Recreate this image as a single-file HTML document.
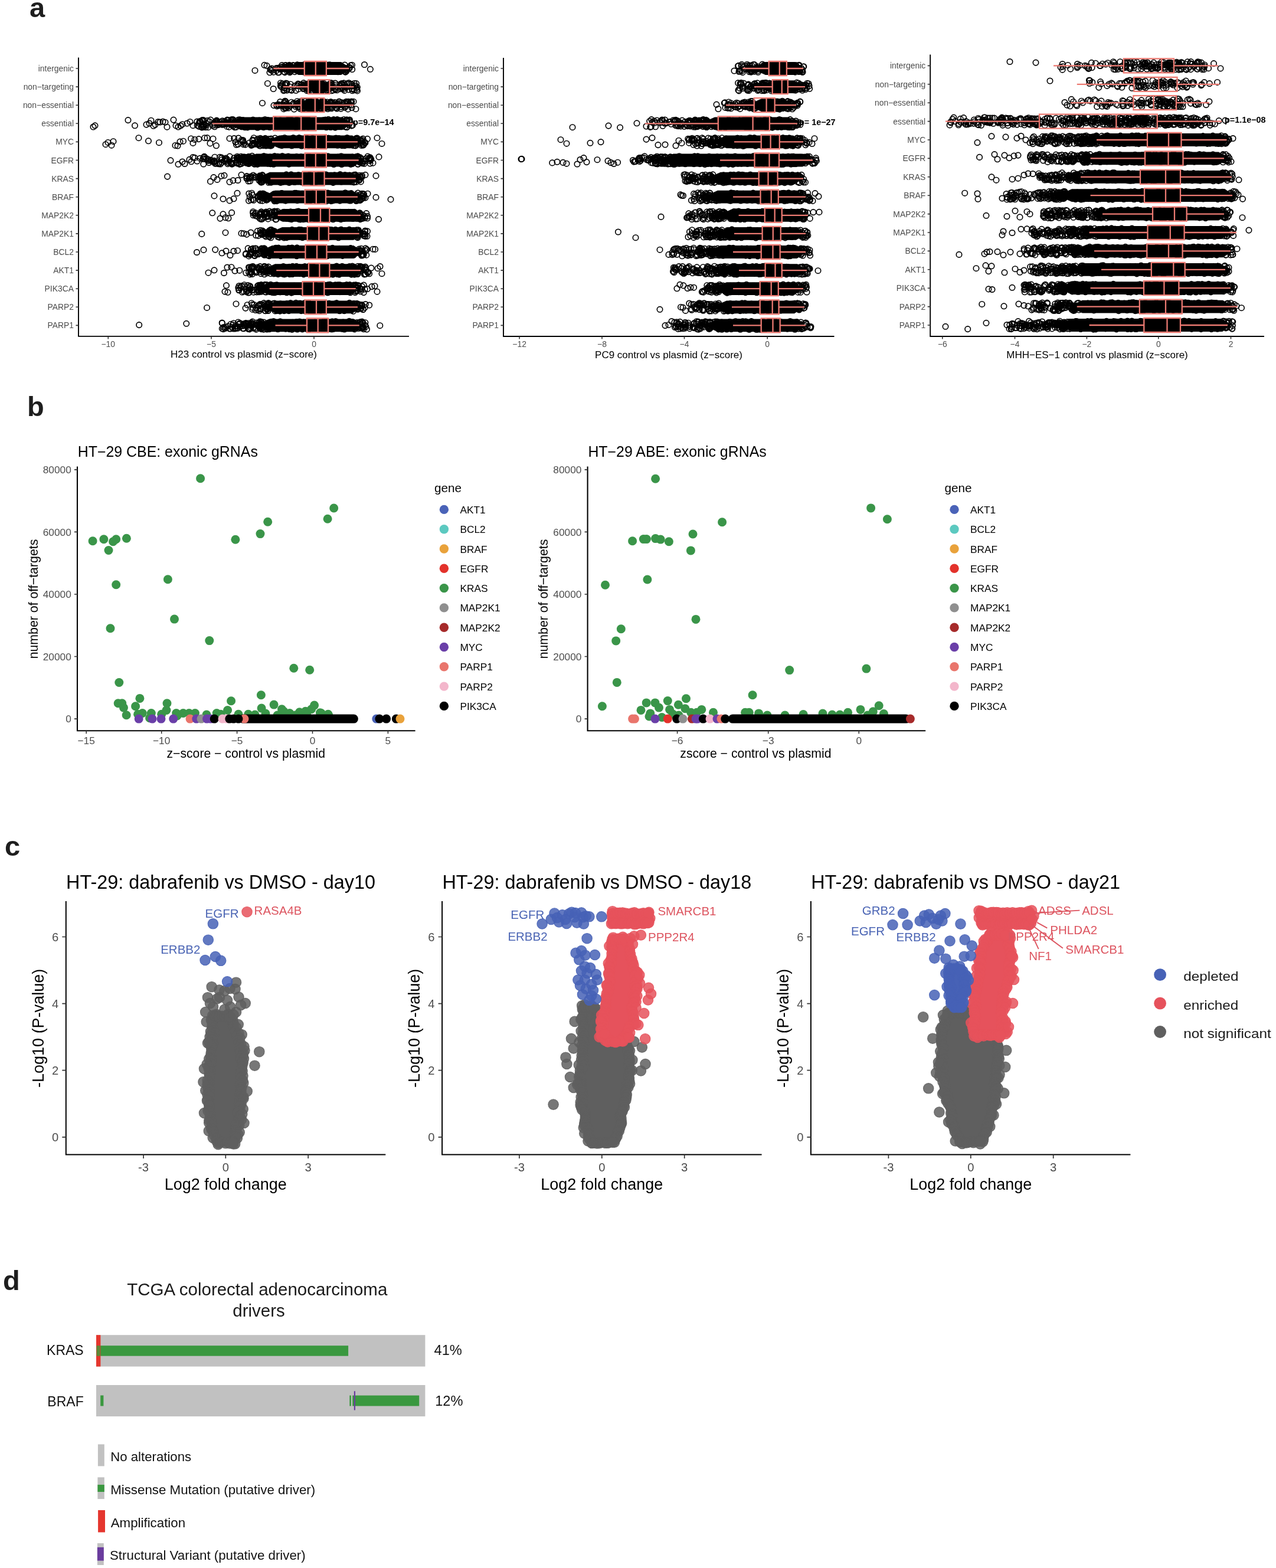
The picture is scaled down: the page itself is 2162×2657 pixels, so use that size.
<!DOCTYPE html>
<html><head><meta charset="utf-8"><title>Figure</title>
<style>
html,body{margin:0;padding:0;background:#fff;}
svg{display:block;font-family:'Liberation Sans', Arial, Helvetica, sans-serif;}
</style></head><body>
<svg width="2162" height="2657" viewBox="0 0 2162 2657" font-family="Liberation Sans, Arial, Helvetica, sans-serif">
<rect width="2162" height="2657" fill="#fff"/>
<text x="598" y="211.9" font-size="14.4" font-weight="bold" fill="#000">p=9.7e−14</text>
<path d="M490 112.2L506 105.1H578L588 111.6V120.4L578 126.9H506L490 119.8ZM524 143.3L532 136.2H548L556 142.7V151.5L548 158H532L524 150.9ZM511 174.4L520.2 167.3H538.8L548 173.8V182.6L538.8 189.1H520.2L511 182ZM392 205.5L408 198.4H580L590 204.9V213.7L580 220.2H408L392 213.1ZM457 236.6L473 229.5H597L607 236V244.8L597 251.3H473L457 244.2ZM418 267.7L434 260.6H599L609 267.1V275.9L599 282.4H434L418 275.3ZM441 298.8L457 291.7H593L603 298.2V307L593 313.5H457L441 306.4ZM450 329.9L466 322.8H596L606 329.3V338.1L596 344.6H466L450 337.5ZM463 361L479 353.9H601L611 360.4V369.2L601 375.7H479L463 368.6ZM462 392.1L478 385H599L609 391.5V400.3L599 406.8H478L462 399.7ZM445 423.2L461 416.1H599L609 422.6V431.4L599 437.9H461L445 430.8ZM450 454.3L466 447.2H602L612 453.7V462.5L602 469H466L450 461.9ZM440 485.4L456 478.3H594L604 484.8V493.6L594 500.1H456L440 493ZM452 516.5L468 509.4H597L607 515.9V524.7L597 531.2H468L452 524.1ZM440 547.6L456 540.5H600L610 547V555.8L600 562.3H456L440 555.2Z" fill="#000"/>
<g fill="none" stroke="#000" stroke-width="1.65"><circle cx="522.4" cy="110.3" r="4.7"/><circle cx="496.5" cy="110.4" r="4.7"/><circle cx="497.5" cy="111.1" r="4.7"/><circle cx="532.8" cy="110.6" r="4.7"/><circle cx="543.8" cy="109.3" r="4.7"/><circle cx="503.6" cy="109.7" r="4.7"/><circle cx="546.8" cy="109.9" r="4.7"/><circle cx="529.3" cy="111.1" r="4.7"/><circle cx="572.7" cy="121.8" r="4.7"/><circle cx="542.8" cy="122.1" r="4.7"/><circle cx="556.1" cy="109.9" r="4.7"/><circle cx="552.1" cy="121" r="4.7"/><circle cx="558.9" cy="109.8" r="4.7"/><circle cx="538.7" cy="122.6" r="4.7"/><circle cx="535.8" cy="121.6" r="4.7"/><circle cx="515.4" cy="109.6" r="4.7"/><circle cx="514.9" cy="122" r="4.7"/><circle cx="574.3" cy="121.5" r="4.7"/><circle cx="584.1" cy="110" r="4.7"/><circle cx="507.5" cy="121.1" r="4.7"/><circle cx="538" cy="109" r="4.7"/><circle cx="499.3" cy="121.6" r="4.7"/><circle cx="524.9" cy="122.1" r="4.7"/><circle cx="534.9" cy="109" r="4.7"/><circle cx="536.6" cy="111.1" r="4.7"/><circle cx="557.9" cy="121.5" r="4.7"/><circle cx="528.3" cy="120.9" r="4.7"/><circle cx="535.4" cy="109.8" r="4.7"/><circle cx="538.4" cy="109.4" r="4.7"/><circle cx="504.2" cy="110.3" r="4.7"/><circle cx="460.5" cy="116" r="4.7"/><circle cx="491.5" cy="114.6" r="4.7"/><circle cx="489.2" cy="111" r="4.7"/><circle cx="484.7" cy="116.7" r="4.7"/><circle cx="472.7" cy="122.7" r="4.7"/><circle cx="473.9" cy="114.4" r="4.7"/><circle cx="490.3" cy="110.2" r="4.7"/><circle cx="491.7" cy="118.2" r="4.7"/><circle cx="493" cy="120.6" r="4.7"/><circle cx="491.2" cy="113" r="4.7"/><circle cx="491.8" cy="116.5" r="4.7"/><circle cx="477.4" cy="113.5" r="4.7"/><circle cx="492.1" cy="121" r="4.7"/><circle cx="458.3" cy="118.1" r="4.7"/><circle cx="470.9" cy="115.4" r="4.7"/><circle cx="463.4" cy="122.2" r="4.7"/><circle cx="474" cy="116.8" r="4.7"/><circle cx="485.8" cy="114.5" r="4.7"/><circle cx="482.8" cy="114.6" r="4.7"/><circle cx="491.1" cy="122.7" r="4.7"/><circle cx="484.3" cy="110.6" r="4.7"/><circle cx="477.8" cy="110.5" r="4.7"/><circle cx="479.3" cy="116.5" r="4.7"/><circle cx="458.4" cy="117.6" r="4.7"/><circle cx="492.7" cy="112" r="4.7"/><circle cx="486.5" cy="117.9" r="4.7"/><circle cx="458" cy="117.4" r="4.7"/><circle cx="483.1" cy="110.7" r="4.7"/><circle cx="482.6" cy="122.6" r="4.7"/><circle cx="482.8" cy="113.4" r="4.7"/><circle cx="491.8" cy="119.4" r="4.7"/><circle cx="470.9" cy="115.7" r="4.7"/><circle cx="473.4" cy="116.2" r="4.7"/><circle cx="490.8" cy="122.2" r="4.7"/><circle cx="486.9" cy="118.6" r="4.7"/><circle cx="460.7" cy="119.6" r="4.7"/><circle cx="488.7" cy="118" r="4.7"/><circle cx="492.5" cy="120.8" r="4.7"/><circle cx="481.4" cy="121.6" r="4.7"/><circle cx="487.1" cy="112.2" r="4.7"/><circle cx="480.4" cy="116" r="4.7"/><circle cx="476.2" cy="117.6" r="4.7"/><circle cx="468.2" cy="119.6" r="4.7"/><circle cx="491" cy="112.4" r="4.7"/><circle cx="485.7" cy="120.2" r="4.7"/><circle cx="490.9" cy="115.9" r="4.7"/><circle cx="471.4" cy="122.8" r="4.7"/><circle cx="468.1" cy="115.6" r="4.7"/><circle cx="585.9" cy="117.5" r="4.7"/><circle cx="587.2" cy="120.3" r="4.7"/><circle cx="592.1" cy="113.9" r="4.7"/><circle cx="596.5" cy="110.2" r="4.7"/><circle cx="585.3" cy="115.6" r="4.7"/><circle cx="587.1" cy="115.8" r="4.7"/><circle cx="596.7" cy="117.5" r="4.7"/><circle cx="585" cy="121.6" r="4.7"/><circle cx="587.2" cy="118" r="4.7"/><circle cx="594" cy="110.8" r="4.7"/><circle cx="587.6" cy="118.9" r="4.7"/><circle cx="585.9" cy="121.4" r="4.7"/><circle cx="588.2" cy="117.9" r="4.7"/><circle cx="585.2" cy="122.2" r="4.7"/><circle cx="592.1" cy="115.5" r="4.7"/><circle cx="432" cy="119.4" r="4.7"/><circle cx="448" cy="110.3" r="4.7"/><circle cx="452" cy="111.3" r="4.7"/><circle cx="457" cy="122.8" r="4.7"/><circle cx="617.5" cy="109.5" r="4.7"/><circle cx="627.4" cy="117.3" r="4.7"/><circle cx="539" cy="140.9" r="4.7"/><circle cx="542.7" cy="153.4" r="4.7"/><circle cx="535.8" cy="142.3" r="4.7"/><circle cx="548.4" cy="141.1" r="4.7"/><circle cx="552.1" cy="154.2" r="4.7"/><circle cx="531.5" cy="142.2" r="4.7"/><circle cx="532" cy="140.5" r="4.7"/><circle cx="535.1" cy="153.8" r="4.7"/><circle cx="527.7" cy="154" r="4.7"/><circle cx="544.5" cy="153.8" r="4.7"/><circle cx="485.8" cy="142" r="4.7"/><circle cx="525.3" cy="147.2" r="4.7"/><circle cx="486.3" cy="150.9" r="4.7"/><circle cx="505.7" cy="150.9" r="4.7"/><circle cx="525.3" cy="142.2" r="4.7"/><circle cx="505.1" cy="141.9" r="4.7"/><circle cx="526.7" cy="149.6" r="4.7"/><circle cx="510.4" cy="146.9" r="4.7"/><circle cx="494" cy="152.4" r="4.7"/><circle cx="526.7" cy="142.8" r="4.7"/><circle cx="526.8" cy="141.5" r="4.7"/><circle cx="514.5" cy="140.6" r="4.7"/><circle cx="484.5" cy="141.1" r="4.7"/><circle cx="520.1" cy="153.6" r="4.7"/><circle cx="505.9" cy="143" r="4.7"/><circle cx="521.8" cy="147.2" r="4.7"/><circle cx="491.6" cy="147.2" r="4.7"/><circle cx="522.8" cy="147.4" r="4.7"/><circle cx="486" cy="153" r="4.7"/><circle cx="482" cy="152.5" r="4.7"/><circle cx="524.1" cy="146.4" r="4.7"/><circle cx="516.2" cy="145.6" r="4.7"/><circle cx="520.5" cy="149.5" r="4.7"/><circle cx="515.7" cy="143.1" r="4.7"/><circle cx="520.9" cy="141.9" r="4.7"/><circle cx="494" cy="153.2" r="4.7"/><circle cx="503.5" cy="145.3" r="4.7"/><circle cx="522.6" cy="142.1" r="4.7"/><circle cx="513.8" cy="150.5" r="4.7"/><circle cx="526.3" cy="152.4" r="4.7"/><circle cx="525" cy="149.4" r="4.7"/><circle cx="523.5" cy="149.9" r="4.7"/><circle cx="475.6" cy="145.8" r="4.7"/><circle cx="516" cy="145.1" r="4.7"/><circle cx="526.3" cy="145.3" r="4.7"/><circle cx="519.6" cy="146.5" r="4.7"/><circle cx="499.4" cy="145.5" r="4.7"/><circle cx="511.1" cy="144.3" r="4.7"/><circle cx="478.6" cy="141.8" r="4.7"/><circle cx="482.4" cy="143.4" r="4.7"/><circle cx="486" cy="141.4" r="4.7"/><circle cx="522" cy="152.7" r="4.7"/><circle cx="524.6" cy="150.6" r="4.7"/><circle cx="490.6" cy="151.9" r="4.7"/><circle cx="501.3" cy="153.3" r="4.7"/><circle cx="516.7" cy="147.6" r="4.7"/><circle cx="511.3" cy="147" r="4.7"/><circle cx="520" cy="144.1" r="4.7"/><circle cx="492.2" cy="142.7" r="4.7"/><circle cx="484.4" cy="143.9" r="4.7"/><circle cx="527" cy="141.4" r="4.7"/><circle cx="522.4" cy="148.6" r="4.7"/><circle cx="523.5" cy="143.8" r="4.7"/><circle cx="525.8" cy="140.4" r="4.7"/><circle cx="475.5" cy="146" r="4.7"/><circle cx="482.6" cy="148.8" r="4.7"/><circle cx="526.8" cy="150" r="4.7"/><circle cx="480.6" cy="153.6" r="4.7"/><circle cx="522.3" cy="142.7" r="4.7"/><circle cx="481.2" cy="148.9" r="4.7"/><circle cx="510.4" cy="143" r="4.7"/><circle cx="514.9" cy="149.5" r="4.7"/><circle cx="522.1" cy="151.3" r="4.7"/><circle cx="475.5" cy="140.7" r="4.7"/><circle cx="527" cy="147.2" r="4.7"/><circle cx="477" cy="147.3" r="4.7"/><circle cx="558.6" cy="146.4" r="4.7"/><circle cx="580.2" cy="149.2" r="4.7"/><circle cx="580" cy="147.7" r="4.7"/><circle cx="596.9" cy="153.6" r="4.7"/><circle cx="561" cy="143.2" r="4.7"/><circle cx="558" cy="142.9" r="4.7"/><circle cx="596.3" cy="150.3" r="4.7"/><circle cx="555.3" cy="153.9" r="4.7"/><circle cx="604.5" cy="151.8" r="4.7"/><circle cx="553.1" cy="148.8" r="4.7"/><circle cx="596.2" cy="146.1" r="4.7"/><circle cx="553.5" cy="149.4" r="4.7"/><circle cx="564.3" cy="147.2" r="4.7"/><circle cx="603.6" cy="148.5" r="4.7"/><circle cx="582.5" cy="140.8" r="4.7"/><circle cx="556.6" cy="143.9" r="4.7"/><circle cx="553" cy="145.2" r="4.7"/><circle cx="561.9" cy="153.8" r="4.7"/><circle cx="561.7" cy="140.7" r="4.7"/><circle cx="596.4" cy="143.2" r="4.7"/><circle cx="556.5" cy="144.8" r="4.7"/><circle cx="554" cy="144" r="4.7"/><circle cx="580" cy="143.6" r="4.7"/><circle cx="588.3" cy="141.5" r="4.7"/><circle cx="591.4" cy="142.2" r="4.7"/><circle cx="575.6" cy="145.6" r="4.7"/><circle cx="560.7" cy="148.9" r="4.7"/><circle cx="554" cy="153.4" r="4.7"/><circle cx="594.1" cy="142.3" r="4.7"/><circle cx="597.2" cy="151" r="4.7"/><circle cx="576.2" cy="150.7" r="4.7"/><circle cx="584.4" cy="147" r="4.7"/><circle cx="560.1" cy="148.7" r="4.7"/><circle cx="555.4" cy="151.6" r="4.7"/><circle cx="584" cy="147.3" r="4.7"/><circle cx="566.7" cy="149.9" r="4.7"/><circle cx="570.8" cy="152.8" r="4.7"/><circle cx="586.7" cy="148" r="4.7"/><circle cx="591" cy="140.4" r="4.7"/><circle cx="582" cy="151.2" r="4.7"/><circle cx="583.7" cy="153.4" r="4.7"/><circle cx="579.1" cy="141.4" r="4.7"/><circle cx="553.3" cy="149" r="4.7"/><circle cx="602.6" cy="145.4" r="4.7"/><circle cx="567.8" cy="140.9" r="4.7"/><circle cx="553.1" cy="147.5" r="4.7"/><circle cx="558.6" cy="143.8" r="4.7"/><circle cx="568.1" cy="141.2" r="4.7"/><circle cx="600.4" cy="152.6" r="4.7"/><circle cx="554.2" cy="147.5" r="4.7"/><circle cx="586.1" cy="146.7" r="4.7"/><circle cx="590.8" cy="151.9" r="4.7"/><circle cx="558.2" cy="150.6" r="4.7"/><circle cx="558.1" cy="149.2" r="4.7"/><circle cx="568.3" cy="151.9" r="4.7"/><circle cx="553.9" cy="152.8" r="4.7"/><circle cx="560.2" cy="140.8" r="4.7"/><circle cx="578.5" cy="142.9" r="4.7"/><circle cx="576.4" cy="144.8" r="4.7"/><circle cx="579.7" cy="149.8" r="4.7"/><circle cx="577.7" cy="142" r="4.7"/><circle cx="569.5" cy="146.9" r="4.7"/><circle cx="603.7" cy="141.6" r="4.7"/><circle cx="557.6" cy="147" r="4.7"/><circle cx="583.6" cy="144.1" r="4.7"/><circle cx="568.6" cy="150.8" r="4.7"/><circle cx="605.4" cy="147.8" r="4.7"/><circle cx="561.2" cy="141.4" r="4.7"/><circle cx="569" cy="144.2" r="4.7"/><circle cx="553.9" cy="147.2" r="4.7"/><circle cx="605.5" cy="153.9" r="4.7"/><circle cx="564.6" cy="152.8" r="4.7"/><circle cx="600.2" cy="141.2" r="4.7"/><circle cx="453.4" cy="141.4" r="4.7"/><circle cx="463.2" cy="150.5" r="4.7"/><circle cx="476.4" cy="143.8" r="4.7"/><circle cx="601" cy="145.2" r="4.7"/><circle cx="532.9" cy="185" r="4.7"/><circle cx="536.2" cy="172.3" r="4.7"/><circle cx="541.9" cy="183.1" r="4.7"/><circle cx="513.1" cy="184.6" r="4.7"/><circle cx="526.4" cy="172.4" r="4.7"/><circle cx="525.4" cy="171.5" r="4.7"/><circle cx="513.1" cy="184.9" r="4.7"/><circle cx="517" cy="171.8" r="4.7"/><circle cx="542.8" cy="183.6" r="4.7"/><circle cx="515.1" cy="185.3" r="4.7"/><circle cx="532.4" cy="185.1" r="4.7"/><circle cx="485" cy="183.1" r="4.7"/><circle cx="509.1" cy="172" r="4.7"/><circle cx="491.2" cy="180.1" r="4.7"/><circle cx="512.4" cy="184.7" r="4.7"/><circle cx="503.2" cy="175.7" r="4.7"/><circle cx="483.8" cy="182.1" r="4.7"/><circle cx="503.6" cy="171.7" r="4.7"/><circle cx="484.6" cy="176.8" r="4.7"/><circle cx="476.2" cy="178.9" r="4.7"/><circle cx="511.3" cy="172.4" r="4.7"/><circle cx="471.6" cy="177" r="4.7"/><circle cx="494" cy="173.2" r="4.7"/><circle cx="476.7" cy="178" r="4.7"/><circle cx="473.3" cy="178.9" r="4.7"/><circle cx="512" cy="177" r="4.7"/><circle cx="509.1" cy="174.8" r="4.7"/><circle cx="486.2" cy="180.3" r="4.7"/><circle cx="504.5" cy="174.6" r="4.7"/><circle cx="501" cy="180.5" r="4.7"/><circle cx="512.9" cy="180.2" r="4.7"/><circle cx="513.5" cy="178.2" r="4.7"/><circle cx="481" cy="178.9" r="4.7"/><circle cx="502.5" cy="175.9" r="4.7"/><circle cx="484.8" cy="177.2" r="4.7"/><circle cx="497.8" cy="174.7" r="4.7"/><circle cx="511.9" cy="179" r="4.7"/><circle cx="507.9" cy="176.4" r="4.7"/><circle cx="481.2" cy="174.1" r="4.7"/><circle cx="514" cy="183.3" r="4.7"/><circle cx="505.5" cy="181.6" r="4.7"/><circle cx="511.1" cy="175" r="4.7"/><circle cx="485.3" cy="178.2" r="4.7"/><circle cx="496.3" cy="176.3" r="4.7"/><circle cx="489.6" cy="178.6" r="4.7"/><circle cx="482.6" cy="183" r="4.7"/><circle cx="513.3" cy="183.7" r="4.7"/><circle cx="505.4" cy="180.2" r="4.7"/><circle cx="503.4" cy="175.6" r="4.7"/><circle cx="480.8" cy="184.7" r="4.7"/><circle cx="512.8" cy="177.2" r="4.7"/><circle cx="484.5" cy="182.4" r="4.7"/><circle cx="468.7" cy="178.1" r="4.7"/><circle cx="513.6" cy="184.1" r="4.7"/><circle cx="472" cy="178.6" r="4.7"/><circle cx="501.8" cy="177.5" r="4.7"/><circle cx="483.1" cy="174.4" r="4.7"/><circle cx="512.4" cy="184.7" r="4.7"/><circle cx="513.1" cy="182.7" r="4.7"/><circle cx="488.7" cy="183" r="4.7"/><circle cx="474.7" cy="172.5" r="4.7"/><circle cx="483.5" cy="171.3" r="4.7"/><circle cx="512.9" cy="179.2" r="4.7"/><circle cx="513.9" cy="181.2" r="4.7"/><circle cx="469.2" cy="179.9" r="4.7"/><circle cx="498.8" cy="177.3" r="4.7"/><circle cx="484.4" cy="172.7" r="4.7"/><circle cx="508.5" cy="184.3" r="4.7"/><circle cx="511.5" cy="174.9" r="4.7"/><circle cx="482.6" cy="171.3" r="4.7"/><circle cx="498.3" cy="185" r="4.7"/><circle cx="509.2" cy="175.7" r="4.7"/><circle cx="589.6" cy="174.6" r="4.7"/><circle cx="566.1" cy="178.8" r="4.7"/><circle cx="545.2" cy="177" r="4.7"/><circle cx="574.6" cy="172.1" r="4.7"/><circle cx="549.3" cy="183.5" r="4.7"/><circle cx="574.4" cy="172.4" r="4.7"/><circle cx="550.5" cy="177.2" r="4.7"/><circle cx="557" cy="178.1" r="4.7"/><circle cx="578" cy="181.2" r="4.7"/><circle cx="556.6" cy="176.8" r="4.7"/><circle cx="545" cy="175.3" r="4.7"/><circle cx="590.1" cy="172.2" r="4.7"/><circle cx="564.2" cy="174.1" r="4.7"/><circle cx="583.5" cy="174" r="4.7"/><circle cx="562.3" cy="175" r="4.7"/><circle cx="593.9" cy="172.8" r="4.7"/><circle cx="572.7" cy="179.7" r="4.7"/><circle cx="594.5" cy="178" r="4.7"/><circle cx="595.8" cy="172.1" r="4.7"/><circle cx="570.7" cy="184" r="4.7"/><circle cx="545.6" cy="171.6" r="4.7"/><circle cx="570.8" cy="177" r="4.7"/><circle cx="579.1" cy="173.8" r="4.7"/><circle cx="561.4" cy="181.1" r="4.7"/><circle cx="554.3" cy="172.9" r="4.7"/><circle cx="546" cy="173.6" r="4.7"/><circle cx="549.2" cy="180.3" r="4.7"/><circle cx="566" cy="177.8" r="4.7"/><circle cx="554.1" cy="181.3" r="4.7"/><circle cx="589.6" cy="184.9" r="4.7"/><circle cx="561" cy="172.8" r="4.7"/><circle cx="546" cy="172.4" r="4.7"/><circle cx="559.7" cy="183.5" r="4.7"/><circle cx="568.4" cy="181.8" r="4.7"/><circle cx="557.6" cy="181.9" r="4.7"/><circle cx="554" cy="182.4" r="4.7"/><circle cx="546.2" cy="181" r="4.7"/><circle cx="549.3" cy="178.8" r="4.7"/><circle cx="561.2" cy="175.8" r="4.7"/><circle cx="581.2" cy="177.8" r="4.7"/><circle cx="573.3" cy="174.7" r="4.7"/><circle cx="572.8" cy="176.9" r="4.7"/><circle cx="557.3" cy="177.7" r="4.7"/><circle cx="586.6" cy="172.2" r="4.7"/><circle cx="549.3" cy="172.2" r="4.7"/><circle cx="571.4" cy="176.3" r="4.7"/><circle cx="555.3" cy="184.5" r="4.7"/><circle cx="545.4" cy="181.6" r="4.7"/><circle cx="577.6" cy="184.1" r="4.7"/><circle cx="553.5" cy="181.3" r="4.7"/><circle cx="570.7" cy="182.4" r="4.7"/><circle cx="599" cy="172.2" r="4.7"/><circle cx="588.5" cy="172.8" r="4.7"/><circle cx="579.5" cy="177.7" r="4.7"/><circle cx="584.4" cy="182.2" r="4.7"/><circle cx="596.1" cy="182.5" r="4.7"/><circle cx="547.3" cy="178.2" r="4.7"/><circle cx="545" cy="184.1" r="4.7"/><circle cx="553.7" cy="180.9" r="4.7"/><circle cx="547.9" cy="174.6" r="4.7"/><circle cx="591.5" cy="177.7" r="4.7"/><circle cx="585" cy="179.5" r="4.7"/><circle cx="565.2" cy="176.7" r="4.7"/><circle cx="548.1" cy="176.9" r="4.7"/><circle cx="574.6" cy="177.9" r="4.7"/><circle cx="567.3" cy="173.5" r="4.7"/><circle cx="560.1" cy="172.8" r="4.7"/><circle cx="545.9" cy="179.9" r="4.7"/><circle cx="549.8" cy="177.1" r="4.7"/><circle cx="602.9" cy="184.7" r="4.7"/><circle cx="548.6" cy="173.1" r="4.7"/><circle cx="562.1" cy="183.6" r="4.7"/><circle cx="550.8" cy="178.7" r="4.7"/><circle cx="584.1" cy="181.8" r="4.7"/><circle cx="584.6" cy="175.4" r="4.7"/><circle cx="552.7" cy="175" r="4.7"/><circle cx="551.6" cy="174.9" r="4.7"/><circle cx="560.8" cy="173.9" r="4.7"/><circle cx="550.8" cy="175.2" r="4.7"/><circle cx="595.5" cy="173.9" r="4.7"/><circle cx="545.7" cy="174.8" r="4.7"/><circle cx="444.5" cy="174.7" r="4.7"/><circle cx="464" cy="178.6" r="4.7"/><circle cx="520" cy="203" r="4.7"/><circle cx="586.2" cy="204.5" r="4.7"/><circle cx="565.3" cy="202.6" r="4.7"/><circle cx="571.4" cy="202.5" r="4.7"/><circle cx="439.2" cy="204.1" r="4.7"/><circle cx="582.8" cy="202.4" r="4.7"/><circle cx="466.2" cy="203.5" r="4.7"/><circle cx="444.4" cy="204.3" r="4.7"/><circle cx="509.7" cy="214.6" r="4.7"/><circle cx="465.5" cy="204.4" r="4.7"/><circle cx="588" cy="203.1" r="4.7"/><circle cx="520.4" cy="202.6" r="4.7"/><circle cx="552.9" cy="215.7" r="4.7"/><circle cx="429.9" cy="214.3" r="4.7"/><circle cx="400.1" cy="215.4" r="4.7"/><circle cx="406.3" cy="202.7" r="4.7"/><circle cx="522.8" cy="203" r="4.7"/><circle cx="411.7" cy="203.6" r="4.7"/><circle cx="446.6" cy="215.6" r="4.7"/><circle cx="475.1" cy="203.8" r="4.7"/><circle cx="503.9" cy="215.1" r="4.7"/><circle cx="397.5" cy="215.6" r="4.7"/><circle cx="469.8" cy="214.6" r="4.7"/><circle cx="395.1" cy="203.5" r="4.7"/><circle cx="553.2" cy="215.4" r="4.7"/><circle cx="464.8" cy="204.2" r="4.7"/><circle cx="404" cy="203" r="4.7"/><circle cx="570.5" cy="203.2" r="4.7"/><circle cx="573.9" cy="204.2" r="4.7"/><circle cx="449" cy="202.4" r="4.7"/><circle cx="415.1" cy="215.8" r="4.7"/><circle cx="547.7" cy="203.8" r="4.7"/><circle cx="556.4" cy="202.3" r="4.7"/><circle cx="487.7" cy="203.1" r="4.7"/><circle cx="517.5" cy="202.4" r="4.7"/><circle cx="514.3" cy="203" r="4.7"/><circle cx="560.2" cy="215.5" r="4.7"/><circle cx="432" cy="214.5" r="4.7"/><circle cx="436.3" cy="216.3" r="4.7"/><circle cx="424.4" cy="214.4" r="4.7"/><circle cx="441.9" cy="204.4" r="4.7"/><circle cx="503.1" cy="203" r="4.7"/><circle cx="456.9" cy="215.5" r="4.7"/><circle cx="500.7" cy="215.6" r="4.7"/><circle cx="453.8" cy="203.5" r="4.7"/><circle cx="521.8" cy="215.3" r="4.7"/><circle cx="428.7" cy="203.1" r="4.7"/><circle cx="489" cy="203.5" r="4.7"/><circle cx="514" cy="216" r="4.7"/><circle cx="551.2" cy="214.3" r="4.7"/><circle cx="418.9" cy="214.9" r="4.7"/><circle cx="549.6" cy="204.4" r="4.7"/><circle cx="419.3" cy="215.9" r="4.7"/><circle cx="493.2" cy="202.8" r="4.7"/><circle cx="567.6" cy="204.4" r="4.7"/><circle cx="406.9" cy="204.1" r="4.7"/><circle cx="584.5" cy="214.8" r="4.7"/><circle cx="551.3" cy="202.9" r="4.7"/><circle cx="533.9" cy="204.3" r="4.7"/><circle cx="462.1" cy="214.5" r="4.7"/><circle cx="567.9" cy="216.2" r="4.7"/><circle cx="380" cy="205.9" r="4.7"/><circle cx="337.4" cy="209" r="4.7"/><circle cx="371.1" cy="210.9" r="4.7"/><circle cx="390.4" cy="207.5" r="4.7"/><circle cx="391.6" cy="208" r="4.7"/><circle cx="367.7" cy="206.2" r="4.7"/><circle cx="386.7" cy="207.6" r="4.7"/><circle cx="354.6" cy="206" r="4.7"/><circle cx="356.7" cy="203.1" r="4.7"/><circle cx="348.3" cy="215.7" r="4.7"/><circle cx="380.2" cy="209.6" r="4.7"/><circle cx="363.6" cy="214.8" r="4.7"/><circle cx="389.9" cy="209.8" r="4.7"/><circle cx="348.5" cy="212.6" r="4.7"/><circle cx="384.7" cy="207.6" r="4.7"/><circle cx="384.8" cy="204.4" r="4.7"/><circle cx="386.6" cy="203.5" r="4.7"/><circle cx="390.6" cy="210.9" r="4.7"/><circle cx="338.1" cy="206.5" r="4.7"/><circle cx="376.3" cy="206.7" r="4.7"/><circle cx="337.2" cy="214.4" r="4.7"/><circle cx="341.2" cy="214.8" r="4.7"/><circle cx="359.8" cy="212.7" r="4.7"/><circle cx="390.9" cy="206.4" r="4.7"/><circle cx="368.6" cy="208.2" r="4.7"/><circle cx="385" cy="203.1" r="4.7"/><circle cx="378.1" cy="210.9" r="4.7"/><circle cx="394.8" cy="203.2" r="4.7"/><circle cx="372.8" cy="206.6" r="4.7"/><circle cx="375.8" cy="209.8" r="4.7"/><circle cx="382.5" cy="206.6" r="4.7"/><circle cx="393.4" cy="207.5" r="4.7"/><circle cx="351.2" cy="204.6" r="4.7"/><circle cx="395" cy="213.5" r="4.7"/><circle cx="362" cy="208.6" r="4.7"/><circle cx="394.6" cy="204.4" r="4.7"/><circle cx="365.5" cy="206.1" r="4.7"/><circle cx="352.8" cy="215.7" r="4.7"/><circle cx="394.7" cy="213.7" r="4.7"/><circle cx="344.9" cy="210.6" r="4.7"/><circle cx="372" cy="210.7" r="4.7"/><circle cx="376.2" cy="209.2" r="4.7"/><circle cx="392.6" cy="202.4" r="4.7"/><circle cx="394.6" cy="202.7" r="4.7"/><circle cx="392" cy="204.6" r="4.7"/><circle cx="342.9" cy="203.8" r="4.7"/><circle cx="369.5" cy="211.5" r="4.7"/><circle cx="391.7" cy="208.1" r="4.7"/><circle cx="376.2" cy="211.3" r="4.7"/><circle cx="366.9" cy="208.1" r="4.7"/><circle cx="369.5" cy="209.4" r="4.7"/><circle cx="394.6" cy="211" r="4.7"/><circle cx="334.2" cy="212.4" r="4.7"/><circle cx="378.7" cy="209.8" r="4.7"/><circle cx="384.5" cy="208.4" r="4.7"/><circle cx="342.9" cy="203.5" r="4.7"/><circle cx="366.2" cy="204.8" r="4.7"/><circle cx="333.9" cy="206" r="4.7"/><circle cx="367.1" cy="204.1" r="4.7"/><circle cx="345" cy="215.2" r="4.7"/><circle cx="339.7" cy="206" r="4.7"/><circle cx="394.7" cy="211.2" r="4.7"/><circle cx="364.3" cy="211.9" r="4.7"/><circle cx="342.4" cy="215.8" r="4.7"/><circle cx="388.1" cy="215.2" r="4.7"/><circle cx="344.7" cy="203.6" r="4.7"/><circle cx="376.9" cy="204.7" r="4.7"/><circle cx="343.6" cy="214" r="4.7"/><circle cx="391.5" cy="204.6" r="4.7"/><circle cx="342.6" cy="205" r="4.7"/><circle cx="383.8" cy="210.7" r="4.7"/><circle cx="384.3" cy="214.2" r="4.7"/><circle cx="341.9" cy="215.9" r="4.7"/><circle cx="349.9" cy="209.8" r="4.7"/><circle cx="379.1" cy="209.7" r="4.7"/><circle cx="395" cy="202.8" r="4.7"/><circle cx="338.3" cy="205.6" r="4.7"/><circle cx="345.7" cy="213.3" r="4.7"/><circle cx="383.6" cy="210.5" r="4.7"/><circle cx="591.4" cy="204.8" r="4.7"/><circle cx="587" cy="203.9" r="4.7"/><circle cx="592.1" cy="204.6" r="4.7"/><circle cx="597.6" cy="212.1" r="4.7"/><circle cx="587" cy="204.3" r="4.7"/><circle cx="592.4" cy="203" r="4.7"/><circle cx="587.1" cy="203" r="4.7"/><circle cx="595.6" cy="212.9" r="4.7"/><circle cx="587.8" cy="215.6" r="4.7"/><circle cx="591" cy="211.6" r="4.7"/><circle cx="596" cy="212.8" r="4.7"/><circle cx="593.4" cy="207.7" r="4.7"/><circle cx="588.2" cy="205.2" r="4.7"/><circle cx="587" cy="215.5" r="4.7"/><circle cx="158" cy="215" r="4.7"/><circle cx="161" cy="212.8" r="4.7"/><circle cx="217" cy="203.6" r="4.7"/><circle cx="228.5" cy="212.8" r="4.7"/><circle cx="248" cy="211.1" r="4.7"/><circle cx="253" cy="209" r="4.7"/><circle cx="256" cy="204.2" r="4.7"/><circle cx="260" cy="213.3" r="4.7"/><circle cx="263" cy="211.3" r="4.7"/><circle cx="268" cy="206.5" r="4.7"/><circle cx="271" cy="207" r="4.7"/><circle cx="276" cy="206" r="4.7"/><circle cx="280" cy="207.2" r="4.7"/><circle cx="283" cy="215.2" r="4.7"/><circle cx="294" cy="203.1" r="4.7"/><circle cx="298" cy="212.9" r="4.7"/><circle cx="302" cy="215" r="4.7"/><circle cx="306" cy="213" r="4.7"/><circle cx="309" cy="210.7" r="4.7"/><circle cx="317" cy="209" r="4.7"/><circle cx="322" cy="206.4" r="4.7"/><circle cx="327" cy="212.7" r="4.7"/><circle cx="574.2" cy="234.6" r="4.7"/><circle cx="571.9" cy="246.3" r="4.7"/><circle cx="466" cy="234" r="4.7"/><circle cx="579.9" cy="245.6" r="4.7"/><circle cx="459.2" cy="234.9" r="4.7"/><circle cx="568.6" cy="235.6" r="4.7"/><circle cx="530.7" cy="246.8" r="4.7"/><circle cx="579.5" cy="246.6" r="4.7"/><circle cx="598.8" cy="246.5" r="4.7"/><circle cx="482.2" cy="233.4" r="4.7"/><circle cx="492.8" cy="235.3" r="4.7"/><circle cx="551.9" cy="234.5" r="4.7"/><circle cx="603.7" cy="234.2" r="4.7"/><circle cx="510.9" cy="247.3" r="4.7"/><circle cx="589.2" cy="234.6" r="4.7"/><circle cx="553.3" cy="245.7" r="4.7"/><circle cx="497.4" cy="234.7" r="4.7"/><circle cx="588.1" cy="233.4" r="4.7"/><circle cx="477.5" cy="234.8" r="4.7"/><circle cx="506.7" cy="233.6" r="4.7"/><circle cx="524.7" cy="245.6" r="4.7"/><circle cx="523.1" cy="246.5" r="4.7"/><circle cx="477.4" cy="246.7" r="4.7"/><circle cx="560.7" cy="235" r="4.7"/><circle cx="569.2" cy="233.9" r="4.7"/><circle cx="601.3" cy="246.6" r="4.7"/><circle cx="509.9" cy="234.8" r="4.7"/><circle cx="486.6" cy="235.2" r="4.7"/><circle cx="555.1" cy="234.7" r="4.7"/><circle cx="602.6" cy="246.9" r="4.7"/><circle cx="522.5" cy="235.3" r="4.7"/><circle cx="592.1" cy="245.7" r="4.7"/><circle cx="515.7" cy="235.6" r="4.7"/><circle cx="583.7" cy="246.8" r="4.7"/><circle cx="532.1" cy="246.3" r="4.7"/><circle cx="479.7" cy="245.2" r="4.7"/><circle cx="494.4" cy="246.8" r="4.7"/><circle cx="544.8" cy="247.1" r="4.7"/><circle cx="556.5" cy="234" r="4.7"/><circle cx="552.7" cy="246.2" r="4.7"/><circle cx="496.9" cy="233.5" r="4.7"/><circle cx="494.4" cy="246.8" r="4.7"/><circle cx="550.9" cy="247.2" r="4.7"/><circle cx="529.5" cy="234.2" r="4.7"/><circle cx="518.8" cy="233.5" r="4.7"/><circle cx="506.9" cy="234.7" r="4.7"/><circle cx="441.2" cy="246.9" r="4.7"/><circle cx="459.8" cy="241" r="4.7"/><circle cx="457.5" cy="244.3" r="4.7"/><circle cx="399.1" cy="240.7" r="4.7"/><circle cx="458.9" cy="241.4" r="4.7"/><circle cx="437.5" cy="243.4" r="4.7"/><circle cx="439.6" cy="242.3" r="4.7"/><circle cx="411.5" cy="240.7" r="4.7"/><circle cx="446.3" cy="246.6" r="4.7"/><circle cx="455.9" cy="242.9" r="4.7"/><circle cx="447.4" cy="244" r="4.7"/><circle cx="458.4" cy="247.1" r="4.7"/><circle cx="449.4" cy="234.3" r="4.7"/><circle cx="453.4" cy="239" r="4.7"/><circle cx="460" cy="239.3" r="4.7"/><circle cx="445.7" cy="243.1" r="4.7"/><circle cx="449.6" cy="237.2" r="4.7"/><circle cx="455.4" cy="243.7" r="4.7"/><circle cx="399.2" cy="240.8" r="4.7"/><circle cx="455.6" cy="244.6" r="4.7"/><circle cx="447.4" cy="236.4" r="4.7"/><circle cx="458.3" cy="244.2" r="4.7"/><circle cx="413.5" cy="242.3" r="4.7"/><circle cx="442.6" cy="241.3" r="4.7"/><circle cx="455.3" cy="246.8" r="4.7"/><circle cx="449.6" cy="242.3" r="4.7"/><circle cx="412.6" cy="244.8" r="4.7"/><circle cx="442.7" cy="237.6" r="4.7"/><circle cx="436.9" cy="235.2" r="4.7"/><circle cx="411" cy="238.4" r="4.7"/><circle cx="409.2" cy="237.2" r="4.7"/><circle cx="448.3" cy="237" r="4.7"/><circle cx="445.4" cy="236.1" r="4.7"/><circle cx="460" cy="243.5" r="4.7"/><circle cx="453.1" cy="236.9" r="4.7"/><circle cx="452.1" cy="240.1" r="4.7"/><circle cx="445.2" cy="242.3" r="4.7"/><circle cx="427.9" cy="238.5" r="4.7"/><circle cx="400.5" cy="245.3" r="4.7"/><circle cx="459.6" cy="244.9" r="4.7"/><circle cx="403.1" cy="244.3" r="4.7"/><circle cx="458" cy="245" r="4.7"/><circle cx="430.1" cy="233.7" r="4.7"/><circle cx="460" cy="246.6" r="4.7"/><circle cx="428.2" cy="237" r="4.7"/><circle cx="458.9" cy="235.5" r="4.7"/><circle cx="455" cy="244.2" r="4.7"/><circle cx="449.9" cy="235.6" r="4.7"/><circle cx="403.3" cy="244.4" r="4.7"/><circle cx="457.3" cy="245.8" r="4.7"/><circle cx="432.2" cy="244.3" r="4.7"/><circle cx="427.1" cy="245.8" r="4.7"/><circle cx="415.7" cy="245.1" r="4.7"/><circle cx="456.3" cy="243.1" r="4.7"/><circle cx="438.3" cy="243.7" r="4.7"/><circle cx="444.6" cy="245.7" r="4.7"/><circle cx="436.4" cy="237.2" r="4.7"/><circle cx="455" cy="235.4" r="4.7"/><circle cx="441" cy="234.3" r="4.7"/><circle cx="442.7" cy="235.5" r="4.7"/><circle cx="441.1" cy="240.4" r="4.7"/><circle cx="437.6" cy="245.4" r="4.7"/><circle cx="460" cy="245.1" r="4.7"/><circle cx="442.7" cy="241.3" r="4.7"/><circle cx="427.3" cy="245.1" r="4.7"/><circle cx="448.4" cy="239.3" r="4.7"/><circle cx="396.7" cy="234.5" r="4.7"/><circle cx="429.8" cy="242.3" r="4.7"/><circle cx="459.9" cy="241.9" r="4.7"/><circle cx="425.8" cy="246.4" r="4.7"/><circle cx="450.7" cy="247" r="4.7"/><circle cx="439.7" cy="240.2" r="4.7"/><circle cx="404" cy="234" r="4.7"/><circle cx="422.5" cy="242.1" r="4.7"/><circle cx="450.3" cy="245.4" r="4.7"/><circle cx="448.9" cy="240" r="4.7"/><circle cx="438.6" cy="244.1" r="4.7"/><circle cx="455.9" cy="239.5" r="4.7"/><circle cx="445.6" cy="241.1" r="4.7"/><circle cx="411.7" cy="237.5" r="4.7"/><circle cx="411.6" cy="239.1" r="4.7"/><circle cx="440.2" cy="237.2" r="4.7"/><circle cx="440" cy="247" r="4.7"/><circle cx="428.3" cy="244.4" r="4.7"/><circle cx="450.7" cy="237.9" r="4.7"/><circle cx="452.3" cy="241.6" r="4.7"/><circle cx="430" cy="244.3" r="4.7"/><circle cx="604.1" cy="243.5" r="4.7"/><circle cx="618" cy="241" r="4.7"/><circle cx="604.1" cy="237.6" r="4.7"/><circle cx="604" cy="236.1" r="4.7"/><circle cx="618.9" cy="241.9" r="4.7"/><circle cx="612.7" cy="244.4" r="4.7"/><circle cx="618.6" cy="241.9" r="4.7"/><circle cx="611.8" cy="242.2" r="4.7"/><circle cx="613.5" cy="241.7" r="4.7"/><circle cx="613.2" cy="236.4" r="4.7"/><circle cx="612.9" cy="239.8" r="4.7"/><circle cx="615" cy="234.9" r="4.7"/><circle cx="605.1" cy="234" r="4.7"/><circle cx="615.3" cy="246.1" r="4.7"/><circle cx="612.7" cy="238.6" r="4.7"/><circle cx="616.4" cy="244.4" r="4.7"/><circle cx="610.8" cy="237.1" r="4.7"/><circle cx="606.5" cy="239.3" r="4.7"/><circle cx="606.7" cy="239.4" r="4.7"/><circle cx="612.4" cy="246.4" r="4.7"/><circle cx="604.2" cy="241.3" r="4.7"/><circle cx="604.1" cy="235.1" r="4.7"/><circle cx="179" cy="244.7" r="4.7"/><circle cx="183" cy="241.4" r="4.7"/><circle cx="189" cy="246.2" r="4.7"/><circle cx="192" cy="239.7" r="4.7"/><circle cx="235" cy="233.7" r="4.7"/><circle cx="251.5" cy="238.8" r="4.7"/><circle cx="269.5" cy="241.7" r="4.7"/><circle cx="297" cy="246.4" r="4.7"/><circle cx="301" cy="247" r="4.7"/><circle cx="305" cy="240.1" r="4.7"/><circle cx="310.5" cy="239.2" r="4.7"/><circle cx="323.7" cy="234.9" r="4.7"/><circle cx="327" cy="242.4" r="4.7"/><circle cx="330" cy="236.4" r="4.7"/><circle cx="336.8" cy="235.6" r="4.7"/><circle cx="346.7" cy="233.7" r="4.7"/><circle cx="351" cy="233.6" r="4.7"/><circle cx="356" cy="242.9" r="4.7"/><circle cx="361" cy="235.2" r="4.7"/><circle cx="366.4" cy="246.8" r="4.7"/><circle cx="389" cy="234.7" r="4.7"/><circle cx="616" cy="245.5" r="4.7"/><circle cx="622.5" cy="235.3" r="4.7"/><circle cx="639" cy="233.7" r="4.7"/><circle cx="647" cy="243.4" r="4.7"/><circle cx="465.3" cy="264.6" r="4.7"/><circle cx="488.4" cy="265" r="4.7"/><circle cx="435.8" cy="277.4" r="4.7"/><circle cx="594.3" cy="278.4" r="4.7"/><circle cx="429.8" cy="266.7" r="4.7"/><circle cx="422.8" cy="265.8" r="4.7"/><circle cx="478.4" cy="264.5" r="4.7"/><circle cx="576.1" cy="266" r="4.7"/><circle cx="597.4" cy="277.4" r="4.7"/><circle cx="451.1" cy="265.9" r="4.7"/><circle cx="540.6" cy="277.4" r="4.7"/><circle cx="565.5" cy="278.5" r="4.7"/><circle cx="566.7" cy="277" r="4.7"/><circle cx="431.3" cy="278.3" r="4.7"/><circle cx="555.7" cy="264.8" r="4.7"/><circle cx="532.4" cy="277.6" r="4.7"/><circle cx="602.6" cy="265.8" r="4.7"/><circle cx="548.1" cy="264.8" r="4.7"/><circle cx="473" cy="266" r="4.7"/><circle cx="470.1" cy="265.4" r="4.7"/><circle cx="572.6" cy="266" r="4.7"/><circle cx="446.3" cy="266.1" r="4.7"/><circle cx="579.2" cy="277.1" r="4.7"/><circle cx="435.9" cy="278.1" r="4.7"/><circle cx="457.5" cy="266" r="4.7"/><circle cx="430.8" cy="277.4" r="4.7"/><circle cx="458.6" cy="277.6" r="4.7"/><circle cx="421.8" cy="277.4" r="4.7"/><circle cx="436.4" cy="278.1" r="4.7"/><circle cx="463.5" cy="278.3" r="4.7"/><circle cx="517.6" cy="277.5" r="4.7"/><circle cx="457.7" cy="266.3" r="4.7"/><circle cx="453.8" cy="277.1" r="4.7"/><circle cx="525.5" cy="278.1" r="4.7"/><circle cx="580.2" cy="266.6" r="4.7"/><circle cx="606.5" cy="278.3" r="4.7"/><circle cx="489.5" cy="278.1" r="4.7"/><circle cx="449.2" cy="265.9" r="4.7"/><circle cx="517.1" cy="266.5" r="4.7"/><circle cx="458.3" cy="277.6" r="4.7"/><circle cx="459.9" cy="277.3" r="4.7"/><circle cx="597" cy="266.1" r="4.7"/><circle cx="427.1" cy="264.4" r="4.7"/><circle cx="490.7" cy="266.6" r="4.7"/><circle cx="524.2" cy="277.4" r="4.7"/><circle cx="578.1" cy="264.7" r="4.7"/><circle cx="539.7" cy="265.1" r="4.7"/><circle cx="436.8" cy="277.6" r="4.7"/><circle cx="539.8" cy="276.7" r="4.7"/><circle cx="578.9" cy="278.5" r="4.7"/><circle cx="605.5" cy="266.3" r="4.7"/><circle cx="596.1" cy="276.4" r="4.7"/><circle cx="523.4" cy="264.8" r="4.7"/><circle cx="428.8" cy="276.4" r="4.7"/><circle cx="447.1" cy="264.5" r="4.7"/><circle cx="546.6" cy="277.7" r="4.7"/><circle cx="502.5" cy="265.6" r="4.7"/><circle cx="489.5" cy="276.6" r="4.7"/><circle cx="510" cy="265.7" r="4.7"/><circle cx="367.2" cy="277.2" r="4.7"/><circle cx="356.7" cy="271.1" r="4.7"/><circle cx="354" cy="275.6" r="4.7"/><circle cx="418.2" cy="276.1" r="4.7"/><circle cx="420.2" cy="273.1" r="4.7"/><circle cx="407.6" cy="274.9" r="4.7"/><circle cx="370.7" cy="277.8" r="4.7"/><circle cx="352.2" cy="269.9" r="4.7"/><circle cx="420.9" cy="265.6" r="4.7"/><circle cx="345.9" cy="269.1" r="4.7"/><circle cx="415.2" cy="266.2" r="4.7"/><circle cx="408.1" cy="269.2" r="4.7"/><circle cx="375.5" cy="267.1" r="4.7"/><circle cx="402.1" cy="276.9" r="4.7"/><circle cx="403.1" cy="266.7" r="4.7"/><circle cx="404.5" cy="268" r="4.7"/><circle cx="420.9" cy="272.5" r="4.7"/><circle cx="412.1" cy="275.7" r="4.7"/><circle cx="414" cy="266.1" r="4.7"/><circle cx="401.8" cy="271.3" r="4.7"/><circle cx="418.3" cy="271.7" r="4.7"/><circle cx="386.5" cy="275.5" r="4.7"/><circle cx="352.3" cy="272.3" r="4.7"/><circle cx="363.9" cy="266.2" r="4.7"/><circle cx="373.4" cy="278" r="4.7"/><circle cx="403.6" cy="268.2" r="4.7"/><circle cx="415" cy="267.9" r="4.7"/><circle cx="406.5" cy="270.3" r="4.7"/><circle cx="418" cy="276.1" r="4.7"/><circle cx="345" cy="266.6" r="4.7"/><circle cx="385.6" cy="270.7" r="4.7"/><circle cx="397.7" cy="271.6" r="4.7"/><circle cx="402.8" cy="275.5" r="4.7"/><circle cx="349.8" cy="268.6" r="4.7"/><circle cx="408.4" cy="265.2" r="4.7"/><circle cx="405.2" cy="268.4" r="4.7"/><circle cx="417.4" cy="276.2" r="4.7"/><circle cx="396.5" cy="267.8" r="4.7"/><circle cx="417.5" cy="272.9" r="4.7"/><circle cx="364.6" cy="276.9" r="4.7"/><circle cx="376.1" cy="275.1" r="4.7"/><circle cx="417.6" cy="266.5" r="4.7"/><circle cx="382.6" cy="273.3" r="4.7"/><circle cx="416.9" cy="268.9" r="4.7"/><circle cx="421" cy="274.2" r="4.7"/><circle cx="396.7" cy="276.2" r="4.7"/><circle cx="353.5" cy="271.8" r="4.7"/><circle cx="409.2" cy="268.5" r="4.7"/><circle cx="385.7" cy="277.6" r="4.7"/><circle cx="420" cy="270.3" r="4.7"/><circle cx="372.5" cy="266.4" r="4.7"/><circle cx="383" cy="268" r="4.7"/><circle cx="392.9" cy="278.2" r="4.7"/><circle cx="420.8" cy="274.3" r="4.7"/><circle cx="391.8" cy="276.4" r="4.7"/><circle cx="408.7" cy="277.5" r="4.7"/><circle cx="346.4" cy="265.6" r="4.7"/><circle cx="408.6" cy="268" r="4.7"/><circle cx="364.5" cy="277.2" r="4.7"/><circle cx="370.6" cy="276.6" r="4.7"/><circle cx="391.7" cy="277" r="4.7"/><circle cx="412.4" cy="266.1" r="4.7"/><circle cx="376.1" cy="270.8" r="4.7"/><circle cx="420.9" cy="275.7" r="4.7"/><circle cx="418.9" cy="268" r="4.7"/><circle cx="420" cy="273.1" r="4.7"/><circle cx="417.8" cy="268.9" r="4.7"/><circle cx="393.6" cy="277.8" r="4.7"/><circle cx="420.9" cy="277.4" r="4.7"/><circle cx="375.2" cy="268.2" r="4.7"/><circle cx="363.6" cy="273.4" r="4.7"/><circle cx="401.2" cy="267.9" r="4.7"/><circle cx="402.7" cy="269.4" r="4.7"/><circle cx="419.9" cy="267.1" r="4.7"/><circle cx="413.4" cy="271" r="4.7"/><circle cx="390.8" cy="275.1" r="4.7"/><circle cx="419.5" cy="266.3" r="4.7"/><circle cx="357.7" cy="272.1" r="4.7"/><circle cx="415.5" cy="267.7" r="4.7"/><circle cx="382.7" cy="271" r="4.7"/><circle cx="406" cy="277.7" r="4.7"/><circle cx="420.9" cy="273.4" r="4.7"/><circle cx="380.1" cy="272.8" r="4.7"/><circle cx="389.2" cy="265.1" r="4.7"/><circle cx="346.1" cy="265.3" r="4.7"/><circle cx="408.2" cy="270.1" r="4.7"/><circle cx="363.5" cy="274.5" r="4.7"/><circle cx="362.9" cy="272.4" r="4.7"/><circle cx="344" cy="269" r="4.7"/><circle cx="405.8" cy="272.3" r="4.7"/><circle cx="410.6" cy="266.6" r="4.7"/><circle cx="381.5" cy="269.5" r="4.7"/><circle cx="359.5" cy="273.8" r="4.7"/><circle cx="421" cy="266.1" r="4.7"/><circle cx="417.1" cy="269.1" r="4.7"/><circle cx="416.6" cy="273.8" r="4.7"/><circle cx="415.6" cy="270.4" r="4.7"/><circle cx="406" cy="278.4" r="4.7"/><circle cx="402" cy="265.2" r="4.7"/><circle cx="344.8" cy="278" r="4.7"/><circle cx="420.8" cy="276.5" r="4.7"/><circle cx="617.2" cy="277.3" r="4.7"/><circle cx="617.3" cy="273.3" r="4.7"/><circle cx="623" cy="265.1" r="4.7"/><circle cx="606.6" cy="266.3" r="4.7"/><circle cx="606" cy="267.9" r="4.7"/><circle cx="606.1" cy="266.2" r="4.7"/><circle cx="610.4" cy="266.9" r="4.7"/><circle cx="606.3" cy="277.8" r="4.7"/><circle cx="627" cy="277" r="4.7"/><circle cx="606.5" cy="272.7" r="4.7"/><circle cx="627.4" cy="270.7" r="4.7"/><circle cx="614.2" cy="276.8" r="4.7"/><circle cx="626.8" cy="272.6" r="4.7"/><circle cx="609" cy="274.8" r="4.7"/><circle cx="620.8" cy="268.6" r="4.7"/><circle cx="612.8" cy="274.2" r="4.7"/><circle cx="608.2" cy="269.9" r="4.7"/><circle cx="615.2" cy="269.7" r="4.7"/><circle cx="626" cy="268.8" r="4.7"/><circle cx="613.4" cy="275.9" r="4.7"/><circle cx="606.1" cy="269.2" r="4.7"/><circle cx="607.7" cy="272.1" r="4.7"/><circle cx="628.8" cy="270.1" r="4.7"/><circle cx="627.2" cy="266.8" r="4.7"/><circle cx="628.2" cy="269.1" r="4.7"/><circle cx="610" cy="268.3" r="4.7"/><circle cx="625.5" cy="267.6" r="4.7"/><circle cx="606.2" cy="264.9" r="4.7"/><circle cx="615.3" cy="273" r="4.7"/><circle cx="610.4" cy="273.7" r="4.7"/><circle cx="614.4" cy="276.1" r="4.7"/><circle cx="610.6" cy="275.1" r="4.7"/><circle cx="289" cy="271.8" r="4.7"/><circle cx="302" cy="278.3" r="4.7"/><circle cx="309" cy="274" r="4.7"/><circle cx="313" cy="277.5" r="4.7"/><circle cx="321" cy="270.4" r="4.7"/><circle cx="324" cy="273.8" r="4.7"/><circle cx="327" cy="266.5" r="4.7"/><circle cx="330" cy="267.4" r="4.7"/><circle cx="334" cy="273" r="4.7"/><circle cx="339" cy="268.4" r="4.7"/><circle cx="632" cy="276.2" r="4.7"/><circle cx="642" cy="265.9" r="4.7"/><circle cx="578.3" cy="308" r="4.7"/><circle cx="542.6" cy="296.9" r="4.7"/><circle cx="459.3" cy="309.2" r="4.7"/><circle cx="535.6" cy="308.3" r="4.7"/><circle cx="599.9" cy="296.8" r="4.7"/><circle cx="566.8" cy="296.9" r="4.7"/><circle cx="514.5" cy="308.1" r="4.7"/><circle cx="498.7" cy="308.3" r="4.7"/><circle cx="530.7" cy="308.9" r="4.7"/><circle cx="444.1" cy="308.3" r="4.7"/><circle cx="490.4" cy="309.2" r="4.7"/><circle cx="511.8" cy="308.7" r="4.7"/><circle cx="456.9" cy="308.1" r="4.7"/><circle cx="576.3" cy="295.6" r="4.7"/><circle cx="475.3" cy="309.4" r="4.7"/><circle cx="594" cy="297.7" r="4.7"/><circle cx="532.3" cy="308.1" r="4.7"/><circle cx="527.8" cy="308.6" r="4.7"/><circle cx="600.7" cy="308.3" r="4.7"/><circle cx="499.5" cy="308.4" r="4.7"/><circle cx="444.6" cy="296.6" r="4.7"/><circle cx="458.6" cy="308.6" r="4.7"/><circle cx="545.5" cy="295.8" r="4.7"/><circle cx="595.4" cy="308.3" r="4.7"/><circle cx="564.2" cy="309" r="4.7"/><circle cx="560.9" cy="297.4" r="4.7"/><circle cx="493.3" cy="295.9" r="4.7"/><circle cx="524" cy="296.3" r="4.7"/><circle cx="489.6" cy="309.3" r="4.7"/><circle cx="599.5" cy="308.9" r="4.7"/><circle cx="525.8" cy="296.6" r="4.7"/><circle cx="472.7" cy="297.7" r="4.7"/><circle cx="532.3" cy="297" r="4.7"/><circle cx="600" cy="296.2" r="4.7"/><circle cx="444.7" cy="297.1" r="4.7"/><circle cx="552.1" cy="295.7" r="4.7"/><circle cx="505.8" cy="296.5" r="4.7"/><circle cx="548.6" cy="297.4" r="4.7"/><circle cx="564.5" cy="309.4" r="4.7"/><circle cx="584.5" cy="296.5" r="4.7"/><circle cx="508" cy="297.5" r="4.7"/><circle cx="524.9" cy="297.7" r="4.7"/><circle cx="455" cy="309.3" r="4.7"/><circle cx="539.9" cy="296.3" r="4.7"/><circle cx="551.2" cy="307.7" r="4.7"/><circle cx="480.6" cy="307.8" r="4.7"/><circle cx="485.1" cy="295.8" r="4.7"/><circle cx="592.7" cy="297" r="4.7"/><circle cx="514.1" cy="307.4" r="4.7"/><circle cx="477.8" cy="308.7" r="4.7"/><circle cx="418" cy="301.8" r="4.7"/><circle cx="432.2" cy="299.1" r="4.7"/><circle cx="443.9" cy="308.5" r="4.7"/><circle cx="422.9" cy="300" r="4.7"/><circle cx="420.9" cy="307" r="4.7"/><circle cx="440.7" cy="304" r="4.7"/><circle cx="418" cy="302.5" r="4.7"/><circle cx="418.5" cy="299.1" r="4.7"/><circle cx="438.9" cy="305.6" r="4.7"/><circle cx="442.1" cy="300" r="4.7"/><circle cx="422" cy="302.4" r="4.7"/><circle cx="425.6" cy="299.1" r="4.7"/><circle cx="442.8" cy="300.6" r="4.7"/><circle cx="442.6" cy="309.1" r="4.7"/><circle cx="441" cy="303.4" r="4.7"/><circle cx="443.4" cy="303.1" r="4.7"/><circle cx="439" cy="301.3" r="4.7"/><circle cx="443.8" cy="297.4" r="4.7"/><circle cx="424.2" cy="300.5" r="4.7"/><circle cx="441.8" cy="298.3" r="4.7"/><circle cx="441.1" cy="299" r="4.7"/><circle cx="443.9" cy="304.9" r="4.7"/><circle cx="440" cy="297.9" r="4.7"/><circle cx="429" cy="297" r="4.7"/><circle cx="441.4" cy="307.2" r="4.7"/><circle cx="443.3" cy="301.8" r="4.7"/><circle cx="423.7" cy="306.8" r="4.7"/><circle cx="443" cy="300.6" r="4.7"/><circle cx="428.4" cy="300.9" r="4.7"/><circle cx="418.1" cy="298.6" r="4.7"/><circle cx="418.4" cy="302.7" r="4.7"/><circle cx="442.1" cy="301.9" r="4.7"/><circle cx="443.3" cy="305.4" r="4.7"/><circle cx="441.5" cy="308.1" r="4.7"/><circle cx="433.2" cy="300.8" r="4.7"/><circle cx="601.8" cy="304.1" r="4.7"/><circle cx="601.4" cy="307.7" r="4.7"/><circle cx="600.6" cy="302.8" r="4.7"/><circle cx="606.4" cy="299.4" r="4.7"/><circle cx="611.2" cy="301" r="4.7"/><circle cx="608.7" cy="303.5" r="4.7"/><circle cx="602.6" cy="301.1" r="4.7"/><circle cx="600.3" cy="298.1" r="4.7"/><circle cx="613.1" cy="300.1" r="4.7"/><circle cx="608.8" cy="297.2" r="4.7"/><circle cx="606.8" cy="300.7" r="4.7"/><circle cx="605.6" cy="299.8" r="4.7"/><circle cx="600.2" cy="300" r="4.7"/><circle cx="601.6" cy="297.4" r="4.7"/><circle cx="610" cy="299.6" r="4.7"/><circle cx="604" cy="308.2" r="4.7"/><circle cx="611.3" cy="307.9" r="4.7"/><circle cx="613.4" cy="297.5" r="4.7"/><circle cx="602.2" cy="296.1" r="4.7"/><circle cx="609.2" cy="304.9" r="4.7"/><circle cx="603.2" cy="301.4" r="4.7"/><circle cx="608.7" cy="305.3" r="4.7"/><circle cx="283.6" cy="299.1" r="4.7"/><circle cx="356.5" cy="307.4" r="4.7"/><circle cx="362" cy="300.6" r="4.7"/><circle cx="368" cy="304.4" r="4.7"/><circle cx="375" cy="298.2" r="4.7"/><circle cx="380" cy="297.3" r="4.7"/><circle cx="389" cy="308.3" r="4.7"/><circle cx="395" cy="305.8" r="4.7"/><circle cx="403" cy="305.5" r="4.7"/><circle cx="409" cy="296.3" r="4.7"/><circle cx="619" cy="296.3" r="4.7"/><circle cx="637" cy="297.9" r="4.7"/><circle cx="482.1" cy="338.9" r="4.7"/><circle cx="564.2" cy="339.9" r="4.7"/><circle cx="595.1" cy="327.6" r="4.7"/><circle cx="560.9" cy="340.6" r="4.7"/><circle cx="553.9" cy="340.7" r="4.7"/><circle cx="469" cy="340.6" r="4.7"/><circle cx="585" cy="326.7" r="4.7"/><circle cx="555.5" cy="327.1" r="4.7"/><circle cx="483.9" cy="340.2" r="4.7"/><circle cx="465.1" cy="340.8" r="4.7"/><circle cx="545.5" cy="328.3" r="4.7"/><circle cx="465.7" cy="339.5" r="4.7"/><circle cx="503.7" cy="339.7" r="4.7"/><circle cx="554.8" cy="327.9" r="4.7"/><circle cx="529.8" cy="327.8" r="4.7"/><circle cx="480.8" cy="338.9" r="4.7"/><circle cx="476.9" cy="327.6" r="4.7"/><circle cx="490" cy="328.5" r="4.7"/><circle cx="504.8" cy="328.4" r="4.7"/><circle cx="499.2" cy="327.3" r="4.7"/><circle cx="525.9" cy="339" r="4.7"/><circle cx="488.7" cy="338.8" r="4.7"/><circle cx="549.4" cy="338.8" r="4.7"/><circle cx="559.6" cy="328.1" r="4.7"/><circle cx="575.9" cy="340.2" r="4.7"/><circle cx="477.7" cy="327.5" r="4.7"/><circle cx="522.1" cy="340.4" r="4.7"/><circle cx="469.4" cy="338.5" r="4.7"/><circle cx="526" cy="328.8" r="4.7"/><circle cx="494.7" cy="328.6" r="4.7"/><circle cx="499" cy="328.5" r="4.7"/><circle cx="519.7" cy="339.2" r="4.7"/><circle cx="536.7" cy="328.9" r="4.7"/><circle cx="602.8" cy="338.7" r="4.7"/><circle cx="561" cy="338.8" r="4.7"/><circle cx="526.3" cy="339.6" r="4.7"/><circle cx="571.1" cy="338.5" r="4.7"/><circle cx="591.8" cy="339.9" r="4.7"/><circle cx="594.2" cy="340" r="4.7"/><circle cx="463.9" cy="328.8" r="4.7"/><circle cx="512.1" cy="328.2" r="4.7"/><circle cx="480.2" cy="328.7" r="4.7"/><circle cx="561.3" cy="340.2" r="4.7"/><circle cx="501.7" cy="327.4" r="4.7"/><circle cx="506.1" cy="328.1" r="4.7"/><circle cx="535.8" cy="340.4" r="4.7"/><circle cx="490.5" cy="328.8" r="4.7"/><circle cx="538.2" cy="340.6" r="4.7"/><circle cx="423.2" cy="333.6" r="4.7"/><circle cx="443.5" cy="329" r="4.7"/><circle cx="449.2" cy="334.8" r="4.7"/><circle cx="452.6" cy="336.3" r="4.7"/><circle cx="451.7" cy="332.9" r="4.7"/><circle cx="421.8" cy="328" r="4.7"/><circle cx="452.9" cy="332.9" r="4.7"/><circle cx="451.3" cy="336.8" r="4.7"/><circle cx="453" cy="338.4" r="4.7"/><circle cx="428.1" cy="337.7" r="4.7"/><circle cx="445.9" cy="330.7" r="4.7"/><circle cx="437.3" cy="333.9" r="4.7"/><circle cx="446" cy="331.5" r="4.7"/><circle cx="445.5" cy="336" r="4.7"/><circle cx="429.6" cy="339.3" r="4.7"/><circle cx="451.7" cy="330.9" r="4.7"/><circle cx="445.4" cy="334.6" r="4.7"/><circle cx="448.1" cy="329.5" r="4.7"/><circle cx="452.6" cy="331.3" r="4.7"/><circle cx="444.8" cy="340.2" r="4.7"/><circle cx="425.2" cy="338.7" r="4.7"/><circle cx="421.5" cy="340.1" r="4.7"/><circle cx="439" cy="338" r="4.7"/><circle cx="452.8" cy="336.1" r="4.7"/><circle cx="439.5" cy="330.9" r="4.7"/><circle cx="441" cy="339.9" r="4.7"/><circle cx="444.2" cy="335.7" r="4.7"/><circle cx="449.2" cy="331.5" r="4.7"/><circle cx="426.5" cy="327.2" r="4.7"/><circle cx="451.4" cy="336.2" r="4.7"/><circle cx="445.2" cy="328" r="4.7"/><circle cx="437.4" cy="331.9" r="4.7"/><circle cx="440.6" cy="332.5" r="4.7"/><circle cx="442.5" cy="334.6" r="4.7"/><circle cx="446.8" cy="328.4" r="4.7"/><circle cx="451.5" cy="339.1" r="4.7"/><circle cx="441.8" cy="328.3" r="4.7"/><circle cx="427.7" cy="330.3" r="4.7"/><circle cx="452.5" cy="334.1" r="4.7"/><circle cx="450.2" cy="333.6" r="4.7"/><circle cx="441.6" cy="329.9" r="4.7"/><circle cx="440.9" cy="328.4" r="4.7"/><circle cx="608.8" cy="334.9" r="4.7"/><circle cx="603.3" cy="332.4" r="4.7"/><circle cx="603.3" cy="332.9" r="4.7"/><circle cx="616.4" cy="334.4" r="4.7"/><circle cx="612.9" cy="337.2" r="4.7"/><circle cx="603.5" cy="340.5" r="4.7"/><circle cx="613.1" cy="328.2" r="4.7"/><circle cx="615.6" cy="332.2" r="4.7"/><circle cx="604" cy="340" r="4.7"/><circle cx="609.8" cy="337.5" r="4.7"/><circle cx="603.7" cy="337.5" r="4.7"/><circle cx="603.2" cy="330.1" r="4.7"/><circle cx="606.5" cy="327" r="4.7"/><circle cx="610.4" cy="329.7" r="4.7"/><circle cx="605.5" cy="336.6" r="4.7"/><circle cx="607.3" cy="339.1" r="4.7"/><circle cx="610.9" cy="338.8" r="4.7"/><circle cx="609.8" cy="339.5" r="4.7"/><circle cx="616.6" cy="329.1" r="4.7"/><circle cx="613.6" cy="331.5" r="4.7"/><circle cx="614" cy="336.2" r="4.7"/><circle cx="615.5" cy="328.5" r="4.7"/><circle cx="363" cy="331.9" r="4.7"/><circle cx="378" cy="337" r="4.7"/><circle cx="389" cy="339.9" r="4.7"/><circle cx="396" cy="336.8" r="4.7"/><circle cx="402" cy="327.4" r="4.7"/><circle cx="619" cy="335.1" r="4.7"/><circle cx="623" cy="328.2" r="4.7"/><circle cx="637" cy="334.4" r="4.7"/><circle cx="662" cy="337.9" r="4.7"/><circle cx="481.3" cy="359.4" r="4.7"/><circle cx="492.8" cy="369.6" r="4.7"/><circle cx="607.4" cy="369.9" r="4.7"/><circle cx="468" cy="359.8" r="4.7"/><circle cx="502.2" cy="358.7" r="4.7"/><circle cx="506.8" cy="371.5" r="4.7"/><circle cx="549.7" cy="370.8" r="4.7"/><circle cx="564.3" cy="371.8" r="4.7"/><circle cx="467" cy="371.9" r="4.7"/><circle cx="535.2" cy="371.6" r="4.7"/><circle cx="580.3" cy="359.8" r="4.7"/><circle cx="554.3" cy="371.5" r="4.7"/><circle cx="604.3" cy="370.5" r="4.7"/><circle cx="590.7" cy="359.2" r="4.7"/><circle cx="541.1" cy="371.7" r="4.7"/><circle cx="549.8" cy="359.5" r="4.7"/><circle cx="583" cy="370.4" r="4.7"/><circle cx="532.5" cy="370.3" r="4.7"/><circle cx="513.3" cy="370.4" r="4.7"/><circle cx="468" cy="371.6" r="4.7"/><circle cx="552.6" cy="358.3" r="4.7"/><circle cx="485.7" cy="370.2" r="4.7"/><circle cx="537" cy="370.4" r="4.7"/><circle cx="547.6" cy="357.7" r="4.7"/><circle cx="469.9" cy="358" r="4.7"/><circle cx="576.5" cy="359.2" r="4.7"/><circle cx="505.5" cy="358" r="4.7"/><circle cx="600.2" cy="359.3" r="4.7"/><circle cx="574.9" cy="370.8" r="4.7"/><circle cx="556.5" cy="371.6" r="4.7"/><circle cx="568.1" cy="369.7" r="4.7"/><circle cx="513.6" cy="371.6" r="4.7"/><circle cx="577.7" cy="371.7" r="4.7"/><circle cx="581.5" cy="369.9" r="4.7"/><circle cx="494.6" cy="370.5" r="4.7"/><circle cx="522" cy="371.7" r="4.7"/><circle cx="549.5" cy="359.3" r="4.7"/><circle cx="509.4" cy="369.8" r="4.7"/><circle cx="492.4" cy="358.7" r="4.7"/><circle cx="508.8" cy="371.9" r="4.7"/><circle cx="516.4" cy="371.3" r="4.7"/><circle cx="597.8" cy="370.3" r="4.7"/><circle cx="490.2" cy="370.9" r="4.7"/><circle cx="574.2" cy="370.1" r="4.7"/><circle cx="467.9" cy="359.1" r="4.7"/><circle cx="493.9" cy="371.6" r="4.7"/><circle cx="448.6" cy="360.6" r="4.7"/><circle cx="444.2" cy="371.2" r="4.7"/><circle cx="450.8" cy="359" r="4.7"/><circle cx="440" cy="370" r="4.7"/><circle cx="460.5" cy="359.8" r="4.7"/><circle cx="464.1" cy="365.3" r="4.7"/><circle cx="436.1" cy="366.7" r="4.7"/><circle cx="433.1" cy="360.8" r="4.7"/><circle cx="460.9" cy="368.2" r="4.7"/><circle cx="448.6" cy="363.5" r="4.7"/><circle cx="447.1" cy="362.6" r="4.7"/><circle cx="465.8" cy="363.6" r="4.7"/><circle cx="465.9" cy="366.5" r="4.7"/><circle cx="460.7" cy="364.7" r="4.7"/><circle cx="450.9" cy="361.4" r="4.7"/><circle cx="456.5" cy="358.1" r="4.7"/><circle cx="433" cy="365.7" r="4.7"/><circle cx="428.8" cy="358.7" r="4.7"/><circle cx="450.2" cy="367.9" r="4.7"/><circle cx="460.9" cy="359.2" r="4.7"/><circle cx="464.7" cy="359.9" r="4.7"/><circle cx="442.4" cy="359.1" r="4.7"/><circle cx="439.8" cy="363.7" r="4.7"/><circle cx="453.5" cy="366" r="4.7"/><circle cx="452.8" cy="367" r="4.7"/><circle cx="450.8" cy="362.5" r="4.7"/><circle cx="443.8" cy="361.5" r="4.7"/><circle cx="445.4" cy="368.4" r="4.7"/><circle cx="441.9" cy="362.2" r="4.7"/><circle cx="442.1" cy="371.4" r="4.7"/><circle cx="456.9" cy="361.7" r="4.7"/><circle cx="454.2" cy="370.9" r="4.7"/><circle cx="465" cy="358" r="4.7"/><circle cx="456" cy="366.9" r="4.7"/><circle cx="442" cy="362.9" r="4.7"/><circle cx="428.7" cy="361" r="4.7"/><circle cx="443" cy="359.1" r="4.7"/><circle cx="465.9" cy="359.8" r="4.7"/><circle cx="465.8" cy="364.8" r="4.7"/><circle cx="452.8" cy="360.4" r="4.7"/><circle cx="432" cy="362.9" r="4.7"/><circle cx="464.8" cy="360.3" r="4.7"/><circle cx="444" cy="370.6" r="4.7"/><circle cx="464.6" cy="358.3" r="4.7"/><circle cx="441.8" cy="361.2" r="4.7"/><circle cx="429.2" cy="364.8" r="4.7"/><circle cx="449.2" cy="362.7" r="4.7"/><circle cx="440.5" cy="364.2" r="4.7"/><circle cx="610.6" cy="370.4" r="4.7"/><circle cx="608.5" cy="368" r="4.7"/><circle cx="608.2" cy="366.8" r="4.7"/><circle cx="611.7" cy="369.8" r="4.7"/><circle cx="608.2" cy="365.7" r="4.7"/><circle cx="611.8" cy="370.6" r="4.7"/><circle cx="622.6" cy="366.6" r="4.7"/><circle cx="609.5" cy="361.4" r="4.7"/><circle cx="609.9" cy="363.9" r="4.7"/><circle cx="609.5" cy="360.7" r="4.7"/><circle cx="618.3" cy="366.8" r="4.7"/><circle cx="610.3" cy="371.6" r="4.7"/><circle cx="609.4" cy="365.8" r="4.7"/><circle cx="608.8" cy="369.8" r="4.7"/><circle cx="620.8" cy="361.6" r="4.7"/><circle cx="618.1" cy="369.3" r="4.7"/><circle cx="610.1" cy="362.5" r="4.7"/><circle cx="613" cy="370.2" r="4.7"/><circle cx="608.9" cy="367.3" r="4.7"/><circle cx="615" cy="364.2" r="4.7"/><circle cx="614.7" cy="370.1" r="4.7"/><circle cx="359.8" cy="360.8" r="4.7"/><circle cx="373" cy="370.1" r="4.7"/><circle cx="378" cy="362.9" r="4.7"/><circle cx="382" cy="368.7" r="4.7"/><circle cx="387" cy="369.8" r="4.7"/><circle cx="392.6" cy="360.4" r="4.7"/><circle cx="622.5" cy="369.8" r="4.7"/><circle cx="641.5" cy="371.6" r="4.7"/><circle cx="506.6" cy="389.2" r="4.7"/><circle cx="485.7" cy="390.8" r="4.7"/><circle cx="507.3" cy="400.9" r="4.7"/><circle cx="488.1" cy="400.9" r="4.7"/><circle cx="512.6" cy="402.7" r="4.7"/><circle cx="604.1" cy="389.8" r="4.7"/><circle cx="492.8" cy="391" r="4.7"/><circle cx="536.2" cy="389.8" r="4.7"/><circle cx="563.9" cy="391" r="4.7"/><circle cx="591.8" cy="389.1" r="4.7"/><circle cx="481.2" cy="402.9" r="4.7"/><circle cx="539.1" cy="390.7" r="4.7"/><circle cx="562" cy="389.6" r="4.7"/><circle cx="542" cy="389.9" r="4.7"/><circle cx="584.1" cy="390.3" r="4.7"/><circle cx="494.8" cy="389.4" r="4.7"/><circle cx="503" cy="391.1" r="4.7"/><circle cx="502.5" cy="390.6" r="4.7"/><circle cx="470.8" cy="401.3" r="4.7"/><circle cx="510.6" cy="389.6" r="4.7"/><circle cx="541.8" cy="402.3" r="4.7"/><circle cx="604.5" cy="401.6" r="4.7"/><circle cx="509.5" cy="401.6" r="4.7"/><circle cx="485.6" cy="402.7" r="4.7"/><circle cx="578.9" cy="390.6" r="4.7"/><circle cx="535.7" cy="402.3" r="4.7"/><circle cx="568.4" cy="389.2" r="4.7"/><circle cx="558.9" cy="389.2" r="4.7"/><circle cx="576.1" cy="390.2" r="4.7"/><circle cx="543.9" cy="402" r="4.7"/><circle cx="509.1" cy="390" r="4.7"/><circle cx="556.6" cy="401.9" r="4.7"/><circle cx="548.7" cy="401.2" r="4.7"/><circle cx="554" cy="401.5" r="4.7"/><circle cx="473.2" cy="402.1" r="4.7"/><circle cx="560.8" cy="400.9" r="4.7"/><circle cx="578" cy="389" r="4.7"/><circle cx="573.5" cy="402.8" r="4.7"/><circle cx="531.7" cy="401.9" r="4.7"/><circle cx="532.2" cy="388.8" r="4.7"/><circle cx="473.4" cy="401.9" r="4.7"/><circle cx="539.4" cy="401.2" r="4.7"/><circle cx="488.6" cy="401.1" r="4.7"/><circle cx="599.5" cy="390.4" r="4.7"/><circle cx="515.7" cy="401" r="4.7"/><circle cx="463.9" cy="392.5" r="4.7"/><circle cx="464.5" cy="393.9" r="4.7"/><circle cx="442.8" cy="396.2" r="4.7"/><circle cx="457.1" cy="390.2" r="4.7"/><circle cx="458.8" cy="402.8" r="4.7"/><circle cx="447.9" cy="395.2" r="4.7"/><circle cx="456.2" cy="400" r="4.7"/><circle cx="444.9" cy="391.1" r="4.7"/><circle cx="448.5" cy="394.1" r="4.7"/><circle cx="454.8" cy="392.3" r="4.7"/><circle cx="459.5" cy="393.7" r="4.7"/><circle cx="459.2" cy="389.2" r="4.7"/><circle cx="463.2" cy="396.9" r="4.7"/><circle cx="464.8" cy="391.5" r="4.7"/><circle cx="446.8" cy="392.8" r="4.7"/><circle cx="460.7" cy="392.3" r="4.7"/><circle cx="441.2" cy="390.3" r="4.7"/><circle cx="450.4" cy="400.9" r="4.7"/><circle cx="463.2" cy="394.8" r="4.7"/><circle cx="443.3" cy="397.5" r="4.7"/><circle cx="459.4" cy="389.6" r="4.7"/><circle cx="457.4" cy="394.1" r="4.7"/><circle cx="447.1" cy="393.1" r="4.7"/><circle cx="458.4" cy="397.9" r="4.7"/><circle cx="442.4" cy="393.9" r="4.7"/><circle cx="459.1" cy="397" r="4.7"/><circle cx="436.3" cy="391.6" r="4.7"/><circle cx="433.7" cy="398.8" r="4.7"/><circle cx="459.4" cy="398.2" r="4.7"/><circle cx="460.5" cy="390" r="4.7"/><circle cx="445.1" cy="394.2" r="4.7"/><circle cx="454.6" cy="395.9" r="4.7"/><circle cx="437.6" cy="399.4" r="4.7"/><circle cx="465" cy="397.2" r="4.7"/><circle cx="456.8" cy="395.4" r="4.7"/><circle cx="440.9" cy="394.7" r="4.7"/><circle cx="456.4" cy="401.3" r="4.7"/><circle cx="457.5" cy="395.8" r="4.7"/><circle cx="455.1" cy="400.4" r="4.7"/><circle cx="448.9" cy="399.2" r="4.7"/><circle cx="458.6" cy="389.6" r="4.7"/><circle cx="448.5" cy="396.6" r="4.7"/><circle cx="616.5" cy="399.6" r="4.7"/><circle cx="606.5" cy="392" r="4.7"/><circle cx="606.3" cy="400.3" r="4.7"/><circle cx="606.4" cy="390.2" r="4.7"/><circle cx="616.2" cy="396.8" r="4.7"/><circle cx="606.2" cy="398.4" r="4.7"/><circle cx="615.3" cy="395.7" r="4.7"/><circle cx="606.2" cy="398.5" r="4.7"/><circle cx="610" cy="397.1" r="4.7"/><circle cx="622" cy="400.3" r="4.7"/><circle cx="618.8" cy="391" r="4.7"/><circle cx="608.8" cy="396.2" r="4.7"/><circle cx="606" cy="402.6" r="4.7"/><circle cx="608" cy="392.6" r="4.7"/><circle cx="608.5" cy="392.5" r="4.7"/><circle cx="618.5" cy="396.7" r="4.7"/><circle cx="611.5" cy="394.8" r="4.7"/><circle cx="606.1" cy="393.2" r="4.7"/><circle cx="618.7" cy="400.1" r="4.7"/><circle cx="618.5" cy="392.5" r="4.7"/><circle cx="607.2" cy="389.7" r="4.7"/><circle cx="341.8" cy="396.4" r="4.7"/><circle cx="382" cy="394.2" r="4.7"/><circle cx="409" cy="395.4" r="4.7"/><circle cx="413" cy="395.7" r="4.7"/><circle cx="418" cy="397.1" r="4.7"/><circle cx="425" cy="394" r="4.7"/><circle cx="619" cy="400.1" r="4.7"/><circle cx="622.5" cy="391.8" r="4.7"/><circle cx="594.1" cy="420.5" r="4.7"/><circle cx="448.4" cy="421.3" r="4.7"/><circle cx="537.4" cy="431.9" r="4.7"/><circle cx="482.2" cy="432.5" r="4.7"/><circle cx="560.7" cy="432.7" r="4.7"/><circle cx="563.4" cy="420.2" r="4.7"/><circle cx="456.2" cy="433.8" r="4.7"/><circle cx="466.9" cy="420.2" r="4.7"/><circle cx="458.5" cy="432.2" r="4.7"/><circle cx="594.6" cy="421.1" r="4.7"/><circle cx="554.8" cy="433.6" r="4.7"/><circle cx="532.5" cy="421.9" r="4.7"/><circle cx="593.9" cy="421" r="4.7"/><circle cx="521.5" cy="420.4" r="4.7"/><circle cx="599.1" cy="432.3" r="4.7"/><circle cx="580.4" cy="433.4" r="4.7"/><circle cx="471.8" cy="420.1" r="4.7"/><circle cx="468.3" cy="420.3" r="4.7"/><circle cx="494" cy="420.2" r="4.7"/><circle cx="574.6" cy="421.5" r="4.7"/><circle cx="488.3" cy="421.9" r="4.7"/><circle cx="574.9" cy="421.3" r="4.7"/><circle cx="452.3" cy="432.2" r="4.7"/><circle cx="493.6" cy="421.7" r="4.7"/><circle cx="470.8" cy="421.2" r="4.7"/><circle cx="555.6" cy="422.1" r="4.7"/><circle cx="503.3" cy="419.9" r="4.7"/><circle cx="597.3" cy="421.5" r="4.7"/><circle cx="502.7" cy="433.8" r="4.7"/><circle cx="593.1" cy="421.1" r="4.7"/><circle cx="585.2" cy="421.7" r="4.7"/><circle cx="522.3" cy="420.9" r="4.7"/><circle cx="495" cy="420" r="4.7"/><circle cx="502.1" cy="420.7" r="4.7"/><circle cx="455" cy="432.6" r="4.7"/><circle cx="524" cy="433.5" r="4.7"/><circle cx="475.6" cy="433.7" r="4.7"/><circle cx="562.8" cy="432" r="4.7"/><circle cx="535.3" cy="420.8" r="4.7"/><circle cx="520.8" cy="422.1" r="4.7"/><circle cx="539.7" cy="433.3" r="4.7"/><circle cx="468.1" cy="432" r="4.7"/><circle cx="563.4" cy="421.4" r="4.7"/><circle cx="553" cy="421.4" r="4.7"/><circle cx="581.8" cy="432.5" r="4.7"/><circle cx="488.8" cy="420.2" r="4.7"/><circle cx="465.7" cy="432.4" r="4.7"/><circle cx="533.6" cy="432.9" r="4.7"/><circle cx="473.2" cy="421" r="4.7"/><circle cx="505.7" cy="421.5" r="4.7"/><circle cx="535.8" cy="420.1" r="4.7"/><circle cx="427.7" cy="427.5" r="4.7"/><circle cx="445.2" cy="421.4" r="4.7"/><circle cx="447.4" cy="420.8" r="4.7"/><circle cx="424.4" cy="429.8" r="4.7"/><circle cx="445.8" cy="430.4" r="4.7"/><circle cx="447.6" cy="422.5" r="4.7"/><circle cx="421.6" cy="433.9" r="4.7"/><circle cx="440.3" cy="428.7" r="4.7"/><circle cx="447.3" cy="428" r="4.7"/><circle cx="447.2" cy="429.3" r="4.7"/><circle cx="445.7" cy="423.5" r="4.7"/><circle cx="425.2" cy="427.2" r="4.7"/><circle cx="422.9" cy="431.4" r="4.7"/><circle cx="447.7" cy="424.8" r="4.7"/><circle cx="447.4" cy="423.1" r="4.7"/><circle cx="425.4" cy="422.5" r="4.7"/><circle cx="443.8" cy="421.3" r="4.7"/><circle cx="426.1" cy="428.3" r="4.7"/><circle cx="446.3" cy="424.5" r="4.7"/><circle cx="416.3" cy="431" r="4.7"/><circle cx="447.9" cy="431" r="4.7"/><circle cx="446.8" cy="427.2" r="4.7"/><circle cx="446.6" cy="431.1" r="4.7"/><circle cx="425.5" cy="422.9" r="4.7"/><circle cx="416.7" cy="429.6" r="4.7"/><circle cx="428.6" cy="421" r="4.7"/><circle cx="448" cy="432.3" r="4.7"/><circle cx="447.9" cy="427.4" r="4.7"/><circle cx="443.1" cy="421.1" r="4.7"/><circle cx="433.5" cy="421" r="4.7"/><circle cx="420.2" cy="420.8" r="4.7"/><circle cx="442.1" cy="425.8" r="4.7"/><circle cx="431.4" cy="433.5" r="4.7"/><circle cx="434.4" cy="431.2" r="4.7"/><circle cx="437.9" cy="430.8" r="4.7"/><circle cx="437.8" cy="423.7" r="4.7"/><circle cx="429.4" cy="424.3" r="4.7"/><circle cx="447.8" cy="426.5" r="4.7"/><circle cx="424.5" cy="429.5" r="4.7"/><circle cx="446.6" cy="425.4" r="4.7"/><circle cx="431.9" cy="433" r="4.7"/><circle cx="437.2" cy="430.4" r="4.7"/><circle cx="433.9" cy="429.1" r="4.7"/><circle cx="432.2" cy="421" r="4.7"/><circle cx="424.8" cy="431.2" r="4.7"/><circle cx="616.1" cy="431.8" r="4.7"/><circle cx="607.6" cy="428.2" r="4.7"/><circle cx="612.4" cy="432.2" r="4.7"/><circle cx="612.6" cy="433" r="4.7"/><circle cx="619.3" cy="420.8" r="4.7"/><circle cx="614.3" cy="425.5" r="4.7"/><circle cx="613.6" cy="430.8" r="4.7"/><circle cx="608.9" cy="425.3" r="4.7"/><circle cx="620.7" cy="423.3" r="4.7"/><circle cx="614.5" cy="431" r="4.7"/><circle cx="614.3" cy="432.6" r="4.7"/><circle cx="610.1" cy="424.3" r="4.7"/><circle cx="608.3" cy="428.4" r="4.7"/><circle cx="620.8" cy="432.2" r="4.7"/><circle cx="610.9" cy="425.8" r="4.7"/><circle cx="608.3" cy="422.1" r="4.7"/><circle cx="612.1" cy="421.2" r="4.7"/><circle cx="609.6" cy="426.5" r="4.7"/><circle cx="606.1" cy="424.7" r="4.7"/><circle cx="621.8" cy="422.7" r="4.7"/><circle cx="619.3" cy="425.7" r="4.7"/><circle cx="333.5" cy="427.5" r="4.7"/><circle cx="345" cy="423.4" r="4.7"/><circle cx="364.7" cy="423.1" r="4.7"/><circle cx="376" cy="428.8" r="4.7"/><circle cx="383" cy="425.3" r="4.7"/><circle cx="390" cy="432.5" r="4.7"/><circle cx="396" cy="425.5" r="4.7"/><circle cx="402.5" cy="424.7" r="4.7"/><circle cx="632" cy="422.2" r="4.7"/><circle cx="635.6" cy="422.4" r="4.7"/><circle cx="507.5" cy="463.6" r="4.7"/><circle cx="502.3" cy="451.3" r="4.7"/><circle cx="605" cy="464.1" r="4.7"/><circle cx="452.1" cy="453.1" r="4.7"/><circle cx="490.8" cy="464.6" r="4.7"/><circle cx="558.8" cy="463.2" r="4.7"/><circle cx="571" cy="464.4" r="4.7"/><circle cx="464" cy="463.9" r="4.7"/><circle cx="603.3" cy="463.6" r="4.7"/><circle cx="564.1" cy="465.1" r="4.7"/><circle cx="579.8" cy="451.2" r="4.7"/><circle cx="530.7" cy="464.5" r="4.7"/><circle cx="454.8" cy="452" r="4.7"/><circle cx="522.7" cy="451.6" r="4.7"/><circle cx="570.5" cy="451.1" r="4.7"/><circle cx="528.2" cy="451.1" r="4.7"/><circle cx="592.8" cy="452.9" r="4.7"/><circle cx="597" cy="451" r="4.7"/><circle cx="479.4" cy="464.3" r="4.7"/><circle cx="490.2" cy="452.3" r="4.7"/><circle cx="606.5" cy="451.4" r="4.7"/><circle cx="558.9" cy="464" r="4.7"/><circle cx="606" cy="464.5" r="4.7"/><circle cx="495.8" cy="451.4" r="4.7"/><circle cx="530.3" cy="451.5" r="4.7"/><circle cx="506.9" cy="452.8" r="4.7"/><circle cx="579.6" cy="452.9" r="4.7"/><circle cx="568.7" cy="451.7" r="4.7"/><circle cx="595.4" cy="465.1" r="4.7"/><circle cx="574.8" cy="465.1" r="4.7"/><circle cx="481.6" cy="464.9" r="4.7"/><circle cx="527" cy="465" r="4.7"/><circle cx="515.7" cy="463.7" r="4.7"/><circle cx="502.5" cy="463.5" r="4.7"/><circle cx="484.2" cy="464.1" r="4.7"/><circle cx="516.5" cy="451.5" r="4.7"/><circle cx="501.7" cy="452.7" r="4.7"/><circle cx="536.6" cy="464.6" r="4.7"/><circle cx="495.5" cy="464.5" r="4.7"/><circle cx="514.5" cy="464.9" r="4.7"/><circle cx="471.1" cy="464.7" r="4.7"/><circle cx="458.5" cy="463.7" r="4.7"/><circle cx="600.5" cy="465.2" r="4.7"/><circle cx="592" cy="451.6" r="4.7"/><circle cx="559.1" cy="464.8" r="4.7"/><circle cx="564.5" cy="463.3" r="4.7"/><circle cx="479.9" cy="451.5" r="4.7"/><circle cx="514.3" cy="463.8" r="4.7"/><circle cx="531" cy="463.7" r="4.7"/><circle cx="481.3" cy="452.1" r="4.7"/><circle cx="441.2" cy="460.4" r="4.7"/><circle cx="421.5" cy="453" r="4.7"/><circle cx="447.6" cy="452.1" r="4.7"/><circle cx="445.3" cy="458.1" r="4.7"/><circle cx="424.5" cy="460.4" r="4.7"/><circle cx="438.8" cy="456.8" r="4.7"/><circle cx="439" cy="455" r="4.7"/><circle cx="424.9" cy="462.1" r="4.7"/><circle cx="425.3" cy="453.3" r="4.7"/><circle cx="434.4" cy="461.6" r="4.7"/><circle cx="442.1" cy="463.6" r="4.7"/><circle cx="421.6" cy="461.5" r="4.7"/><circle cx="426.4" cy="460.2" r="4.7"/><circle cx="422.9" cy="453" r="4.7"/><circle cx="432.8" cy="460.9" r="4.7"/><circle cx="437.3" cy="455" r="4.7"/><circle cx="452.7" cy="459.5" r="4.7"/><circle cx="426.2" cy="455" r="4.7"/><circle cx="450.6" cy="454.3" r="4.7"/><circle cx="452.5" cy="460.5" r="4.7"/><circle cx="416.7" cy="462.3" r="4.7"/><circle cx="447" cy="460.9" r="4.7"/><circle cx="452.7" cy="462.8" r="4.7"/><circle cx="448" cy="451.2" r="4.7"/><circle cx="436.5" cy="453.1" r="4.7"/><circle cx="449.3" cy="452" r="4.7"/><circle cx="444.1" cy="458.9" r="4.7"/><circle cx="427.1" cy="451.7" r="4.7"/><circle cx="426" cy="452.7" r="4.7"/><circle cx="450.4" cy="459.9" r="4.7"/><circle cx="447.5" cy="455.8" r="4.7"/><circle cx="439.3" cy="454.2" r="4.7"/><circle cx="427.9" cy="454.1" r="4.7"/><circle cx="425.3" cy="462.4" r="4.7"/><circle cx="440.6" cy="451.6" r="4.7"/><circle cx="428.8" cy="451.6" r="4.7"/><circle cx="441.9" cy="457" r="4.7"/><circle cx="452.7" cy="459.9" r="4.7"/><circle cx="431.7" cy="459.3" r="4.7"/><circle cx="445.7" cy="458.3" r="4.7"/><circle cx="438.4" cy="454.3" r="4.7"/><circle cx="423.6" cy="464.9" r="4.7"/><circle cx="427.3" cy="464.5" r="4.7"/><circle cx="447.9" cy="464.8" r="4.7"/><circle cx="452.7" cy="457.8" r="4.7"/><circle cx="452" cy="457.5" r="4.7"/><circle cx="433.9" cy="461" r="4.7"/><circle cx="443.8" cy="455.9" r="4.7"/><circle cx="610.2" cy="456.8" r="4.7"/><circle cx="611.3" cy="453.9" r="4.7"/><circle cx="619.4" cy="458.3" r="4.7"/><circle cx="613.5" cy="453.9" r="4.7"/><circle cx="618.7" cy="453.9" r="4.7"/><circle cx="611" cy="458.9" r="4.7"/><circle cx="618.6" cy="464.6" r="4.7"/><circle cx="619.7" cy="464.3" r="4.7"/><circle cx="623.9" cy="461.2" r="4.7"/><circle cx="619" cy="452.1" r="4.7"/><circle cx="610.4" cy="451.4" r="4.7"/><circle cx="622.4" cy="461.2" r="4.7"/><circle cx="617.1" cy="454.8" r="4.7"/><circle cx="612.2" cy="453.5" r="4.7"/><circle cx="617.2" cy="464.9" r="4.7"/><circle cx="611.6" cy="451.8" r="4.7"/><circle cx="610" cy="456.1" r="4.7"/><circle cx="623.3" cy="462.3" r="4.7"/><circle cx="613.8" cy="452.6" r="4.7"/><circle cx="609.5" cy="453.3" r="4.7"/><circle cx="620.4" cy="457.7" r="4.7"/><circle cx="625.7" cy="463.8" r="4.7"/><circle cx="353" cy="462.2" r="4.7"/><circle cx="363" cy="457.8" r="4.7"/><circle cx="379.5" cy="462.5" r="4.7"/><circle cx="385" cy="453" r="4.7"/><circle cx="392" cy="452.7" r="4.7"/><circle cx="398" cy="459" r="4.7"/><circle cx="405.8" cy="458.2" r="4.7"/><circle cx="629" cy="454.1" r="4.7"/><circle cx="640" cy="454.7" r="4.7"/><circle cx="644" cy="451.5" r="4.7"/><circle cx="647" cy="463.7" r="4.7"/><circle cx="555.6" cy="495.8" r="4.7"/><circle cx="558.1" cy="482.5" r="4.7"/><circle cx="576.6" cy="484.1" r="4.7"/><circle cx="459.8" cy="494.1" r="4.7"/><circle cx="572.1" cy="483.3" r="4.7"/><circle cx="448.9" cy="482.4" r="4.7"/><circle cx="496.2" cy="495.1" r="4.7"/><circle cx="544.3" cy="484.4" r="4.7"/><circle cx="474.7" cy="494.9" r="4.7"/><circle cx="458.6" cy="482.2" r="4.7"/><circle cx="512.4" cy="495.8" r="4.7"/><circle cx="533.2" cy="482.4" r="4.7"/><circle cx="469" cy="482.8" r="4.7"/><circle cx="517.1" cy="495.4" r="4.7"/><circle cx="460.9" cy="495.4" r="4.7"/><circle cx="452" cy="482.6" r="4.7"/><circle cx="584.3" cy="483.5" r="4.7"/><circle cx="568.1" cy="482.9" r="4.7"/><circle cx="560.7" cy="483.8" r="4.7"/><circle cx="587.3" cy="482.6" r="4.7"/><circle cx="448.1" cy="483.5" r="4.7"/><circle cx="592.6" cy="482.6" r="4.7"/><circle cx="449.1" cy="494.6" r="4.7"/><circle cx="466.5" cy="483.3" r="4.7"/><circle cx="595" cy="484" r="4.7"/><circle cx="571.1" cy="483" r="4.7"/><circle cx="493.7" cy="496.1" r="4.7"/><circle cx="442.4" cy="483.1" r="4.7"/><circle cx="573.4" cy="482.8" r="4.7"/><circle cx="547.8" cy="495.1" r="4.7"/><circle cx="549.3" cy="484.3" r="4.7"/><circle cx="574.7" cy="494.5" r="4.7"/><circle cx="555.3" cy="482.9" r="4.7"/><circle cx="599.3" cy="483.1" r="4.7"/><circle cx="498.4" cy="484.2" r="4.7"/><circle cx="480.2" cy="484.2" r="4.7"/><circle cx="485.8" cy="495.8" r="4.7"/><circle cx="465.7" cy="495.8" r="4.7"/><circle cx="443.1" cy="484.3" r="4.7"/><circle cx="551.3" cy="483.2" r="4.7"/><circle cx="514.9" cy="496.1" r="4.7"/><circle cx="533.9" cy="482.3" r="4.7"/><circle cx="559.2" cy="482.3" r="4.7"/><circle cx="576" cy="482.9" r="4.7"/><circle cx="463.6" cy="495.8" r="4.7"/><circle cx="450.8" cy="495" r="4.7"/><circle cx="555" cy="495.8" r="4.7"/><circle cx="577.4" cy="483.7" r="4.7"/><circle cx="457.2" cy="494.4" r="4.7"/><circle cx="593.5" cy="495.8" r="4.7"/><circle cx="575.9" cy="494.6" r="4.7"/><circle cx="439.7" cy="488" r="4.7"/><circle cx="443" cy="485.5" r="4.7"/><circle cx="410.4" cy="495" r="4.7"/><circle cx="437.5" cy="492.9" r="4.7"/><circle cx="417.4" cy="494.6" r="4.7"/><circle cx="416.2" cy="489.6" r="4.7"/><circle cx="442.3" cy="493.7" r="4.7"/><circle cx="438" cy="491" r="4.7"/><circle cx="436.3" cy="489.7" r="4.7"/><circle cx="405" cy="484.5" r="4.7"/><circle cx="430" cy="491.3" r="4.7"/><circle cx="429.7" cy="495.2" r="4.7"/><circle cx="435" cy="494.9" r="4.7"/><circle cx="422.2" cy="495.7" r="4.7"/><circle cx="442.5" cy="485.2" r="4.7"/><circle cx="438.7" cy="494.8" r="4.7"/><circle cx="443" cy="485.9" r="4.7"/><circle cx="420.8" cy="496" r="4.7"/><circle cx="441.2" cy="488.3" r="4.7"/><circle cx="422.4" cy="491.8" r="4.7"/><circle cx="419.1" cy="492.7" r="4.7"/><circle cx="439.7" cy="485.8" r="4.7"/><circle cx="442.9" cy="491.8" r="4.7"/><circle cx="440.6" cy="485.9" r="4.7"/><circle cx="405.1" cy="491.2" r="4.7"/><circle cx="427.3" cy="491.4" r="4.7"/><circle cx="427" cy="491.9" r="4.7"/><circle cx="438.3" cy="483.2" r="4.7"/><circle cx="442.7" cy="482.5" r="4.7"/><circle cx="436.5" cy="484.3" r="4.7"/><circle cx="442.2" cy="489.1" r="4.7"/><circle cx="404.7" cy="491.8" r="4.7"/><circle cx="439.1" cy="492.9" r="4.7"/><circle cx="441.2" cy="483.7" r="4.7"/><circle cx="438.3" cy="487.9" r="4.7"/><circle cx="422.3" cy="488.4" r="4.7"/><circle cx="420.1" cy="483.6" r="4.7"/><circle cx="407.3" cy="487" r="4.7"/><circle cx="413.9" cy="482.7" r="4.7"/><circle cx="414.1" cy="485.4" r="4.7"/><circle cx="412.5" cy="493.4" r="4.7"/><circle cx="423.3" cy="486.1" r="4.7"/><circle cx="443" cy="484.9" r="4.7"/><circle cx="409.2" cy="484.5" r="4.7"/><circle cx="423.9" cy="490.4" r="4.7"/><circle cx="423.8" cy="484.8" r="4.7"/><circle cx="441.8" cy="483.6" r="4.7"/><circle cx="403.8" cy="487.6" r="4.7"/><circle cx="424.2" cy="490.2" r="4.7"/><circle cx="440.3" cy="483.2" r="4.7"/><circle cx="443" cy="494.1" r="4.7"/><circle cx="601.7" cy="495.6" r="4.7"/><circle cx="604.8" cy="492.3" r="4.7"/><circle cx="601.8" cy="493.2" r="4.7"/><circle cx="603.1" cy="487.4" r="4.7"/><circle cx="607.7" cy="483.8" r="4.7"/><circle cx="603" cy="493.3" r="4.7"/><circle cx="603.6" cy="487.6" r="4.7"/><circle cx="613.4" cy="485.4" r="4.7"/><circle cx="602.4" cy="485.3" r="4.7"/><circle cx="605.1" cy="487.3" r="4.7"/><circle cx="610.3" cy="488.8" r="4.7"/><circle cx="616.2" cy="483" r="4.7"/><circle cx="610.9" cy="493.8" r="4.7"/><circle cx="602.9" cy="482.7" r="4.7"/><circle cx="606.1" cy="483.9" r="4.7"/><circle cx="606.5" cy="492.1" r="4.7"/><circle cx="601.4" cy="483.9" r="4.7"/><circle cx="606.9" cy="484.7" r="4.7"/><circle cx="602.8" cy="488.4" r="4.7"/><circle cx="601.6" cy="483.2" r="4.7"/><circle cx="604.7" cy="488.8" r="4.7"/><circle cx="618.1" cy="490" r="4.7"/><circle cx="601.3" cy="485.4" r="4.7"/><circle cx="612.8" cy="490.1" r="4.7"/><circle cx="616.2" cy="495.6" r="4.7"/><circle cx="381" cy="494.1" r="4.7"/><circle cx="383.5" cy="483.8" r="4.7"/><circle cx="386" cy="495.3" r="4.7"/><circle cx="622.5" cy="489.5" r="4.7"/><circle cx="630" cy="485.6" r="4.7"/><circle cx="635" cy="484.7" r="4.7"/><circle cx="639" cy="494.2" r="4.7"/><circle cx="486.1" cy="514.4" r="4.7"/><circle cx="524.7" cy="526.9" r="4.7"/><circle cx="473.9" cy="526.6" r="4.7"/><circle cx="468.8" cy="526.6" r="4.7"/><circle cx="508.5" cy="513.9" r="4.7"/><circle cx="525.7" cy="525.5" r="4.7"/><circle cx="455.6" cy="514" r="4.7"/><circle cx="557.7" cy="514.3" r="4.7"/><circle cx="489.3" cy="526.6" r="4.7"/><circle cx="475" cy="525.4" r="4.7"/><circle cx="575.3" cy="526.8" r="4.7"/><circle cx="583.5" cy="526.6" r="4.7"/><circle cx="552.3" cy="515.5" r="4.7"/><circle cx="523.2" cy="514.5" r="4.7"/><circle cx="582.4" cy="526.1" r="4.7"/><circle cx="475.2" cy="514.8" r="4.7"/><circle cx="501.4" cy="513.3" r="4.7"/><circle cx="514.7" cy="515.5" r="4.7"/><circle cx="597.2" cy="515.3" r="4.7"/><circle cx="510.4" cy="526.6" r="4.7"/><circle cx="486.1" cy="515.1" r="4.7"/><circle cx="525" cy="527.4" r="4.7"/><circle cx="522.9" cy="513.3" r="4.7"/><circle cx="568.1" cy="514.6" r="4.7"/><circle cx="505.8" cy="514.2" r="4.7"/><circle cx="570.3" cy="513.6" r="4.7"/><circle cx="454" cy="526.5" r="4.7"/><circle cx="525.7" cy="525.4" r="4.7"/><circle cx="490.3" cy="514.9" r="4.7"/><circle cx="516.8" cy="513.2" r="4.7"/><circle cx="474.4" cy="527.1" r="4.7"/><circle cx="462.6" cy="514.5" r="4.7"/><circle cx="466.1" cy="526.9" r="4.7"/><circle cx="492.2" cy="513.5" r="4.7"/><circle cx="598.5" cy="527.3" r="4.7"/><circle cx="561.5" cy="515.4" r="4.7"/><circle cx="592.1" cy="513.3" r="4.7"/><circle cx="590.5" cy="514.8" r="4.7"/><circle cx="600" cy="514.5" r="4.7"/><circle cx="533.9" cy="527" r="4.7"/><circle cx="552.7" cy="514.5" r="4.7"/><circle cx="529.4" cy="527.2" r="4.7"/><circle cx="599.3" cy="514.5" r="4.7"/><circle cx="543.4" cy="526.4" r="4.7"/><circle cx="481.4" cy="526.6" r="4.7"/><circle cx="516.2" cy="526.7" r="4.7"/><circle cx="465.1" cy="514.1" r="4.7"/><circle cx="525.2" cy="526.9" r="4.7"/><circle cx="455" cy="520" r="4.7"/><circle cx="440.3" cy="523.2" r="4.7"/><circle cx="441.5" cy="515.9" r="4.7"/><circle cx="427.7" cy="524.2" r="4.7"/><circle cx="452.9" cy="519.3" r="4.7"/><circle cx="427.7" cy="516.3" r="4.7"/><circle cx="449.1" cy="526.7" r="4.7"/><circle cx="430.6" cy="516.6" r="4.7"/><circle cx="438" cy="518.4" r="4.7"/><circle cx="440.9" cy="524" r="4.7"/><circle cx="454.3" cy="516.5" r="4.7"/><circle cx="453.1" cy="517.1" r="4.7"/><circle cx="454.9" cy="515.3" r="4.7"/><circle cx="449.2" cy="519.2" r="4.7"/><circle cx="454.7" cy="521.4" r="4.7"/><circle cx="428.5" cy="521.4" r="4.7"/><circle cx="450.4" cy="523.1" r="4.7"/><circle cx="448.3" cy="515.8" r="4.7"/><circle cx="447.1" cy="513.6" r="4.7"/><circle cx="440.4" cy="515.6" r="4.7"/><circle cx="450.1" cy="526.7" r="4.7"/><circle cx="436.7" cy="524.9" r="4.7"/><circle cx="441.7" cy="522.2" r="4.7"/><circle cx="439.3" cy="526.7" r="4.7"/><circle cx="453.4" cy="524" r="4.7"/><circle cx="451.6" cy="516.9" r="4.7"/><circle cx="434.3" cy="521.7" r="4.7"/><circle cx="433" cy="525.5" r="4.7"/><circle cx="443.6" cy="516.1" r="4.7"/><circle cx="455" cy="520.8" r="4.7"/><circle cx="438.4" cy="517.2" r="4.7"/><circle cx="454.8" cy="513.5" r="4.7"/><circle cx="453.7" cy="523" r="4.7"/><circle cx="455" cy="516.6" r="4.7"/><circle cx="452.3" cy="523.2" r="4.7"/><circle cx="426.2" cy="513.7" r="4.7"/><circle cx="454.4" cy="526.3" r="4.7"/><circle cx="619.2" cy="515.5" r="4.7"/><circle cx="606.8" cy="520.6" r="4.7"/><circle cx="606.6" cy="519.2" r="4.7"/><circle cx="608.9" cy="517" r="4.7"/><circle cx="604.2" cy="514.6" r="4.7"/><circle cx="604.9" cy="514.7" r="4.7"/><circle cx="611.5" cy="523" r="4.7"/><circle cx="605.9" cy="524.3" r="4.7"/><circle cx="613.6" cy="518.1" r="4.7"/><circle cx="609.1" cy="516" r="4.7"/><circle cx="618.2" cy="521.1" r="4.7"/><circle cx="604.1" cy="515.5" r="4.7"/><circle cx="612.9" cy="518.7" r="4.7"/><circle cx="613.4" cy="516.6" r="4.7"/><circle cx="615.1" cy="524.5" r="4.7"/><circle cx="604.4" cy="521.5" r="4.7"/><circle cx="605.1" cy="523.2" r="4.7"/><circle cx="615.3" cy="524.3" r="4.7"/><circle cx="605.5" cy="514.7" r="4.7"/><circle cx="612.3" cy="521.2" r="4.7"/><circle cx="604.7" cy="516.1" r="4.7"/><circle cx="350.6" cy="521.4" r="4.7"/><circle cx="400" cy="514.9" r="4.7"/><circle cx="416" cy="522.1" r="4.7"/><circle cx="419" cy="516.7" r="4.7"/><circle cx="625.7" cy="517" r="4.7"/><circle cx="512.3" cy="557.9" r="4.7"/><circle cx="447.1" cy="546.1" r="4.7"/><circle cx="490.3" cy="557.6" r="4.7"/><circle cx="591.7" cy="544.3" r="4.7"/><circle cx="607.2" cy="556.5" r="4.7"/><circle cx="452.3" cy="558" r="4.7"/><circle cx="579.3" cy="557.1" r="4.7"/><circle cx="528.8" cy="556.3" r="4.7"/><circle cx="543.1" cy="545.9" r="4.7"/><circle cx="496" cy="546.3" r="4.7"/><circle cx="596.7" cy="545.5" r="4.7"/><circle cx="474.8" cy="544.8" r="4.7"/><circle cx="561.2" cy="557.8" r="4.7"/><circle cx="521.1" cy="558" r="4.7"/><circle cx="459.6" cy="545.2" r="4.7"/><circle cx="514.6" cy="546" r="4.7"/><circle cx="553" cy="545.6" r="4.7"/><circle cx="583.5" cy="558" r="4.7"/><circle cx="503.7" cy="558" r="4.7"/><circle cx="562.3" cy="557.6" r="4.7"/><circle cx="459.4" cy="556.4" r="4.7"/><circle cx="595.1" cy="546.5" r="4.7"/><circle cx="604.9" cy="546.5" r="4.7"/><circle cx="555.6" cy="545.9" r="4.7"/><circle cx="453.4" cy="557.2" r="4.7"/><circle cx="456.2" cy="557.8" r="4.7"/><circle cx="560.8" cy="546.5" r="4.7"/><circle cx="593" cy="545.4" r="4.7"/><circle cx="558.2" cy="556.6" r="4.7"/><circle cx="530.3" cy="556.6" r="4.7"/><circle cx="470.8" cy="557.8" r="4.7"/><circle cx="502.2" cy="545.5" r="4.7"/><circle cx="533.6" cy="546" r="4.7"/><circle cx="564.9" cy="557.3" r="4.7"/><circle cx="600.8" cy="557.9" r="4.7"/><circle cx="507.3" cy="544.9" r="4.7"/><circle cx="463.5" cy="544.5" r="4.7"/><circle cx="523.5" cy="558" r="4.7"/><circle cx="446.6" cy="558.1" r="4.7"/><circle cx="557.4" cy="556.9" r="4.7"/><circle cx="563.1" cy="557.8" r="4.7"/><circle cx="551.5" cy="544.7" r="4.7"/><circle cx="585.3" cy="556.2" r="4.7"/><circle cx="568.7" cy="544.5" r="4.7"/><circle cx="600" cy="556.7" r="4.7"/><circle cx="494.8" cy="558.4" r="4.7"/><circle cx="492.1" cy="557.1" r="4.7"/><circle cx="489.1" cy="546.6" r="4.7"/><circle cx="554.2" cy="544.7" r="4.7"/><circle cx="548.9" cy="544.3" r="4.7"/><circle cx="562.9" cy="544.7" r="4.7"/><circle cx="484" cy="557.1" r="4.7"/><circle cx="581.4" cy="546" r="4.7"/><circle cx="406.5" cy="553.8" r="4.7"/><circle cx="442.6" cy="556.9" r="4.7"/><circle cx="440.2" cy="548.9" r="4.7"/><circle cx="400.7" cy="556.3" r="4.7"/><circle cx="381.4" cy="556.5" r="4.7"/><circle cx="420.7" cy="557.1" r="4.7"/><circle cx="398.8" cy="556.1" r="4.7"/><circle cx="378.5" cy="557.6" r="4.7"/><circle cx="425.8" cy="550.9" r="4.7"/><circle cx="403.2" cy="556.1" r="4.7"/><circle cx="405" cy="549.5" r="4.7"/><circle cx="442.5" cy="546.1" r="4.7"/><circle cx="389" cy="557" r="4.7"/><circle cx="442.9" cy="549.6" r="4.7"/><circle cx="415.1" cy="551.4" r="4.7"/><circle cx="442.7" cy="556.4" r="4.7"/><circle cx="413" cy="548.8" r="4.7"/><circle cx="425.3" cy="549.7" r="4.7"/><circle cx="413.1" cy="556.7" r="4.7"/><circle cx="418.1" cy="548.9" r="4.7"/><circle cx="433.1" cy="556.1" r="4.7"/><circle cx="404.1" cy="549.4" r="4.7"/><circle cx="386" cy="552.8" r="4.7"/><circle cx="376.3" cy="556.9" r="4.7"/><circle cx="442.5" cy="550.7" r="4.7"/><circle cx="443" cy="557.7" r="4.7"/><circle cx="438.4" cy="547.4" r="4.7"/><circle cx="420.7" cy="557.3" r="4.7"/><circle cx="411.4" cy="556.4" r="4.7"/><circle cx="411.7" cy="552.3" r="4.7"/><circle cx="426.3" cy="552.4" r="4.7"/><circle cx="442.9" cy="546.3" r="4.7"/><circle cx="376.2" cy="547" r="4.7"/><circle cx="435.7" cy="551.6" r="4.7"/><circle cx="403.6" cy="545.9" r="4.7"/><circle cx="398.8" cy="552.8" r="4.7"/><circle cx="442.6" cy="549.6" r="4.7"/><circle cx="382.8" cy="554.7" r="4.7"/><circle cx="440.6" cy="553.3" r="4.7"/><circle cx="442.3" cy="550.3" r="4.7"/><circle cx="434" cy="558.2" r="4.7"/><circle cx="422.7" cy="557.9" r="4.7"/><circle cx="424.4" cy="554.9" r="4.7"/><circle cx="443" cy="556.5" r="4.7"/><circle cx="415.9" cy="549.7" r="4.7"/><circle cx="394.9" cy="556.9" r="4.7"/><circle cx="440.4" cy="544.7" r="4.7"/><circle cx="412.2" cy="556.6" r="4.7"/><circle cx="441.7" cy="552.4" r="4.7"/><circle cx="442.7" cy="545.3" r="4.7"/><circle cx="423.4" cy="556.9" r="4.7"/><circle cx="392.9" cy="554.4" r="4.7"/><circle cx="406.6" cy="547.5" r="4.7"/><circle cx="426.3" cy="546.6" r="4.7"/><circle cx="438.8" cy="546.6" r="4.7"/><circle cx="427.8" cy="544.9" r="4.7"/><circle cx="441.1" cy="554" r="4.7"/><circle cx="416" cy="547.7" r="4.7"/><circle cx="438.7" cy="553.2" r="4.7"/><circle cx="442.6" cy="555.2" r="4.7"/><circle cx="397.9" cy="557" r="4.7"/><circle cx="440.4" cy="555.3" r="4.7"/><circle cx="421" cy="547.7" r="4.7"/><circle cx="395.9" cy="547.7" r="4.7"/><circle cx="440.1" cy="556.5" r="4.7"/><circle cx="378.9" cy="554.5" r="4.7"/><circle cx="441.7" cy="550.9" r="4.7"/><circle cx="416.8" cy="547.5" r="4.7"/><circle cx="394.5" cy="550.4" r="4.7"/><circle cx="423" cy="551.2" r="4.7"/><circle cx="443" cy="556.5" r="4.7"/><circle cx="391" cy="556.9" r="4.7"/><circle cx="419.5" cy="550.2" r="4.7"/><circle cx="434.4" cy="546.9" r="4.7"/><circle cx="438.7" cy="552" r="4.7"/><circle cx="429.6" cy="554.5" r="4.7"/><circle cx="376.4" cy="547.6" r="4.7"/><circle cx="390.9" cy="549.4" r="4.7"/><circle cx="428" cy="548.8" r="4.7"/><circle cx="413.4" cy="550.6" r="4.7"/><circle cx="441" cy="552.6" r="4.7"/><circle cx="441.4" cy="548.6" r="4.7"/><circle cx="429.1" cy="556.1" r="4.7"/><circle cx="401.3" cy="552.7" r="4.7"/><circle cx="425.6" cy="548.3" r="4.7"/><circle cx="422.5" cy="551" r="4.7"/><circle cx="612.8" cy="551.4" r="4.7"/><circle cx="608.7" cy="549.4" r="4.7"/><circle cx="610.7" cy="545.5" r="4.7"/><circle cx="607.4" cy="554.6" r="4.7"/><circle cx="610" cy="554.2" r="4.7"/><circle cx="619.9" cy="553.4" r="4.7"/><circle cx="612" cy="556" r="4.7"/><circle cx="613.5" cy="545.1" r="4.7"/><circle cx="618.5" cy="551.1" r="4.7"/><circle cx="612.8" cy="554.3" r="4.7"/><circle cx="616.1" cy="557.6" r="4.7"/><circle cx="614.9" cy="546.7" r="4.7"/><circle cx="615.6" cy="554.8" r="4.7"/><circle cx="607" cy="554" r="4.7"/><circle cx="615" cy="553.9" r="4.7"/><circle cx="610.9" cy="549" r="4.7"/><circle cx="613.9" cy="547.5" r="4.7"/><circle cx="618.9" cy="546.7" r="4.7"/><circle cx="613.6" cy="553.5" r="4.7"/><circle cx="609.3" cy="546.4" r="4.7"/><circle cx="621.5" cy="558" r="4.7"/><circle cx="614.8" cy="555.6" r="4.7"/><circle cx="235.7" cy="550.6" r="4.7"/><circle cx="315.8" cy="548.3" r="4.7"/><circle cx="643.8" cy="551.7" r="4.7"/></g>
<path d="M463.2 116H515.8M552.9 116H591.3M515.8 104H552.9V128H515.8ZM534.8 104V128M479.6 147.1H522.3M558.4 147.1H599.5M522.3 135.1H558.4V159.1H522.3ZM541.4 135.1V159.1M461.6 178.2H510.2M549.3 178.2H599.5M510.2 166.2H549.3V190.2H510.2ZM533.8 166.2V190.2M359.8 209.3H463.2M535.5 209.3H597.8M463.2 197.3H535.5V221.3H463.2ZM510.2 197.3V221.3M461 240.4H515.8M552.9 240.4H606M515.8 228.4H552.9V252.4H515.8ZM536 228.4V252.4M461.6 271.5H516.7M552.9 271.5H607.7M516.7 259.5H552.9V283.5H516.7ZM534.8 259.5V283.5M458.3 302.6H512.5M549.6 302.6H602.8M512.5 290.6H549.6V314.6H512.5ZM532 290.6V314.6M461.6 333.7H516.7M552 333.7H606M516.7 321.7H552V345.7H516.7ZM535.8 321.7V345.7M470.8 364.8H523M558.4 364.8H611M523 352.8H558.4V376.8H523ZM543 352.8V376.8M466.5 395.9H520.7M556.8 395.9H608.7M520.7 383.9H556.8V407.9H520.7ZM540.4 383.9V407.9M464 427H517.4M553.5 427H607.7M517.4 415H553.5V439H517.4ZM537 415V439M468.2 458.1H523M558.4 458.1H611M523 446.1H558.4V470.1H523ZM541.4 446.1V470.1M456.7 489.2H512.5M549.3 489.2H602.8M512.5 477.2H549.3V501.2H512.5ZM531 477.2V501.2M461.6 520.3H516.7M552.9 520.3H606M516.7 508.3H552.9V532.3H516.7ZM536 508.3V532.3M466.5 551.4H520M556 551.4H608.7M520 539.4H556V563.4H520ZM538.7 539.4V563.4" fill="none" stroke="#EC7A72" stroke-width="2.3"/>
<path d="M133 97.5V569.9H693" fill="none" stroke="#000" stroke-width="1.9"/>
<path d="M128.5 116H133M128.5 147.1H133M128.5 178.2H133M128.5 209.3H133M128.5 240.4H133M128.5 271.5H133M128.5 302.6H133M128.5 333.7H133M128.5 364.8H133M128.5 395.9H133M128.5 427H133M128.5 458.1H133M128.5 489.2H133M128.5 520.3H133M128.5 551.4H133M183.3 569.9V574.4M358 569.9V574.4M532 569.9V574.4" stroke="#333" stroke-width="1.6"/>
<text x="125" y="121" font-size="13.9" text-anchor="end" fill="#4D4D4D">intergenic</text>
<text x="125" y="152.1" font-size="13.9" text-anchor="end" fill="#4D4D4D">non−targeting</text>
<text x="125" y="183.2" font-size="13.9" text-anchor="end" fill="#4D4D4D">non−essential</text>
<text x="125" y="214.3" font-size="13.9" text-anchor="end" fill="#4D4D4D">essential</text>
<text x="125" y="245.4" font-size="13.9" text-anchor="end" fill="#4D4D4D">MYC</text>
<text x="125" y="276.5" font-size="13.9" text-anchor="end" fill="#4D4D4D">EGFR</text>
<text x="125" y="307.6" font-size="13.9" text-anchor="end" fill="#4D4D4D">KRAS</text>
<text x="125" y="338.7" font-size="13.9" text-anchor="end" fill="#4D4D4D">BRAF</text>
<text x="125" y="369.8" font-size="13.9" text-anchor="end" fill="#4D4D4D">MAP2K2</text>
<text x="125" y="400.9" font-size="13.9" text-anchor="end" fill="#4D4D4D">MAP2K1</text>
<text x="125" y="432" font-size="13.9" text-anchor="end" fill="#4D4D4D">BCL2</text>
<text x="125" y="463.1" font-size="13.9" text-anchor="end" fill="#4D4D4D">AKT1</text>
<text x="125" y="494.2" font-size="13.9" text-anchor="end" fill="#4D4D4D">PIK3CA</text>
<text x="125" y="525.3" font-size="13.9" text-anchor="end" fill="#4D4D4D">PARP2</text>
<text x="125" y="556.4" font-size="13.9" text-anchor="end" fill="#4D4D4D">PARP1</text>
<text x="183.3" y="587.8" font-size="13.9" text-anchor="middle" fill="#4D4D4D">−10</text>
<text x="358" y="587.8" font-size="13.9" text-anchor="middle" fill="#4D4D4D">−5</text>
<text x="532" y="587.8" font-size="13.9" text-anchor="middle" fill="#4D4D4D">0</text>
<text x="413" y="606.4" font-size="17" text-anchor="middle" fill="#000">H23 control vs plasmid (z−score)</text>
<text x="1354" y="211.9" font-size="14.4" font-weight="bold" fill="#000">p= 1e−27</text>
<path d="M1281 112.2L1297 105.1H1347L1357 111.6V120.4L1347 126.9H1297L1281 119.8ZM1292 143.3L1308 136.2H1346L1356 142.7V151.5L1346 158H1308L1292 150.9ZM1274 174.4L1290 167.3H1328L1338 173.8V182.6L1328 189.1H1290L1274 182ZM1195 205.5L1211 198.4H1335L1345 204.9V213.7L1335 220.2H1211L1195 213.1ZM1215 236.6L1231 229.5H1344L1354 236V244.8L1344 251.3H1231L1215 244.2ZM1125 267.7L1141 260.6H1360L1370 267.1V275.9L1360 282.4H1141L1125 275.3ZM1205 298.8L1221 291.7H1344L1354 298.2V307L1344 313.5H1221L1205 306.4ZM1200 329.9L1216 322.8H1350L1360 329.3V338.1L1350 344.6H1216L1200 337.5ZM1225 361L1241 353.9H1352L1362 360.4V369.2L1352 375.7H1241L1225 368.6ZM1220 392.1L1236 385H1349L1359 391.5V400.3L1349 406.8H1236L1220 399.7ZM1205 423.2L1221 416.1H1350L1360 422.6V431.4L1350 437.9H1221L1205 430.8ZM1225 454.3L1241 447.2H1351L1361 453.7V462.5L1351 469H1241L1225 461.9ZM1215 485.4L1231 478.3H1345L1355 484.8V493.6L1345 500.1H1231L1215 493ZM1215 516.5L1231 509.4H1346L1356 515.9V524.7L1346 531.2H1231L1215 524.1ZM1200 547.6L1216 540.5H1350L1360 547V555.8L1350 562.3H1216L1200 555.2Z" fill="#000"/>
<g fill="none" stroke="#000" stroke-width="1.65"><circle cx="1284.4" cy="122.3" r="4.7"/><circle cx="1317.3" cy="121.4" r="4.7"/><circle cx="1326.9" cy="120.8" r="4.7"/><circle cx="1340.6" cy="110.4" r="4.7"/><circle cx="1348.7" cy="110.6" r="4.7"/><circle cx="1306.9" cy="121.2" r="4.7"/><circle cx="1332.7" cy="111" r="4.7"/><circle cx="1298.1" cy="110.9" r="4.7"/><circle cx="1299.4" cy="110.2" r="4.7"/><circle cx="1291.8" cy="109" r="4.7"/><circle cx="1322.7" cy="109.4" r="4.7"/><circle cx="1293.7" cy="111.1" r="4.7"/><circle cx="1318.8" cy="121.8" r="4.7"/><circle cx="1328.3" cy="109.8" r="4.7"/><circle cx="1353.3" cy="111" r="4.7"/><circle cx="1294.6" cy="111.1" r="4.7"/><circle cx="1334" cy="110.9" r="4.7"/><circle cx="1294.7" cy="110.7" r="4.7"/><circle cx="1308.8" cy="110.4" r="4.7"/><circle cx="1353.5" cy="121.5" r="4.7"/><circle cx="1312.4" cy="121.3" r="4.7"/><circle cx="1353.2" cy="110.8" r="4.7"/><circle cx="1347.3" cy="122.2" r="4.7"/><circle cx="1268.1" cy="115.2" r="4.7"/><circle cx="1269.5" cy="121.6" r="4.7"/><circle cx="1262.1" cy="116.7" r="4.7"/><circle cx="1256.7" cy="109.3" r="4.7"/><circle cx="1276.3" cy="109.4" r="4.7"/><circle cx="1269.1" cy="118.2" r="4.7"/><circle cx="1273.8" cy="111.1" r="4.7"/><circle cx="1283.9" cy="120" r="4.7"/><circle cx="1273.6" cy="116" r="4.7"/><circle cx="1266.6" cy="111.3" r="4.7"/><circle cx="1268.5" cy="116" r="4.7"/><circle cx="1254.6" cy="118.8" r="4.7"/><circle cx="1253.7" cy="120.8" r="4.7"/><circle cx="1278.5" cy="118.8" r="4.7"/><circle cx="1282.3" cy="114.4" r="4.7"/><circle cx="1267.8" cy="113.7" r="4.7"/><circle cx="1274.9" cy="117.1" r="4.7"/><circle cx="1251.3" cy="111.3" r="4.7"/><circle cx="1256.2" cy="111.7" r="4.7"/><circle cx="1250.4" cy="112" r="4.7"/><circle cx="1267.7" cy="117.6" r="4.7"/><circle cx="1284" cy="117.1" r="4.7"/><circle cx="1279.5" cy="118" r="4.7"/><circle cx="1272" cy="120.2" r="4.7"/><circle cx="1279.2" cy="117" r="4.7"/><circle cx="1272.6" cy="122.2" r="4.7"/><circle cx="1258.2" cy="122.7" r="4.7"/><circle cx="1274.5" cy="120.5" r="4.7"/><circle cx="1283.9" cy="115" r="4.7"/><circle cx="1283.6" cy="114.8" r="4.7"/><circle cx="1280.2" cy="116.1" r="4.7"/><circle cx="1265.9" cy="109.2" r="4.7"/><circle cx="1270.9" cy="110.9" r="4.7"/><circle cx="1278.1" cy="121.2" r="4.7"/><circle cx="1270.2" cy="115.1" r="4.7"/><circle cx="1256.8" cy="120.3" r="4.7"/><circle cx="1283.6" cy="115.3" r="4.7"/><circle cx="1278.4" cy="109.6" r="4.7"/><circle cx="1259.5" cy="113.2" r="4.7"/><circle cx="1283.8" cy="112.7" r="4.7"/><circle cx="1262.2" cy="111.9" r="4.7"/><circle cx="1274" cy="116" r="4.7"/><circle cx="1273.3" cy="119.7" r="4.7"/><circle cx="1359.6" cy="118" r="4.7"/><circle cx="1355.3" cy="118" r="4.7"/><circle cx="1355.6" cy="118.5" r="4.7"/><circle cx="1359.6" cy="122.3" r="4.7"/><circle cx="1354.1" cy="120.6" r="4.7"/><circle cx="1361.2" cy="113.2" r="4.7"/><circle cx="1358.4" cy="121" r="4.7"/><circle cx="1360.1" cy="122" r="4.7"/><circle cx="1355.9" cy="120.8" r="4.7"/><circle cx="1361.8" cy="112.7" r="4.7"/><circle cx="1357.4" cy="115.2" r="4.7"/><circle cx="1354" cy="110.2" r="4.7"/><circle cx="1244" cy="120" r="4.7"/><circle cx="1252" cy="121.3" r="4.7"/><circle cx="1306.9" cy="153.9" r="4.7"/><circle cx="1298.8" cy="152.7" r="4.7"/><circle cx="1350" cy="140.1" r="4.7"/><circle cx="1332.7" cy="140.8" r="4.7"/><circle cx="1344.3" cy="152.7" r="4.7"/><circle cx="1303.8" cy="141.2" r="4.7"/><circle cx="1341.2" cy="152.5" r="4.7"/><circle cx="1297.7" cy="140.2" r="4.7"/><circle cx="1330.8" cy="140.8" r="4.7"/><circle cx="1326" cy="152.4" r="4.7"/><circle cx="1319" cy="153.8" r="4.7"/><circle cx="1334.9" cy="152.4" r="4.7"/><circle cx="1321.8" cy="140.2" r="4.7"/><circle cx="1303.6" cy="141" r="4.7"/><circle cx="1318.3" cy="140.2" r="4.7"/><circle cx="1347.9" cy="153" r="4.7"/><circle cx="1310.1" cy="152.1" r="4.7"/><circle cx="1323.8" cy="152.3" r="4.7"/><circle cx="1347.2" cy="152.8" r="4.7"/><circle cx="1300.7" cy="141.2" r="4.7"/><circle cx="1290.4" cy="144.8" r="4.7"/><circle cx="1278.2" cy="142.7" r="4.7"/><circle cx="1266.9" cy="144.6" r="4.7"/><circle cx="1284" cy="153.4" r="4.7"/><circle cx="1284.1" cy="145.3" r="4.7"/><circle cx="1266.4" cy="153.1" r="4.7"/><circle cx="1271.6" cy="146.8" r="4.7"/><circle cx="1255.5" cy="142.9" r="4.7"/><circle cx="1253.3" cy="149.4" r="4.7"/><circle cx="1293" cy="142.8" r="4.7"/><circle cx="1292.7" cy="144.2" r="4.7"/><circle cx="1270.7" cy="150" r="4.7"/><circle cx="1277.8" cy="146" r="4.7"/><circle cx="1292.3" cy="141.2" r="4.7"/><circle cx="1281.4" cy="149.3" r="4.7"/><circle cx="1268" cy="143.5" r="4.7"/><circle cx="1294.1" cy="144.2" r="4.7"/><circle cx="1294.3" cy="142.9" r="4.7"/><circle cx="1278.1" cy="149.4" r="4.7"/><circle cx="1290.8" cy="153.7" r="4.7"/><circle cx="1294.4" cy="144.1" r="4.7"/><circle cx="1258.1" cy="149.8" r="4.7"/><circle cx="1281.4" cy="145" r="4.7"/><circle cx="1270.7" cy="147.6" r="4.7"/><circle cx="1292.9" cy="148.1" r="4.7"/><circle cx="1251" cy="152.7" r="4.7"/><circle cx="1292" cy="143.1" r="4.7"/><circle cx="1294" cy="148.3" r="4.7"/><circle cx="1268.8" cy="153.4" r="4.7"/><circle cx="1272.8" cy="145.5" r="4.7"/><circle cx="1250.6" cy="140.6" r="4.7"/><circle cx="1277.2" cy="149.8" r="4.7"/><circle cx="1285.4" cy="151.6" r="4.7"/><circle cx="1258.3" cy="147.3" r="4.7"/><circle cx="1285.2" cy="152.2" r="4.7"/><circle cx="1295" cy="140.6" r="4.7"/><circle cx="1294.8" cy="146.1" r="4.7"/><circle cx="1280.6" cy="145.5" r="4.7"/><circle cx="1287.4" cy="145.2" r="4.7"/><circle cx="1293.8" cy="152.9" r="4.7"/><circle cx="1287.5" cy="147.7" r="4.7"/><circle cx="1293.3" cy="142.3" r="4.7"/><circle cx="1294.1" cy="151.2" r="4.7"/><circle cx="1293.9" cy="144.5" r="4.7"/><circle cx="1278.8" cy="141.5" r="4.7"/><circle cx="1282.2" cy="146.6" r="4.7"/><circle cx="1268.2" cy="150.2" r="4.7"/><circle cx="1291.7" cy="142.1" r="4.7"/><circle cx="1255.8" cy="140.3" r="4.7"/><circle cx="1258.1" cy="145.1" r="4.7"/><circle cx="1266.7" cy="151.7" r="4.7"/><circle cx="1277.6" cy="146.1" r="4.7"/><circle cx="1283.2" cy="140.8" r="4.7"/><circle cx="1252" cy="153.9" r="4.7"/><circle cx="1294.8" cy="153.8" r="4.7"/><circle cx="1291.6" cy="140.7" r="4.7"/><circle cx="1255.9" cy="142.9" r="4.7"/><circle cx="1355.2" cy="150.9" r="4.7"/><circle cx="1365.1" cy="144.9" r="4.7"/><circle cx="1353.3" cy="150.6" r="4.7"/><circle cx="1353.3" cy="150.9" r="4.7"/><circle cx="1358.2" cy="149.7" r="4.7"/><circle cx="1354.1" cy="146.2" r="4.7"/><circle cx="1370" cy="141.7" r="4.7"/><circle cx="1359.5" cy="153" r="4.7"/><circle cx="1361.1" cy="147.1" r="4.7"/><circle cx="1371.7" cy="150.3" r="4.7"/><circle cx="1364.8" cy="151.5" r="4.7"/><circle cx="1366" cy="144.1" r="4.7"/><circle cx="1353.1" cy="140.9" r="4.7"/><circle cx="1359.7" cy="150.5" r="4.7"/><circle cx="1354.3" cy="145.8" r="4.7"/><circle cx="1354.8" cy="143.1" r="4.7"/><circle cx="1355.2" cy="146.5" r="4.7"/><circle cx="1354.9" cy="146.6" r="4.7"/><circle cx="1363.8" cy="149.3" r="4.7"/><circle cx="1353.5" cy="145.8" r="4.7"/><circle cx="1360" cy="144.2" r="4.7"/><circle cx="1356.8" cy="143.6" r="4.7"/><circle cx="1362.8" cy="144.8" r="4.7"/><circle cx="1353.1" cy="145.9" r="4.7"/><circle cx="1367.5" cy="141.2" r="4.7"/><circle cx="1254" cy="141.4" r="4.7"/><circle cx="1260" cy="141" r="4.7"/><circle cx="1268" cy="142.8" r="4.7"/><circle cx="1276" cy="143.8" r="4.7"/><circle cx="1367" cy="148.9" r="4.7"/><circle cx="1371" cy="145.5" r="4.7"/><circle cx="1316.8" cy="183.4" r="4.7"/><circle cx="1316.2" cy="184.3" r="4.7"/><circle cx="1302.9" cy="171.3" r="4.7"/><circle cx="1324.9" cy="183.3" r="4.7"/><circle cx="1280" cy="183.3" r="4.7"/><circle cx="1317.1" cy="172.1" r="4.7"/><circle cx="1334.6" cy="171.6" r="4.7"/><circle cx="1323.4" cy="173.1" r="4.7"/><circle cx="1295.3" cy="172.9" r="4.7"/><circle cx="1332.9" cy="183.8" r="4.7"/><circle cx="1317.7" cy="183.9" r="4.7"/><circle cx="1325.6" cy="171.2" r="4.7"/><circle cx="1302.3" cy="173.1" r="4.7"/><circle cx="1308.6" cy="185" r="4.7"/><circle cx="1314.2" cy="171.9" r="4.7"/><circle cx="1291.6" cy="173.1" r="4.7"/><circle cx="1298.8" cy="173.4" r="4.7"/><circle cx="1278.5" cy="183.2" r="4.7"/><circle cx="1294.4" cy="184.9" r="4.7"/><circle cx="1320.9" cy="185.2" r="4.7"/><circle cx="1253.9" cy="184.4" r="4.7"/><circle cx="1258.7" cy="174" r="4.7"/><circle cx="1261.4" cy="178" r="4.7"/><circle cx="1269.8" cy="176.5" r="4.7"/><circle cx="1261.8" cy="179.4" r="4.7"/><circle cx="1273.6" cy="175.1" r="4.7"/><circle cx="1262.2" cy="178.3" r="4.7"/><circle cx="1266.4" cy="180.5" r="4.7"/><circle cx="1274.5" cy="178.6" r="4.7"/><circle cx="1272" cy="181.9" r="4.7"/><circle cx="1249.9" cy="182.1" r="4.7"/><circle cx="1261.4" cy="174.7" r="4.7"/><circle cx="1232.6" cy="178.3" r="4.7"/><circle cx="1268.3" cy="175.3" r="4.7"/><circle cx="1267.1" cy="181.1" r="4.7"/><circle cx="1241.4" cy="178" r="4.7"/><circle cx="1248" cy="174.2" r="4.7"/><circle cx="1264.8" cy="176.2" r="4.7"/><circle cx="1270.9" cy="176.3" r="4.7"/><circle cx="1246.3" cy="181.4" r="4.7"/><circle cx="1274" cy="174.5" r="4.7"/><circle cx="1244.1" cy="180.3" r="4.7"/><circle cx="1251.8" cy="180.1" r="4.7"/><circle cx="1250.6" cy="175.1" r="4.7"/><circle cx="1276.7" cy="176.3" r="4.7"/><circle cx="1276.9" cy="184.6" r="4.7"/><circle cx="1261" cy="180.5" r="4.7"/><circle cx="1229" cy="182.4" r="4.7"/><circle cx="1273.4" cy="175.9" r="4.7"/><circle cx="1276.1" cy="182.3" r="4.7"/><circle cx="1247.5" cy="178" r="4.7"/><circle cx="1268.5" cy="175" r="4.7"/><circle cx="1263" cy="181.1" r="4.7"/><circle cx="1235.2" cy="183" r="4.7"/><circle cx="1237.5" cy="177.4" r="4.7"/><circle cx="1266.2" cy="175.6" r="4.7"/><circle cx="1228.3" cy="173.8" r="4.7"/><circle cx="1275.2" cy="175.2" r="4.7"/><circle cx="1232.9" cy="183.1" r="4.7"/><circle cx="1270" cy="183.1" r="4.7"/><circle cx="1235.6" cy="177.2" r="4.7"/><circle cx="1274.4" cy="182" r="4.7"/><circle cx="1268.3" cy="172.9" r="4.7"/><circle cx="1234.6" cy="177.4" r="4.7"/><circle cx="1267.3" cy="179.5" r="4.7"/><circle cx="1272.6" cy="171.6" r="4.7"/><circle cx="1267.6" cy="176.5" r="4.7"/><circle cx="1277" cy="176.4" r="4.7"/><circle cx="1245.8" cy="175.9" r="4.7"/><circle cx="1251.6" cy="179.9" r="4.7"/><circle cx="1274.5" cy="171.6" r="4.7"/><circle cx="1251.9" cy="179.7" r="4.7"/><circle cx="1271.4" cy="174.1" r="4.7"/><circle cx="1238.5" cy="183.8" r="4.7"/><circle cx="1273.3" cy="179.4" r="4.7"/><circle cx="1258.2" cy="175.7" r="4.7"/><circle cx="1276.9" cy="175.8" r="4.7"/><circle cx="1253.9" cy="179.6" r="4.7"/><circle cx="1261.8" cy="173" r="4.7"/><circle cx="1273.9" cy="175.6" r="4.7"/><circle cx="1266.5" cy="176.3" r="4.7"/><circle cx="1234.6" cy="172.9" r="4.7"/><circle cx="1227.2" cy="174.6" r="4.7"/><circle cx="1238.4" cy="174.7" r="4.7"/><circle cx="1257.4" cy="176.5" r="4.7"/><circle cx="1335.1" cy="182.3" r="4.7"/><circle cx="1350" cy="175" r="4.7"/><circle cx="1349" cy="177.9" r="4.7"/><circle cx="1355.6" cy="172.1" r="4.7"/><circle cx="1339.5" cy="174.4" r="4.7"/><circle cx="1344.9" cy="182" r="4.7"/><circle cx="1351" cy="178.9" r="4.7"/><circle cx="1339.6" cy="182.3" r="4.7"/><circle cx="1335.6" cy="174.9" r="4.7"/><circle cx="1348.3" cy="177.4" r="4.7"/><circle cx="1355.8" cy="172.6" r="4.7"/><circle cx="1341.1" cy="174.2" r="4.7"/><circle cx="1335" cy="172.6" r="4.7"/><circle cx="1335.5" cy="176.4" r="4.7"/><circle cx="1340.5" cy="178.3" r="4.7"/><circle cx="1337.9" cy="181" r="4.7"/><circle cx="1342.3" cy="184.8" r="4.7"/><circle cx="1336.2" cy="178.3" r="4.7"/><circle cx="1341.8" cy="176.4" r="4.7"/><circle cx="1351.5" cy="174.2" r="4.7"/><circle cx="1352" cy="176.2" r="4.7"/><circle cx="1338.7" cy="179.8" r="4.7"/><circle cx="1343.4" cy="175.2" r="4.7"/><circle cx="1335.4" cy="184.5" r="4.7"/><circle cx="1339.3" cy="172.9" r="4.7"/><circle cx="1345.7" cy="178.6" r="4.7"/><circle cx="1338.5" cy="175.8" r="4.7"/><circle cx="1351" cy="176" r="4.7"/><circle cx="1214" cy="177.1" r="4.7"/><circle cx="1217" cy="184.5" r="4.7"/><circle cx="1351" cy="176.3" r="4.7"/><circle cx="1255.7" cy="202.2" r="4.7"/><circle cx="1225.9" cy="214.9" r="4.7"/><circle cx="1234.7" cy="202.7" r="4.7"/><circle cx="1263.8" cy="216" r="4.7"/><circle cx="1205.5" cy="214.6" r="4.7"/><circle cx="1337.2" cy="215.7" r="4.7"/><circle cx="1269.6" cy="215.9" r="4.7"/><circle cx="1276.1" cy="203" r="4.7"/><circle cx="1298.3" cy="216" r="4.7"/><circle cx="1270.3" cy="203" r="4.7"/><circle cx="1324" cy="215.4" r="4.7"/><circle cx="1216.6" cy="215.8" r="4.7"/><circle cx="1213.2" cy="214.8" r="4.7"/><circle cx="1296.1" cy="203" r="4.7"/><circle cx="1305.5" cy="215.4" r="4.7"/><circle cx="1307" cy="215.2" r="4.7"/><circle cx="1277.3" cy="202.6" r="4.7"/><circle cx="1292.3" cy="204.3" r="4.7"/><circle cx="1288.2" cy="203.9" r="4.7"/><circle cx="1320.5" cy="202.4" r="4.7"/><circle cx="1335.6" cy="204.5" r="4.7"/><circle cx="1327" cy="214.3" r="4.7"/><circle cx="1317.6" cy="215.3" r="4.7"/><circle cx="1322.9" cy="203.8" r="4.7"/><circle cx="1289.6" cy="204.2" r="4.7"/><circle cx="1251.4" cy="204.4" r="4.7"/><circle cx="1302.1" cy="204.1" r="4.7"/><circle cx="1239.7" cy="214.8" r="4.7"/><circle cx="1304.2" cy="202.5" r="4.7"/><circle cx="1341.5" cy="215.5" r="4.7"/><circle cx="1338.7" cy="202.6" r="4.7"/><circle cx="1303.9" cy="203.8" r="4.7"/><circle cx="1335.5" cy="215.5" r="4.7"/><circle cx="1322.8" cy="203.6" r="4.7"/><circle cx="1276.2" cy="215.9" r="4.7"/><circle cx="1263.6" cy="202.3" r="4.7"/><circle cx="1229.2" cy="215.8" r="4.7"/><circle cx="1318.4" cy="204.2" r="4.7"/><circle cx="1241.6" cy="204" r="4.7"/><circle cx="1228.7" cy="215.2" r="4.7"/><circle cx="1247.8" cy="214.2" r="4.7"/><circle cx="1307" cy="215" r="4.7"/><circle cx="1220.4" cy="215.8" r="4.7"/><circle cx="1293.1" cy="214.5" r="4.7"/><circle cx="1308.6" cy="216.2" r="4.7"/><circle cx="1265.9" cy="202.7" r="4.7"/><circle cx="1192.7" cy="212.4" r="4.7"/><circle cx="1182.9" cy="213.6" r="4.7"/><circle cx="1196.6" cy="206.2" r="4.7"/><circle cx="1154.7" cy="209.1" r="4.7"/><circle cx="1181.1" cy="210.4" r="4.7"/><circle cx="1191.7" cy="208.4" r="4.7"/><circle cx="1198" cy="213.4" r="4.7"/><circle cx="1189.7" cy="213.9" r="4.7"/><circle cx="1164.4" cy="210.7" r="4.7"/><circle cx="1155.8" cy="204.1" r="4.7"/><circle cx="1135.7" cy="206.4" r="4.7"/><circle cx="1122.9" cy="213.3" r="4.7"/><circle cx="1149.3" cy="213.6" r="4.7"/><circle cx="1175.9" cy="211.7" r="4.7"/><circle cx="1108.2" cy="205" r="4.7"/><circle cx="1196.4" cy="208.1" r="4.7"/><circle cx="1168.9" cy="204.5" r="4.7"/><circle cx="1191.5" cy="214.4" r="4.7"/><circle cx="1180.2" cy="204.5" r="4.7"/><circle cx="1193.4" cy="210.4" r="4.7"/><circle cx="1193.1" cy="209" r="4.7"/><circle cx="1165.9" cy="208.5" r="4.7"/><circle cx="1169.5" cy="213.9" r="4.7"/><circle cx="1197.9" cy="215.2" r="4.7"/><circle cx="1192.6" cy="202.9" r="4.7"/><circle cx="1137.1" cy="210.3" r="4.7"/><circle cx="1165.9" cy="205.4" r="4.7"/><circle cx="1135.2" cy="206.6" r="4.7"/><circle cx="1142.8" cy="205.6" r="4.7"/><circle cx="1162.1" cy="211.3" r="4.7"/><circle cx="1181.5" cy="209" r="4.7"/><circle cx="1197.3" cy="211.3" r="4.7"/><circle cx="1147.6" cy="204.5" r="4.7"/><circle cx="1164.5" cy="212.5" r="4.7"/><circle cx="1196.4" cy="214" r="4.7"/><circle cx="1121.7" cy="203.1" r="4.7"/><circle cx="1190" cy="203.6" r="4.7"/><circle cx="1189.8" cy="203.6" r="4.7"/><circle cx="1170.9" cy="205.9" r="4.7"/><circle cx="1186.8" cy="208.8" r="4.7"/><circle cx="1181.5" cy="213.3" r="4.7"/><circle cx="1143.4" cy="204" r="4.7"/><circle cx="1191.4" cy="202.5" r="4.7"/><circle cx="1184.7" cy="203.9" r="4.7"/><circle cx="1146.8" cy="213.2" r="4.7"/><circle cx="1100.7" cy="205.3" r="4.7"/><circle cx="1197.7" cy="212.8" r="4.7"/><circle cx="1178.2" cy="215.2" r="4.7"/><circle cx="1179.8" cy="206.7" r="4.7"/><circle cx="1197.1" cy="215.5" r="4.7"/><circle cx="1168.6" cy="208.5" r="4.7"/><circle cx="1175.9" cy="213" r="4.7"/><circle cx="1127.8" cy="209" r="4.7"/><circle cx="1193.6" cy="208" r="4.7"/><circle cx="1118.3" cy="208" r="4.7"/><circle cx="1151.5" cy="210.1" r="4.7"/><circle cx="1173.7" cy="210.3" r="4.7"/><circle cx="1190.2" cy="210.1" r="4.7"/><circle cx="1122.6" cy="203.5" r="4.7"/><circle cx="1181.7" cy="214.6" r="4.7"/><circle cx="1103.8" cy="202.6" r="4.7"/><circle cx="1155.7" cy="211.1" r="4.7"/><circle cx="1125.9" cy="208.9" r="4.7"/><circle cx="1195.5" cy="206.5" r="4.7"/><circle cx="1144.7" cy="212.5" r="4.7"/><circle cx="1192.4" cy="211.3" r="4.7"/><circle cx="1152" cy="211.5" r="4.7"/><circle cx="1197.9" cy="208.5" r="4.7"/><circle cx="1185" cy="210.6" r="4.7"/><circle cx="1184.2" cy="204.2" r="4.7"/><circle cx="1150.3" cy="206.4" r="4.7"/><circle cx="1133.8" cy="206.6" r="4.7"/><circle cx="1165" cy="213.6" r="4.7"/><circle cx="1196" cy="212.5" r="4.7"/><circle cx="1197.2" cy="215.3" r="4.7"/><circle cx="1197.9" cy="212.4" r="4.7"/><circle cx="1181.7" cy="204.9" r="4.7"/><circle cx="1179.6" cy="209.3" r="4.7"/><circle cx="1177.9" cy="204.1" r="4.7"/><circle cx="1167.5" cy="206.5" r="4.7"/><circle cx="1105.7" cy="207.7" r="4.7"/><circle cx="1176.1" cy="205.5" r="4.7"/><circle cx="1105.4" cy="206.8" r="4.7"/><circle cx="1153.3" cy="213.9" r="4.7"/><circle cx="1179.7" cy="212.8" r="4.7"/><circle cx="1188.2" cy="203.9" r="4.7"/><circle cx="1197.7" cy="208.6" r="4.7"/><circle cx="1121.1" cy="205.2" r="4.7"/><circle cx="1175.6" cy="212.9" r="4.7"/><circle cx="1188.3" cy="204.5" r="4.7"/><circle cx="1167.9" cy="208.3" r="4.7"/><circle cx="1110.6" cy="214.8" r="4.7"/><circle cx="1190.6" cy="210.1" r="4.7"/><circle cx="1177.8" cy="202.9" r="4.7"/><circle cx="1175.2" cy="215" r="4.7"/><circle cx="1186.6" cy="210.5" r="4.7"/><circle cx="1145" cy="203.3" r="4.7"/><circle cx="1113" cy="203.9" r="4.7"/><circle cx="1186.7" cy="212.3" r="4.7"/><circle cx="1197.9" cy="207.6" r="4.7"/><circle cx="1195.6" cy="208.9" r="4.7"/><circle cx="1197.9" cy="204.5" r="4.7"/><circle cx="1191.4" cy="203.5" r="4.7"/><circle cx="1196.7" cy="205.1" r="4.7"/><circle cx="1168" cy="204.3" r="4.7"/><circle cx="1129.3" cy="208.2" r="4.7"/><circle cx="1189.8" cy="205.7" r="4.7"/><circle cx="1126.5" cy="203" r="4.7"/><circle cx="1140.7" cy="203.7" r="4.7"/><circle cx="1109.6" cy="208" r="4.7"/><circle cx="1159.2" cy="214.3" r="4.7"/><circle cx="1196.4" cy="203.3" r="4.7"/><circle cx="1147.3" cy="210.5" r="4.7"/><circle cx="1143.6" cy="206.2" r="4.7"/><circle cx="1170.2" cy="205" r="4.7"/><circle cx="1175.9" cy="206.3" r="4.7"/><circle cx="1160.6" cy="206.5" r="4.7"/><circle cx="1188.4" cy="211.3" r="4.7"/><circle cx="1196.8" cy="213.5" r="4.7"/><circle cx="1170.3" cy="205.6" r="4.7"/><circle cx="1196" cy="209.4" r="4.7"/><circle cx="1169.5" cy="212.3" r="4.7"/><circle cx="1181.3" cy="208.1" r="4.7"/><circle cx="1118.1" cy="206.2" r="4.7"/><circle cx="1103.3" cy="214.7" r="4.7"/><circle cx="1101.7" cy="215.4" r="4.7"/><circle cx="1343.6" cy="213.6" r="4.7"/><circle cx="1348.4" cy="205.2" r="4.7"/><circle cx="1355.9" cy="211.3" r="4.7"/><circle cx="1352" cy="210.1" r="4.7"/><circle cx="1342.2" cy="214.3" r="4.7"/><circle cx="1342.9" cy="206" r="4.7"/><circle cx="1348.5" cy="205.1" r="4.7"/><circle cx="1346.1" cy="212.2" r="4.7"/><circle cx="1342.3" cy="211.5" r="4.7"/><circle cx="1342.4" cy="209" r="4.7"/><circle cx="1349" cy="211.9" r="4.7"/><circle cx="1342.1" cy="205" r="4.7"/><circle cx="1355.1" cy="207.8" r="4.7"/><circle cx="1345.6" cy="207.6" r="4.7"/><circle cx="1349.8" cy="212.6" r="4.7"/><circle cx="1349" cy="208" r="4.7"/><circle cx="1347.7" cy="209.5" r="4.7"/><circle cx="1343" cy="215.5" r="4.7"/><circle cx="970" cy="215.7" r="4.7"/><circle cx="1031" cy="213.1" r="4.7"/><circle cx="1050.6" cy="216.1" r="4.7"/><circle cx="1079" cy="208.8" r="4.7"/><circle cx="1095" cy="214" r="4.7"/><circle cx="1249.5" cy="234" r="4.7"/><circle cx="1343.7" cy="247.2" r="4.7"/><circle cx="1253.1" cy="246.3" r="4.7"/><circle cx="1259.2" cy="247.5" r="4.7"/><circle cx="1337.2" cy="233.7" r="4.7"/><circle cx="1307.4" cy="235.4" r="4.7"/><circle cx="1337.4" cy="234.5" r="4.7"/><circle cx="1333.8" cy="235.3" r="4.7"/><circle cx="1291.4" cy="247.4" r="4.7"/><circle cx="1256" cy="235" r="4.7"/><circle cx="1270.3" cy="233.4" r="4.7"/><circle cx="1246.7" cy="245.2" r="4.7"/><circle cx="1333.3" cy="247" r="4.7"/><circle cx="1229.7" cy="234.7" r="4.7"/><circle cx="1249.5" cy="234.5" r="4.7"/><circle cx="1273.6" cy="235" r="4.7"/><circle cx="1255.7" cy="234.7" r="4.7"/><circle cx="1350.6" cy="233.8" r="4.7"/><circle cx="1296.8" cy="246.5" r="4.7"/><circle cx="1326.7" cy="233.5" r="4.7"/><circle cx="1279.5" cy="246.1" r="4.7"/><circle cx="1242.8" cy="246.6" r="4.7"/><circle cx="1341.5" cy="246.5" r="4.7"/><circle cx="1261" cy="246.4" r="4.7"/><circle cx="1222.1" cy="246.8" r="4.7"/><circle cx="1342.7" cy="246.7" r="4.7"/><circle cx="1343.5" cy="246.2" r="4.7"/><circle cx="1280.1" cy="247.3" r="4.7"/><circle cx="1310" cy="233.7" r="4.7"/><circle cx="1250.5" cy="235.1" r="4.7"/><circle cx="1245.2" cy="245.6" r="4.7"/><circle cx="1262" cy="246.3" r="4.7"/><circle cx="1223.3" cy="233.7" r="4.7"/><circle cx="1224.8" cy="245.4" r="4.7"/><circle cx="1278.1" cy="233.6" r="4.7"/><circle cx="1317.3" cy="234.6" r="4.7"/><circle cx="1331.7" cy="234.3" r="4.7"/><circle cx="1249.1" cy="246.6" r="4.7"/><circle cx="1273.1" cy="234.1" r="4.7"/><circle cx="1285.2" cy="245.3" r="4.7"/><circle cx="1323.4" cy="245.7" r="4.7"/><circle cx="1262.3" cy="235.5" r="4.7"/><circle cx="1330.7" cy="247.2" r="4.7"/><circle cx="1202.9" cy="240.3" r="4.7"/><circle cx="1208.7" cy="234.9" r="4.7"/><circle cx="1208.5" cy="237.9" r="4.7"/><circle cx="1167.5" cy="242.2" r="4.7"/><circle cx="1207.1" cy="246.7" r="4.7"/><circle cx="1202.4" cy="240.8" r="4.7"/><circle cx="1217.1" cy="234.9" r="4.7"/><circle cx="1192.3" cy="240.4" r="4.7"/><circle cx="1206" cy="240.5" r="4.7"/><circle cx="1217.9" cy="243.6" r="4.7"/><circle cx="1204" cy="244.1" r="4.7"/><circle cx="1177.5" cy="237.7" r="4.7"/><circle cx="1195.9" cy="239.3" r="4.7"/><circle cx="1196.5" cy="242.7" r="4.7"/><circle cx="1218" cy="240" r="4.7"/><circle cx="1173.1" cy="238.3" r="4.7"/><circle cx="1204.1" cy="234.9" r="4.7"/><circle cx="1194.4" cy="241.8" r="4.7"/><circle cx="1217.7" cy="237.7" r="4.7"/><circle cx="1214" cy="244.9" r="4.7"/><circle cx="1207.5" cy="245.7" r="4.7"/><circle cx="1181.6" cy="242.6" r="4.7"/><circle cx="1206" cy="245.7" r="4.7"/><circle cx="1194" cy="241.5" r="4.7"/><circle cx="1216.3" cy="243.6" r="4.7"/><circle cx="1211.6" cy="246" r="4.7"/><circle cx="1217.8" cy="237.5" r="4.7"/><circle cx="1191.8" cy="235.5" r="4.7"/><circle cx="1188.6" cy="243.2" r="4.7"/><circle cx="1184.3" cy="236.9" r="4.7"/><circle cx="1172" cy="235.8" r="4.7"/><circle cx="1213.1" cy="243.6" r="4.7"/><circle cx="1178.4" cy="243.8" r="4.7"/><circle cx="1188" cy="247" r="4.7"/><circle cx="1184" cy="242" r="4.7"/><circle cx="1216.4" cy="244.6" r="4.7"/><circle cx="1179.9" cy="234.9" r="4.7"/><circle cx="1205.6" cy="245.7" r="4.7"/><circle cx="1168.1" cy="235.6" r="4.7"/><circle cx="1205.1" cy="245.2" r="4.7"/><circle cx="1167.2" cy="237.5" r="4.7"/><circle cx="1208.9" cy="240.8" r="4.7"/><circle cx="1181.8" cy="234.2" r="4.7"/><circle cx="1216.8" cy="245.1" r="4.7"/><circle cx="1218" cy="245" r="4.7"/><circle cx="1190.7" cy="243.8" r="4.7"/><circle cx="1210.7" cy="234.5" r="4.7"/><circle cx="1208.5" cy="246.3" r="4.7"/><circle cx="1199.9" cy="234.1" r="4.7"/><circle cx="1174.9" cy="245.3" r="4.7"/><circle cx="1204.6" cy="243.9" r="4.7"/><circle cx="1203.1" cy="245.1" r="4.7"/><circle cx="1216.8" cy="245.7" r="4.7"/><circle cx="1216.1" cy="237.7" r="4.7"/><circle cx="1172.7" cy="234.2" r="4.7"/><circle cx="1171.8" cy="237.1" r="4.7"/><circle cx="1173.1" cy="236" r="4.7"/><circle cx="1205.7" cy="240.7" r="4.7"/><circle cx="1181" cy="247" r="4.7"/><circle cx="1165.7" cy="235.3" r="4.7"/><circle cx="1215.4" cy="243.2" r="4.7"/><circle cx="1207.9" cy="235.5" r="4.7"/><circle cx="1191" cy="239.7" r="4.7"/><circle cx="1181" cy="241.8" r="4.7"/><circle cx="1215.4" cy="242" r="4.7"/><circle cx="1208.8" cy="235.6" r="4.7"/><circle cx="1189.7" cy="233.8" r="4.7"/><circle cx="1175.3" cy="236.3" r="4.7"/><circle cx="1211.5" cy="233.6" r="4.7"/><circle cx="1354" cy="243.7" r="4.7"/><circle cx="1366.8" cy="242.9" r="4.7"/><circle cx="1363.8" cy="241" r="4.7"/><circle cx="1355.9" cy="234.8" r="4.7"/><circle cx="1355.2" cy="236" r="4.7"/><circle cx="1352.5" cy="246.4" r="4.7"/><circle cx="1351" cy="246" r="4.7"/><circle cx="1355.2" cy="235.2" r="4.7"/><circle cx="1356.1" cy="234.2" r="4.7"/><circle cx="1367.4" cy="242.1" r="4.7"/><circle cx="1351.6" cy="239" r="4.7"/><circle cx="1352.4" cy="241.6" r="4.7"/><circle cx="1355.8" cy="238.3" r="4.7"/><circle cx="1356.1" cy="238.5" r="4.7"/><circle cx="1364.9" cy="245.6" r="4.7"/><circle cx="1351.2" cy="239.3" r="4.7"/><circle cx="1353.5" cy="235.1" r="4.7"/><circle cx="1355.8" cy="239.6" r="4.7"/><circle cx="1352.2" cy="245.6" r="4.7"/><circle cx="1363.5" cy="237.7" r="4.7"/><circle cx="1359.4" cy="234.7" r="4.7"/><circle cx="1351.6" cy="234.4" r="4.7"/><circle cx="1355.9" cy="239.4" r="4.7"/><circle cx="1356.8" cy="239" r="4.7"/><circle cx="950" cy="236.7" r="4.7"/><circle cx="960" cy="243.2" r="4.7"/><circle cx="1000" cy="242.3" r="4.7"/><circle cx="1018" cy="240.6" r="4.7"/><circle cx="1095" cy="236.1" r="4.7"/><circle cx="1105" cy="233.6" r="4.7"/><circle cx="1115" cy="245.6" r="4.7"/><circle cx="1127" cy="245" r="4.7"/><circle cx="1145" cy="246.8" r="4.7"/><circle cx="1150" cy="238.2" r="4.7"/><circle cx="1155" cy="242.4" r="4.7"/><circle cx="1371" cy="241.2" r="4.7"/><circle cx="1376" cy="243.5" r="4.7"/><circle cx="1380" cy="234.7" r="4.7"/><circle cx="1221.6" cy="266" r="4.7"/><circle cx="1251.1" cy="277" r="4.7"/><circle cx="1327.1" cy="278.4" r="4.7"/><circle cx="1345.3" cy="277.7" r="4.7"/><circle cx="1276.7" cy="264.6" r="4.7"/><circle cx="1281.3" cy="265.7" r="4.7"/><circle cx="1365.8" cy="266.1" r="4.7"/><circle cx="1256.2" cy="277.2" r="4.7"/><circle cx="1326.7" cy="265.7" r="4.7"/><circle cx="1131.9" cy="278" r="4.7"/><circle cx="1295.2" cy="266.5" r="4.7"/><circle cx="1362.7" cy="266" r="4.7"/><circle cx="1175.9" cy="277.6" r="4.7"/><circle cx="1341.6" cy="277.8" r="4.7"/><circle cx="1215.1" cy="266.2" r="4.7"/><circle cx="1201.4" cy="265.4" r="4.7"/><circle cx="1234.8" cy="277.8" r="4.7"/><circle cx="1264.5" cy="266.1" r="4.7"/><circle cx="1278.1" cy="277.1" r="4.7"/><circle cx="1219.9" cy="278" r="4.7"/><circle cx="1136" cy="277.6" r="4.7"/><circle cx="1176.9" cy="264.8" r="4.7"/><circle cx="1140.6" cy="278.1" r="4.7"/><circle cx="1341.3" cy="265.6" r="4.7"/><circle cx="1199" cy="277.5" r="4.7"/><circle cx="1137.3" cy="266.3" r="4.7"/><circle cx="1176.9" cy="265.8" r="4.7"/><circle cx="1348.5" cy="277.1" r="4.7"/><circle cx="1161.1" cy="277.8" r="4.7"/><circle cx="1181.1" cy="266.5" r="4.7"/><circle cx="1205.3" cy="277.7" r="4.7"/><circle cx="1194.3" cy="278.6" r="4.7"/><circle cx="1191.3" cy="276.7" r="4.7"/><circle cx="1323.6" cy="278.5" r="4.7"/><circle cx="1344.1" cy="265.3" r="4.7"/><circle cx="1284.6" cy="278.1" r="4.7"/><circle cx="1142.7" cy="278.5" r="4.7"/><circle cx="1289" cy="265.2" r="4.7"/><circle cx="1151.1" cy="277.2" r="4.7"/><circle cx="1276.3" cy="276.3" r="4.7"/><circle cx="1234.2" cy="278.1" r="4.7"/><circle cx="1300.2" cy="277.4" r="4.7"/><circle cx="1265" cy="266" r="4.7"/><circle cx="1301.3" cy="277.6" r="4.7"/><circle cx="1242.1" cy="278.2" r="4.7"/><circle cx="1364.5" cy="276.5" r="4.7"/><circle cx="1335.6" cy="265.3" r="4.7"/><circle cx="1293.9" cy="277.4" r="4.7"/><circle cx="1231.9" cy="265.6" r="4.7"/><circle cx="1135.8" cy="265.9" r="4.7"/><circle cx="1314.4" cy="277" r="4.7"/><circle cx="1292.9" cy="265.2" r="4.7"/><circle cx="1233.8" cy="266" r="4.7"/><circle cx="1245.5" cy="265" r="4.7"/><circle cx="1174.7" cy="277.2" r="4.7"/><circle cx="1132.4" cy="277.1" r="4.7"/><circle cx="1302.8" cy="266.3" r="4.7"/><circle cx="1303.3" cy="265.8" r="4.7"/><circle cx="1268.9" cy="266" r="4.7"/><circle cx="1310.2" cy="276.9" r="4.7"/><circle cx="1340.1" cy="278.1" r="4.7"/><circle cx="1290.6" cy="276.9" r="4.7"/><circle cx="1355.8" cy="266.2" r="4.7"/><circle cx="1182.3" cy="264.9" r="4.7"/><circle cx="1190.4" cy="276.4" r="4.7"/><circle cx="1328.4" cy="276.9" r="4.7"/><circle cx="1250.6" cy="276.6" r="4.7"/><circle cx="1215" cy="277.1" r="4.7"/><circle cx="1249.5" cy="276.9" r="4.7"/><circle cx="1266.4" cy="277.4" r="4.7"/><circle cx="1215.2" cy="265.9" r="4.7"/><circle cx="1348.2" cy="277.6" r="4.7"/><circle cx="1241.6" cy="278.4" r="4.7"/><circle cx="1185.9" cy="277.7" r="4.7"/><circle cx="1150.8" cy="264.7" r="4.7"/><circle cx="1135.1" cy="266.4" r="4.7"/><circle cx="1099.5" cy="271.4" r="4.7"/><circle cx="1084.5" cy="269.8" r="4.7"/><circle cx="1127.7" cy="273.8" r="4.7"/><circle cx="1123.9" cy="271.7" r="4.7"/><circle cx="1113" cy="265.2" r="4.7"/><circle cx="1119.7" cy="265.8" r="4.7"/><circle cx="1119.4" cy="271.3" r="4.7"/><circle cx="1110.8" cy="276.9" r="4.7"/><circle cx="1075.7" cy="273.3" r="4.7"/><circle cx="1110.6" cy="266.7" r="4.7"/><circle cx="1118.2" cy="268.8" r="4.7"/><circle cx="1106.4" cy="269.2" r="4.7"/><circle cx="1127.4" cy="271.2" r="4.7"/><circle cx="1091.1" cy="267.5" r="4.7"/><circle cx="1092.1" cy="264.9" r="4.7"/><circle cx="1112.1" cy="271.3" r="4.7"/><circle cx="1124.9" cy="271.5" r="4.7"/><circle cx="1073.9" cy="274.1" r="4.7"/><circle cx="1113.9" cy="277.9" r="4.7"/><circle cx="1124.1" cy="275.2" r="4.7"/><circle cx="1120" cy="266.7" r="4.7"/><circle cx="1125.1" cy="272.3" r="4.7"/><circle cx="1102.3" cy="269.6" r="4.7"/><circle cx="1127.4" cy="266" r="4.7"/><circle cx="1109.1" cy="268.7" r="4.7"/><circle cx="1103.5" cy="275.7" r="4.7"/><circle cx="1113.8" cy="268.3" r="4.7"/><circle cx="1119.7" cy="275.8" r="4.7"/><circle cx="1087.2" cy="267.2" r="4.7"/><circle cx="1125.5" cy="267.4" r="4.7"/><circle cx="1119.6" cy="272.6" r="4.7"/><circle cx="1125.2" cy="274.6" r="4.7"/><circle cx="1127.6" cy="273.8" r="4.7"/><circle cx="1109.9" cy="276.3" r="4.7"/><circle cx="1127.8" cy="266.3" r="4.7"/><circle cx="1110" cy="271.3" r="4.7"/><circle cx="1076.9" cy="273.7" r="4.7"/><circle cx="1123.2" cy="277.2" r="4.7"/><circle cx="1116.5" cy="272.4" r="4.7"/><circle cx="1109.9" cy="268.3" r="4.7"/><circle cx="1113.8" cy="267.5" r="4.7"/><circle cx="1084.3" cy="268" r="4.7"/><circle cx="1127.9" cy="273.4" r="4.7"/><circle cx="1099.9" cy="268.3" r="4.7"/><circle cx="1112.4" cy="269.6" r="4.7"/><circle cx="1081" cy="270.6" r="4.7"/><circle cx="1098.2" cy="271.6" r="4.7"/><circle cx="1072.4" cy="271.5" r="4.7"/><circle cx="1106.3" cy="276.3" r="4.7"/><circle cx="1083.4" cy="270.2" r="4.7"/><circle cx="1126.4" cy="275.2" r="4.7"/><circle cx="1125.5" cy="275.3" r="4.7"/><circle cx="1116.8" cy="276.7" r="4.7"/><circle cx="1111.4" cy="277.4" r="4.7"/><circle cx="1122.3" cy="265.8" r="4.7"/><circle cx="1126.8" cy="277.4" r="4.7"/><circle cx="1118.8" cy="266" r="4.7"/><circle cx="1085.4" cy="272" r="4.7"/><circle cx="1125.3" cy="271.7" r="4.7"/><circle cx="1126.4" cy="265.9" r="4.7"/><circle cx="1123.9" cy="267.8" r="4.7"/><circle cx="1127.8" cy="267.1" r="4.7"/><circle cx="1127.2" cy="271.2" r="4.7"/><circle cx="1083.7" cy="273.7" r="4.7"/><circle cx="1083.1" cy="267.5" r="4.7"/><circle cx="1116.7" cy="275" r="4.7"/><circle cx="1103" cy="266.6" r="4.7"/><circle cx="1099.4" cy="271" r="4.7"/><circle cx="1113.3" cy="265.2" r="4.7"/><circle cx="1108.2" cy="267.5" r="4.7"/><circle cx="1120.1" cy="277.1" r="4.7"/><circle cx="1095.5" cy="270.7" r="4.7"/><circle cx="1126.8" cy="274.9" r="4.7"/><circle cx="1370.1" cy="271.8" r="4.7"/><circle cx="1383.4" cy="272.6" r="4.7"/><circle cx="1367.8" cy="274" r="4.7"/><circle cx="1367.1" cy="268.3" r="4.7"/><circle cx="1367" cy="272.6" r="4.7"/><circle cx="1371.5" cy="265.3" r="4.7"/><circle cx="1370" cy="273.3" r="4.7"/><circle cx="1367.2" cy="267.9" r="4.7"/><circle cx="1373.3" cy="271.7" r="4.7"/><circle cx="1367.8" cy="268.2" r="4.7"/><circle cx="1369.6" cy="273" r="4.7"/><circle cx="1371.8" cy="269.1" r="4.7"/><circle cx="1367.6" cy="271.4" r="4.7"/><circle cx="1368.1" cy="266.3" r="4.7"/><circle cx="1367.1" cy="272.4" r="4.7"/><circle cx="1367.9" cy="265.3" r="4.7"/><circle cx="1377.4" cy="276.6" r="4.7"/><circle cx="1376.6" cy="277.2" r="4.7"/><circle cx="1382.4" cy="267.8" r="4.7"/><circle cx="1376.5" cy="270.8" r="4.7"/><circle cx="1380.2" cy="276.7" r="4.7"/><circle cx="1382.3" cy="270.7" r="4.7"/><circle cx="1367.6" cy="267.2" r="4.7"/><circle cx="1379.8" cy="275.5" r="4.7"/><circle cx="883" cy="269.6" r="4.7"/><circle cx="884" cy="269.4" r="4.7"/><circle cx="935.7" cy="275.9" r="4.7"/><circle cx="944" cy="274.3" r="4.7"/><circle cx="954" cy="275.4" r="4.7"/><circle cx="960" cy="277.2" r="4.7"/><circle cx="978" cy="278" r="4.7"/><circle cx="983" cy="270.5" r="4.7"/><circle cx="989" cy="267.6" r="4.7"/><circle cx="994" cy="274.6" r="4.7"/><circle cx="1012" cy="270.7" r="4.7"/><circle cx="1030" cy="272.6" r="4.7"/><circle cx="1035" cy="275.5" r="4.7"/><circle cx="1040" cy="277.5" r="4.7"/><circle cx="1046.6" cy="275.2" r="4.7"/><circle cx="1225.9" cy="296.8" r="4.7"/><circle cx="1243.2" cy="296.4" r="4.7"/><circle cx="1270.7" cy="296.5" r="4.7"/><circle cx="1254.1" cy="308.8" r="4.7"/><circle cx="1329.5" cy="309.6" r="4.7"/><circle cx="1312.4" cy="297" r="4.7"/><circle cx="1294.9" cy="297.2" r="4.7"/><circle cx="1342.7" cy="296.3" r="4.7"/><circle cx="1256.7" cy="296.8" r="4.7"/><circle cx="1253.7" cy="297.4" r="4.7"/><circle cx="1251.4" cy="295.7" r="4.7"/><circle cx="1281.7" cy="309.5" r="4.7"/><circle cx="1306.2" cy="309.2" r="4.7"/><circle cx="1229.6" cy="309" r="4.7"/><circle cx="1237.8" cy="296.4" r="4.7"/><circle cx="1271.4" cy="296.1" r="4.7"/><circle cx="1232.1" cy="308.3" r="4.7"/><circle cx="1275.9" cy="307.8" r="4.7"/><circle cx="1259.9" cy="296.8" r="4.7"/><circle cx="1340.6" cy="307.8" r="4.7"/><circle cx="1339.9" cy="309" r="4.7"/><circle cx="1262.3" cy="309.3" r="4.7"/><circle cx="1225.6" cy="309.7" r="4.7"/><circle cx="1325.7" cy="297.5" r="4.7"/><circle cx="1300.4" cy="307.4" r="4.7"/><circle cx="1310.1" cy="307.8" r="4.7"/><circle cx="1346.5" cy="297.3" r="4.7"/><circle cx="1326.3" cy="308.2" r="4.7"/><circle cx="1243" cy="309.3" r="4.7"/><circle cx="1321.2" cy="296.2" r="4.7"/><circle cx="1335.3" cy="296.5" r="4.7"/><circle cx="1210.3" cy="309.4" r="4.7"/><circle cx="1218.3" cy="307.8" r="4.7"/><circle cx="1277.9" cy="308.4" r="4.7"/><circle cx="1330" cy="308" r="4.7"/><circle cx="1329.9" cy="296.9" r="4.7"/><circle cx="1320.1" cy="309" r="4.7"/><circle cx="1315.2" cy="308" r="4.7"/><circle cx="1246.5" cy="297.3" r="4.7"/><circle cx="1319.9" cy="296.4" r="4.7"/><circle cx="1257.7" cy="296.3" r="4.7"/><circle cx="1256.3" cy="308" r="4.7"/><circle cx="1230.9" cy="307.8" r="4.7"/><circle cx="1333.8" cy="296.5" r="4.7"/><circle cx="1211.4" cy="308.6" r="4.7"/><circle cx="1276.1" cy="309.5" r="4.7"/><circle cx="1195.1" cy="296.3" r="4.7"/><circle cx="1171.8" cy="296" r="4.7"/><circle cx="1201.6" cy="297.7" r="4.7"/><circle cx="1187.7" cy="306.5" r="4.7"/><circle cx="1206.7" cy="299.8" r="4.7"/><circle cx="1170.2" cy="305.2" r="4.7"/><circle cx="1207.1" cy="305.2" r="4.7"/><circle cx="1174.7" cy="301.3" r="4.7"/><circle cx="1206.2" cy="304.8" r="4.7"/><circle cx="1201.5" cy="297.5" r="4.7"/><circle cx="1206" cy="301.3" r="4.7"/><circle cx="1206.8" cy="301" r="4.7"/><circle cx="1190.7" cy="303.3" r="4.7"/><circle cx="1198.1" cy="306.7" r="4.7"/><circle cx="1207.4" cy="300.3" r="4.7"/><circle cx="1163.4" cy="307.6" r="4.7"/><circle cx="1164.5" cy="306.3" r="4.7"/><circle cx="1191.6" cy="306.6" r="4.7"/><circle cx="1189.5" cy="297.3" r="4.7"/><circle cx="1203.7" cy="297" r="4.7"/><circle cx="1168.3" cy="300.1" r="4.7"/><circle cx="1198" cy="303.1" r="4.7"/><circle cx="1207.2" cy="305.4" r="4.7"/><circle cx="1174.5" cy="306.7" r="4.7"/><circle cx="1167.8" cy="300.1" r="4.7"/><circle cx="1206.4" cy="306.2" r="4.7"/><circle cx="1181.9" cy="300.8" r="4.7"/><circle cx="1200.6" cy="297.8" r="4.7"/><circle cx="1171.7" cy="302.1" r="4.7"/><circle cx="1173.3" cy="300.4" r="4.7"/><circle cx="1201.5" cy="302.8" r="4.7"/><circle cx="1178.2" cy="307.9" r="4.7"/><circle cx="1200.2" cy="305.3" r="4.7"/><circle cx="1198.1" cy="307.6" r="4.7"/><circle cx="1177.2" cy="303.4" r="4.7"/><circle cx="1199.9" cy="299.5" r="4.7"/><circle cx="1167.5" cy="306.8" r="4.7"/><circle cx="1202" cy="296.9" r="4.7"/><circle cx="1205.3" cy="309" r="4.7"/><circle cx="1207.9" cy="306.9" r="4.7"/><circle cx="1192" cy="303.3" r="4.7"/><circle cx="1191.4" cy="301.4" r="4.7"/><circle cx="1190.4" cy="296.9" r="4.7"/><circle cx="1164.6" cy="297.1" r="4.7"/><circle cx="1206.6" cy="305" r="4.7"/><circle cx="1185.3" cy="306.8" r="4.7"/><circle cx="1181.9" cy="308.5" r="4.7"/><circle cx="1207.8" cy="295.8" r="4.7"/><circle cx="1204.2" cy="306.4" r="4.7"/><circle cx="1206.3" cy="303" r="4.7"/><circle cx="1176.4" cy="297.9" r="4.7"/><circle cx="1192" cy="308.1" r="4.7"/><circle cx="1178.1" cy="301.2" r="4.7"/><circle cx="1194.6" cy="299.5" r="4.7"/><circle cx="1161" cy="306.5" r="4.7"/><circle cx="1182.7" cy="299.9" r="4.7"/><circle cx="1179.2" cy="302.4" r="4.7"/><circle cx="1174.3" cy="300.7" r="4.7"/><circle cx="1167.8" cy="305.1" r="4.7"/><circle cx="1196" cy="303.5" r="4.7"/><circle cx="1173.8" cy="303" r="4.7"/><circle cx="1161.1" cy="295.8" r="4.7"/><circle cx="1166.5" cy="305.6" r="4.7"/><circle cx="1194" cy="307.4" r="4.7"/><circle cx="1351.7" cy="300.4" r="4.7"/><circle cx="1359.2" cy="307.1" r="4.7"/><circle cx="1353.9" cy="309.4" r="4.7"/><circle cx="1358" cy="296.3" r="4.7"/><circle cx="1351.5" cy="296.8" r="4.7"/><circle cx="1356.7" cy="300.1" r="4.7"/><circle cx="1352.6" cy="301.9" r="4.7"/><circle cx="1351.2" cy="308.2" r="4.7"/><circle cx="1361.6" cy="303.4" r="4.7"/><circle cx="1354.8" cy="300" r="4.7"/><circle cx="1357.2" cy="300.5" r="4.7"/><circle cx="1364.5" cy="308.9" r="4.7"/><circle cx="1359.4" cy="307.1" r="4.7"/><circle cx="1351.2" cy="297.4" r="4.7"/><circle cx="1353.6" cy="297.4" r="4.7"/><circle cx="1354.5" cy="309.3" r="4.7"/><circle cx="1361.5" cy="308.9" r="4.7"/><circle cx="1352.3" cy="298.8" r="4.7"/><circle cx="1159" cy="296" r="4.7"/><circle cx="1160" cy="299.5" r="4.7"/><circle cx="1210.8" cy="339.2" r="4.7"/><circle cx="1307.1" cy="339.9" r="4.7"/><circle cx="1248.8" cy="327.8" r="4.7"/><circle cx="1274.4" cy="339.4" r="4.7"/><circle cx="1217.2" cy="338.9" r="4.7"/><circle cx="1336.2" cy="326.9" r="4.7"/><circle cx="1329.3" cy="340.5" r="4.7"/><circle cx="1238" cy="340.2" r="4.7"/><circle cx="1355.6" cy="328.1" r="4.7"/><circle cx="1292.8" cy="339.4" r="4.7"/><circle cx="1319.2" cy="339.3" r="4.7"/><circle cx="1313.9" cy="338.8" r="4.7"/><circle cx="1325.4" cy="327.5" r="4.7"/><circle cx="1330.8" cy="327.8" r="4.7"/><circle cx="1355.4" cy="340.8" r="4.7"/><circle cx="1348.1" cy="328.9" r="4.7"/><circle cx="1235.6" cy="339.7" r="4.7"/><circle cx="1351.3" cy="339.7" r="4.7"/><circle cx="1213.7" cy="340.1" r="4.7"/><circle cx="1302" cy="327.6" r="4.7"/><circle cx="1347.7" cy="340.5" r="4.7"/><circle cx="1242.1" cy="328.1" r="4.7"/><circle cx="1205.8" cy="339.1" r="4.7"/><circle cx="1259.3" cy="328.4" r="4.7"/><circle cx="1312.5" cy="338.7" r="4.7"/><circle cx="1345.5" cy="327.7" r="4.7"/><circle cx="1241.7" cy="328.6" r="4.7"/><circle cx="1214.2" cy="339.5" r="4.7"/><circle cx="1238.8" cy="326.8" r="4.7"/><circle cx="1285.1" cy="340.7" r="4.7"/><circle cx="1255.1" cy="340" r="4.7"/><circle cx="1333.5" cy="339.9" r="4.7"/><circle cx="1291.5" cy="328.7" r="4.7"/><circle cx="1354.8" cy="328.6" r="4.7"/><circle cx="1345.8" cy="339.3" r="4.7"/><circle cx="1265.7" cy="339.5" r="4.7"/><circle cx="1202.5" cy="327" r="4.7"/><circle cx="1287" cy="328.3" r="4.7"/><circle cx="1328" cy="327.3" r="4.7"/><circle cx="1355.6" cy="327.5" r="4.7"/><circle cx="1258.9" cy="328.8" r="4.7"/><circle cx="1243.1" cy="327.5" r="4.7"/><circle cx="1355" cy="326.8" r="4.7"/><circle cx="1301.8" cy="328.7" r="4.7"/><circle cx="1236.8" cy="339.8" r="4.7"/><circle cx="1219.6" cy="339.2" r="4.7"/><circle cx="1276.1" cy="327.1" r="4.7"/><circle cx="1275.5" cy="328.2" r="4.7"/><circle cx="1326.2" cy="327.7" r="4.7"/><circle cx="1308" cy="327.9" r="4.7"/><circle cx="1175.6" cy="328.3" r="4.7"/><circle cx="1184.1" cy="336" r="4.7"/><circle cx="1197.6" cy="328.6" r="4.7"/><circle cx="1189.8" cy="337.3" r="4.7"/><circle cx="1194.7" cy="333.3" r="4.7"/><circle cx="1186.8" cy="335.2" r="4.7"/><circle cx="1196.2" cy="329.4" r="4.7"/><circle cx="1195" cy="334.4" r="4.7"/><circle cx="1176.7" cy="340.5" r="4.7"/><circle cx="1191.8" cy="331.3" r="4.7"/><circle cx="1200.9" cy="335.5" r="4.7"/><circle cx="1184.5" cy="330.2" r="4.7"/><circle cx="1186.6" cy="340.6" r="4.7"/><circle cx="1197.1" cy="339.8" r="4.7"/><circle cx="1195.8" cy="335.8" r="4.7"/><circle cx="1178.3" cy="329.6" r="4.7"/><circle cx="1198.3" cy="340.4" r="4.7"/><circle cx="1202.8" cy="331" r="4.7"/><circle cx="1194.6" cy="337.1" r="4.7"/><circle cx="1189" cy="339.6" r="4.7"/><circle cx="1187.5" cy="326.8" r="4.7"/><circle cx="1202.7" cy="327.3" r="4.7"/><circle cx="1195.9" cy="327.2" r="4.7"/><circle cx="1192.9" cy="335.5" r="4.7"/><circle cx="1201.2" cy="338.6" r="4.7"/><circle cx="1196.5" cy="340" r="4.7"/><circle cx="1198" cy="335.4" r="4.7"/><circle cx="1192.4" cy="330.4" r="4.7"/><circle cx="1182.5" cy="326.9" r="4.7"/><circle cx="1200.4" cy="331.2" r="4.7"/><circle cx="1177.5" cy="333.7" r="4.7"/><circle cx="1202.9" cy="330.9" r="4.7"/><circle cx="1189.9" cy="338" r="4.7"/><circle cx="1202.4" cy="337.6" r="4.7"/><circle cx="1197.1" cy="334" r="4.7"/><circle cx="1196.3" cy="332.8" r="4.7"/><circle cx="1171.5" cy="339.5" r="4.7"/><circle cx="1175.6" cy="337" r="4.7"/><circle cx="1186.2" cy="328.8" r="4.7"/><circle cx="1202.9" cy="338.3" r="4.7"/><circle cx="1365.5" cy="335.5" r="4.7"/><circle cx="1359.5" cy="330.5" r="4.7"/><circle cx="1371" cy="334.1" r="4.7"/><circle cx="1357" cy="331.5" r="4.7"/><circle cx="1360" cy="327.7" r="4.7"/><circle cx="1372.4" cy="339.3" r="4.7"/><circle cx="1368.5" cy="326.9" r="4.7"/><circle cx="1361" cy="328.3" r="4.7"/><circle cx="1366.6" cy="338" r="4.7"/><circle cx="1368" cy="337.7" r="4.7"/><circle cx="1357.5" cy="327" r="4.7"/><circle cx="1357.4" cy="338.4" r="4.7"/><circle cx="1368.9" cy="333.9" r="4.7"/><circle cx="1358.6" cy="338.6" r="4.7"/><circle cx="1357.5" cy="331.3" r="4.7"/><circle cx="1357" cy="340.4" r="4.7"/><circle cx="1360.9" cy="337.4" r="4.7"/><circle cx="1368.2" cy="334.8" r="4.7"/><circle cx="1372.7" cy="337.5" r="4.7"/><circle cx="1371.2" cy="340.1" r="4.7"/><circle cx="1357.3" cy="337.2" r="4.7"/><circle cx="1153" cy="329.9" r="4.7"/><circle cx="1155" cy="331.3" r="4.7"/><circle cx="1157.5" cy="331.5" r="4.7"/><circle cx="1377" cy="340.4" r="4.7"/><circle cx="1381" cy="327.6" r="4.7"/><circle cx="1387" cy="332.8" r="4.7"/><circle cx="1244" cy="370.1" r="4.7"/><circle cx="1267.4" cy="358.2" r="4.7"/><circle cx="1271.8" cy="370.1" r="4.7"/><circle cx="1286.9" cy="359.3" r="4.7"/><circle cx="1339.8" cy="370.9" r="4.7"/><circle cx="1281.3" cy="369.8" r="4.7"/><circle cx="1239.9" cy="370.8" r="4.7"/><circle cx="1291.7" cy="358.3" r="4.7"/><circle cx="1308.9" cy="359.9" r="4.7"/><circle cx="1243.6" cy="358.6" r="4.7"/><circle cx="1283" cy="359.4" r="4.7"/><circle cx="1246.8" cy="371.1" r="4.7"/><circle cx="1351" cy="359" r="4.7"/><circle cx="1355" cy="369.7" r="4.7"/><circle cx="1267.2" cy="358.9" r="4.7"/><circle cx="1348" cy="371.1" r="4.7"/><circle cx="1324.6" cy="359.8" r="4.7"/><circle cx="1359" cy="358.1" r="4.7"/><circle cx="1248.4" cy="360" r="4.7"/><circle cx="1261.4" cy="371.5" r="4.7"/><circle cx="1291.3" cy="371.2" r="4.7"/><circle cx="1340.9" cy="359" r="4.7"/><circle cx="1274.9" cy="369.9" r="4.7"/><circle cx="1294.2" cy="371.3" r="4.7"/><circle cx="1292.6" cy="358.5" r="4.7"/><circle cx="1237.7" cy="370.7" r="4.7"/><circle cx="1254.3" cy="371.7" r="4.7"/><circle cx="1243.3" cy="370.9" r="4.7"/><circle cx="1242.6" cy="370" r="4.7"/><circle cx="1299" cy="358.6" r="4.7"/><circle cx="1309.5" cy="370.8" r="4.7"/><circle cx="1314.5" cy="358.1" r="4.7"/><circle cx="1342" cy="369.8" r="4.7"/><circle cx="1329.3" cy="359" r="4.7"/><circle cx="1242.4" cy="370.2" r="4.7"/><circle cx="1253.2" cy="370.9" r="4.7"/><circle cx="1316.6" cy="359.4" r="4.7"/><circle cx="1281.7" cy="371.4" r="4.7"/><circle cx="1251.5" cy="358" r="4.7"/><circle cx="1247" cy="358.8" r="4.7"/><circle cx="1340.5" cy="358.9" r="4.7"/><circle cx="1353.7" cy="359.4" r="4.7"/><circle cx="1226" cy="359" r="4.7"/><circle cx="1218.2" cy="370.1" r="4.7"/><circle cx="1197.8" cy="359.1" r="4.7"/><circle cx="1223.8" cy="366.1" r="4.7"/><circle cx="1207.4" cy="358.3" r="4.7"/><circle cx="1227.1" cy="365.7" r="4.7"/><circle cx="1202.2" cy="359" r="4.7"/><circle cx="1187.4" cy="361.2" r="4.7"/><circle cx="1203.1" cy="365.2" r="4.7"/><circle cx="1218.7" cy="371" r="4.7"/><circle cx="1215.8" cy="363.7" r="4.7"/><circle cx="1206.7" cy="369.5" r="4.7"/><circle cx="1164.9" cy="368.5" r="4.7"/><circle cx="1206.8" cy="367.8" r="4.7"/><circle cx="1199.3" cy="371.1" r="4.7"/><circle cx="1166.9" cy="368.4" r="4.7"/><circle cx="1223.9" cy="365.7" r="4.7"/><circle cx="1213.3" cy="361.1" r="4.7"/><circle cx="1186.6" cy="361" r="4.7"/><circle cx="1193.2" cy="364.7" r="4.7"/><circle cx="1214.1" cy="367.7" r="4.7"/><circle cx="1191.9" cy="371.6" r="4.7"/><circle cx="1163.6" cy="368.9" r="4.7"/><circle cx="1222.1" cy="367.1" r="4.7"/><circle cx="1209.8" cy="370.9" r="4.7"/><circle cx="1212.9" cy="362.8" r="4.7"/><circle cx="1227.9" cy="364.4" r="4.7"/><circle cx="1207.3" cy="362.2" r="4.7"/><circle cx="1226.9" cy="364.6" r="4.7"/><circle cx="1227.5" cy="360.3" r="4.7"/><circle cx="1213" cy="362.7" r="4.7"/><circle cx="1209.5" cy="365.2" r="4.7"/><circle cx="1216.2" cy="359.7" r="4.7"/><circle cx="1228" cy="365.6" r="4.7"/><circle cx="1166.9" cy="361.8" r="4.7"/><circle cx="1218.2" cy="362.3" r="4.7"/><circle cx="1190.3" cy="364.7" r="4.7"/><circle cx="1185.2" cy="358" r="4.7"/><circle cx="1226.3" cy="360.7" r="4.7"/><circle cx="1217.3" cy="363.4" r="4.7"/><circle cx="1216.4" cy="371.2" r="4.7"/><circle cx="1213.3" cy="365.8" r="4.7"/><circle cx="1167.7" cy="366.8" r="4.7"/><circle cx="1202.7" cy="369.3" r="4.7"/><circle cx="1219" cy="358.4" r="4.7"/><circle cx="1168.3" cy="365.3" r="4.7"/><circle cx="1203.6" cy="358.8" r="4.7"/><circle cx="1190" cy="363.1" r="4.7"/><circle cx="1198.9" cy="361.8" r="4.7"/><circle cx="1172.7" cy="363" r="4.7"/><circle cx="1221.7" cy="370.2" r="4.7"/><circle cx="1223.7" cy="361.6" r="4.7"/><circle cx="1210.3" cy="371.4" r="4.7"/><circle cx="1226.7" cy="360.8" r="4.7"/><circle cx="1185.2" cy="358.9" r="4.7"/><circle cx="1214.8" cy="368.7" r="4.7"/><circle cx="1192.9" cy="368.8" r="4.7"/><circle cx="1226.6" cy="370.2" r="4.7"/><circle cx="1217.9" cy="369.1" r="4.7"/><circle cx="1211.3" cy="370.2" r="4.7"/><circle cx="1210.9" cy="361.5" r="4.7"/><circle cx="1225.9" cy="364.8" r="4.7"/><circle cx="1227.7" cy="360.2" r="4.7"/><circle cx="1177.3" cy="365.8" r="4.7"/><circle cx="1178.5" cy="360" r="4.7"/><circle cx="1210.8" cy="364.4" r="4.7"/><circle cx="1226.8" cy="361.5" r="4.7"/><circle cx="1172.3" cy="367.9" r="4.7"/><circle cx="1208.9" cy="366.3" r="4.7"/><circle cx="1178.7" cy="371.1" r="4.7"/><circle cx="1202.7" cy="358.6" r="4.7"/><circle cx="1177.6" cy="360.2" r="4.7"/><circle cx="1223.1" cy="359.8" r="4.7"/><circle cx="1208.7" cy="365.9" r="4.7"/><circle cx="1212" cy="364.4" r="4.7"/><circle cx="1226.1" cy="367.8" r="4.7"/><circle cx="1206.9" cy="362.2" r="4.7"/><circle cx="1181.5" cy="370.9" r="4.7"/><circle cx="1172.2" cy="371.5" r="4.7"/><circle cx="1227.5" cy="363.3" r="4.7"/><circle cx="1212.7" cy="361.4" r="4.7"/><circle cx="1190.1" cy="370.4" r="4.7"/><circle cx="1359.6" cy="364.9" r="4.7"/><circle cx="1372.3" cy="370.2" r="4.7"/><circle cx="1362.9" cy="359.3" r="4.7"/><circle cx="1363" cy="365" r="4.7"/><circle cx="1368.5" cy="360.5" r="4.7"/><circle cx="1360.8" cy="371.5" r="4.7"/><circle cx="1359" cy="366.3" r="4.7"/><circle cx="1359.3" cy="368.3" r="4.7"/><circle cx="1362.5" cy="370.7" r="4.7"/><circle cx="1360.3" cy="370" r="4.7"/><circle cx="1360.3" cy="358.6" r="4.7"/><circle cx="1359.3" cy="359" r="4.7"/><circle cx="1362.1" cy="371.3" r="4.7"/><circle cx="1361.7" cy="367.8" r="4.7"/><circle cx="1359.1" cy="365" r="4.7"/><circle cx="1364.2" cy="359.3" r="4.7"/><circle cx="1364.9" cy="364.1" r="4.7"/><circle cx="1361.3" cy="369.4" r="4.7"/><circle cx="1120" cy="367.4" r="4.7"/><circle cx="1378" cy="359.6" r="4.7"/><circle cx="1388" cy="359.4" r="4.7"/><circle cx="1229.1" cy="402.1" r="4.7"/><circle cx="1297.1" cy="388.9" r="4.7"/><circle cx="1338.7" cy="389.7" r="4.7"/><circle cx="1330.4" cy="402.9" r="4.7"/><circle cx="1254.9" cy="401" r="4.7"/><circle cx="1251.1" cy="391.1" r="4.7"/><circle cx="1240.1" cy="388.9" r="4.7"/><circle cx="1232.4" cy="390.5" r="4.7"/><circle cx="1257.7" cy="390.9" r="4.7"/><circle cx="1267.4" cy="389.8" r="4.7"/><circle cx="1304.1" cy="390.7" r="4.7"/><circle cx="1248.4" cy="402.5" r="4.7"/><circle cx="1291.8" cy="390.9" r="4.7"/><circle cx="1246.1" cy="390.9" r="4.7"/><circle cx="1236.4" cy="402.4" r="4.7"/><circle cx="1273.1" cy="401.5" r="4.7"/><circle cx="1352.1" cy="390.9" r="4.7"/><circle cx="1282.9" cy="390.3" r="4.7"/><circle cx="1280.7" cy="403" r="4.7"/><circle cx="1308.2" cy="391" r="4.7"/><circle cx="1335.5" cy="400.7" r="4.7"/><circle cx="1242.3" cy="401.4" r="4.7"/><circle cx="1302.9" cy="402.8" r="4.7"/><circle cx="1234.5" cy="390.5" r="4.7"/><circle cx="1290.9" cy="390.2" r="4.7"/><circle cx="1331.8" cy="390.3" r="4.7"/><circle cx="1256.2" cy="402.8" r="4.7"/><circle cx="1348.7" cy="390.4" r="4.7"/><circle cx="1301.2" cy="391" r="4.7"/><circle cx="1341.3" cy="401.5" r="4.7"/><circle cx="1281.6" cy="401.1" r="4.7"/><circle cx="1271.3" cy="389.5" r="4.7"/><circle cx="1301" cy="390.8" r="4.7"/><circle cx="1291.7" cy="390.4" r="4.7"/><circle cx="1309.3" cy="402.8" r="4.7"/><circle cx="1296.8" cy="401.8" r="4.7"/><circle cx="1291.9" cy="400.8" r="4.7"/><circle cx="1229.2" cy="401.6" r="4.7"/><circle cx="1265.4" cy="390.9" r="4.7"/><circle cx="1224.6" cy="401.5" r="4.7"/><circle cx="1255.7" cy="390.9" r="4.7"/><circle cx="1226.1" cy="402.1" r="4.7"/><circle cx="1310.1" cy="391" r="4.7"/><circle cx="1209.3" cy="400.5" r="4.7"/><circle cx="1200" cy="389.6" r="4.7"/><circle cx="1221.7" cy="401.5" r="4.7"/><circle cx="1203.8" cy="391.3" r="4.7"/><circle cx="1192.3" cy="401.8" r="4.7"/><circle cx="1178.8" cy="397.9" r="4.7"/><circle cx="1184" cy="390.2" r="4.7"/><circle cx="1208.6" cy="400.2" r="4.7"/><circle cx="1214.7" cy="391" r="4.7"/><circle cx="1178.7" cy="398.7" r="4.7"/><circle cx="1223" cy="389.9" r="4.7"/><circle cx="1203" cy="402.2" r="4.7"/><circle cx="1198.9" cy="401.1" r="4.7"/><circle cx="1222" cy="396.9" r="4.7"/><circle cx="1220.3" cy="393.6" r="4.7"/><circle cx="1221.1" cy="395.4" r="4.7"/><circle cx="1222.8" cy="398.1" r="4.7"/><circle cx="1196.8" cy="401.5" r="4.7"/><circle cx="1187.3" cy="390" r="4.7"/><circle cx="1178.4" cy="396.5" r="4.7"/><circle cx="1172" cy="395.8" r="4.7"/><circle cx="1222.4" cy="398.7" r="4.7"/><circle cx="1220.6" cy="402.6" r="4.7"/><circle cx="1204.1" cy="401.5" r="4.7"/><circle cx="1207" cy="393.5" r="4.7"/><circle cx="1195.7" cy="398.8" r="4.7"/><circle cx="1208.8" cy="392.8" r="4.7"/><circle cx="1210.9" cy="398.9" r="4.7"/><circle cx="1219" cy="391.2" r="4.7"/><circle cx="1207.5" cy="398.1" r="4.7"/><circle cx="1222.6" cy="392.7" r="4.7"/><circle cx="1168.5" cy="392.7" r="4.7"/><circle cx="1187" cy="393.2" r="4.7"/><circle cx="1222.3" cy="395.7" r="4.7"/><circle cx="1178.4" cy="399.7" r="4.7"/><circle cx="1222.8" cy="398.7" r="4.7"/><circle cx="1198.7" cy="395.7" r="4.7"/><circle cx="1195.5" cy="396.2" r="4.7"/><circle cx="1220.3" cy="398.6" r="4.7"/><circle cx="1221.6" cy="393.3" r="4.7"/><circle cx="1180" cy="396.8" r="4.7"/><circle cx="1205.8" cy="398.8" r="4.7"/><circle cx="1207" cy="394.3" r="4.7"/><circle cx="1203.3" cy="389.3" r="4.7"/><circle cx="1214.3" cy="389.5" r="4.7"/><circle cx="1166" cy="401.5" r="4.7"/><circle cx="1196.3" cy="391.2" r="4.7"/><circle cx="1179.7" cy="392.9" r="4.7"/><circle cx="1184.2" cy="398" r="4.7"/><circle cx="1199.8" cy="399.2" r="4.7"/><circle cx="1217.7" cy="400.5" r="4.7"/><circle cx="1203.9" cy="399.4" r="4.7"/><circle cx="1181.1" cy="392.5" r="4.7"/><circle cx="1211.4" cy="394" r="4.7"/><circle cx="1222.4" cy="401.1" r="4.7"/><circle cx="1193.9" cy="395.8" r="4.7"/><circle cx="1203.7" cy="401.1" r="4.7"/><circle cx="1222.5" cy="393.9" r="4.7"/><circle cx="1193.8" cy="396.4" r="4.7"/><circle cx="1206.7" cy="392.6" r="4.7"/><circle cx="1219.1" cy="398.2" r="4.7"/><circle cx="1214.7" cy="401.9" r="4.7"/><circle cx="1175.3" cy="402.4" r="4.7"/><circle cx="1217.3" cy="396.1" r="4.7"/><circle cx="1222" cy="394" r="4.7"/><circle cx="1222.5" cy="395.9" r="4.7"/><circle cx="1170" cy="399.5" r="4.7"/><circle cx="1213.7" cy="392.8" r="4.7"/><circle cx="1172.5" cy="389.7" r="4.7"/><circle cx="1180.6" cy="400.8" r="4.7"/><circle cx="1222.5" cy="402.1" r="4.7"/><circle cx="1196.8" cy="394.4" r="4.7"/><circle cx="1210.7" cy="397.4" r="4.7"/><circle cx="1361" cy="401" r="4.7"/><circle cx="1367.7" cy="393.5" r="4.7"/><circle cx="1356" cy="399.7" r="4.7"/><circle cx="1363" cy="398" r="4.7"/><circle cx="1356.2" cy="390" r="4.7"/><circle cx="1367.8" cy="394" r="4.7"/><circle cx="1360.2" cy="402.4" r="4.7"/><circle cx="1357" cy="397.8" r="4.7"/><circle cx="1356.2" cy="396.7" r="4.7"/><circle cx="1364.6" cy="391.2" r="4.7"/><circle cx="1365" cy="402.4" r="4.7"/><circle cx="1366.3" cy="399.9" r="4.7"/><circle cx="1368.8" cy="398.9" r="4.7"/><circle cx="1361.3" cy="400.4" r="4.7"/><circle cx="1365.9" cy="397.7" r="4.7"/><circle cx="1363.4" cy="391.5" r="4.7"/><circle cx="1358.5" cy="393.5" r="4.7"/><circle cx="1367" cy="399.8" r="4.7"/><circle cx="1047.4" cy="393" r="4.7"/><circle cx="1077" cy="402.7" r="4.7"/><circle cx="1215.9" cy="421.1" r="4.7"/><circle cx="1317" cy="421.4" r="4.7"/><circle cx="1265.6" cy="421" r="4.7"/><circle cx="1302.2" cy="433.1" r="4.7"/><circle cx="1330.7" cy="433.3" r="4.7"/><circle cx="1311.3" cy="421.7" r="4.7"/><circle cx="1287" cy="420.4" r="4.7"/><circle cx="1272.2" cy="421.3" r="4.7"/><circle cx="1343.8" cy="420" r="4.7"/><circle cx="1290" cy="433" r="4.7"/><circle cx="1223.4" cy="432.8" r="4.7"/><circle cx="1270.2" cy="433.6" r="4.7"/><circle cx="1335.9" cy="420" r="4.7"/><circle cx="1235.7" cy="420.4" r="4.7"/><circle cx="1346.4" cy="420.5" r="4.7"/><circle cx="1213" cy="432.2" r="4.7"/><circle cx="1348.7" cy="432.3" r="4.7"/><circle cx="1288" cy="421.6" r="4.7"/><circle cx="1308.1" cy="433.3" r="4.7"/><circle cx="1256.9" cy="421.1" r="4.7"/><circle cx="1291.1" cy="432.8" r="4.7"/><circle cx="1251.7" cy="432.1" r="4.7"/><circle cx="1234.8" cy="420.2" r="4.7"/><circle cx="1320.8" cy="420.1" r="4.7"/><circle cx="1242.3" cy="420.3" r="4.7"/><circle cx="1276.9" cy="432" r="4.7"/><circle cx="1218.1" cy="432.8" r="4.7"/><circle cx="1298.8" cy="433.5" r="4.7"/><circle cx="1335.2" cy="434" r="4.7"/><circle cx="1263.4" cy="422" r="4.7"/><circle cx="1323.9" cy="432.5" r="4.7"/><circle cx="1356.9" cy="431.8" r="4.7"/><circle cx="1337.3" cy="420.6" r="4.7"/><circle cx="1283.9" cy="434" r="4.7"/><circle cx="1339" cy="420.3" r="4.7"/><circle cx="1210.7" cy="421.8" r="4.7"/><circle cx="1263.6" cy="433.2" r="4.7"/><circle cx="1300.6" cy="432.1" r="4.7"/><circle cx="1294.7" cy="432.4" r="4.7"/><circle cx="1225.4" cy="433.1" r="4.7"/><circle cx="1339.3" cy="433.7" r="4.7"/><circle cx="1305.4" cy="420.3" r="4.7"/><circle cx="1238.6" cy="420.9" r="4.7"/><circle cx="1256.2" cy="421.8" r="4.7"/><circle cx="1348" cy="421.3" r="4.7"/><circle cx="1284.4" cy="420.4" r="4.7"/><circle cx="1242.1" cy="422.1" r="4.7"/><circle cx="1219.4" cy="432.6" r="4.7"/><circle cx="1187.2" cy="424.5" r="4.7"/><circle cx="1141.4" cy="429.8" r="4.7"/><circle cx="1207.8" cy="429.7" r="4.7"/><circle cx="1184.4" cy="425.4" r="4.7"/><circle cx="1170.8" cy="432.2" r="4.7"/><circle cx="1207.7" cy="433.1" r="4.7"/><circle cx="1164.6" cy="429.2" r="4.7"/><circle cx="1165.7" cy="432.9" r="4.7"/><circle cx="1207.6" cy="429.3" r="4.7"/><circle cx="1185.2" cy="422" r="4.7"/><circle cx="1155.8" cy="433.8" r="4.7"/><circle cx="1187.8" cy="425.5" r="4.7"/><circle cx="1158.3" cy="423.2" r="4.7"/><circle cx="1143.1" cy="421.7" r="4.7"/><circle cx="1183.7" cy="426.1" r="4.7"/><circle cx="1205" cy="425.8" r="4.7"/><circle cx="1162.9" cy="432.1" r="4.7"/><circle cx="1141.2" cy="423.1" r="4.7"/><circle cx="1145.5" cy="421.2" r="4.7"/><circle cx="1206.4" cy="431" r="4.7"/><circle cx="1181.6" cy="426.5" r="4.7"/><circle cx="1207.8" cy="426.4" r="4.7"/><circle cx="1195.3" cy="426.7" r="4.7"/><circle cx="1207.2" cy="426" r="4.7"/><circle cx="1182.5" cy="426.6" r="4.7"/><circle cx="1207.8" cy="425.2" r="4.7"/><circle cx="1188.2" cy="428.2" r="4.7"/><circle cx="1184.1" cy="423.4" r="4.7"/><circle cx="1188.6" cy="421" r="4.7"/><circle cx="1206.5" cy="422.1" r="4.7"/><circle cx="1185.9" cy="420.3" r="4.7"/><circle cx="1189.2" cy="428.7" r="4.7"/><circle cx="1181.8" cy="433" r="4.7"/><circle cx="1200.5" cy="426.1" r="4.7"/><circle cx="1157.7" cy="428.7" r="4.7"/><circle cx="1203.6" cy="433.6" r="4.7"/><circle cx="1202.7" cy="428.5" r="4.7"/><circle cx="1186" cy="421.9" r="4.7"/><circle cx="1207.8" cy="428.2" r="4.7"/><circle cx="1207.1" cy="425.3" r="4.7"/><circle cx="1165.7" cy="432.9" r="4.7"/><circle cx="1162.9" cy="420.5" r="4.7"/><circle cx="1197" cy="430.2" r="4.7"/><circle cx="1206.7" cy="425.9" r="4.7"/><circle cx="1204.6" cy="422.6" r="4.7"/><circle cx="1170.6" cy="430.9" r="4.7"/><circle cx="1192.1" cy="428.8" r="4.7"/><circle cx="1207" cy="426.8" r="4.7"/><circle cx="1196.3" cy="428.5" r="4.7"/><circle cx="1186.2" cy="430.5" r="4.7"/><circle cx="1172.3" cy="428.4" r="4.7"/><circle cx="1196.9" cy="426.5" r="4.7"/><circle cx="1204.1" cy="422.1" r="4.7"/><circle cx="1190.3" cy="423" r="4.7"/><circle cx="1179.6" cy="433.6" r="4.7"/><circle cx="1202.6" cy="425.8" r="4.7"/><circle cx="1158.8" cy="427" r="4.7"/><circle cx="1208" cy="425.6" r="4.7"/><circle cx="1153.5" cy="426.1" r="4.7"/><circle cx="1190.2" cy="431.9" r="4.7"/><circle cx="1167" cy="430.7" r="4.7"/><circle cx="1203.7" cy="424.9" r="4.7"/><circle cx="1163.2" cy="424.1" r="4.7"/><circle cx="1205.3" cy="432.9" r="4.7"/><circle cx="1207.1" cy="425" r="4.7"/><circle cx="1147.9" cy="421.3" r="4.7"/><circle cx="1205.9" cy="429.3" r="4.7"/><circle cx="1148.9" cy="424.6" r="4.7"/><circle cx="1175" cy="422.7" r="4.7"/><circle cx="1139.2" cy="427.8" r="4.7"/><circle cx="1158.1" cy="421.6" r="4.7"/><circle cx="1175.3" cy="420.2" r="4.7"/><circle cx="1180.6" cy="431.2" r="4.7"/><circle cx="1191.9" cy="427.7" r="4.7"/><circle cx="1151.9" cy="422.6" r="4.7"/><circle cx="1164.1" cy="427.4" r="4.7"/><circle cx="1194" cy="421.3" r="4.7"/><circle cx="1167.5" cy="422.2" r="4.7"/><circle cx="1186" cy="420.6" r="4.7"/><circle cx="1141.6" cy="430.6" r="4.7"/><circle cx="1187.4" cy="432.5" r="4.7"/><circle cx="1207.9" cy="427.4" r="4.7"/><circle cx="1207.4" cy="431.2" r="4.7"/><circle cx="1201.7" cy="421.1" r="4.7"/><circle cx="1170.9" cy="422.2" r="4.7"/><circle cx="1189.8" cy="431.1" r="4.7"/><circle cx="1208" cy="430.2" r="4.7"/><circle cx="1169.6" cy="428.9" r="4.7"/><circle cx="1370.8" cy="427.8" r="4.7"/><circle cx="1368.3" cy="421.9" r="4.7"/><circle cx="1357.2" cy="429.7" r="4.7"/><circle cx="1357.2" cy="422.8" r="4.7"/><circle cx="1358.9" cy="429.7" r="4.7"/><circle cx="1358.3" cy="424.4" r="4.7"/><circle cx="1362.4" cy="421.9" r="4.7"/><circle cx="1361.4" cy="421.6" r="4.7"/><circle cx="1367.8" cy="427.2" r="4.7"/><circle cx="1357.2" cy="426.9" r="4.7"/><circle cx="1357.2" cy="423.3" r="4.7"/><circle cx="1365.4" cy="422.3" r="4.7"/><circle cx="1358.4" cy="421.8" r="4.7"/><circle cx="1366.5" cy="424.7" r="4.7"/><circle cx="1357" cy="421" r="4.7"/><circle cx="1360.2" cy="433" r="4.7"/><circle cx="1360.1" cy="425.1" r="4.7"/><circle cx="1359.2" cy="425" r="4.7"/><circle cx="1372.6" cy="432.8" r="4.7"/><circle cx="1371.5" cy="428.3" r="4.7"/><circle cx="1371.9" cy="423.7" r="4.7"/><circle cx="1118" cy="423.2" r="4.7"/><circle cx="1133" cy="431.4" r="4.7"/><circle cx="1139" cy="431.6" r="4.7"/><circle cx="1143" cy="422.2" r="4.7"/><circle cx="1147" cy="431.3" r="4.7"/><circle cx="1262.2" cy="452.5" r="4.7"/><circle cx="1290" cy="464.2" r="4.7"/><circle cx="1329.1" cy="452.7" r="4.7"/><circle cx="1304.8" cy="464" r="4.7"/><circle cx="1248.3" cy="465" r="4.7"/><circle cx="1275" cy="451.6" r="4.7"/><circle cx="1262.5" cy="451.1" r="4.7"/><circle cx="1323.4" cy="451.7" r="4.7"/><circle cx="1353.8" cy="464.4" r="4.7"/><circle cx="1265.2" cy="463.1" r="4.7"/><circle cx="1335.1" cy="452.6" r="4.7"/><circle cx="1320.9" cy="464.9" r="4.7"/><circle cx="1236.3" cy="463.5" r="4.7"/><circle cx="1332.8" cy="452.2" r="4.7"/><circle cx="1346.1" cy="464.2" r="4.7"/><circle cx="1324" cy="464.3" r="4.7"/><circle cx="1295.4" cy="451.1" r="4.7"/><circle cx="1292.4" cy="451.4" r="4.7"/><circle cx="1319.1" cy="452.1" r="4.7"/><circle cx="1302.7" cy="451.2" r="4.7"/><circle cx="1266.1" cy="463.4" r="4.7"/><circle cx="1288.7" cy="452.6" r="4.7"/><circle cx="1287" cy="453.2" r="4.7"/><circle cx="1332.4" cy="464.9" r="4.7"/><circle cx="1260.9" cy="463.8" r="4.7"/><circle cx="1286.4" cy="464.5" r="4.7"/><circle cx="1241.6" cy="451.6" r="4.7"/><circle cx="1281.6" cy="451.4" r="4.7"/><circle cx="1260" cy="451.6" r="4.7"/><circle cx="1320.9" cy="451.6" r="4.7"/><circle cx="1232.5" cy="452" r="4.7"/><circle cx="1318.2" cy="463.4" r="4.7"/><circle cx="1341.1" cy="464.2" r="4.7"/><circle cx="1244.8" cy="451.2" r="4.7"/><circle cx="1237.6" cy="453" r="4.7"/><circle cx="1315.1" cy="464.9" r="4.7"/><circle cx="1244" cy="464.6" r="4.7"/><circle cx="1303" cy="451.9" r="4.7"/><circle cx="1278.1" cy="463.6" r="4.7"/><circle cx="1358.9" cy="464.9" r="4.7"/><circle cx="1355.3" cy="452.9" r="4.7"/><circle cx="1357.7" cy="452.6" r="4.7"/><circle cx="1213.2" cy="461.2" r="4.7"/><circle cx="1214.1" cy="461.8" r="4.7"/><circle cx="1226.4" cy="463.3" r="4.7"/><circle cx="1195.4" cy="464.4" r="4.7"/><circle cx="1216.2" cy="453" r="4.7"/><circle cx="1166.9" cy="460.6" r="4.7"/><circle cx="1207.3" cy="455.1" r="4.7"/><circle cx="1154.5" cy="460" r="4.7"/><circle cx="1198.7" cy="451.6" r="4.7"/><circle cx="1221.1" cy="460.9" r="4.7"/><circle cx="1227.9" cy="462.9" r="4.7"/><circle cx="1199.1" cy="455.6" r="4.7"/><circle cx="1218.5" cy="458.1" r="4.7"/><circle cx="1162.4" cy="454.2" r="4.7"/><circle cx="1141" cy="459.5" r="4.7"/><circle cx="1162.9" cy="459" r="4.7"/><circle cx="1173.4" cy="462.6" r="4.7"/><circle cx="1201.6" cy="463.9" r="4.7"/><circle cx="1225.5" cy="460.8" r="4.7"/><circle cx="1158.5" cy="463.5" r="4.7"/><circle cx="1193" cy="459.4" r="4.7"/><circle cx="1203.1" cy="454.5" r="4.7"/><circle cx="1191.3" cy="452.7" r="4.7"/><circle cx="1210.8" cy="457.7" r="4.7"/><circle cx="1226" cy="456.2" r="4.7"/><circle cx="1225.8" cy="462.4" r="4.7"/><circle cx="1180.8" cy="459.3" r="4.7"/><circle cx="1209" cy="462.2" r="4.7"/><circle cx="1174.9" cy="455.3" r="4.7"/><circle cx="1203.8" cy="456.7" r="4.7"/><circle cx="1144.5" cy="456.5" r="4.7"/><circle cx="1140.5" cy="460.2" r="4.7"/><circle cx="1166" cy="453.6" r="4.7"/><circle cx="1215.5" cy="459.8" r="4.7"/><circle cx="1143.2" cy="454.1" r="4.7"/><circle cx="1192.9" cy="461.4" r="4.7"/><circle cx="1197.5" cy="454.9" r="4.7"/><circle cx="1222.3" cy="462.3" r="4.7"/><circle cx="1206.2" cy="456.6" r="4.7"/><circle cx="1185.4" cy="462.5" r="4.7"/><circle cx="1225.1" cy="458.5" r="4.7"/><circle cx="1180.7" cy="461" r="4.7"/><circle cx="1227.4" cy="463.7" r="4.7"/><circle cx="1145.8" cy="457.5" r="4.7"/><circle cx="1228" cy="451.3" r="4.7"/><circle cx="1227.7" cy="457.1" r="4.7"/><circle cx="1175.7" cy="456.9" r="4.7"/><circle cx="1218.6" cy="454.2" r="4.7"/><circle cx="1145.3" cy="457.6" r="4.7"/><circle cx="1220.9" cy="455.5" r="4.7"/><circle cx="1199.1" cy="458.1" r="4.7"/><circle cx="1216.8" cy="461.8" r="4.7"/><circle cx="1218.3" cy="462.7" r="4.7"/><circle cx="1200.3" cy="452.7" r="4.7"/><circle cx="1161.8" cy="460.8" r="4.7"/><circle cx="1204.8" cy="459.5" r="4.7"/><circle cx="1207.8" cy="456.2" r="4.7"/><circle cx="1173.6" cy="456.9" r="4.7"/><circle cx="1211.6" cy="458.1" r="4.7"/><circle cx="1213.8" cy="463.6" r="4.7"/><circle cx="1225.4" cy="452" r="4.7"/><circle cx="1216.8" cy="463.8" r="4.7"/><circle cx="1185.3" cy="458" r="4.7"/><circle cx="1179.6" cy="460.3" r="4.7"/><circle cx="1221.9" cy="455.6" r="4.7"/><circle cx="1228" cy="455" r="4.7"/><circle cx="1164.1" cy="454.1" r="4.7"/><circle cx="1179.2" cy="461.6" r="4.7"/><circle cx="1154.4" cy="454.6" r="4.7"/><circle cx="1210.5" cy="451.2" r="4.7"/><circle cx="1156.3" cy="451.5" r="4.7"/><circle cx="1221.7" cy="452.3" r="4.7"/><circle cx="1159.3" cy="459.9" r="4.7"/><circle cx="1176.7" cy="459.7" r="4.7"/><circle cx="1187.6" cy="461.8" r="4.7"/><circle cx="1221.8" cy="462.1" r="4.7"/><circle cx="1141.3" cy="453.4" r="4.7"/><circle cx="1220.7" cy="452.2" r="4.7"/><circle cx="1161.7" cy="461.2" r="4.7"/><circle cx="1222.5" cy="463" r="4.7"/><circle cx="1227.8" cy="464.9" r="4.7"/><circle cx="1226.9" cy="453.3" r="4.7"/><circle cx="1227.3" cy="460.4" r="4.7"/><circle cx="1226.9" cy="459.8" r="4.7"/><circle cx="1217.7" cy="462.9" r="4.7"/><circle cx="1228" cy="455.2" r="4.7"/><circle cx="1156" cy="461.5" r="4.7"/><circle cx="1227.8" cy="458.8" r="4.7"/><circle cx="1225.9" cy="461.4" r="4.7"/><circle cx="1143.7" cy="456.4" r="4.7"/><circle cx="1182.5" cy="462.3" r="4.7"/><circle cx="1180.8" cy="452.8" r="4.7"/><circle cx="1225.9" cy="461.9" r="4.7"/><circle cx="1193.4" cy="461.3" r="4.7"/><circle cx="1224.8" cy="458.6" r="4.7"/><circle cx="1150.3" cy="451.5" r="4.7"/><circle cx="1220.5" cy="457.7" r="4.7"/><circle cx="1213.7" cy="457.5" r="4.7"/><circle cx="1224.6" cy="462.2" r="4.7"/><circle cx="1196.1" cy="463.3" r="4.7"/><circle cx="1225.8" cy="457" r="4.7"/><circle cx="1142.1" cy="461.5" r="4.7"/><circle cx="1206.2" cy="464.9" r="4.7"/><circle cx="1144.7" cy="453.8" r="4.7"/><circle cx="1202.8" cy="454.1" r="4.7"/><circle cx="1167.5" cy="451.6" r="4.7"/><circle cx="1160.4" cy="462.2" r="4.7"/><circle cx="1222.4" cy="460.6" r="4.7"/><circle cx="1222" cy="458.3" r="4.7"/><circle cx="1226.9" cy="454.2" r="4.7"/><circle cx="1226.6" cy="463.6" r="4.7"/><circle cx="1206.6" cy="463.9" r="4.7"/><circle cx="1180.6" cy="458.1" r="4.7"/><circle cx="1226.8" cy="462.8" r="4.7"/><circle cx="1358.1" cy="453.7" r="4.7"/><circle cx="1368.7" cy="455.4" r="4.7"/><circle cx="1358.6" cy="458.8" r="4.7"/><circle cx="1363.9" cy="459.4" r="4.7"/><circle cx="1368" cy="453.2" r="4.7"/><circle cx="1363.7" cy="453" r="4.7"/><circle cx="1370.5" cy="454.9" r="4.7"/><circle cx="1367.4" cy="461.8" r="4.7"/><circle cx="1364.2" cy="464.1" r="4.7"/><circle cx="1372" cy="455.4" r="4.7"/><circle cx="1361.2" cy="464.5" r="4.7"/><circle cx="1360" cy="452" r="4.7"/><circle cx="1371.1" cy="455.6" r="4.7"/><circle cx="1369.9" cy="455.1" r="4.7"/><circle cx="1366.3" cy="452.3" r="4.7"/><circle cx="1368.1" cy="463.6" r="4.7"/><circle cx="1364" cy="463.7" r="4.7"/><circle cx="1364.8" cy="461.6" r="4.7"/><circle cx="1386" cy="458.7" r="4.7"/><circle cx="1288.7" cy="484" r="4.7"/><circle cx="1335.8" cy="482.8" r="4.7"/><circle cx="1344.4" cy="482.2" r="4.7"/><circle cx="1275.1" cy="484.2" r="4.7"/><circle cx="1225.3" cy="484.1" r="4.7"/><circle cx="1327" cy="482.1" r="4.7"/><circle cx="1295.1" cy="495.2" r="4.7"/><circle cx="1221.1" cy="484" r="4.7"/><circle cx="1243.3" cy="484.2" r="4.7"/><circle cx="1282.1" cy="495.8" r="4.7"/><circle cx="1325" cy="484.2" r="4.7"/><circle cx="1297.2" cy="482.6" r="4.7"/><circle cx="1232.2" cy="496.1" r="4.7"/><circle cx="1251.3" cy="483" r="4.7"/><circle cx="1251.9" cy="494.7" r="4.7"/><circle cx="1292.1" cy="483.1" r="4.7"/><circle cx="1229.3" cy="494.3" r="4.7"/><circle cx="1231.4" cy="495.9" r="4.7"/><circle cx="1317.2" cy="494.1" r="4.7"/><circle cx="1316.4" cy="483" r="4.7"/><circle cx="1219.2" cy="482.2" r="4.7"/><circle cx="1259.1" cy="484.4" r="4.7"/><circle cx="1336.2" cy="484.2" r="4.7"/><circle cx="1264.7" cy="482.2" r="4.7"/><circle cx="1277.9" cy="484.3" r="4.7"/><circle cx="1323.2" cy="495.8" r="4.7"/><circle cx="1237.3" cy="484.4" r="4.7"/><circle cx="1270.9" cy="494.4" r="4.7"/><circle cx="1294.2" cy="483.8" r="4.7"/><circle cx="1328.5" cy="496.2" r="4.7"/><circle cx="1346.1" cy="483.9" r="4.7"/><circle cx="1294.5" cy="482.3" r="4.7"/><circle cx="1282" cy="495.3" r="4.7"/><circle cx="1339.1" cy="495.1" r="4.7"/><circle cx="1217.7" cy="494.5" r="4.7"/><circle cx="1333.4" cy="495.5" r="4.7"/><circle cx="1263.1" cy="495.7" r="4.7"/><circle cx="1237.1" cy="495" r="4.7"/><circle cx="1288.9" cy="483.2" r="4.7"/><circle cx="1293.6" cy="482.2" r="4.7"/><circle cx="1323.4" cy="495.8" r="4.7"/><circle cx="1342.4" cy="495.6" r="4.7"/><circle cx="1291.6" cy="483" r="4.7"/><circle cx="1203.6" cy="483.6" r="4.7"/><circle cx="1191.8" cy="495.1" r="4.7"/><circle cx="1201.6" cy="494.1" r="4.7"/><circle cx="1213.2" cy="493.6" r="4.7"/><circle cx="1215.4" cy="490.5" r="4.7"/><circle cx="1215.8" cy="486.8" r="4.7"/><circle cx="1198.2" cy="489.8" r="4.7"/><circle cx="1197.9" cy="483.7" r="4.7"/><circle cx="1199.7" cy="486.9" r="4.7"/><circle cx="1202.3" cy="487.9" r="4.7"/><circle cx="1209.7" cy="485" r="4.7"/><circle cx="1194.2" cy="491.8" r="4.7"/><circle cx="1216.6" cy="485.5" r="4.7"/><circle cx="1214.1" cy="487.3" r="4.7"/><circle cx="1189.3" cy="494.6" r="4.7"/><circle cx="1211.7" cy="493.6" r="4.7"/><circle cx="1203" cy="483.9" r="4.7"/><circle cx="1204.7" cy="490.6" r="4.7"/><circle cx="1200.2" cy="490" r="4.7"/><circle cx="1217.7" cy="491.9" r="4.7"/><circle cx="1213.3" cy="490.7" r="4.7"/><circle cx="1205.5" cy="495.2" r="4.7"/><circle cx="1211.3" cy="486.1" r="4.7"/><circle cx="1213.1" cy="484.7" r="4.7"/><circle cx="1198.3" cy="493.1" r="4.7"/><circle cx="1214.2" cy="490.6" r="4.7"/><circle cx="1213.9" cy="495.9" r="4.7"/><circle cx="1217.6" cy="491.7" r="4.7"/><circle cx="1214" cy="485" r="4.7"/><circle cx="1207" cy="492.9" r="4.7"/><circle cx="1215.6" cy="493.4" r="4.7"/><circle cx="1199.7" cy="488.1" r="4.7"/><circle cx="1216.6" cy="488.4" r="4.7"/><circle cx="1211.7" cy="494" r="4.7"/><circle cx="1206.6" cy="483.6" r="4.7"/><circle cx="1217.2" cy="492.3" r="4.7"/><circle cx="1190.4" cy="493.5" r="4.7"/><circle cx="1218" cy="484.4" r="4.7"/><circle cx="1356.2" cy="491.9" r="4.7"/><circle cx="1366.5" cy="486.5" r="4.7"/><circle cx="1356.4" cy="495.3" r="4.7"/><circle cx="1363.6" cy="485" r="4.7"/><circle cx="1352.1" cy="495.2" r="4.7"/><circle cx="1365.7" cy="482.4" r="4.7"/><circle cx="1364.3" cy="483.8" r="4.7"/><circle cx="1358.9" cy="484.7" r="4.7"/><circle cx="1352" cy="483.1" r="4.7"/><circle cx="1353.7" cy="485" r="4.7"/><circle cx="1365.5" cy="489.1" r="4.7"/><circle cx="1367" cy="495" r="4.7"/><circle cx="1354.7" cy="486.1" r="4.7"/><circle cx="1354.7" cy="489.7" r="4.7"/><circle cx="1360.6" cy="483.1" r="4.7"/><circle cx="1360.6" cy="489.4" r="4.7"/><circle cx="1353.5" cy="483.1" r="4.7"/><circle cx="1354.9" cy="484.4" r="4.7"/><circle cx="1358" cy="486.3" r="4.7"/><circle cx="1147" cy="488.8" r="4.7"/><circle cx="1152" cy="482.4" r="4.7"/><circle cx="1158" cy="483.9" r="4.7"/><circle cx="1165" cy="488.5" r="4.7"/><circle cx="1170" cy="487" r="4.7"/><circle cx="1175.6" cy="487.2" r="4.7"/><circle cx="1309.2" cy="525.7" r="4.7"/><circle cx="1314.3" cy="514.7" r="4.7"/><circle cx="1323.7" cy="525.8" r="4.7"/><circle cx="1314.5" cy="515" r="4.7"/><circle cx="1240.8" cy="526.9" r="4.7"/><circle cx="1262.2" cy="513.8" r="4.7"/><circle cx="1261" cy="514.4" r="4.7"/><circle cx="1234.8" cy="526.6" r="4.7"/><circle cx="1307" cy="514.3" r="4.7"/><circle cx="1257.3" cy="513.8" r="4.7"/><circle cx="1293.5" cy="514.6" r="4.7"/><circle cx="1334.5" cy="515.2" r="4.7"/><circle cx="1346.4" cy="514.2" r="4.7"/><circle cx="1288.7" cy="513.3" r="4.7"/><circle cx="1282" cy="525.2" r="4.7"/><circle cx="1348.9" cy="514.6" r="4.7"/><circle cx="1292.9" cy="526.3" r="4.7"/><circle cx="1332.2" cy="513.9" r="4.7"/><circle cx="1342.4" cy="515.1" r="4.7"/><circle cx="1233.2" cy="527.2" r="4.7"/><circle cx="1325.4" cy="525.2" r="4.7"/><circle cx="1247.4" cy="514.8" r="4.7"/><circle cx="1316.7" cy="513.8" r="4.7"/><circle cx="1263.9" cy="526" r="4.7"/><circle cx="1310.4" cy="514.7" r="4.7"/><circle cx="1289.1" cy="526" r="4.7"/><circle cx="1322.6" cy="526" r="4.7"/><circle cx="1301.5" cy="525.5" r="4.7"/><circle cx="1351.1" cy="513.8" r="4.7"/><circle cx="1273.5" cy="514.9" r="4.7"/><circle cx="1304.2" cy="514.8" r="4.7"/><circle cx="1245.1" cy="525.8" r="4.7"/><circle cx="1226.5" cy="527.3" r="4.7"/><circle cx="1237.3" cy="514.4" r="4.7"/><circle cx="1254.1" cy="526.7" r="4.7"/><circle cx="1287.9" cy="526.5" r="4.7"/><circle cx="1228.5" cy="526.3" r="4.7"/><circle cx="1259.5" cy="525.9" r="4.7"/><circle cx="1333.5" cy="514.4" r="4.7"/><circle cx="1301.1" cy="527" r="4.7"/><circle cx="1278.1" cy="526.8" r="4.7"/><circle cx="1353" cy="515" r="4.7"/><circle cx="1311.8" cy="525.2" r="4.7"/><circle cx="1254.1" cy="526.2" r="4.7"/><circle cx="1217.6" cy="514" r="4.7"/><circle cx="1198.5" cy="515.6" r="4.7"/><circle cx="1208.5" cy="518.4" r="4.7"/><circle cx="1209.2" cy="520.3" r="4.7"/><circle cx="1181.2" cy="521.5" r="4.7"/><circle cx="1202" cy="527.1" r="4.7"/><circle cx="1193" cy="513.7" r="4.7"/><circle cx="1206.7" cy="520.1" r="4.7"/><circle cx="1216.5" cy="516.6" r="4.7"/><circle cx="1205.4" cy="523.2" r="4.7"/><circle cx="1192.7" cy="514.4" r="4.7"/><circle cx="1191.5" cy="526.3" r="4.7"/><circle cx="1205" cy="515.5" r="4.7"/><circle cx="1218" cy="517.3" r="4.7"/><circle cx="1174.9" cy="515.5" r="4.7"/><circle cx="1167.8" cy="514" r="4.7"/><circle cx="1179.3" cy="523.6" r="4.7"/><circle cx="1212.4" cy="514.9" r="4.7"/><circle cx="1212.2" cy="526.9" r="4.7"/><circle cx="1211.6" cy="517.4" r="4.7"/><circle cx="1217.3" cy="523.1" r="4.7"/><circle cx="1212.4" cy="521.5" r="4.7"/><circle cx="1214.6" cy="524.6" r="4.7"/><circle cx="1208.6" cy="524.3" r="4.7"/><circle cx="1215.2" cy="523.3" r="4.7"/><circle cx="1198.4" cy="519.9" r="4.7"/><circle cx="1183.7" cy="515.5" r="4.7"/><circle cx="1181.2" cy="516.4" r="4.7"/><circle cx="1217.3" cy="517" r="4.7"/><circle cx="1190.1" cy="525" r="4.7"/><circle cx="1210" cy="518.6" r="4.7"/><circle cx="1182" cy="515.4" r="4.7"/><circle cx="1170.8" cy="523.5" r="4.7"/><circle cx="1171.3" cy="515.9" r="4.7"/><circle cx="1210.7" cy="517.7" r="4.7"/><circle cx="1186" cy="515.5" r="4.7"/><circle cx="1217.9" cy="519.7" r="4.7"/><circle cx="1212.6" cy="523.1" r="4.7"/><circle cx="1185" cy="513.5" r="4.7"/><circle cx="1184.7" cy="518.1" r="4.7"/><circle cx="1184.1" cy="515.5" r="4.7"/><circle cx="1199.8" cy="522.9" r="4.7"/><circle cx="1187.6" cy="515.6" r="4.7"/><circle cx="1207.2" cy="517.7" r="4.7"/><circle cx="1199.7" cy="522.8" r="4.7"/><circle cx="1176.8" cy="520" r="4.7"/><circle cx="1198.8" cy="516.3" r="4.7"/><circle cx="1192.8" cy="524.8" r="4.7"/><circle cx="1218" cy="523" r="4.7"/><circle cx="1188.4" cy="514.9" r="4.7"/><circle cx="1172" cy="525.3" r="4.7"/><circle cx="1176.9" cy="521.3" r="4.7"/><circle cx="1187.6" cy="517.3" r="4.7"/><circle cx="1202.6" cy="526.2" r="4.7"/><circle cx="1184.7" cy="516.4" r="4.7"/><circle cx="1209.9" cy="519" r="4.7"/><circle cx="1217.8" cy="519.6" r="4.7"/><circle cx="1196.8" cy="516.1" r="4.7"/><circle cx="1201.1" cy="515.6" r="4.7"/><circle cx="1179.2" cy="521.8" r="4.7"/><circle cx="1205.4" cy="526.9" r="4.7"/><circle cx="1185.2" cy="524.5" r="4.7"/><circle cx="1207" cy="520.1" r="4.7"/><circle cx="1214.2" cy="523.3" r="4.7"/><circle cx="1363.4" cy="516.7" r="4.7"/><circle cx="1353.1" cy="521.9" r="4.7"/><circle cx="1361.5" cy="522.4" r="4.7"/><circle cx="1355.2" cy="521.7" r="4.7"/><circle cx="1354" cy="525" r="4.7"/><circle cx="1362.9" cy="521.5" r="4.7"/><circle cx="1361.1" cy="514.8" r="4.7"/><circle cx="1354.2" cy="517.7" r="4.7"/><circle cx="1353" cy="514.4" r="4.7"/><circle cx="1354.2" cy="524" r="4.7"/><circle cx="1359.8" cy="520.1" r="4.7"/><circle cx="1355.9" cy="519.6" r="4.7"/><circle cx="1364.8" cy="516.8" r="4.7"/><circle cx="1362.2" cy="517.4" r="4.7"/><circle cx="1364.4" cy="515.5" r="4.7"/><circle cx="1354" cy="522.6" r="4.7"/><circle cx="1353.9" cy="514.5" r="4.7"/><circle cx="1118" cy="524.3" r="4.7"/><circle cx="1153.5" cy="520.4" r="4.7"/><circle cx="1157" cy="521.1" r="4.7"/><circle cx="1161.5" cy="526.4" r="4.7"/><circle cx="1223" cy="558.3" r="4.7"/><circle cx="1324.9" cy="556.5" r="4.7"/><circle cx="1284.7" cy="557.9" r="4.7"/><circle cx="1304.4" cy="544.9" r="4.7"/><circle cx="1311.8" cy="556.6" r="4.7"/><circle cx="1286.5" cy="557.9" r="4.7"/><circle cx="1295.9" cy="558.4" r="4.7"/><circle cx="1231.7" cy="556.7" r="4.7"/><circle cx="1293.4" cy="545.3" r="4.7"/><circle cx="1292.5" cy="556.2" r="4.7"/><circle cx="1353.1" cy="557" r="4.7"/><circle cx="1239" cy="557.6" r="4.7"/><circle cx="1203.5" cy="545.7" r="4.7"/><circle cx="1291.5" cy="545.5" r="4.7"/><circle cx="1235.4" cy="546" r="4.7"/><circle cx="1207.8" cy="545.9" r="4.7"/><circle cx="1251.5" cy="545.6" r="4.7"/><circle cx="1211.9" cy="545.1" r="4.7"/><circle cx="1257.2" cy="545.9" r="4.7"/><circle cx="1268.2" cy="557.9" r="4.7"/><circle cx="1222.9" cy="545.9" r="4.7"/><circle cx="1254.3" cy="558.3" r="4.7"/><circle cx="1309.7" cy="545.7" r="4.7"/><circle cx="1313.2" cy="544.6" r="4.7"/><circle cx="1338.9" cy="544.5" r="4.7"/><circle cx="1319.5" cy="557.5" r="4.7"/><circle cx="1281.7" cy="558.5" r="4.7"/><circle cx="1346.9" cy="558.3" r="4.7"/><circle cx="1289.9" cy="557" r="4.7"/><circle cx="1269.6" cy="558.3" r="4.7"/><circle cx="1214.9" cy="545.1" r="4.7"/><circle cx="1236.4" cy="545.3" r="4.7"/><circle cx="1322.6" cy="545.2" r="4.7"/><circle cx="1302.3" cy="545.1" r="4.7"/><circle cx="1307.7" cy="545.5" r="4.7"/><circle cx="1289.4" cy="558.4" r="4.7"/><circle cx="1334" cy="557.1" r="4.7"/><circle cx="1273.3" cy="544.9" r="4.7"/><circle cx="1299.5" cy="556.4" r="4.7"/><circle cx="1263.5" cy="544.8" r="4.7"/><circle cx="1310.5" cy="557.5" r="4.7"/><circle cx="1231.4" cy="558" r="4.7"/><circle cx="1314.5" cy="557.3" r="4.7"/><circle cx="1246.3" cy="544.4" r="4.7"/><circle cx="1350.2" cy="545.5" r="4.7"/><circle cx="1258.4" cy="544.4" r="4.7"/><circle cx="1339" cy="546.3" r="4.7"/><circle cx="1217.5" cy="557.9" r="4.7"/><circle cx="1273.2" cy="544.6" r="4.7"/><circle cx="1252.1" cy="545.6" r="4.7"/><circle cx="1161.2" cy="554.2" r="4.7"/><circle cx="1161.2" cy="548" r="4.7"/><circle cx="1185.5" cy="552" r="4.7"/><circle cx="1180.2" cy="544.7" r="4.7"/><circle cx="1161.7" cy="550.7" r="4.7"/><circle cx="1200.8" cy="556.3" r="4.7"/><circle cx="1182.1" cy="554.7" r="4.7"/><circle cx="1168.1" cy="553.1" r="4.7"/><circle cx="1152" cy="545.3" r="4.7"/><circle cx="1194.7" cy="546.8" r="4.7"/><circle cx="1176.4" cy="547.5" r="4.7"/><circle cx="1202.9" cy="546.4" r="4.7"/><circle cx="1200.4" cy="552" r="4.7"/><circle cx="1188.4" cy="550.9" r="4.7"/><circle cx="1203" cy="551.8" r="4.7"/><circle cx="1197.9" cy="545.8" r="4.7"/><circle cx="1202.7" cy="546.6" r="4.7"/><circle cx="1191.4" cy="546.8" r="4.7"/><circle cx="1188" cy="546.8" r="4.7"/><circle cx="1168.5" cy="556.6" r="4.7"/><circle cx="1195.1" cy="545.5" r="4.7"/><circle cx="1146.7" cy="545.7" r="4.7"/><circle cx="1175.4" cy="554.9" r="4.7"/><circle cx="1186.8" cy="556.8" r="4.7"/><circle cx="1201.1" cy="554.4" r="4.7"/><circle cx="1152.7" cy="556.9" r="4.7"/><circle cx="1158.3" cy="550.5" r="4.7"/><circle cx="1185" cy="556.2" r="4.7"/><circle cx="1192.5" cy="548" r="4.7"/><circle cx="1202.9" cy="547.3" r="4.7"/><circle cx="1201.2" cy="557.3" r="4.7"/><circle cx="1195.8" cy="549.4" r="4.7"/><circle cx="1145.7" cy="554" r="4.7"/><circle cx="1189.6" cy="546" r="4.7"/><circle cx="1193.2" cy="548.5" r="4.7"/><circle cx="1148.4" cy="550.3" r="4.7"/><circle cx="1145.9" cy="548.2" r="4.7"/><circle cx="1202.8" cy="556.9" r="4.7"/><circle cx="1202.4" cy="555.4" r="4.7"/><circle cx="1179.4" cy="548.4" r="4.7"/><circle cx="1159.7" cy="550.4" r="4.7"/><circle cx="1144.8" cy="552.2" r="4.7"/><circle cx="1148.9" cy="557.3" r="4.7"/><circle cx="1192.7" cy="554" r="4.7"/><circle cx="1169.1" cy="553.5" r="4.7"/><circle cx="1202.9" cy="554" r="4.7"/><circle cx="1166.2" cy="547.2" r="4.7"/><circle cx="1202.1" cy="545.4" r="4.7"/><circle cx="1182.9" cy="546" r="4.7"/><circle cx="1158.4" cy="550.2" r="4.7"/><circle cx="1143.5" cy="554.6" r="4.7"/><circle cx="1190" cy="547" r="4.7"/><circle cx="1190.1" cy="552.9" r="4.7"/><circle cx="1157.1" cy="556.8" r="4.7"/><circle cx="1195.1" cy="544.8" r="4.7"/><circle cx="1174.2" cy="554" r="4.7"/><circle cx="1175.6" cy="555.6" r="4.7"/><circle cx="1161.7" cy="553.1" r="4.7"/><circle cx="1160.9" cy="546.2" r="4.7"/><circle cx="1148.7" cy="553.7" r="4.7"/><circle cx="1202.1" cy="546.8" r="4.7"/><circle cx="1176" cy="548.7" r="4.7"/><circle cx="1149.6" cy="548.3" r="4.7"/><circle cx="1186.6" cy="551.4" r="4.7"/><circle cx="1149.3" cy="548.7" r="4.7"/><circle cx="1154.1" cy="554.5" r="4.7"/><circle cx="1181.2" cy="557.6" r="4.7"/><circle cx="1155" cy="554.8" r="4.7"/><circle cx="1182.8" cy="545.1" r="4.7"/><circle cx="1199" cy="553.5" r="4.7"/><circle cx="1201.7" cy="553.4" r="4.7"/><circle cx="1194.1" cy="549.8" r="4.7"/><circle cx="1160.8" cy="556.1" r="4.7"/><circle cx="1167.5" cy="550.7" r="4.7"/><circle cx="1183.5" cy="558.1" r="4.7"/><circle cx="1150.8" cy="552.9" r="4.7"/><circle cx="1202.4" cy="556.9" r="4.7"/><circle cx="1357.1" cy="546.1" r="4.7"/><circle cx="1365.7" cy="547.2" r="4.7"/><circle cx="1367.8" cy="554" r="4.7"/><circle cx="1358" cy="557" r="4.7"/><circle cx="1374" cy="553.6" r="4.7"/><circle cx="1373.5" cy="555.6" r="4.7"/><circle cx="1362.1" cy="555.9" r="4.7"/><circle cx="1372.4" cy="554.1" r="4.7"/><circle cx="1357.3" cy="549.6" r="4.7"/><circle cx="1366.7" cy="549.5" r="4.7"/><circle cx="1358" cy="550.8" r="4.7"/><circle cx="1357.7" cy="551" r="4.7"/><circle cx="1357.4" cy="554.5" r="4.7"/><circle cx="1358.4" cy="557.4" r="4.7"/><circle cx="1357.5" cy="553.2" r="4.7"/><circle cx="1365.4" cy="547.2" r="4.7"/><circle cx="1365.1" cy="552.1" r="4.7"/><circle cx="1364.8" cy="547.1" r="4.7"/><circle cx="1362.2" cy="556" r="4.7"/><circle cx="1364.9" cy="547.9" r="4.7"/><circle cx="1359.9" cy="556.6" r="4.7"/><circle cx="1357.2" cy="551.1" r="4.7"/><circle cx="1127" cy="551.6" r="4.7"/><circle cx="1133" cy="550.4" r="4.7"/><circle cx="1138" cy="544.5" r="4.7"/><circle cx="1143" cy="546" r="4.7"/></g>
<path d="M1258.3 116H1302.7M1332.9 116H1361M1302.7 104H1332.9V128H1302.7ZM1320.8 104V128M1278 147.1H1308.7M1334.9 147.1H1364M1308.7 135.1H1334.9V159.1H1308.7ZM1324.8 135.1V159.1M1230 178.2H1277.7M1312.7 178.2H1349M1277.7 166.2H1312.7V190.2H1277.7ZM1298.6 166.2V190.2M1093 209.3H1216.8M1303.9 209.3H1351M1216.8 197.3H1303.9V221.3H1216.8ZM1275.6 197.3V221.3M1244 240.4H1289.7M1320.8 240.4H1361M1289.7 228.4H1320.8V252.4H1289.7ZM1305.6 228.4V252.4M1220 271.5H1278.5M1320 271.5H1377M1278.5 259.5H1320V283.5H1278.5ZM1303.5 259.5V283.5M1238 302.6H1285.7M1317.6 302.6H1361M1285.7 290.6H1317.6V314.6H1285.7ZM1301.5 290.6V314.6M1242 333.7H1288.5M1318.8 333.7H1365M1288.5 321.7H1318.8V345.7H1288.5ZM1306.7 321.7V345.7M1251.6 364.8H1295.8M1324.8 364.8H1369M1295.8 352.8H1324.8V376.8H1295.8ZM1312.7 352.8V376.8M1244 395.9H1291.6M1322.8 395.9H1365M1291.6 383.9H1322.8V407.9H1291.6ZM1309.8 383.9V407.9M1242 427H1289.7M1321.7 427H1365M1289.7 415H1321.7V439H1289.7ZM1309.5 415V439M1252 458.1H1296.6M1324.8 458.1H1367M1296.6 446.1H1324.8V470.1H1296.6ZM1313.5 446.1V470.1M1242 489.2H1287.7M1318.8 489.2H1361M1287.7 477.2H1318.8V501.2H1287.7ZM1306.7 477.2V501.2M1240 520.3H1287.7M1319.6 520.3H1363M1287.7 508.3H1319.6V532.3H1287.7ZM1308.7 508.3V532.3M1242 551.4H1289.7M1321.7 551.4H1365M1289.7 539.4H1321.7V563.4H1289.7ZM1309.5 539.4V563.4" fill="none" stroke="#EC7A72" stroke-width="2.3"/>
<path d="M853 98V570H1413.5" fill="none" stroke="#000" stroke-width="1.9"/>
<path d="M848.5 116H853M848.5 147.1H853M848.5 178.2H853M848.5 209.3H853M848.5 240.4H853M848.5 271.5H853M848.5 302.6H853M848.5 333.7H853M848.5 364.8H853M848.5 395.9H853M848.5 427H853M848.5 458.1H853M848.5 489.2H853M848.5 520.3H853M848.5 551.4H853M880.1 570V574.5M1020 570V574.5M1159.5 570V574.5M1300.2 570V574.5" stroke="#333" stroke-width="1.6"/>
<text x="845" y="121" font-size="13.9" text-anchor="end" fill="#4D4D4D">intergenic</text>
<text x="845" y="152.1" font-size="13.9" text-anchor="end" fill="#4D4D4D">non−targeting</text>
<text x="845" y="183.2" font-size="13.9" text-anchor="end" fill="#4D4D4D">non−essential</text>
<text x="845" y="214.3" font-size="13.9" text-anchor="end" fill="#4D4D4D">essential</text>
<text x="845" y="245.4" font-size="13.9" text-anchor="end" fill="#4D4D4D">MYC</text>
<text x="845" y="276.5" font-size="13.9" text-anchor="end" fill="#4D4D4D">EGFR</text>
<text x="845" y="307.6" font-size="13.9" text-anchor="end" fill="#4D4D4D">KRAS</text>
<text x="845" y="338.7" font-size="13.9" text-anchor="end" fill="#4D4D4D">BRAF</text>
<text x="845" y="369.8" font-size="13.9" text-anchor="end" fill="#4D4D4D">MAP2K2</text>
<text x="845" y="400.9" font-size="13.9" text-anchor="end" fill="#4D4D4D">MAP2K1</text>
<text x="845" y="432" font-size="13.9" text-anchor="end" fill="#4D4D4D">BCL2</text>
<text x="845" y="463.1" font-size="13.9" text-anchor="end" fill="#4D4D4D">AKT1</text>
<text x="845" y="494.2" font-size="13.9" text-anchor="end" fill="#4D4D4D">PIK3CA</text>
<text x="845" y="525.3" font-size="13.9" text-anchor="end" fill="#4D4D4D">PARP2</text>
<text x="845" y="556.4" font-size="13.9" text-anchor="end" fill="#4D4D4D">PARP1</text>
<text x="880.1" y="587.9" font-size="13.9" text-anchor="middle" fill="#4D4D4D">−12</text>
<text x="1020" y="587.9" font-size="13.9" text-anchor="middle" fill="#4D4D4D">−8</text>
<text x="1159.5" y="587.9" font-size="13.9" text-anchor="middle" fill="#4D4D4D">−4</text>
<text x="1300.2" y="587.9" font-size="13.9" text-anchor="middle" fill="#4D4D4D">0</text>
<text x="1133" y="606.5" font-size="17" text-anchor="middle" fill="#000">PC9 control vs plasmid (z−score)</text>
<text x="2075" y="208.2" font-size="14.4" font-weight="bold" fill="#000">p=1.1e−08</text>
<path d="M1855 233.2L1871 226.1H2068L2078 232.6V241.4L2068 247.9H1871L1855 240.8ZM1840 264.6L1856 257.5H2065L2075 264V272.8L2065 279.3H1856L1840 272.2ZM1830 296L1846 288.9H2070L2080 295.4V304.2L2070 310.7H1846L1830 303.6ZM1800 327.4L1816 320.3H2075L2085 326.8V335.6L2075 342.1H1816L1800 335ZM1865 358.8L1881 351.7H2065L2075 358.2V367L2065 373.5H1881L1865 366.4ZM1845 390.2L1861 383.1H2070L2080 389.6V398.4L2070 404.9H1861L1845 397.8ZM1825 421.6L1841 414.5H2072L2082 421V429.8L2072 436.3H1841L1825 429.2ZM1820 453L1836 445.9H2067L2077 452.4V461.2L2067 467.7H1836L1820 460.6ZM1800 484.4L1816 477.3H2072L2082 483.8V492.6L2072 499.1H1816L1800 492ZM1818 515.8L1834 508.7H2072L2082 515.2V524L2072 530.5H1834L1818 523.4ZM1800 547.2L1816 540.1H2070L2080 546.6V555.4L2070 561.9H1816L1800 554.8Z" fill="#000"/>
<g fill="none" stroke="#000" stroke-width="1.65"><circle cx="2019.9" cy="108.5" r="4.7"/><circle cx="1911" cy="105.6" r="4.7"/><circle cx="2016.2" cy="107.2" r="4.7"/><circle cx="1873.6" cy="108.9" r="4.7"/><circle cx="1797.1" cy="113.8" r="4.7"/><circle cx="1800.1" cy="118.2" r="4.7"/><circle cx="1951.3" cy="109.1" r="4.7"/><circle cx="2003.3" cy="107" r="4.7"/><circle cx="1913.7" cy="116.1" r="4.7"/><circle cx="1984.3" cy="106.6" r="4.7"/><circle cx="1998.3" cy="112.3" r="4.7"/><circle cx="1993.1" cy="107.9" r="4.7"/><circle cx="1977.4" cy="108.2" r="4.7"/><circle cx="2037" cy="117.7" r="4.7"/><circle cx="1888.4" cy="112.6" r="4.7"/><circle cx="2009.6" cy="116.9" r="4.7"/><circle cx="1825.5" cy="108.5" r="4.7"/><circle cx="1958" cy="115.5" r="4.7"/><circle cx="1937.3" cy="105.7" r="4.7"/><circle cx="1877" cy="106.7" r="4.7"/><circle cx="2022.1" cy="112.7" r="4.7"/><circle cx="1997.8" cy="109" r="4.7"/><circle cx="1972" cy="110.1" r="4.7"/><circle cx="1891.5" cy="114.4" r="4.7"/><circle cx="2029.5" cy="104.8" r="4.7"/><circle cx="2047.6" cy="115.7" r="4.7"/><circle cx="1897.9" cy="104.7" r="4.7"/><circle cx="1800.2" cy="108.5" r="4.7"/><circle cx="1864.5" cy="111.5" r="4.7"/><circle cx="1993.6" cy="105.3" r="4.7"/><circle cx="1941.1" cy="107" r="4.7"/><circle cx="2029.1" cy="117" r="4.7"/><circle cx="1937.1" cy="113.1" r="4.7"/><circle cx="2031.5" cy="105.3" r="4.7"/><circle cx="1952.1" cy="109.9" r="4.7"/><circle cx="1977.9" cy="110.9" r="4.7"/><circle cx="2004.7" cy="113.3" r="4.7"/><circle cx="1868" cy="108.2" r="4.7"/><circle cx="1986.9" cy="117.1" r="4.7"/><circle cx="1900.5" cy="115.7" r="4.7"/><circle cx="1921.4" cy="104.9" r="4.7"/><circle cx="2010.1" cy="118.1" r="4.7"/><circle cx="1933.9" cy="116.5" r="4.7"/><circle cx="1914.9" cy="106.9" r="4.7"/><circle cx="1971.1" cy="105.6" r="4.7"/><circle cx="2056.5" cy="107.6" r="4.7"/><circle cx="1863.5" cy="111.3" r="4.7"/><circle cx="2037" cy="112.4" r="4.7"/><circle cx="1959.2" cy="109.4" r="4.7"/><circle cx="2001.7" cy="105.5" r="4.7"/><circle cx="1906.2" cy="113.3" r="4.7"/><circle cx="1976.3" cy="110.3" r="4.7"/><circle cx="2023.8" cy="111.8" r="4.7"/><circle cx="1894.1" cy="117.3" r="4.7"/><circle cx="1978.3" cy="109.1" r="4.7"/><circle cx="1915.2" cy="116.5" r="4.7"/><circle cx="1943.1" cy="112.1" r="4.7"/><circle cx="2015" cy="113" r="4.7"/><circle cx="1963.6" cy="108.7" r="4.7"/><circle cx="1997.9" cy="108.9" r="4.7"/><circle cx="1974.4" cy="114.1" r="4.7"/><circle cx="1906.3" cy="105.1" r="4.7"/><circle cx="1950.9" cy="115.6" r="4.7"/><circle cx="2035.4" cy="106.1" r="4.7"/><circle cx="1915.7" cy="104.9" r="4.7"/><circle cx="1813.8" cy="116.9" r="4.7"/><circle cx="1917" cy="107.6" r="4.7"/><circle cx="1965.2" cy="118.1" r="4.7"/><circle cx="1844.5" cy="115.6" r="4.7"/><circle cx="2012.1" cy="104.8" r="4.7"/><circle cx="1948.7" cy="113.2" r="4.7"/><circle cx="1953.5" cy="115.9" r="4.7"/><circle cx="1933.9" cy="111.3" r="4.7"/><circle cx="1916.5" cy="113.8" r="4.7"/><circle cx="2017.8" cy="104.6" r="4.7"/><circle cx="1975.6" cy="109.1" r="4.7"/><circle cx="1993.7" cy="107" r="4.7"/><circle cx="1986" cy="114.2" r="4.7"/><circle cx="1979.8" cy="117.6" r="4.7"/><circle cx="1907.3" cy="114.4" r="4.7"/><circle cx="1825.5" cy="112.6" r="4.7"/><circle cx="1990.7" cy="106.4" r="4.7"/><circle cx="2013.3" cy="115.9" r="4.7"/><circle cx="1926.6" cy="105.3" r="4.7"/><circle cx="1981.3" cy="113.2" r="4.7"/><circle cx="1927.8" cy="117.2" r="4.7"/><circle cx="1890" cy="117.6" r="4.7"/><circle cx="1997.4" cy="118.1" r="4.7"/><circle cx="1906.8" cy="111.3" r="4.7"/><circle cx="1921.7" cy="115.3" r="4.7"/><circle cx="1844.2" cy="116" r="4.7"/><circle cx="1916" cy="115.9" r="4.7"/><circle cx="1829.4" cy="110.6" r="4.7"/><circle cx="1991.5" cy="117.8" r="4.7"/><circle cx="1994.6" cy="107.1" r="4.7"/><circle cx="1965.2" cy="110.5" r="4.7"/><circle cx="1901.7" cy="116.6" r="4.7"/><circle cx="1935.6" cy="109.1" r="4.7"/><circle cx="1960.5" cy="116" r="4.7"/><circle cx="1940.3" cy="112.4" r="4.7"/><circle cx="1979.5" cy="106.5" r="4.7"/><circle cx="1886.4" cy="104.7" r="4.7"/><circle cx="1999.6" cy="111.1" r="4.7"/><circle cx="1981.5" cy="106.2" r="4.7"/><circle cx="1985.1" cy="116.5" r="4.7"/><circle cx="2024.7" cy="109.2" r="4.7"/><circle cx="1922.8" cy="110.3" r="4.7"/><circle cx="1943.5" cy="105.9" r="4.7"/><circle cx="2001.3" cy="116.1" r="4.7"/><circle cx="1931.1" cy="108.7" r="4.7"/><circle cx="1939.7" cy="107" r="4.7"/><circle cx="1962" cy="115" r="4.7"/><circle cx="1987.9" cy="112.6" r="4.7"/><circle cx="1965.6" cy="113.7" r="4.7"/><circle cx="1971.6" cy="114.6" r="4.7"/><circle cx="1956.5" cy="114.1" r="4.7"/><circle cx="1997.1" cy="107.5" r="4.7"/><circle cx="1838.3" cy="111.3" r="4.7"/><circle cx="1825.3" cy="114.6" r="4.7"/><circle cx="1844.4" cy="116.4" r="4.7"/><circle cx="1887.3" cy="117.4" r="4.7"/><circle cx="1849.4" cy="106.3" r="4.7"/><circle cx="1966.5" cy="109.6" r="4.7"/><circle cx="1983.7" cy="112.9" r="4.7"/><circle cx="1901.4" cy="115.2" r="4.7"/><circle cx="1997.4" cy="110.8" r="4.7"/><circle cx="1842.2" cy="114.1" r="4.7"/><circle cx="1887.7" cy="106.7" r="4.7"/><circle cx="1997.7" cy="106.6" r="4.7"/><circle cx="2028.6" cy="107.7" r="4.7"/><circle cx="2002" cy="117.3" r="4.7"/><circle cx="1981" cy="110.3" r="4.7"/><circle cx="1906.9" cy="108.1" r="4.7"/><circle cx="2028" cy="116.9" r="4.7"/><circle cx="2017.6" cy="107.9" r="4.7"/><circle cx="1938.5" cy="108.1" r="4.7"/><circle cx="1961.6" cy="115.3" r="4.7"/><circle cx="2028.4" cy="106.3" r="4.7"/><circle cx="1944.2" cy="105.9" r="4.7"/><circle cx="1982.9" cy="108.2" r="4.7"/><circle cx="2040.8" cy="112.6" r="4.7"/><circle cx="1946.9" cy="112.8" r="4.7"/><circle cx="1936.2" cy="106.1" r="4.7"/><circle cx="1900.6" cy="112" r="4.7"/><circle cx="1950.5" cy="116.7" r="4.7"/><circle cx="1954.7" cy="106.1" r="4.7"/><circle cx="1950" cy="112.1" r="4.7"/><circle cx="1906.2" cy="111.1" r="4.7"/><circle cx="1984" cy="116.8" r="4.7"/><circle cx="1888.8" cy="110.4" r="4.7"/><circle cx="1850.1" cy="114.5" r="4.7"/><circle cx="1942.9" cy="111.7" r="4.7"/><circle cx="2000.5" cy="117.7" r="4.7"/><circle cx="1800.8" cy="112.7" r="4.7"/><circle cx="1973.7" cy="117.2" r="4.7"/><circle cx="1841.2" cy="111.9" r="4.7"/><circle cx="1883.1" cy="110" r="4.7"/><circle cx="2031.2" cy="114.1" r="4.7"/><circle cx="1943.3" cy="117.1" r="4.7"/><circle cx="1856.3" cy="107.2" r="4.7"/><circle cx="1980.5" cy="109.5" r="4.7"/><circle cx="1967.9" cy="105.1" r="4.7"/><circle cx="1809.4" cy="110.4" r="4.7"/><circle cx="2017.4" cy="117.7" r="4.7"/><circle cx="2039.9" cy="117.7" r="4.7"/><circle cx="2037.1" cy="115.1" r="4.7"/><circle cx="2041" cy="109.9" r="4.7"/><circle cx="2000" cy="117.2" r="4.7"/><circle cx="1905.9" cy="106.8" r="4.7"/><circle cx="2009" cy="108.7" r="4.7"/><circle cx="1711" cy="104.5" r="4.7"/><circle cx="1755" cy="106.1" r="4.7"/><circle cx="2068" cy="115.9" r="4.7"/><circle cx="1931.1" cy="148.4" r="4.7"/><circle cx="2022.5" cy="139.8" r="4.7"/><circle cx="1850.8" cy="139.5" r="4.7"/><circle cx="1900.8" cy="148" r="4.7"/><circle cx="1913.8" cy="136" r="4.7"/><circle cx="1957.9" cy="143.6" r="4.7"/><circle cx="1974.1" cy="138.9" r="4.7"/><circle cx="1956" cy="146.8" r="4.7"/><circle cx="1865.5" cy="142.1" r="4.7"/><circle cx="1906" cy="141.3" r="4.7"/><circle cx="2036.3" cy="143.1" r="4.7"/><circle cx="1969.5" cy="140.4" r="4.7"/><circle cx="1971.4" cy="149.3" r="4.7"/><circle cx="1961.2" cy="144.9" r="4.7"/><circle cx="2001" cy="145.2" r="4.7"/><circle cx="1909.8" cy="137.3" r="4.7"/><circle cx="1958.4" cy="139.8" r="4.7"/><circle cx="1896.7" cy="141.6" r="4.7"/><circle cx="1957.3" cy="143.5" r="4.7"/><circle cx="2021.2" cy="143" r="4.7"/><circle cx="1909.6" cy="138.8" r="4.7"/><circle cx="1846.5" cy="136.5" r="4.7"/><circle cx="1925.2" cy="137.5" r="4.7"/><circle cx="2007.2" cy="144.5" r="4.7"/><circle cx="1928.7" cy="145.3" r="4.7"/><circle cx="1914.3" cy="136.4" r="4.7"/><circle cx="2062.6" cy="139.4" r="4.7"/><circle cx="2049.3" cy="141.6" r="4.7"/><circle cx="1929.3" cy="146.7" r="4.7"/><circle cx="1845.4" cy="136" r="4.7"/><circle cx="2040.5" cy="139.6" r="4.7"/><circle cx="1921.3" cy="136.7" r="4.7"/><circle cx="2022.1" cy="139.9" r="4.7"/><circle cx="1924.6" cy="146.1" r="4.7"/><circle cx="1988.5" cy="140.6" r="4.7"/><circle cx="1975.9" cy="148.7" r="4.7"/><circle cx="1952.5" cy="145.1" r="4.7"/><circle cx="1941.3" cy="145.1" r="4.7"/><circle cx="1969.5" cy="140.1" r="4.7"/><circle cx="2021.3" cy="140.1" r="4.7"/><circle cx="1927.8" cy="139.4" r="4.7"/><circle cx="1940.8" cy="137.3" r="4.7"/><circle cx="1983.8" cy="138.6" r="4.7"/><circle cx="1885" cy="142.4" r="4.7"/><circle cx="1987.7" cy="144" r="4.7"/><circle cx="1970.8" cy="136.6" r="4.7"/><circle cx="1995.2" cy="139.5" r="4.7"/><circle cx="2009.3" cy="137.1" r="4.7"/><circle cx="2010.8" cy="148.1" r="4.7"/><circle cx="1918.9" cy="138.7" r="4.7"/><circle cx="1845.9" cy="141.3" r="4.7"/><circle cx="1941" cy="148.6" r="4.7"/><circle cx="1953" cy="136.3" r="4.7"/><circle cx="1962.7" cy="145.8" r="4.7"/><circle cx="1985.3" cy="140.2" r="4.7"/><circle cx="1965.2" cy="138.9" r="4.7"/><circle cx="1985.8" cy="142.4" r="4.7"/><circle cx="2035.3" cy="144.6" r="4.7"/><circle cx="1917.3" cy="140.3" r="4.7"/><circle cx="1984.2" cy="141.8" r="4.7"/><circle cx="1893.4" cy="145.4" r="4.7"/><circle cx="1864.5" cy="138.6" r="4.7"/><circle cx="1946.4" cy="145.4" r="4.7"/><circle cx="1931.4" cy="137.7" r="4.7"/><circle cx="1883.3" cy="140.8" r="4.7"/><circle cx="1983.9" cy="139.2" r="4.7"/><circle cx="1967" cy="139.3" r="4.7"/><circle cx="2003.7" cy="142.1" r="4.7"/><circle cx="1962.6" cy="140.7" r="4.7"/><circle cx="2011.2" cy="146.5" r="4.7"/><circle cx="1934" cy="146.1" r="4.7"/><circle cx="1906.6" cy="139.7" r="4.7"/><circle cx="2020.1" cy="140" r="4.7"/><circle cx="2003.6" cy="147" r="4.7"/><circle cx="1970.7" cy="144.4" r="4.7"/><circle cx="1936.8" cy="143.7" r="4.7"/><circle cx="1893.8" cy="146.9" r="4.7"/><circle cx="1990.4" cy="141.4" r="4.7"/><circle cx="1995" cy="148.9" r="4.7"/><circle cx="2005.2" cy="139.7" r="4.7"/><circle cx="1928.1" cy="136.6" r="4.7"/><circle cx="2007.9" cy="144.1" r="4.7"/><circle cx="1965.9" cy="143" r="4.7"/><circle cx="1975.5" cy="144.9" r="4.7"/><circle cx="1861.8" cy="148.1" r="4.7"/><circle cx="1936.7" cy="138.9" r="4.7"/><circle cx="1938.4" cy="147" r="4.7"/><circle cx="1968.9" cy="141.2" r="4.7"/><circle cx="1875.9" cy="145.4" r="4.7"/><circle cx="1900.2" cy="141.2" r="4.7"/><circle cx="1917.9" cy="149.3" r="4.7"/><circle cx="1998.8" cy="141.4" r="4.7"/><circle cx="1879.3" cy="142.4" r="4.7"/><circle cx="1979.3" cy="142.5" r="4.7"/><circle cx="2013.7" cy="141.2" r="4.7"/><circle cx="1779" cy="137" r="4.7"/><circle cx="2004" cy="180.8" r="4.7"/><circle cx="2029.6" cy="174.7" r="4.7"/><circle cx="1972.1" cy="172.4" r="4.7"/><circle cx="1983.8" cy="173.3" r="4.7"/><circle cx="1945.9" cy="173.8" r="4.7"/><circle cx="1882.1" cy="174.5" r="4.7"/><circle cx="1979.1" cy="174.2" r="4.7"/><circle cx="1971.4" cy="180.8" r="4.7"/><circle cx="1862.9" cy="175.1" r="4.7"/><circle cx="1977.5" cy="172.8" r="4.7"/><circle cx="1893.6" cy="178.2" r="4.7"/><circle cx="2017.5" cy="175.1" r="4.7"/><circle cx="1921.4" cy="177.4" r="4.7"/><circle cx="1874.3" cy="178.5" r="4.7"/><circle cx="1824.8" cy="179.3" r="4.7"/><circle cx="1934.7" cy="180.7" r="4.7"/><circle cx="1998.7" cy="177" r="4.7"/><circle cx="1903.7" cy="171.6" r="4.7"/><circle cx="1866" cy="171.1" r="4.7"/><circle cx="1902.2" cy="178.5" r="4.7"/><circle cx="1973.4" cy="180.5" r="4.7"/><circle cx="1964.8" cy="172.5" r="4.7"/><circle cx="1978.1" cy="180.4" r="4.7"/><circle cx="2000.2" cy="180.8" r="4.7"/><circle cx="1917" cy="176.1" r="4.7"/><circle cx="1999.4" cy="170.7" r="4.7"/><circle cx="1995.5" cy="167.6" r="4.7"/><circle cx="1877.7" cy="173.5" r="4.7"/><circle cx="1818.6" cy="172.4" r="4.7"/><circle cx="1962.9" cy="167.9" r="4.7"/><circle cx="2015.1" cy="168.1" r="4.7"/><circle cx="1832.4" cy="171.2" r="4.7"/><circle cx="1949.8" cy="171.2" r="4.7"/><circle cx="1934.6" cy="175.3" r="4.7"/><circle cx="1997.5" cy="180.7" r="4.7"/><circle cx="1920.4" cy="172.1" r="4.7"/><circle cx="2043.6" cy="177.6" r="4.7"/><circle cx="1930.1" cy="173.5" r="4.7"/><circle cx="1813.1" cy="179.8" r="4.7"/><circle cx="1971.4" cy="180.1" r="4.7"/><circle cx="1915.2" cy="175.6" r="4.7"/><circle cx="1990.4" cy="177.4" r="4.7"/><circle cx="1973.9" cy="172.9" r="4.7"/><circle cx="1933.2" cy="177.9" r="4.7"/><circle cx="1875.6" cy="180.4" r="4.7"/><circle cx="1959.6" cy="175.7" r="4.7"/><circle cx="1946.3" cy="168.2" r="4.7"/><circle cx="1902.1" cy="175.5" r="4.7"/><circle cx="1867.5" cy="180" r="4.7"/><circle cx="1983.6" cy="172.5" r="4.7"/><circle cx="1986.7" cy="177.3" r="4.7"/><circle cx="2017.1" cy="169.5" r="4.7"/><circle cx="1950" cy="176.8" r="4.7"/><circle cx="1910.7" cy="179" r="4.7"/><circle cx="1982.8" cy="173.2" r="4.7"/><circle cx="1974.5" cy="170.9" r="4.7"/><circle cx="1834.6" cy="174" r="4.7"/><circle cx="1844.9" cy="169.2" r="4.7"/><circle cx="1934" cy="169.8" r="4.7"/><circle cx="1928.2" cy="175" r="4.7"/><circle cx="2027.2" cy="177.5" r="4.7"/><circle cx="1954.7" cy="171.9" r="4.7"/><circle cx="1872.9" cy="179" r="4.7"/><circle cx="1966.3" cy="167.5" r="4.7"/><circle cx="1993.8" cy="170.6" r="4.7"/><circle cx="1903.9" cy="178.9" r="4.7"/><circle cx="1972.4" cy="173.1" r="4.7"/><circle cx="2048.9" cy="172" r="4.7"/><circle cx="1847.5" cy="171.1" r="4.7"/><circle cx="1959.3" cy="179.3" r="4.7"/><circle cx="1914.4" cy="168.7" r="4.7"/><circle cx="1936.9" cy="174.2" r="4.7"/><circle cx="1932.3" cy="174.2" r="4.7"/><circle cx="2012.1" cy="169.1" r="4.7"/><circle cx="1962.3" cy="169.3" r="4.7"/><circle cx="1854.3" cy="169" r="4.7"/><circle cx="2025" cy="176.6" r="4.7"/><circle cx="2003.9" cy="175.3" r="4.7"/><circle cx="1975.2" cy="177" r="4.7"/><circle cx="1967.9" cy="171.8" r="4.7"/><circle cx="1959.4" cy="176.1" r="4.7"/><circle cx="1987.8" cy="169.3" r="4.7"/><circle cx="1950.1" cy="178" r="4.7"/><circle cx="1890.9" cy="176.4" r="4.7"/><circle cx="1877.6" cy="176.3" r="4.7"/><circle cx="1962.8" cy="168.1" r="4.7"/><circle cx="1965.9" cy="177.6" r="4.7"/><circle cx="1963" cy="167.6" r="4.7"/><circle cx="1982.6" cy="172.6" r="4.7"/><circle cx="1843.1" cy="170.2" r="4.7"/><circle cx="1989.4" cy="179.6" r="4.7"/><circle cx="1910" cy="173" r="4.7"/><circle cx="1902.1" cy="170.4" r="4.7"/><circle cx="1984.8" cy="174.4" r="4.7"/><circle cx="1982.5" cy="180.7" r="4.7"/><circle cx="1991.7" cy="179" r="4.7"/><circle cx="1880.1" cy="175.3" r="4.7"/><circle cx="2031" cy="176.5" r="4.7"/><circle cx="1978.2" cy="176" r="4.7"/><circle cx="1943.5" cy="174.5" r="4.7"/><circle cx="1858.7" cy="180.7" r="4.7"/><circle cx="1962.8" cy="177.6" r="4.7"/><circle cx="1902.6" cy="179.6" r="4.7"/><circle cx="1970" cy="168.3" r="4.7"/><circle cx="1966.5" cy="170.6" r="4.7"/><circle cx="1823.5" cy="177.6" r="4.7"/><circle cx="1987.2" cy="175.6" r="4.7"/><circle cx="1856.6" cy="170.8" r="4.7"/><circle cx="1997.5" cy="167.7" r="4.7"/><circle cx="1993.8" cy="180.5" r="4.7"/><circle cx="1964.5" cy="180.8" r="4.7"/><circle cx="1978.2" cy="179.6" r="4.7"/><circle cx="1954.1" cy="167.7" r="4.7"/><circle cx="1815.3" cy="168.3" r="4.7"/><circle cx="1950.7" cy="178.1" r="4.7"/><circle cx="1804" cy="173.5" r="4.7"/><circle cx="1808" cy="178.1" r="4.7"/><circle cx="1973.6" cy="211.6" r="4.7"/><circle cx="1940.4" cy="200.6" r="4.7"/><circle cx="1683" cy="209.3" r="4.7"/><circle cx="1917.4" cy="209.8" r="4.7"/><circle cx="1883.2" cy="209.7" r="4.7"/><circle cx="1922.1" cy="207.9" r="4.7"/><circle cx="1789.3" cy="200.2" r="4.7"/><circle cx="1907.3" cy="208.1" r="4.7"/><circle cx="2005.8" cy="209.4" r="4.7"/><circle cx="1994.2" cy="206" r="4.7"/><circle cx="1677.6" cy="199.9" r="4.7"/><circle cx="1989.6" cy="211" r="4.7"/><circle cx="1992.3" cy="206.8" r="4.7"/><circle cx="1694.4" cy="201.7" r="4.7"/><circle cx="1697.6" cy="199.1" r="4.7"/><circle cx="1979.8" cy="210.6" r="4.7"/><circle cx="1636.4" cy="210.5" r="4.7"/><circle cx="1777.3" cy="208.4" r="4.7"/><circle cx="1850.4" cy="200.8" r="4.7"/><circle cx="2025.8" cy="201.8" r="4.7"/><circle cx="1847.6" cy="205.5" r="4.7"/><circle cx="1836.9" cy="200.3" r="4.7"/><circle cx="1981.4" cy="203.5" r="4.7"/><circle cx="1828.4" cy="210.3" r="4.7"/><circle cx="1892" cy="205.8" r="4.7"/><circle cx="2018.9" cy="200.5" r="4.7"/><circle cx="1684.5" cy="200" r="4.7"/><circle cx="1975.4" cy="205.9" r="4.7"/><circle cx="1798.8" cy="208.9" r="4.7"/><circle cx="1827.2" cy="210.1" r="4.7"/><circle cx="1800.9" cy="205.3" r="4.7"/><circle cx="1745.2" cy="209.4" r="4.7"/><circle cx="1743.7" cy="209.5" r="4.7"/><circle cx="1964.6" cy="207.1" r="4.7"/><circle cx="1991.9" cy="206.9" r="4.7"/><circle cx="1897.4" cy="199.5" r="4.7"/><circle cx="1998" cy="202.2" r="4.7"/><circle cx="1928.1" cy="211.5" r="4.7"/><circle cx="1729.1" cy="200.4" r="4.7"/><circle cx="1756.4" cy="212" r="4.7"/><circle cx="1871" cy="199.5" r="4.7"/><circle cx="2028.8" cy="209.3" r="4.7"/><circle cx="1697.8" cy="200.6" r="4.7"/><circle cx="1852.4" cy="206.6" r="4.7"/><circle cx="1936.6" cy="200.5" r="4.7"/><circle cx="1843.2" cy="204.9" r="4.7"/><circle cx="1774.4" cy="200.4" r="4.7"/><circle cx="1942.3" cy="208.2" r="4.7"/><circle cx="1900.9" cy="201.4" r="4.7"/><circle cx="1816.4" cy="203.9" r="4.7"/><circle cx="1978.3" cy="207" r="4.7"/><circle cx="1729.2" cy="202.9" r="4.7"/><circle cx="1786.7" cy="211" r="4.7"/><circle cx="1899.9" cy="205.9" r="4.7"/><circle cx="1934.5" cy="208.9" r="4.7"/><circle cx="1805.8" cy="211.8" r="4.7"/><circle cx="1696.8" cy="201.1" r="4.7"/><circle cx="1743.6" cy="204" r="4.7"/><circle cx="1817.4" cy="203.4" r="4.7"/><circle cx="1839.8" cy="205.3" r="4.7"/><circle cx="1833.1" cy="199.5" r="4.7"/><circle cx="1757.2" cy="209.2" r="4.7"/><circle cx="1854.3" cy="200.5" r="4.7"/><circle cx="1861.2" cy="208.5" r="4.7"/><circle cx="2024.2" cy="210.2" r="4.7"/><circle cx="1752.4" cy="203.4" r="4.7"/><circle cx="1979.9" cy="199.7" r="4.7"/><circle cx="1823.9" cy="198.9" r="4.7"/><circle cx="1812.9" cy="200.6" r="4.7"/><circle cx="2024.1" cy="212.2" r="4.7"/><circle cx="1925.6" cy="199.4" r="4.7"/><circle cx="1911.9" cy="201" r="4.7"/><circle cx="1852" cy="201.2" r="4.7"/><circle cx="1935" cy="201.5" r="4.7"/><circle cx="1713.4" cy="201.6" r="4.7"/><circle cx="1714.2" cy="204.5" r="4.7"/><circle cx="1681.2" cy="199.9" r="4.7"/><circle cx="1745.3" cy="204.6" r="4.7"/><circle cx="1752.2" cy="200.9" r="4.7"/><circle cx="1669" cy="203.3" r="4.7"/><circle cx="1926.4" cy="208.9" r="4.7"/><circle cx="1967.1" cy="201.6" r="4.7"/><circle cx="1774.1" cy="199.9" r="4.7"/><circle cx="1997.2" cy="201.8" r="4.7"/><circle cx="2017" cy="207" r="4.7"/><circle cx="1932.9" cy="199.4" r="4.7"/><circle cx="2050.2" cy="212.1" r="4.7"/><circle cx="1730.1" cy="202.5" r="4.7"/><circle cx="1987.5" cy="211.1" r="4.7"/><circle cx="1771.6" cy="205.8" r="4.7"/><circle cx="2010.1" cy="205.7" r="4.7"/><circle cx="1973.5" cy="204.8" r="4.7"/><circle cx="1924.6" cy="204.8" r="4.7"/><circle cx="1934.4" cy="200.2" r="4.7"/><circle cx="1964.8" cy="199.8" r="4.7"/><circle cx="1876" cy="204.6" r="4.7"/><circle cx="1728.7" cy="201.9" r="4.7"/><circle cx="1982.4" cy="208.5" r="4.7"/><circle cx="1859" cy="202.6" r="4.7"/><circle cx="1915.8" cy="211.4" r="4.7"/><circle cx="1674" cy="200.1" r="4.7"/><circle cx="1938.1" cy="206.9" r="4.7"/><circle cx="1669.2" cy="206.6" r="4.7"/><circle cx="1836.8" cy="202.5" r="4.7"/><circle cx="1883.5" cy="202.8" r="4.7"/><circle cx="1958.4" cy="207.7" r="4.7"/><circle cx="1624.5" cy="209.5" r="4.7"/><circle cx="1906.9" cy="202.7" r="4.7"/><circle cx="1921.3" cy="205.2" r="4.7"/><circle cx="2049.7" cy="208" r="4.7"/><circle cx="1700" cy="203.4" r="4.7"/><circle cx="2044.6" cy="203" r="4.7"/><circle cx="1956.5" cy="210.1" r="4.7"/><circle cx="1632.7" cy="199.6" r="4.7"/><circle cx="1758.7" cy="210.6" r="4.7"/><circle cx="1830.3" cy="203.4" r="4.7"/><circle cx="2038" cy="204.8" r="4.7"/><circle cx="1992.3" cy="199.6" r="4.7"/><circle cx="1698.3" cy="208.9" r="4.7"/><circle cx="1973.4" cy="199.8" r="4.7"/><circle cx="1634.3" cy="207.8" r="4.7"/><circle cx="1672.2" cy="205.4" r="4.7"/><circle cx="1914.9" cy="201.5" r="4.7"/><circle cx="1763" cy="207.7" r="4.7"/><circle cx="2000.3" cy="201.4" r="4.7"/><circle cx="1836.4" cy="205.7" r="4.7"/><circle cx="2065.3" cy="204.6" r="4.7"/><circle cx="1696.6" cy="206.8" r="4.7"/><circle cx="1757.9" cy="211.3" r="4.7"/><circle cx="1657.4" cy="200.4" r="4.7"/><circle cx="1771.4" cy="207.8" r="4.7"/><circle cx="1872.7" cy="204" r="4.7"/><circle cx="1726" cy="202.2" r="4.7"/><circle cx="1940.3" cy="208.2" r="4.7"/><circle cx="1808.4" cy="201.3" r="4.7"/><circle cx="1877" cy="206.1" r="4.7"/><circle cx="1832.5" cy="204.5" r="4.7"/><circle cx="2019" cy="205" r="4.7"/><circle cx="1817.3" cy="200.8" r="4.7"/><circle cx="1835.9" cy="202.9" r="4.7"/><circle cx="1764.7" cy="207" r="4.7"/><circle cx="1934.2" cy="205.6" r="4.7"/><circle cx="1900.2" cy="208.2" r="4.7"/><circle cx="1994" cy="201.8" r="4.7"/><circle cx="1982.7" cy="205.4" r="4.7"/><circle cx="2035.1" cy="211.2" r="4.7"/><circle cx="1975" cy="205.5" r="4.7"/><circle cx="1609.1" cy="211.9" r="4.7"/><circle cx="1932.9" cy="206.8" r="4.7"/><circle cx="1611.1" cy="207.9" r="4.7"/><circle cx="1905" cy="210.8" r="4.7"/><circle cx="2022.6" cy="211" r="4.7"/><circle cx="1913.2" cy="212" r="4.7"/><circle cx="1905.5" cy="205" r="4.7"/><circle cx="1856.2" cy="211.6" r="4.7"/><circle cx="1870.6" cy="202.3" r="4.7"/><circle cx="1618.2" cy="205.5" r="4.7"/><circle cx="1668.4" cy="205.9" r="4.7"/><circle cx="1923.6" cy="201.6" r="4.7"/><circle cx="1714.4" cy="209" r="4.7"/><circle cx="1698.9" cy="212.1" r="4.7"/><circle cx="2030" cy="202.6" r="4.7"/><circle cx="1817.3" cy="209.6" r="4.7"/><circle cx="2040.2" cy="207.9" r="4.7"/><circle cx="1974.4" cy="208.9" r="4.7"/><circle cx="1739.2" cy="205.8" r="4.7"/><circle cx="2001.2" cy="202.4" r="4.7"/><circle cx="1811.5" cy="201.3" r="4.7"/><circle cx="1692.8" cy="206" r="4.7"/><circle cx="1764" cy="205.8" r="4.7"/><circle cx="1763" cy="205.2" r="4.7"/><circle cx="1890.3" cy="208.8" r="4.7"/><circle cx="1897.7" cy="199.4" r="4.7"/><circle cx="1862.7" cy="203.5" r="4.7"/><circle cx="1937.9" cy="206" r="4.7"/><circle cx="1826.3" cy="209.1" r="4.7"/><circle cx="1820.5" cy="208.4" r="4.7"/><circle cx="1798" cy="200.3" r="4.7"/><circle cx="1885.4" cy="209.3" r="4.7"/><circle cx="1673.4" cy="207.5" r="4.7"/><circle cx="1960.6" cy="207.7" r="4.7"/><circle cx="1965.2" cy="206.2" r="4.7"/><circle cx="2018.5" cy="208.2" r="4.7"/><circle cx="1747.3" cy="206.4" r="4.7"/><circle cx="1758" cy="206.7" r="4.7"/><circle cx="1891" cy="203" r="4.7"/><circle cx="1849" cy="208" r="4.7"/><circle cx="1919.8" cy="210.2" r="4.7"/><circle cx="1615.9" cy="199.1" r="4.7"/><circle cx="1973.2" cy="211" r="4.7"/><circle cx="1960.8" cy="202.6" r="4.7"/><circle cx="1676.5" cy="206.2" r="4.7"/><circle cx="1847.6" cy="206" r="4.7"/><circle cx="1915.1" cy="205.9" r="4.7"/><circle cx="1926" cy="200.6" r="4.7"/><circle cx="1784.2" cy="211.4" r="4.7"/><circle cx="1901.5" cy="200.5" r="4.7"/><circle cx="1817.1" cy="198.9" r="4.7"/><circle cx="1704.3" cy="200" r="4.7"/><circle cx="1990.7" cy="210.4" r="4.7"/><circle cx="1713.3" cy="206" r="4.7"/><circle cx="1706.7" cy="208.7" r="4.7"/><circle cx="1908.3" cy="205.2" r="4.7"/><circle cx="1876.1" cy="211.4" r="4.7"/><circle cx="1825.6" cy="199.1" r="4.7"/><circle cx="1656.3" cy="210.9" r="4.7"/><circle cx="2030.4" cy="206.8" r="4.7"/><circle cx="1829.6" cy="202.8" r="4.7"/><circle cx="1852.1" cy="206.6" r="4.7"/><circle cx="1888.1" cy="206.5" r="4.7"/><circle cx="1890.6" cy="209" r="4.7"/><circle cx="1945.4" cy="207" r="4.7"/><circle cx="1781.8" cy="207.7" r="4.7"/><circle cx="1810.7" cy="203.9" r="4.7"/><circle cx="2012.9" cy="207.7" r="4.7"/><circle cx="1912.4" cy="198.8" r="4.7"/><circle cx="1909.8" cy="203.5" r="4.7"/><circle cx="1973.8" cy="210.9" r="4.7"/><circle cx="1831.1" cy="208.3" r="4.7"/><circle cx="1658.4" cy="206.9" r="4.7"/><circle cx="1707.9" cy="212.5" r="4.7"/><circle cx="1849.6" cy="203.7" r="4.7"/><circle cx="1707.5" cy="200.6" r="4.7"/><circle cx="1770.3" cy="212.2" r="4.7"/><circle cx="2018.5" cy="210.7" r="4.7"/><circle cx="1808.1" cy="198.8" r="4.7"/><circle cx="1871.6" cy="210.9" r="4.7"/><circle cx="1936.2" cy="206.6" r="4.7"/><circle cx="1770.6" cy="201.9" r="4.7"/><circle cx="1650.3" cy="203.1" r="4.7"/><circle cx="1987.1" cy="205.6" r="4.7"/><circle cx="1839.6" cy="208.3" r="4.7"/><circle cx="1748.1" cy="200.8" r="4.7"/><circle cx="1697.6" cy="203" r="4.7"/><circle cx="1636.6" cy="210.7" r="4.7"/><circle cx="1755.1" cy="201.2" r="4.7"/><circle cx="1950" cy="204.2" r="4.7"/><circle cx="1935.1" cy="201.5" r="4.7"/><circle cx="1749.4" cy="202.2" r="4.7"/><circle cx="1973.4" cy="204" r="4.7"/><circle cx="1945.8" cy="212" r="4.7"/><circle cx="1889.8" cy="201.4" r="4.7"/><circle cx="2058.4" cy="210" r="4.7"/><circle cx="1695.6" cy="206.9" r="4.7"/><circle cx="1997.1" cy="200.7" r="4.7"/><circle cx="1679.2" cy="206.1" r="4.7"/><circle cx="1858.3" cy="204.8" r="4.7"/><circle cx="1946.4" cy="202.9" r="4.7"/><circle cx="1636.8" cy="205.6" r="4.7"/><circle cx="1959.9" cy="211.3" r="4.7"/><circle cx="1966.5" cy="199.5" r="4.7"/><circle cx="1827.7" cy="210.7" r="4.7"/><circle cx="1964.2" cy="205.9" r="4.7"/><circle cx="1975.2" cy="212.3" r="4.7"/><circle cx="1859.5" cy="200.5" r="4.7"/><circle cx="1860.6" cy="203.3" r="4.7"/><circle cx="1657.9" cy="211.7" r="4.7"/><circle cx="1898.8" cy="205.1" r="4.7"/><circle cx="1800" cy="204.2" r="4.7"/><circle cx="1925.4" cy="203.9" r="4.7"/><circle cx="1935" cy="210.8" r="4.7"/><circle cx="1803.3" cy="205.1" r="4.7"/><circle cx="2040.9" cy="208.3" r="4.7"/><circle cx="1824.4" cy="210.4" r="4.7"/><circle cx="1739.4" cy="201" r="4.7"/><circle cx="1999.9" cy="211.4" r="4.7"/><circle cx="2035" cy="212.4" r="4.7"/><circle cx="1939.2" cy="201.7" r="4.7"/><circle cx="2013.2" cy="212.4" r="4.7"/><circle cx="1939.9" cy="210.2" r="4.7"/><circle cx="1936.5" cy="199.7" r="4.7"/><circle cx="1649.5" cy="209.2" r="4.7"/><circle cx="1961.2" cy="203.8" r="4.7"/><circle cx="2041" cy="201.8" r="4.7"/><circle cx="1808.4" cy="208.9" r="4.7"/><circle cx="1992.6" cy="203.2" r="4.7"/><circle cx="1873.5" cy="206.3" r="4.7"/><circle cx="1850.5" cy="210.4" r="4.7"/><circle cx="1982.2" cy="200" r="4.7"/><circle cx="1979.9" cy="211.6" r="4.7"/><circle cx="1801.5" cy="205.2" r="4.7"/><circle cx="1743.1" cy="209.5" r="4.7"/><circle cx="1879.6" cy="205.7" r="4.7"/><circle cx="2007.8" cy="210.4" r="4.7"/><circle cx="1908.7" cy="207.2" r="4.7"/><circle cx="1756" cy="207.6" r="4.7"/><circle cx="1897.8" cy="208.5" r="4.7"/><circle cx="1637.1" cy="210.9" r="4.7"/><circle cx="1868.2" cy="206.1" r="4.7"/><circle cx="1806" cy="206.1" r="4.7"/><circle cx="1985.1" cy="205.2" r="4.7"/><circle cx="2009.8" cy="199.4" r="4.7"/><circle cx="1918.6" cy="204.2" r="4.7"/><circle cx="1779.1" cy="200.6" r="4.7"/><circle cx="1906.4" cy="204.6" r="4.7"/><circle cx="1953.2" cy="200.9" r="4.7"/><circle cx="1913.8" cy="209" r="4.7"/><circle cx="1874.8" cy="200.4" r="4.7"/><circle cx="1894.9" cy="211.8" r="4.7"/><circle cx="1984.2" cy="206.8" r="4.7"/><circle cx="1716.9" cy="210.6" r="4.7"/><circle cx="1859" cy="200.2" r="4.7"/><circle cx="1969.5" cy="200.9" r="4.7"/><circle cx="1976.4" cy="210.7" r="4.7"/><circle cx="1946.9" cy="209.3" r="4.7"/><circle cx="1936.8" cy="211.7" r="4.7"/><circle cx="1868.8" cy="210.5" r="4.7"/><circle cx="1846.9" cy="205.6" r="4.7"/><circle cx="1938.6" cy="200.9" r="4.7"/><circle cx="1896.1" cy="207.1" r="4.7"/><circle cx="1718.1" cy="207.8" r="4.7"/><circle cx="1654.4" cy="208.1" r="4.7"/><circle cx="2054.3" cy="209" r="4.7"/><circle cx="1668.8" cy="198.9" r="4.7"/><circle cx="2026.6" cy="200.8" r="4.7"/><circle cx="1752.8" cy="210" r="4.7"/><circle cx="1662.5" cy="212.3" r="4.7"/><circle cx="1859" cy="207.9" r="4.7"/><circle cx="1921.9" cy="204" r="4.7"/><circle cx="1985.8" cy="206.2" r="4.7"/><circle cx="1966.7" cy="204" r="4.7"/><circle cx="1880.9" cy="199.6" r="4.7"/><circle cx="1667.6" cy="198.9" r="4.7"/><circle cx="2028.3" cy="206.5" r="4.7"/><circle cx="1878.7" cy="208" r="4.7"/><circle cx="1979.6" cy="201.9" r="4.7"/><circle cx="2018.4" cy="202.4" r="4.7"/><circle cx="1941.5" cy="200.2" r="4.7"/><circle cx="1872.7" cy="206.3" r="4.7"/><circle cx="1689.9" cy="206.8" r="4.7"/><circle cx="2030" cy="209" r="4.7"/><circle cx="1627.2" cy="201.3" r="4.7"/><circle cx="1781.8" cy="211.6" r="4.7"/><circle cx="1742.6" cy="199.7" r="4.7"/><circle cx="1890.9" cy="204.6" r="4.7"/><circle cx="1992.9" cy="200.6" r="4.7"/><circle cx="1629.1" cy="207.4" r="4.7"/><circle cx="1921.4" cy="207.7" r="4.7"/><circle cx="2000.1" cy="207.9" r="4.7"/><circle cx="1741.8" cy="209.8" r="4.7"/><circle cx="2018.3" cy="205.1" r="4.7"/><circle cx="1745.2" cy="211.4" r="4.7"/><circle cx="1977.5" cy="208.8" r="4.7"/><circle cx="1993.2" cy="200.2" r="4.7"/><circle cx="1905.5" cy="205.3" r="4.7"/><circle cx="1691.3" cy="208.1" r="4.7"/><circle cx="1913.2" cy="199.2" r="4.7"/><circle cx="1677.5" cy="208.3" r="4.7"/><circle cx="1892.4" cy="212.4" r="4.7"/><circle cx="1994.1" cy="206.4" r="4.7"/><circle cx="1885.6" cy="206.9" r="4.7"/><circle cx="1781.2" cy="207.9" r="4.7"/><circle cx="1989.1" cy="198.7" r="4.7"/><circle cx="1999.7" cy="211.1" r="4.7"/><circle cx="1932" cy="207.2" r="4.7"/><circle cx="1742.6" cy="205.4" r="4.7"/><circle cx="1694.6" cy="203.6" r="4.7"/><circle cx="1812.8" cy="209.8" r="4.7"/><circle cx="1998.8" cy="201.4" r="4.7"/><circle cx="1915.9" cy="211.1" r="4.7"/><circle cx="1943.6" cy="199.6" r="4.7"/><circle cx="1624.1" cy="211.8" r="4.7"/><circle cx="2022.7" cy="199.4" r="4.7"/><circle cx="1899.1" cy="211" r="4.7"/><circle cx="1965.6" cy="210.2" r="4.7"/><circle cx="1969.6" cy="208.5" r="4.7"/><circle cx="1875.9" cy="198.8" r="4.7"/><circle cx="1707.2" cy="208.4" r="4.7"/><circle cx="1956.8" cy="200.7" r="4.7"/><circle cx="1954.8" cy="208.3" r="4.7"/><circle cx="1758.4" cy="201" r="4.7"/><circle cx="1736.1" cy="208.2" r="4.7"/><circle cx="1914" cy="207.8" r="4.7"/><circle cx="1920.8" cy="201.4" r="4.7"/><circle cx="1907.8" cy="199.4" r="4.7"/><circle cx="1787" cy="209.1" r="4.7"/><circle cx="1947.3" cy="206.9" r="4.7"/><circle cx="1705.4" cy="201.9" r="4.7"/><circle cx="1676.7" cy="205.6" r="4.7"/><circle cx="1981.8" cy="199.2" r="4.7"/><circle cx="1960.8" cy="202.4" r="4.7"/><circle cx="1665" cy="202.9" r="4.7"/><circle cx="1997.6" cy="199.5" r="4.7"/><circle cx="1711.9" cy="200.3" r="4.7"/><circle cx="2002.4" cy="205.7" r="4.7"/><circle cx="2000.2" cy="208.7" r="4.7"/><circle cx="1856.1" cy="211" r="4.7"/><circle cx="1974.2" cy="212" r="4.7"/><circle cx="1872.1" cy="201.6" r="4.7"/><circle cx="1935.8" cy="199.2" r="4.7"/><circle cx="1870.9" cy="203.5" r="4.7"/><circle cx="2008.2" cy="200.3" r="4.7"/><circle cx="1929.1" cy="206.5" r="4.7"/><circle cx="1906.1" cy="202.9" r="4.7"/><circle cx="1841.2" cy="208.2" r="4.7"/><circle cx="1627.5" cy="206.8" r="4.7"/><circle cx="1980.8" cy="203.9" r="4.7"/><circle cx="2008.8" cy="204.5" r="4.7"/><circle cx="1887" cy="211.8" r="4.7"/><circle cx="1921.9" cy="202.8" r="4.7"/><circle cx="1729.8" cy="209.9" r="4.7"/><circle cx="1880.9" cy="211.2" r="4.7"/><circle cx="1907.6" cy="203.5" r="4.7"/><circle cx="1917.3" cy="205.9" r="4.7"/><circle cx="1676.1" cy="207.6" r="4.7"/><circle cx="1991.1" cy="203.6" r="4.7"/><circle cx="1843.6" cy="198.8" r="4.7"/><circle cx="1640" cy="210.7" r="4.7"/><circle cx="1691.8" cy="206.4" r="4.7"/><circle cx="1928.3" cy="203" r="4.7"/><circle cx="1761.7" cy="209.7" r="4.7"/><circle cx="1778.5" cy="201.6" r="4.7"/><circle cx="1832.9" cy="203.2" r="4.7"/><circle cx="1651.2" cy="206" r="4.7"/><circle cx="1755.5" cy="210.7" r="4.7"/><circle cx="1739.1" cy="202.8" r="4.7"/><circle cx="1723.3" cy="211.1" r="4.7"/><circle cx="1899.1" cy="201.6" r="4.7"/><circle cx="1969.7" cy="202" r="4.7"/><circle cx="2000.2" cy="205.3" r="4.7"/><circle cx="1614" cy="202" r="4.7"/><circle cx="1977.4" cy="206.7" r="4.7"/><circle cx="1973.7" cy="205.5" r="4.7"/><circle cx="1935.1" cy="206.7" r="4.7"/><circle cx="1741.9" cy="201.8" r="4.7"/><circle cx="1610.6" cy="206.7" r="4.7"/><circle cx="2024.7" cy="209.8" r="4.7"/><circle cx="1896.4" cy="209.7" r="4.7"/><circle cx="1937.3" cy="203.4" r="4.7"/><circle cx="1974.2" cy="212" r="4.7"/><circle cx="1928.4" cy="200.8" r="4.7"/><circle cx="1658.2" cy="202.5" r="4.7"/><circle cx="2045.1" cy="199.9" r="4.7"/><circle cx="2003.4" cy="211.4" r="4.7"/><circle cx="1936.8" cy="203.7" r="4.7"/><circle cx="2021.3" cy="212.5" r="4.7"/><circle cx="1945.8" cy="207.4" r="4.7"/><circle cx="1960.8" cy="205.3" r="4.7"/><circle cx="1643.7" cy="209.7" r="4.7"/><circle cx="1735.6" cy="207.9" r="4.7"/><circle cx="1722.3" cy="205.1" r="4.7"/><circle cx="1928.2" cy="204.8" r="4.7"/><circle cx="1882.7" cy="202.8" r="4.7"/><circle cx="1883.3" cy="212.1" r="4.7"/><circle cx="1974.6" cy="203.8" r="4.7"/><circle cx="1937.9" cy="206.5" r="4.7"/><circle cx="1715.6" cy="206.9" r="4.7"/><circle cx="1964.2" cy="204.7" r="4.7"/><circle cx="1855.2" cy="201.5" r="4.7"/><circle cx="1887.7" cy="200.8" r="4.7"/><circle cx="2022" cy="206.6" r="4.7"/><circle cx="1794.4" cy="202.2" r="4.7"/><circle cx="1906.4" cy="211.9" r="4.7"/><circle cx="1735.6" cy="211.8" r="4.7"/><circle cx="1667.3" cy="205.2" r="4.7"/><circle cx="1748.6" cy="206.7" r="4.7"/><circle cx="2001.1" cy="199.5" r="4.7"/><circle cx="1718.8" cy="203.5" r="4.7"/><circle cx="1938.6" cy="200.7" r="4.7"/><circle cx="1971" cy="208.3" r="4.7"/><circle cx="1996.7" cy="208.7" r="4.7"/><circle cx="1905" cy="203.6" r="4.7"/><circle cx="1921.8" cy="205" r="4.7"/><circle cx="1641.8" cy="207.9" r="4.7"/><circle cx="1801.5" cy="211.8" r="4.7"/><circle cx="1831.4" cy="212.4" r="4.7"/><circle cx="1957" cy="202.8" r="4.7"/><circle cx="2042.7" cy="200.8" r="4.7"/><circle cx="1641" cy="208.4" r="4.7"/><circle cx="1822.1" cy="206.4" r="4.7"/><circle cx="2076" cy="204.1" r="4.7"/><circle cx="2069.9" cy="243.7" r="4.7"/><circle cx="1940.8" cy="230.3" r="4.7"/><circle cx="2069.2" cy="229.9" r="4.7"/><circle cx="1894.9" cy="242.9" r="4.7"/><circle cx="1978.8" cy="230.8" r="4.7"/><circle cx="1914.1" cy="242.8" r="4.7"/><circle cx="2026.9" cy="243" r="4.7"/><circle cx="1986" cy="231.7" r="4.7"/><circle cx="1866.9" cy="230.6" r="4.7"/><circle cx="2021.2" cy="232.1" r="4.7"/><circle cx="1928.8" cy="230" r="4.7"/><circle cx="1978.8" cy="231.4" r="4.7"/><circle cx="1951.8" cy="231.3" r="4.7"/><circle cx="1872.8" cy="230.9" r="4.7"/><circle cx="1924.7" cy="243.2" r="4.7"/><circle cx="1908.7" cy="242.7" r="4.7"/><circle cx="1861.3" cy="242.4" r="4.7"/><circle cx="1976.1" cy="242.6" r="4.7"/><circle cx="2017.6" cy="242.4" r="4.7"/><circle cx="2064.7" cy="243.5" r="4.7"/><circle cx="1942.7" cy="242.7" r="4.7"/><circle cx="2017.6" cy="242" r="4.7"/><circle cx="2066.9" cy="232.1" r="4.7"/><circle cx="1857.8" cy="230.8" r="4.7"/><circle cx="1919.7" cy="242" r="4.7"/><circle cx="2062.1" cy="231.8" r="4.7"/><circle cx="1976.3" cy="241.9" r="4.7"/><circle cx="2050" cy="243.2" r="4.7"/><circle cx="1903.2" cy="243.3" r="4.7"/><circle cx="1945.9" cy="242.3" r="4.7"/><circle cx="1925.1" cy="229.9" r="4.7"/><circle cx="1950.2" cy="242.2" r="4.7"/><circle cx="1871.5" cy="242.8" r="4.7"/><circle cx="1882.5" cy="242.4" r="4.7"/><circle cx="1876.6" cy="230" r="4.7"/><circle cx="1960.3" cy="243.3" r="4.7"/><circle cx="1923.3" cy="231.1" r="4.7"/><circle cx="2038.3" cy="230.5" r="4.7"/><circle cx="1987.3" cy="230.8" r="4.7"/><circle cx="1972.5" cy="242.6" r="4.7"/><circle cx="1867.6" cy="241.8" r="4.7"/><circle cx="1958.2" cy="242.7" r="4.7"/><circle cx="2070" cy="242.2" r="4.7"/><circle cx="1940.9" cy="232.2" r="4.7"/><circle cx="1874.5" cy="241.9" r="4.7"/><circle cx="1905.7" cy="243.5" r="4.7"/><circle cx="1891.3" cy="231.9" r="4.7"/><circle cx="1937.5" cy="231.9" r="4.7"/><circle cx="2060.2" cy="243.1" r="4.7"/><circle cx="2010.6" cy="231.4" r="4.7"/><circle cx="1980.2" cy="243.5" r="4.7"/><circle cx="1925" cy="232.2" r="4.7"/><circle cx="1969.3" cy="231.9" r="4.7"/><circle cx="1918.1" cy="230" r="4.7"/><circle cx="1926.8" cy="242.4" r="4.7"/><circle cx="2055" cy="230.1" r="4.7"/><circle cx="1993" cy="242.7" r="4.7"/><circle cx="2045.7" cy="243.4" r="4.7"/><circle cx="1898.4" cy="230.1" r="4.7"/><circle cx="1888.5" cy="231.7" r="4.7"/><circle cx="1896.4" cy="243.7" r="4.7"/><circle cx="1946.9" cy="231.3" r="4.7"/><circle cx="1982.3" cy="231.8" r="4.7"/><circle cx="1929.4" cy="243.6" r="4.7"/><circle cx="1887.5" cy="243.4" r="4.7"/><circle cx="1875.8" cy="230" r="4.7"/><circle cx="1973.9" cy="243.4" r="4.7"/><circle cx="1999.9" cy="230.7" r="4.7"/><circle cx="2075.4" cy="232" r="4.7"/><circle cx="1836.3" cy="232.1" r="4.7"/><circle cx="1811.3" cy="237.1" r="4.7"/><circle cx="1856.4" cy="231.2" r="4.7"/><circle cx="1829.5" cy="238.7" r="4.7"/><circle cx="1835.7" cy="236.6" r="4.7"/><circle cx="1808.2" cy="239.7" r="4.7"/><circle cx="1797.3" cy="235.8" r="4.7"/><circle cx="1853.3" cy="242.1" r="4.7"/><circle cx="1857.6" cy="232.9" r="4.7"/><circle cx="1852.3" cy="238.3" r="4.7"/><circle cx="1810" cy="231.5" r="4.7"/><circle cx="1823.8" cy="238" r="4.7"/><circle cx="1800.6" cy="231.1" r="4.7"/><circle cx="1794.3" cy="233.8" r="4.7"/><circle cx="1837.7" cy="231.8" r="4.7"/><circle cx="1775.1" cy="238.6" r="4.7"/><circle cx="1780.2" cy="237.2" r="4.7"/><circle cx="1855.9" cy="235.6" r="4.7"/><circle cx="1856.8" cy="231.5" r="4.7"/><circle cx="1781.3" cy="230.1" r="4.7"/><circle cx="1837.3" cy="230.7" r="4.7"/><circle cx="1788.3" cy="243.8" r="4.7"/><circle cx="1857.8" cy="235.1" r="4.7"/><circle cx="1749.9" cy="233.6" r="4.7"/><circle cx="1844.3" cy="243.7" r="4.7"/><circle cx="1760.5" cy="235.4" r="4.7"/><circle cx="1803" cy="241.1" r="4.7"/><circle cx="1840.5" cy="230.1" r="4.7"/><circle cx="1838.8" cy="239.7" r="4.7"/><circle cx="1752.1" cy="236.2" r="4.7"/><circle cx="1835.2" cy="235.4" r="4.7"/><circle cx="1812" cy="230.4" r="4.7"/><circle cx="1762.1" cy="243.3" r="4.7"/><circle cx="1857.8" cy="230.2" r="4.7"/><circle cx="1844" cy="232.1" r="4.7"/><circle cx="1787.5" cy="242.1" r="4.7"/><circle cx="1820" cy="243.1" r="4.7"/><circle cx="1850.1" cy="232.8" r="4.7"/><circle cx="1837.9" cy="236.3" r="4.7"/><circle cx="1851.9" cy="242.8" r="4.7"/><circle cx="1790.5" cy="234.1" r="4.7"/><circle cx="1850.2" cy="234" r="4.7"/><circle cx="1836.7" cy="239.1" r="4.7"/><circle cx="1786.4" cy="243.2" r="4.7"/><circle cx="1856.8" cy="232.8" r="4.7"/><circle cx="1838.2" cy="243.2" r="4.7"/><circle cx="1830.4" cy="240" r="4.7"/><circle cx="1777.3" cy="236.5" r="4.7"/><circle cx="1838.5" cy="240.8" r="4.7"/><circle cx="1807.4" cy="243.8" r="4.7"/><circle cx="1847.2" cy="243.3" r="4.7"/><circle cx="1827.1" cy="242.1" r="4.7"/><circle cx="1807.2" cy="237.9" r="4.7"/><circle cx="1772.7" cy="231.2" r="4.7"/><circle cx="1846.5" cy="236.8" r="4.7"/><circle cx="1779" cy="232.7" r="4.7"/><circle cx="1785.8" cy="231.3" r="4.7"/><circle cx="1840.9" cy="236.5" r="4.7"/><circle cx="1796.2" cy="237.3" r="4.7"/><circle cx="1773.8" cy="239.7" r="4.7"/><circle cx="1837.8" cy="237.3" r="4.7"/><circle cx="1837.3" cy="242.1" r="4.7"/><circle cx="1844.8" cy="232.6" r="4.7"/><circle cx="1849" cy="233.6" r="4.7"/><circle cx="1780.7" cy="239.6" r="4.7"/><circle cx="1849" cy="235.9" r="4.7"/><circle cx="1765.5" cy="243.4" r="4.7"/><circle cx="1850.4" cy="243.1" r="4.7"/><circle cx="1857.3" cy="243.9" r="4.7"/><circle cx="1843.4" cy="243.3" r="4.7"/><circle cx="1857.8" cy="239.6" r="4.7"/><circle cx="1759.9" cy="241.4" r="4.7"/><circle cx="1816.6" cy="232.2" r="4.7"/><circle cx="1849.5" cy="243.1" r="4.7"/><circle cx="1770.7" cy="233.2" r="4.7"/><circle cx="1841.5" cy="238.6" r="4.7"/><circle cx="1844.8" cy="233" r="4.7"/><circle cx="1770.3" cy="231.6" r="4.7"/><circle cx="1808.4" cy="235.7" r="4.7"/><circle cx="1828.9" cy="242.1" r="4.7"/><circle cx="1791.4" cy="240.8" r="4.7"/><circle cx="1857.9" cy="241.3" r="4.7"/><circle cx="1783.6" cy="230.1" r="4.7"/><circle cx="1850.3" cy="240.2" r="4.7"/><circle cx="1770.2" cy="237.5" r="4.7"/><circle cx="1766.6" cy="231.3" r="4.7"/><circle cx="1848" cy="241.4" r="4.7"/><circle cx="1783.5" cy="233.2" r="4.7"/><circle cx="1817" cy="236.1" r="4.7"/><circle cx="1792.5" cy="235.6" r="4.7"/><circle cx="1843.6" cy="240.6" r="4.7"/><circle cx="1799.2" cy="235.1" r="4.7"/><circle cx="1796.3" cy="233.7" r="4.7"/><circle cx="1825.5" cy="232.7" r="4.7"/><circle cx="1841.5" cy="235.9" r="4.7"/><circle cx="1856.6" cy="234.4" r="4.7"/><circle cx="1840.8" cy="234.6" r="4.7"/><circle cx="1824.8" cy="242.5" r="4.7"/><circle cx="1773.7" cy="234.2" r="4.7"/><circle cx="1854.9" cy="231.3" r="4.7"/><circle cx="1767.2" cy="240.6" r="4.7"/><circle cx="1792.5" cy="242.6" r="4.7"/><circle cx="1836.2" cy="232.5" r="4.7"/><circle cx="1856.5" cy="235.6" r="4.7"/><circle cx="1787.7" cy="231.3" r="4.7"/><circle cx="1832.5" cy="231.2" r="4.7"/><circle cx="1850.9" cy="237.7" r="4.7"/><circle cx="1806" cy="243.1" r="4.7"/><circle cx="1843.4" cy="233.3" r="4.7"/><circle cx="1857.3" cy="232.7" r="4.7"/><circle cx="1857.7" cy="230.1" r="4.7"/><circle cx="1855.7" cy="237.5" r="4.7"/><circle cx="1830.4" cy="242.6" r="4.7"/><circle cx="1827.2" cy="231.3" r="4.7"/><circle cx="1854.5" cy="239.8" r="4.7"/><circle cx="1749" cy="240.4" r="4.7"/><circle cx="1849.7" cy="234.9" r="4.7"/><circle cx="1832.5" cy="236.1" r="4.7"/><circle cx="1846.4" cy="232.2" r="4.7"/><circle cx="1857.8" cy="242.2" r="4.7"/><circle cx="1750" cy="243.6" r="4.7"/><circle cx="1838.2" cy="239.6" r="4.7"/><circle cx="1851.4" cy="231.7" r="4.7"/><circle cx="1858" cy="234.7" r="4.7"/><circle cx="1782.8" cy="237.4" r="4.7"/><circle cx="1849.7" cy="236.7" r="4.7"/><circle cx="1820.6" cy="232.8" r="4.7"/><circle cx="1831.4" cy="242.9" r="4.7"/><circle cx="1831.4" cy="243.8" r="4.7"/><circle cx="1795" cy="231.9" r="4.7"/><circle cx="1761" cy="239.7" r="4.7"/><circle cx="1831.9" cy="232.7" r="4.7"/><circle cx="1804.7" cy="232.7" r="4.7"/><circle cx="1829.9" cy="232.2" r="4.7"/><circle cx="1834.9" cy="243.4" r="4.7"/><circle cx="1813.2" cy="237.2" r="4.7"/><circle cx="1810.4" cy="239.1" r="4.7"/><circle cx="1812.6" cy="234" r="4.7"/><circle cx="1851" cy="238.5" r="4.7"/><circle cx="1759" cy="242.1" r="4.7"/><circle cx="1826.9" cy="234.2" r="4.7"/><circle cx="1814.6" cy="230.7" r="4.7"/><circle cx="1825.9" cy="240.9" r="4.7"/><circle cx="1751.5" cy="231.4" r="4.7"/><circle cx="1851.7" cy="236.7" r="4.7"/><circle cx="1811.7" cy="243.4" r="4.7"/><circle cx="2075.3" cy="231.9" r="4.7"/><circle cx="2078.5" cy="241" r="4.7"/><circle cx="2075" cy="235.3" r="4.7"/><circle cx="2081.4" cy="235.9" r="4.7"/><circle cx="2075.7" cy="231.1" r="4.7"/><circle cx="2082.1" cy="237.1" r="4.7"/><circle cx="2079.1" cy="239.5" r="4.7"/><circle cx="2082.1" cy="235.6" r="4.7"/><circle cx="2077.2" cy="242.8" r="4.7"/><circle cx="2075.2" cy="240.8" r="4.7"/><circle cx="2078.2" cy="237.5" r="4.7"/><circle cx="2076.2" cy="243.1" r="4.7"/><circle cx="2076.6" cy="234.5" r="4.7"/><circle cx="2075.1" cy="242.4" r="4.7"/><circle cx="1656" cy="241.6" r="4.7"/><circle cx="1680" cy="230.8" r="4.7"/><circle cx="1704" cy="232.1" r="4.7"/><circle cx="1723" cy="234.1" r="4.7"/><circle cx="1730" cy="230.5" r="4.7"/><circle cx="1738" cy="237" r="4.7"/><circle cx="1745" cy="241.8" r="4.7"/><circle cx="1750" cy="240" r="4.7"/><circle cx="1756" cy="237" r="4.7"/><circle cx="1765" cy="243.6" r="4.7"/><circle cx="1772" cy="234.3" r="4.7"/><circle cx="2089" cy="234.5" r="4.7"/><circle cx="1903.4" cy="274.6" r="4.7"/><circle cx="1919.5" cy="274.1" r="4.7"/><circle cx="2031.6" cy="263.1" r="4.7"/><circle cx="1979.1" cy="273.9" r="4.7"/><circle cx="1956.9" cy="261.3" r="4.7"/><circle cx="1899.2" cy="274.4" r="4.7"/><circle cx="1911" cy="273.4" r="4.7"/><circle cx="2032.3" cy="261.5" r="4.7"/><circle cx="2037.3" cy="262.8" r="4.7"/><circle cx="1875.4" cy="273.8" r="4.7"/><circle cx="2029.8" cy="273.3" r="4.7"/><circle cx="1862.9" cy="261.4" r="4.7"/><circle cx="2055.2" cy="261.8" r="4.7"/><circle cx="1850.2" cy="274.1" r="4.7"/><circle cx="1967.8" cy="262.3" r="4.7"/><circle cx="1999.6" cy="275.4" r="4.7"/><circle cx="1901" cy="275.1" r="4.7"/><circle cx="1929.6" cy="275.2" r="4.7"/><circle cx="1936.2" cy="274.5" r="4.7"/><circle cx="2057" cy="274.8" r="4.7"/><circle cx="2021.2" cy="273.4" r="4.7"/><circle cx="1978.2" cy="274.1" r="4.7"/><circle cx="2055.7" cy="274.7" r="4.7"/><circle cx="1921.8" cy="275" r="4.7"/><circle cx="2009.9" cy="261.7" r="4.7"/><circle cx="2013.7" cy="261.5" r="4.7"/><circle cx="1854.1" cy="273.5" r="4.7"/><circle cx="1917.4" cy="274.4" r="4.7"/><circle cx="1904" cy="273.5" r="4.7"/><circle cx="1947.6" cy="261.8" r="4.7"/><circle cx="1945.1" cy="273.8" r="4.7"/><circle cx="1900" cy="275.4" r="4.7"/><circle cx="1868" cy="273.5" r="4.7"/><circle cx="1933.4" cy="275.1" r="4.7"/><circle cx="2010.4" cy="273.3" r="4.7"/><circle cx="1923.1" cy="262.4" r="4.7"/><circle cx="1842.4" cy="273.2" r="4.7"/><circle cx="2034.3" cy="262.5" r="4.7"/><circle cx="2017.3" cy="262.2" r="4.7"/><circle cx="1940.5" cy="274.5" r="4.7"/><circle cx="2032.4" cy="262.3" r="4.7"/><circle cx="2002.9" cy="274.2" r="4.7"/><circle cx="2003" cy="274.3" r="4.7"/><circle cx="2031.6" cy="273.3" r="4.7"/><circle cx="2056.6" cy="274.2" r="4.7"/><circle cx="1909.3" cy="275" r="4.7"/><circle cx="2008.8" cy="261.9" r="4.7"/><circle cx="1974.6" cy="263.3" r="4.7"/><circle cx="1965.1" cy="274.1" r="4.7"/><circle cx="1882" cy="262.8" r="4.7"/><circle cx="1940.5" cy="262" r="4.7"/><circle cx="2004.1" cy="263.5" r="4.7"/><circle cx="2039.6" cy="262.1" r="4.7"/><circle cx="2037.9" cy="262.5" r="4.7"/><circle cx="1864.1" cy="274.5" r="4.7"/><circle cx="2007" cy="275.3" r="4.7"/><circle cx="1847" cy="261.6" r="4.7"/><circle cx="1967.9" cy="274.1" r="4.7"/><circle cx="2060.5" cy="274.5" r="4.7"/><circle cx="1906" cy="274.5" r="4.7"/><circle cx="1924" cy="274.4" r="4.7"/><circle cx="1922.7" cy="263.6" r="4.7"/><circle cx="1980.3" cy="274.4" r="4.7"/><circle cx="1935.3" cy="262.7" r="4.7"/><circle cx="1987.3" cy="261.6" r="4.7"/><circle cx="2023.5" cy="274.2" r="4.7"/><circle cx="1990.3" cy="262.1" r="4.7"/><circle cx="1897.2" cy="262.1" r="4.7"/><circle cx="2072.3" cy="274.8" r="4.7"/><circle cx="1897.5" cy="274.4" r="4.7"/><circle cx="2048.4" cy="263.2" r="4.7"/><circle cx="2010.2" cy="273.3" r="4.7"/><circle cx="1942.8" cy="261.8" r="4.7"/><circle cx="1799.3" cy="266.8" r="4.7"/><circle cx="1793.7" cy="272.7" r="4.7"/><circle cx="1837.8" cy="273.4" r="4.7"/><circle cx="1812.7" cy="270.3" r="4.7"/><circle cx="1768.2" cy="264.4" r="4.7"/><circle cx="1818" cy="271.3" r="4.7"/><circle cx="1842.9" cy="266.9" r="4.7"/><circle cx="1810.5" cy="267.7" r="4.7"/><circle cx="1814.4" cy="273" r="4.7"/><circle cx="1841" cy="271.4" r="4.7"/><circle cx="1832.9" cy="262.7" r="4.7"/><circle cx="1818.6" cy="263.3" r="4.7"/><circle cx="1818.9" cy="263.8" r="4.7"/><circle cx="1820.2" cy="263.4" r="4.7"/><circle cx="1745.7" cy="264.4" r="4.7"/><circle cx="1820.3" cy="269.8" r="4.7"/><circle cx="1794.8" cy="263.3" r="4.7"/><circle cx="1770.2" cy="266.6" r="4.7"/><circle cx="1841.9" cy="267.4" r="4.7"/><circle cx="1801.3" cy="266.5" r="4.7"/><circle cx="1787.6" cy="265.8" r="4.7"/><circle cx="1775.1" cy="274.4" r="4.7"/><circle cx="1774.9" cy="262.4" r="4.7"/><circle cx="1822.5" cy="268.8" r="4.7"/><circle cx="1825.6" cy="264.1" r="4.7"/><circle cx="1805.3" cy="263.1" r="4.7"/><circle cx="1839.1" cy="267.3" r="4.7"/><circle cx="1745.6" cy="266.8" r="4.7"/><circle cx="1751" cy="270.8" r="4.7"/><circle cx="1798.3" cy="274.1" r="4.7"/><circle cx="1805.9" cy="271.7" r="4.7"/><circle cx="1817.6" cy="272.5" r="4.7"/><circle cx="1765.9" cy="261.5" r="4.7"/><circle cx="1756.3" cy="261.9" r="4.7"/><circle cx="1799.1" cy="262.5" r="4.7"/><circle cx="1783.7" cy="267.5" r="4.7"/><circle cx="1840.3" cy="273.1" r="4.7"/><circle cx="1835.1" cy="273.9" r="4.7"/><circle cx="1825.5" cy="269.2" r="4.7"/><circle cx="1820.2" cy="272" r="4.7"/><circle cx="1827.8" cy="268.6" r="4.7"/><circle cx="1836" cy="266.2" r="4.7"/><circle cx="1841.1" cy="265.1" r="4.7"/><circle cx="1833.2" cy="271" r="4.7"/><circle cx="1840" cy="263.6" r="4.7"/><circle cx="1749.7" cy="270.4" r="4.7"/><circle cx="1841.8" cy="273.4" r="4.7"/><circle cx="1783.3" cy="269.9" r="4.7"/><circle cx="1751.6" cy="268.9" r="4.7"/><circle cx="1840.2" cy="261.7" r="4.7"/><circle cx="1841.7" cy="267.9" r="4.7"/><circle cx="1809.3" cy="273" r="4.7"/><circle cx="1842.2" cy="262.5" r="4.7"/><circle cx="1841.6" cy="266.5" r="4.7"/><circle cx="1756" cy="272.3" r="4.7"/><circle cx="1842.6" cy="269.7" r="4.7"/><circle cx="1838.5" cy="264.6" r="4.7"/><circle cx="1830.3" cy="264.9" r="4.7"/><circle cx="1832.1" cy="264.6" r="4.7"/><circle cx="1828.7" cy="269.7" r="4.7"/><circle cx="1808.2" cy="271.6" r="4.7"/><circle cx="1833.1" cy="261.9" r="4.7"/><circle cx="1807.2" cy="265.8" r="4.7"/><circle cx="1837.1" cy="267.1" r="4.7"/><circle cx="1754.3" cy="269.8" r="4.7"/><circle cx="1789.1" cy="262.1" r="4.7"/><circle cx="1810.3" cy="271.2" r="4.7"/><circle cx="1767.6" cy="272" r="4.7"/><circle cx="1842.5" cy="275.1" r="4.7"/><circle cx="1842.9" cy="272.1" r="4.7"/><circle cx="1817.7" cy="274.3" r="4.7"/><circle cx="1754.1" cy="271.8" r="4.7"/><circle cx="1841.9" cy="270.4" r="4.7"/><circle cx="1840.9" cy="267.4" r="4.7"/><circle cx="1840.5" cy="265.7" r="4.7"/><circle cx="1842.5" cy="268.9" r="4.7"/><circle cx="1841.7" cy="264.9" r="4.7"/><circle cx="1780.7" cy="265.5" r="4.7"/><circle cx="1806.3" cy="273.4" r="4.7"/><circle cx="1799.6" cy="272.8" r="4.7"/><circle cx="1756.6" cy="264.9" r="4.7"/><circle cx="1838.2" cy="275.2" r="4.7"/><circle cx="1759" cy="265.9" r="4.7"/><circle cx="1757.7" cy="262.7" r="4.7"/><circle cx="1836.2" cy="273.4" r="4.7"/><circle cx="1841.3" cy="273.4" r="4.7"/><circle cx="1836.4" cy="272.1" r="4.7"/><circle cx="1840.6" cy="268.4" r="4.7"/><circle cx="1806.9" cy="269.2" r="4.7"/><circle cx="1767.9" cy="262" r="4.7"/><circle cx="1790.3" cy="273.3" r="4.7"/><circle cx="1812.6" cy="264.8" r="4.7"/><circle cx="1777.8" cy="267.4" r="4.7"/><circle cx="1834.2" cy="272.2" r="4.7"/><circle cx="1782.6" cy="272.9" r="4.7"/><circle cx="1815.5" cy="261.7" r="4.7"/><circle cx="1842.9" cy="269.1" r="4.7"/><circle cx="1842.7" cy="270.1" r="4.7"/><circle cx="1840.4" cy="272.2" r="4.7"/><circle cx="1842.9" cy="271" r="4.7"/><circle cx="1836.4" cy="275.3" r="4.7"/><circle cx="1817.4" cy="268.6" r="4.7"/><circle cx="1770" cy="265.4" r="4.7"/><circle cx="1750" cy="265.6" r="4.7"/><circle cx="1842.7" cy="265.4" r="4.7"/><circle cx="1826.8" cy="269.7" r="4.7"/><circle cx="1842.3" cy="274" r="4.7"/><circle cx="1780.7" cy="271.8" r="4.7"/><circle cx="1747" cy="262.2" r="4.7"/><circle cx="1793.2" cy="273.3" r="4.7"/><circle cx="1838.6" cy="267.2" r="4.7"/><circle cx="1837.6" cy="274.3" r="4.7"/><circle cx="1817.7" cy="273" r="4.7"/><circle cx="1834.8" cy="269.8" r="4.7"/><circle cx="1785.2" cy="266.2" r="4.7"/><circle cx="1833.8" cy="262.7" r="4.7"/><circle cx="1800.5" cy="267.2" r="4.7"/><circle cx="1837.6" cy="265.9" r="4.7"/><circle cx="1830.5" cy="263.2" r="4.7"/><circle cx="1804.7" cy="263.6" r="4.7"/><circle cx="1836.8" cy="266.5" r="4.7"/><circle cx="1747" cy="271.3" r="4.7"/><circle cx="1837" cy="273.2" r="4.7"/><circle cx="1755.5" cy="266.1" r="4.7"/><circle cx="1777.8" cy="270.2" r="4.7"/><circle cx="1809.2" cy="274" r="4.7"/><circle cx="2078.3" cy="270.4" r="4.7"/><circle cx="2082.8" cy="267.8" r="4.7"/><circle cx="2072.3" cy="261.6" r="4.7"/><circle cx="2079.1" cy="268" r="4.7"/><circle cx="2081.7" cy="274.9" r="4.7"/><circle cx="2073.3" cy="264.3" r="4.7"/><circle cx="2076.9" cy="261.8" r="4.7"/><circle cx="2072.3" cy="262.5" r="4.7"/><circle cx="2073.7" cy="267.6" r="4.7"/><circle cx="2072.9" cy="271" r="4.7"/><circle cx="2079.7" cy="273" r="4.7"/><circle cx="2076.6" cy="271.9" r="4.7"/><circle cx="2080.3" cy="271.5" r="4.7"/><circle cx="2073.9" cy="269.4" r="4.7"/><circle cx="2080.8" cy="264.9" r="4.7"/><circle cx="1659.6" cy="266.4" r="4.7"/><circle cx="1685" cy="261.6" r="4.7"/><circle cx="1690" cy="269.8" r="4.7"/><circle cx="1702" cy="263.1" r="4.7"/><circle cx="1710" cy="267.6" r="4.7"/><circle cx="1718" cy="264.1" r="4.7"/><circle cx="1725" cy="263.1" r="4.7"/><circle cx="2086" cy="273.8" r="4.7"/><circle cx="1913" cy="306" r="4.7"/><circle cx="1951.1" cy="293.1" r="4.7"/><circle cx="1878.8" cy="305.2" r="4.7"/><circle cx="1878" cy="294.9" r="4.7"/><circle cx="2012.2" cy="294" r="4.7"/><circle cx="1875" cy="294.1" r="4.7"/><circle cx="1981.3" cy="305.7" r="4.7"/><circle cx="1986.1" cy="293.4" r="4.7"/><circle cx="1876.3" cy="294.9" r="4.7"/><circle cx="2007.6" cy="305.2" r="4.7"/><circle cx="1849.8" cy="294.6" r="4.7"/><circle cx="1833" cy="306.3" r="4.7"/><circle cx="2062.4" cy="304.9" r="4.7"/><circle cx="2022.2" cy="293.6" r="4.7"/><circle cx="1840.3" cy="306.2" r="4.7"/><circle cx="1850.3" cy="293.7" r="4.7"/><circle cx="1877.7" cy="293.8" r="4.7"/><circle cx="1997.3" cy="293.9" r="4.7"/><circle cx="1868.3" cy="294" r="4.7"/><circle cx="1887.4" cy="294.9" r="4.7"/><circle cx="1966.3" cy="294.6" r="4.7"/><circle cx="1884.9" cy="305.4" r="4.7"/><circle cx="1957.9" cy="305.4" r="4.7"/><circle cx="1952.9" cy="306.3" r="4.7"/><circle cx="1938.7" cy="293.9" r="4.7"/><circle cx="2020" cy="305.9" r="4.7"/><circle cx="1846.6" cy="305.2" r="4.7"/><circle cx="2076.5" cy="292.9" r="4.7"/><circle cx="1935.5" cy="305.9" r="4.7"/><circle cx="1882.5" cy="294.1" r="4.7"/><circle cx="2063.9" cy="305.3" r="4.7"/><circle cx="1843.8" cy="292.9" r="4.7"/><circle cx="1835.9" cy="305" r="4.7"/><circle cx="1983.5" cy="306.2" r="4.7"/><circle cx="1918.9" cy="294.1" r="4.7"/><circle cx="2023.8" cy="294.4" r="4.7"/><circle cx="1967" cy="293.3" r="4.7"/><circle cx="2013" cy="304.9" r="4.7"/><circle cx="1862.8" cy="292.7" r="4.7"/><circle cx="1887.9" cy="292.7" r="4.7"/><circle cx="2060.6" cy="294.7" r="4.7"/><circle cx="1875.4" cy="305.7" r="4.7"/><circle cx="1885.2" cy="292.8" r="4.7"/><circle cx="1842.5" cy="292.7" r="4.7"/><circle cx="1863.8" cy="294.2" r="4.7"/><circle cx="2030" cy="294.2" r="4.7"/><circle cx="1845.9" cy="293.5" r="4.7"/><circle cx="2007" cy="305.4" r="4.7"/><circle cx="1848.7" cy="306.1" r="4.7"/><circle cx="1850.6" cy="305.9" r="4.7"/><circle cx="1910.8" cy="305.8" r="4.7"/><circle cx="1890.1" cy="305.7" r="4.7"/><circle cx="1911.8" cy="293.4" r="4.7"/><circle cx="1876.9" cy="305.5" r="4.7"/><circle cx="1915.9" cy="306.3" r="4.7"/><circle cx="1874" cy="293.1" r="4.7"/><circle cx="1871.8" cy="294" r="4.7"/><circle cx="1863.5" cy="294.1" r="4.7"/><circle cx="1920.1" cy="306" r="4.7"/><circle cx="1900.9" cy="304.6" r="4.7"/><circle cx="1940.2" cy="306.5" r="4.7"/><circle cx="2069.6" cy="293.6" r="4.7"/><circle cx="1989.2" cy="294" r="4.7"/><circle cx="2033.6" cy="306.2" r="4.7"/><circle cx="2002.1" cy="293" r="4.7"/><circle cx="1975.6" cy="294.8" r="4.7"/><circle cx="1924.6" cy="294.9" r="4.7"/><circle cx="1837.7" cy="293.4" r="4.7"/><circle cx="1980.4" cy="305.5" r="4.7"/><circle cx="1922.1" cy="294" r="4.7"/><circle cx="2071.7" cy="292.9" r="4.7"/><circle cx="2078" cy="293.9" r="4.7"/><circle cx="2055.7" cy="306.8" r="4.7"/><circle cx="1897" cy="294.5" r="4.7"/><circle cx="2071.8" cy="293.4" r="4.7"/><circle cx="1855.2" cy="293.1" r="4.7"/><circle cx="2030.1" cy="305.6" r="4.7"/><circle cx="2064.6" cy="306.4" r="4.7"/><circle cx="1788.7" cy="295.9" r="4.7"/><circle cx="1797.6" cy="305.2" r="4.7"/><circle cx="1821.4" cy="296.1" r="4.7"/><circle cx="1790.1" cy="301.5" r="4.7"/><circle cx="1819.3" cy="293" r="4.7"/><circle cx="1823.4" cy="302.6" r="4.7"/><circle cx="1829.4" cy="299.5" r="4.7"/><circle cx="1787.4" cy="297.7" r="4.7"/><circle cx="1831.3" cy="302.2" r="4.7"/><circle cx="1796" cy="301.3" r="4.7"/><circle cx="1771.7" cy="298" r="4.7"/><circle cx="1811.3" cy="299.1" r="4.7"/><circle cx="1777.9" cy="297.5" r="4.7"/><circle cx="1827.4" cy="298" r="4.7"/><circle cx="1781.5" cy="303.2" r="4.7"/><circle cx="1829.4" cy="304.2" r="4.7"/><circle cx="1761.7" cy="297.6" r="4.7"/><circle cx="1785.3" cy="302.5" r="4.7"/><circle cx="1802.5" cy="296.1" r="4.7"/><circle cx="1833" cy="304.9" r="4.7"/><circle cx="1823" cy="304.3" r="4.7"/><circle cx="1778" cy="304.7" r="4.7"/><circle cx="1791.3" cy="302.9" r="4.7"/><circle cx="1781.9" cy="305.9" r="4.7"/><circle cx="1770.2" cy="305" r="4.7"/><circle cx="1823.5" cy="305.6" r="4.7"/><circle cx="1832" cy="295.4" r="4.7"/><circle cx="1776.5" cy="300.4" r="4.7"/><circle cx="1765.9" cy="297.5" r="4.7"/><circle cx="1832.4" cy="295" r="4.7"/><circle cx="1774.6" cy="304.1" r="4.7"/><circle cx="1817.1" cy="301.9" r="4.7"/><circle cx="1832.8" cy="305.8" r="4.7"/><circle cx="1825.5" cy="295.6" r="4.7"/><circle cx="1813" cy="299.5" r="4.7"/><circle cx="1813" cy="302.8" r="4.7"/><circle cx="1829.5" cy="303.9" r="4.7"/><circle cx="1823.3" cy="298.4" r="4.7"/><circle cx="1773" cy="303.1" r="4.7"/><circle cx="1791.7" cy="303.9" r="4.7"/><circle cx="1817.5" cy="297.7" r="4.7"/><circle cx="1810.3" cy="304.6" r="4.7"/><circle cx="1829.9" cy="302.6" r="4.7"/><circle cx="1813.9" cy="305.9" r="4.7"/><circle cx="1793.6" cy="305.6" r="4.7"/><circle cx="1818.1" cy="299.3" r="4.7"/><circle cx="1827" cy="295.8" r="4.7"/><circle cx="1824" cy="295.8" r="4.7"/><circle cx="1801.6" cy="300.7" r="4.7"/><circle cx="1790.8" cy="303.3" r="4.7"/><circle cx="1763.9" cy="300.2" r="4.7"/><circle cx="1802.5" cy="300.2" r="4.7"/><circle cx="1813.7" cy="297.6" r="4.7"/><circle cx="1824.1" cy="297.5" r="4.7"/><circle cx="1811.4" cy="299" r="4.7"/><circle cx="1808.3" cy="302.1" r="4.7"/><circle cx="1761.7" cy="300.9" r="4.7"/><circle cx="1761.2" cy="297.3" r="4.7"/><circle cx="1803.1" cy="300.9" r="4.7"/><circle cx="1815.6" cy="299.2" r="4.7"/><circle cx="1827.6" cy="306.4" r="4.7"/><circle cx="1832.3" cy="304" r="4.7"/><circle cx="1813.6" cy="297.7" r="4.7"/><circle cx="1824.3" cy="306" r="4.7"/><circle cx="1822.8" cy="300.9" r="4.7"/><circle cx="1818" cy="302" r="4.7"/><circle cx="1807.5" cy="300.2" r="4.7"/><circle cx="1831.7" cy="293.3" r="4.7"/><circle cx="1799.4" cy="292.9" r="4.7"/><circle cx="1810.6" cy="296.8" r="4.7"/><circle cx="1790.4" cy="297.4" r="4.7"/><circle cx="1832.7" cy="295.1" r="4.7"/><circle cx="1823" cy="301.8" r="4.7"/><circle cx="1794.1" cy="304.4" r="4.7"/><circle cx="1765.7" cy="300.6" r="4.7"/><circle cx="1832.7" cy="302.1" r="4.7"/><circle cx="1821.7" cy="301.3" r="4.7"/><circle cx="1829.8" cy="298.4" r="4.7"/><circle cx="1827.2" cy="302.3" r="4.7"/><circle cx="1766.8" cy="298" r="4.7"/><circle cx="1811.8" cy="301.7" r="4.7"/><circle cx="1788" cy="297.8" r="4.7"/><circle cx="1826.2" cy="301.9" r="4.7"/><circle cx="1824.1" cy="299.8" r="4.7"/><circle cx="1801.3" cy="300.6" r="4.7"/><circle cx="1763.5" cy="297.7" r="4.7"/><circle cx="1828.4" cy="298.5" r="4.7"/><circle cx="1772.9" cy="304.7" r="4.7"/><circle cx="1832.5" cy="295.3" r="4.7"/><circle cx="1827.6" cy="303.7" r="4.7"/><circle cx="1795.4" cy="295.2" r="4.7"/><circle cx="1785.2" cy="304.8" r="4.7"/><circle cx="1782.5" cy="297.7" r="4.7"/><circle cx="1782" cy="296.5" r="4.7"/><circle cx="2087.7" cy="294.8" r="4.7"/><circle cx="2079.7" cy="297.1" r="4.7"/><circle cx="2085.7" cy="303.4" r="4.7"/><circle cx="2081.4" cy="300.3" r="4.7"/><circle cx="2078.7" cy="301" r="4.7"/><circle cx="2077.1" cy="302.9" r="4.7"/><circle cx="2088.2" cy="299.2" r="4.7"/><circle cx="2080.5" cy="301" r="4.7"/><circle cx="2079.5" cy="305.7" r="4.7"/><circle cx="2078" cy="299.6" r="4.7"/><circle cx="2083.6" cy="303.2" r="4.7"/><circle cx="2078.8" cy="294.6" r="4.7"/><circle cx="2083.6" cy="294.6" r="4.7"/><circle cx="2085.8" cy="293.2" r="4.7"/><circle cx="2086.8" cy="304.1" r="4.7"/><circle cx="1680" cy="299.9" r="4.7"/><circle cx="1688" cy="305.2" r="4.7"/><circle cx="1715" cy="303.7" r="4.7"/><circle cx="1725" cy="302.2" r="4.7"/><circle cx="1735" cy="296.5" r="4.7"/><circle cx="1742" cy="294.1" r="4.7"/><circle cx="1750" cy="294.5" r="4.7"/><circle cx="1760" cy="294.2" r="4.7"/><circle cx="1768" cy="302.2" r="4.7"/><circle cx="1775" cy="302.6" r="4.7"/><circle cx="1790" cy="305.9" r="4.7"/><circle cx="1800" cy="298.2" r="4.7"/><circle cx="1810" cy="297.9" r="4.7"/><circle cx="2099" cy="304.8" r="4.7"/><circle cx="2024.4" cy="336" r="4.7"/><circle cx="2070.3" cy="336.9" r="4.7"/><circle cx="1822.4" cy="337.7" r="4.7"/><circle cx="2004.3" cy="326.2" r="4.7"/><circle cx="2059.1" cy="325" r="4.7"/><circle cx="1997.6" cy="325.9" r="4.7"/><circle cx="2023.7" cy="325.8" r="4.7"/><circle cx="2063.3" cy="337.6" r="4.7"/><circle cx="1864.3" cy="336.9" r="4.7"/><circle cx="1861.6" cy="325.7" r="4.7"/><circle cx="1963.3" cy="337.1" r="4.7"/><circle cx="1831.7" cy="338" r="4.7"/><circle cx="1970.2" cy="337" r="4.7"/><circle cx="1943.3" cy="337.4" r="4.7"/><circle cx="2036.1" cy="326.1" r="4.7"/><circle cx="1878.8" cy="325.2" r="4.7"/><circle cx="1937.8" cy="337.8" r="4.7"/><circle cx="1942.2" cy="325.6" r="4.7"/><circle cx="2057.8" cy="324.7" r="4.7"/><circle cx="1802.5" cy="324.6" r="4.7"/><circle cx="1993.6" cy="325.2" r="4.7"/><circle cx="2069" cy="336.1" r="4.7"/><circle cx="1992.7" cy="336.1" r="4.7"/><circle cx="2028.3" cy="324.6" r="4.7"/><circle cx="1909.2" cy="336" r="4.7"/><circle cx="1866.6" cy="325.4" r="4.7"/><circle cx="1825.3" cy="336.4" r="4.7"/><circle cx="2054.6" cy="325.8" r="4.7"/><circle cx="1981.7" cy="337.3" r="4.7"/><circle cx="1871.4" cy="326.2" r="4.7"/><circle cx="1869.6" cy="336.4" r="4.7"/><circle cx="2071.1" cy="325.3" r="4.7"/><circle cx="1885" cy="338.1" r="4.7"/><circle cx="1878.5" cy="337.9" r="4.7"/><circle cx="2026" cy="325.7" r="4.7"/><circle cx="1933.6" cy="338.1" r="4.7"/><circle cx="1904.1" cy="337.5" r="4.7"/><circle cx="1803.1" cy="336.2" r="4.7"/><circle cx="1977.1" cy="338.2" r="4.7"/><circle cx="1859" cy="338.2" r="4.7"/><circle cx="1896.5" cy="324.9" r="4.7"/><circle cx="1897.5" cy="336.3" r="4.7"/><circle cx="1827.6" cy="336.6" r="4.7"/><circle cx="2014" cy="325.1" r="4.7"/><circle cx="1804.1" cy="324.6" r="4.7"/><circle cx="1909.8" cy="336.6" r="4.7"/><circle cx="2001.7" cy="324.1" r="4.7"/><circle cx="2038.7" cy="337" r="4.7"/><circle cx="1852.5" cy="336.5" r="4.7"/><circle cx="1999.9" cy="324.4" r="4.7"/><circle cx="1818.8" cy="336.7" r="4.7"/><circle cx="2073.8" cy="325.8" r="4.7"/><circle cx="2036" cy="336.2" r="4.7"/><circle cx="2034.8" cy="326.1" r="4.7"/><circle cx="1897.2" cy="336.4" r="4.7"/><circle cx="1857.2" cy="324.1" r="4.7"/><circle cx="1911.3" cy="326" r="4.7"/><circle cx="2025.2" cy="337" r="4.7"/><circle cx="1907.2" cy="336.7" r="4.7"/><circle cx="1871.2" cy="324.9" r="4.7"/><circle cx="1942.1" cy="337" r="4.7"/><circle cx="1923.1" cy="325.8" r="4.7"/><circle cx="1889.8" cy="336.1" r="4.7"/><circle cx="1825.4" cy="326.1" r="4.7"/><circle cx="1989.1" cy="336.4" r="4.7"/><circle cx="1921.7" cy="337.8" r="4.7"/><circle cx="1919.2" cy="336.9" r="4.7"/><circle cx="1921.4" cy="337.4" r="4.7"/><circle cx="1849.8" cy="336" r="4.7"/><circle cx="2081.6" cy="336.5" r="4.7"/><circle cx="1922.6" cy="324.6" r="4.7"/><circle cx="2022.8" cy="325.9" r="4.7"/><circle cx="1985.1" cy="326.2" r="4.7"/><circle cx="2031.1" cy="324.3" r="4.7"/><circle cx="1894.2" cy="324.9" r="4.7"/><circle cx="1844.4" cy="336.7" r="4.7"/><circle cx="2004" cy="325.4" r="4.7"/><circle cx="2049.4" cy="324.2" r="4.7"/><circle cx="1957.9" cy="337.9" r="4.7"/><circle cx="2009.5" cy="324.3" r="4.7"/><circle cx="1901" cy="325.4" r="4.7"/><circle cx="1961.1" cy="336.8" r="4.7"/><circle cx="1915.9" cy="325" r="4.7"/><circle cx="1931.2" cy="326.3" r="4.7"/><circle cx="1962.6" cy="324.7" r="4.7"/><circle cx="1839.6" cy="336.1" r="4.7"/><circle cx="1835.7" cy="337.3" r="4.7"/><circle cx="1935.2" cy="324.3" r="4.7"/><circle cx="1969.5" cy="338.2" r="4.7"/><circle cx="1789.3" cy="335" r="4.7"/><circle cx="1761.1" cy="332.2" r="4.7"/><circle cx="1802.7" cy="328.5" r="4.7"/><circle cx="1781.6" cy="324.9" r="4.7"/><circle cx="1801.5" cy="335.7" r="4.7"/><circle cx="1801.1" cy="332" r="4.7"/><circle cx="1795.6" cy="331.6" r="4.7"/><circle cx="1784.9" cy="328" r="4.7"/><circle cx="1779.1" cy="328.1" r="4.7"/><circle cx="1714.5" cy="330.7" r="4.7"/><circle cx="1800.6" cy="334.5" r="4.7"/><circle cx="1799.2" cy="334.6" r="4.7"/><circle cx="1741" cy="337" r="4.7"/><circle cx="1772.9" cy="334.6" r="4.7"/><circle cx="1738.7" cy="335.5" r="4.7"/><circle cx="1763.3" cy="336.6" r="4.7"/><circle cx="1745.3" cy="329.6" r="4.7"/><circle cx="1786.7" cy="335.9" r="4.7"/><circle cx="1717.5" cy="329.5" r="4.7"/><circle cx="1718.1" cy="335.3" r="4.7"/><circle cx="1752" cy="329" r="4.7"/><circle cx="1793.4" cy="328.3" r="4.7"/><circle cx="1753.3" cy="330.7" r="4.7"/><circle cx="1796.4" cy="326.3" r="4.7"/><circle cx="1736" cy="326.9" r="4.7"/><circle cx="1798.9" cy="331.6" r="4.7"/><circle cx="1802.5" cy="329.9" r="4.7"/><circle cx="1797.4" cy="336.2" r="4.7"/><circle cx="1769.1" cy="331.1" r="4.7"/><circle cx="1778" cy="324.6" r="4.7"/><circle cx="1730.8" cy="337.3" r="4.7"/><circle cx="1803" cy="332.1" r="4.7"/><circle cx="1739.4" cy="336" r="4.7"/><circle cx="1712.3" cy="336.8" r="4.7"/><circle cx="1724.3" cy="326.3" r="4.7"/><circle cx="1706" cy="337.9" r="4.7"/><circle cx="1758.6" cy="336.4" r="4.7"/><circle cx="1794.3" cy="330.3" r="4.7"/><circle cx="1801.2" cy="330.8" r="4.7"/><circle cx="1706.6" cy="334" r="4.7"/><circle cx="1778.8" cy="328.6" r="4.7"/><circle cx="1797" cy="330.2" r="4.7"/><circle cx="1792.6" cy="331" r="4.7"/><circle cx="1767.2" cy="329.9" r="4.7"/><circle cx="1764.7" cy="330" r="4.7"/><circle cx="1775.1" cy="331" r="4.7"/><circle cx="1730.9" cy="336.6" r="4.7"/><circle cx="1765.7" cy="334.8" r="4.7"/><circle cx="1791.6" cy="326.5" r="4.7"/><circle cx="1790.8" cy="326.2" r="4.7"/><circle cx="1742.4" cy="336.9" r="4.7"/><circle cx="1758.8" cy="327.3" r="4.7"/><circle cx="1800.5" cy="334.9" r="4.7"/><circle cx="1766.9" cy="326.3" r="4.7"/><circle cx="1706.2" cy="334.7" r="4.7"/><circle cx="1711.5" cy="337.9" r="4.7"/><circle cx="1739.8" cy="337.1" r="4.7"/><circle cx="1714.8" cy="326.5" r="4.7"/><circle cx="1788.4" cy="331.7" r="4.7"/><circle cx="1759.4" cy="326.4" r="4.7"/><circle cx="1793.6" cy="335" r="4.7"/><circle cx="1710.8" cy="330.9" r="4.7"/><circle cx="1716.6" cy="336.4" r="4.7"/><circle cx="1721.8" cy="326.9" r="4.7"/><circle cx="1785.5" cy="333.5" r="4.7"/><circle cx="1735.6" cy="335.8" r="4.7"/><circle cx="1800.8" cy="333.6" r="4.7"/><circle cx="1802.9" cy="328.6" r="4.7"/><circle cx="1802.5" cy="331.4" r="4.7"/><circle cx="1800.6" cy="333.4" r="4.7"/><circle cx="1783.5" cy="335.5" r="4.7"/><circle cx="1790.1" cy="338" r="4.7"/><circle cx="1800.9" cy="325.4" r="4.7"/><circle cx="1774.9" cy="331.2" r="4.7"/><circle cx="1730.6" cy="324.7" r="4.7"/><circle cx="1798.5" cy="327.7" r="4.7"/><circle cx="1781.2" cy="335.6" r="4.7"/><circle cx="1756.2" cy="327.6" r="4.7"/><circle cx="1785.2" cy="334.9" r="4.7"/><circle cx="1768.9" cy="325.8" r="4.7"/><circle cx="1787.4" cy="324.6" r="4.7"/><circle cx="1779.2" cy="327.5" r="4.7"/><circle cx="1791.7" cy="329" r="4.7"/><circle cx="1727.5" cy="325.4" r="4.7"/><circle cx="1801.7" cy="326.1" r="4.7"/><circle cx="1781.7" cy="330.3" r="4.7"/><circle cx="1716.9" cy="334.3" r="4.7"/><circle cx="1793.8" cy="326.1" r="4.7"/><circle cx="1769.8" cy="335.8" r="4.7"/><circle cx="1796.3" cy="334.9" r="4.7"/><circle cx="1787.1" cy="337.5" r="4.7"/><circle cx="1712.7" cy="326.7" r="4.7"/><circle cx="1736.6" cy="332.5" r="4.7"/><circle cx="1785.2" cy="331.4" r="4.7"/><circle cx="1721" cy="330.9" r="4.7"/><circle cx="1768" cy="331.1" r="4.7"/><circle cx="1802.9" cy="334.8" r="4.7"/><circle cx="1801.3" cy="336.7" r="4.7"/><circle cx="1803" cy="332.1" r="4.7"/><circle cx="1794.6" cy="333.8" r="4.7"/><circle cx="1760.9" cy="334.6" r="4.7"/><circle cx="1734.5" cy="337.9" r="4.7"/><circle cx="1801" cy="327.5" r="4.7"/><circle cx="1776.4" cy="337.1" r="4.7"/><circle cx="1784.5" cy="327.2" r="4.7"/><circle cx="1772.4" cy="328.7" r="4.7"/><circle cx="1802" cy="335.4" r="4.7"/><circle cx="1779.2" cy="335.9" r="4.7"/><circle cx="1801.3" cy="329" r="4.7"/><circle cx="1800.9" cy="336" r="4.7"/><circle cx="1780" cy="332.7" r="4.7"/><circle cx="1802.5" cy="330.4" r="4.7"/><circle cx="1785.2" cy="334" r="4.7"/><circle cx="1795.7" cy="337.9" r="4.7"/><circle cx="1789.7" cy="331.4" r="4.7"/><circle cx="1777.8" cy="329" r="4.7"/><circle cx="1802.4" cy="324.8" r="4.7"/><circle cx="1719.7" cy="337.8" r="4.7"/><circle cx="1762.3" cy="326.1" r="4.7"/><circle cx="1797.9" cy="328.7" r="4.7"/><circle cx="1802.8" cy="329" r="4.7"/><circle cx="1792.9" cy="328.8" r="4.7"/><circle cx="1731.7" cy="332" r="4.7"/><circle cx="1705.1" cy="328.5" r="4.7"/><circle cx="1802.2" cy="334.8" r="4.7"/><circle cx="1747.7" cy="335.6" r="4.7"/><circle cx="2084.9" cy="335.5" r="4.7"/><circle cx="2082.3" cy="334.3" r="4.7"/><circle cx="2089.8" cy="332.1" r="4.7"/><circle cx="2088.4" cy="330.7" r="4.7"/><circle cx="2085.6" cy="330.9" r="4.7"/><circle cx="2088.3" cy="336" r="4.7"/><circle cx="2084.4" cy="332" r="4.7"/><circle cx="2085.1" cy="326.7" r="4.7"/><circle cx="2090" cy="324.4" r="4.7"/><circle cx="2093.4" cy="325" r="4.7"/><circle cx="2082.8" cy="334.6" r="4.7"/><circle cx="2085.7" cy="328.4" r="4.7"/><circle cx="2086.4" cy="337.2" r="4.7"/><circle cx="2089" cy="329.3" r="4.7"/><circle cx="2094.9" cy="327.7" r="4.7"/><circle cx="2082.3" cy="334.4" r="4.7"/><circle cx="2091.9" cy="335.3" r="4.7"/><circle cx="2085.2" cy="333.7" r="4.7"/><circle cx="1634.7" cy="327.2" r="4.7"/><circle cx="1656" cy="328" r="4.7"/><circle cx="1657" cy="337.3" r="4.7"/><circle cx="1698" cy="336" r="4.7"/><circle cx="1714" cy="337.3" r="4.7"/><circle cx="1720" cy="331.9" r="4.7"/><circle cx="1730" cy="334.1" r="4.7"/><circle cx="1738" cy="329.3" r="4.7"/><circle cx="2098" cy="329.8" r="4.7"/><circle cx="2105.5" cy="337.1" r="4.7"/><circle cx="2020.5" cy="356.6" r="4.7"/><circle cx="1942.7" cy="369.2" r="4.7"/><circle cx="2010.7" cy="368.5" r="4.7"/><circle cx="1869.4" cy="368.3" r="4.7"/><circle cx="2032.4" cy="368.9" r="4.7"/><circle cx="2006.2" cy="368.7" r="4.7"/><circle cx="1972.3" cy="367.7" r="4.7"/><circle cx="1932" cy="356.3" r="4.7"/><circle cx="2000.6" cy="368.6" r="4.7"/><circle cx="1969.1" cy="357.8" r="4.7"/><circle cx="1988.8" cy="356" r="4.7"/><circle cx="1919.5" cy="357.4" r="4.7"/><circle cx="2060.5" cy="357.1" r="4.7"/><circle cx="1941.9" cy="368.9" r="4.7"/><circle cx="1996.4" cy="356.2" r="4.7"/><circle cx="2017.3" cy="355.9" r="4.7"/><circle cx="1969.1" cy="369.6" r="4.7"/><circle cx="1907.6" cy="357.5" r="4.7"/><circle cx="2033.7" cy="368.4" r="4.7"/><circle cx="1969.6" cy="357.5" r="4.7"/><circle cx="1988.1" cy="356.1" r="4.7"/><circle cx="2012.5" cy="355.6" r="4.7"/><circle cx="1983.2" cy="369.2" r="4.7"/><circle cx="1923.9" cy="355.9" r="4.7"/><circle cx="1901.4" cy="357.3" r="4.7"/><circle cx="2040.2" cy="356.1" r="4.7"/><circle cx="2026.5" cy="356.5" r="4.7"/><circle cx="1939" cy="367.9" r="4.7"/><circle cx="1951.7" cy="369.5" r="4.7"/><circle cx="1927.3" cy="355.5" r="4.7"/><circle cx="2004.1" cy="367.5" r="4.7"/><circle cx="2020.3" cy="357" r="4.7"/><circle cx="2034.6" cy="356.8" r="4.7"/><circle cx="2068.6" cy="357.3" r="4.7"/><circle cx="2055.5" cy="356.1" r="4.7"/><circle cx="1955.2" cy="356.9" r="4.7"/><circle cx="2042.7" cy="369.1" r="4.7"/><circle cx="2013.5" cy="356.4" r="4.7"/><circle cx="1965.1" cy="356.6" r="4.7"/><circle cx="2004.7" cy="356.9" r="4.7"/><circle cx="1991.5" cy="356.8" r="4.7"/><circle cx="1925.7" cy="357.3" r="4.7"/><circle cx="1874.6" cy="369.4" r="4.7"/><circle cx="1911.6" cy="355.8" r="4.7"/><circle cx="2022.1" cy="357.4" r="4.7"/><circle cx="1997.1" cy="367.8" r="4.7"/><circle cx="1895.2" cy="368.9" r="4.7"/><circle cx="1894.5" cy="356.3" r="4.7"/><circle cx="2070.5" cy="355.9" r="4.7"/><circle cx="2026.4" cy="367.8" r="4.7"/><circle cx="1985.9" cy="368.6" r="4.7"/><circle cx="2035.3" cy="356.1" r="4.7"/><circle cx="1888.9" cy="356.8" r="4.7"/><circle cx="1967.3" cy="369.2" r="4.7"/><circle cx="1945.4" cy="356.3" r="4.7"/><circle cx="1972.5" cy="357" r="4.7"/><circle cx="1928.8" cy="368.1" r="4.7"/><circle cx="2042.7" cy="369.7" r="4.7"/><circle cx="1899.2" cy="355.9" r="4.7"/><circle cx="1973.5" cy="369.2" r="4.7"/><circle cx="1868.2" cy="356.8" r="4.7"/><circle cx="1895.7" cy="368.1" r="4.7"/><circle cx="1878.8" cy="368.1" r="4.7"/><circle cx="2000.7" cy="355.5" r="4.7"/><circle cx="1902.8" cy="368.8" r="4.7"/><circle cx="1856.9" cy="357.3" r="4.7"/><circle cx="1800.3" cy="356.7" r="4.7"/><circle cx="1860.2" cy="362.4" r="4.7"/><circle cx="1818.3" cy="363.3" r="4.7"/><circle cx="1835.1" cy="368.9" r="4.7"/><circle cx="1780.7" cy="361.2" r="4.7"/><circle cx="1786" cy="360.2" r="4.7"/><circle cx="1787.4" cy="359.5" r="4.7"/><circle cx="1839.9" cy="361" r="4.7"/><circle cx="1772.7" cy="361.9" r="4.7"/><circle cx="1835.7" cy="366.3" r="4.7"/><circle cx="1836.7" cy="359.2" r="4.7"/><circle cx="1860.3" cy="364.7" r="4.7"/><circle cx="1797" cy="357" r="4.7"/><circle cx="1781.5" cy="361.2" r="4.7"/><circle cx="1768.6" cy="366.5" r="4.7"/><circle cx="1767.6" cy="366.3" r="4.7"/><circle cx="1863.2" cy="363.9" r="4.7"/><circle cx="1782.4" cy="369.2" r="4.7"/><circle cx="1794.2" cy="369" r="4.7"/><circle cx="1808.9" cy="364" r="4.7"/><circle cx="1826.3" cy="363.5" r="4.7"/><circle cx="1826.2" cy="367.1" r="4.7"/><circle cx="1832" cy="356.7" r="4.7"/><circle cx="1808.5" cy="368.1" r="4.7"/><circle cx="1861.3" cy="361.5" r="4.7"/><circle cx="1862.6" cy="358.9" r="4.7"/><circle cx="1794.5" cy="360.3" r="4.7"/><circle cx="1830.5" cy="367.9" r="4.7"/><circle cx="1867.9" cy="368.1" r="4.7"/><circle cx="1865.7" cy="360.7" r="4.7"/><circle cx="1837.1" cy="365.8" r="4.7"/><circle cx="1768.4" cy="364.7" r="4.7"/><circle cx="1836.7" cy="363.6" r="4.7"/><circle cx="1818.3" cy="358.4" r="4.7"/><circle cx="1850.8" cy="365.6" r="4.7"/><circle cx="1861.9" cy="365.9" r="4.7"/><circle cx="1806.5" cy="361.5" r="4.7"/><circle cx="1785" cy="357.3" r="4.7"/><circle cx="1862.8" cy="368.8" r="4.7"/><circle cx="1859.9" cy="369" r="4.7"/><circle cx="1827.2" cy="364.6" r="4.7"/><circle cx="1803.5" cy="365" r="4.7"/><circle cx="1780.5" cy="369.5" r="4.7"/><circle cx="1787.8" cy="366.5" r="4.7"/><circle cx="1867.2" cy="368.2" r="4.7"/><circle cx="1794" cy="356.2" r="4.7"/><circle cx="1834" cy="367" r="4.7"/><circle cx="1829.3" cy="366.2" r="4.7"/><circle cx="1865.7" cy="357.1" r="4.7"/><circle cx="1844.7" cy="356.2" r="4.7"/><circle cx="1863.6" cy="358.2" r="4.7"/><circle cx="1866.2" cy="356.3" r="4.7"/><circle cx="1845" cy="355.9" r="4.7"/><circle cx="1769.9" cy="368.6" r="4.7"/><circle cx="1867.3" cy="359.1" r="4.7"/><circle cx="1798.8" cy="359.6" r="4.7"/><circle cx="1809.3" cy="365" r="4.7"/><circle cx="1814.9" cy="364.4" r="4.7"/><circle cx="1836.9" cy="363.4" r="4.7"/><circle cx="1868" cy="366.2" r="4.7"/><circle cx="1864.9" cy="357.9" r="4.7"/><circle cx="1864.5" cy="366.3" r="4.7"/><circle cx="1788" cy="362.4" r="4.7"/><circle cx="1835" cy="366.7" r="4.7"/><circle cx="1809.2" cy="365.6" r="4.7"/><circle cx="1806.8" cy="362.1" r="4.7"/><circle cx="1768.3" cy="358.7" r="4.7"/><circle cx="1849.2" cy="361.4" r="4.7"/><circle cx="1796.9" cy="357.4" r="4.7"/><circle cx="1783.2" cy="365" r="4.7"/><circle cx="1828.4" cy="358" r="4.7"/><circle cx="1864.4" cy="358.8" r="4.7"/><circle cx="1853.1" cy="364.5" r="4.7"/><circle cx="1768.8" cy="358.9" r="4.7"/><circle cx="1854.8" cy="358.7" r="4.7"/><circle cx="1787.8" cy="356.4" r="4.7"/><circle cx="1803.9" cy="367.7" r="4.7"/><circle cx="1850.5" cy="367.7" r="4.7"/><circle cx="1825.9" cy="360.7" r="4.7"/><circle cx="1833.6" cy="360.6" r="4.7"/><circle cx="1859" cy="358.1" r="4.7"/><circle cx="1860.4" cy="362.1" r="4.7"/><circle cx="1860.1" cy="360.4" r="4.7"/><circle cx="1863.1" cy="359" r="4.7"/><circle cx="1795.3" cy="364.9" r="4.7"/><circle cx="1831.8" cy="367.9" r="4.7"/><circle cx="1840.8" cy="363.9" r="4.7"/><circle cx="1775.1" cy="357.8" r="4.7"/><circle cx="1781.7" cy="363.8" r="4.7"/><circle cx="1797.4" cy="357.6" r="4.7"/><circle cx="1818.7" cy="368.3" r="4.7"/><circle cx="1856.3" cy="366.1" r="4.7"/><circle cx="1774.4" cy="364.1" r="4.7"/><circle cx="1778.4" cy="356.8" r="4.7"/><circle cx="1820.9" cy="356.4" r="4.7"/><circle cx="1841.1" cy="356.2" r="4.7"/><circle cx="1833.7" cy="368.5" r="4.7"/><circle cx="1842.6" cy="368.7" r="4.7"/><circle cx="1864" cy="358.1" r="4.7"/><circle cx="1768" cy="361.4" r="4.7"/><circle cx="1854.4" cy="368.6" r="4.7"/><circle cx="1865.8" cy="369.4" r="4.7"/><circle cx="1863.1" cy="362.9" r="4.7"/><circle cx="1827.8" cy="367.6" r="4.7"/><circle cx="1825.8" cy="364.8" r="4.7"/><circle cx="1806.1" cy="356.2" r="4.7"/><circle cx="1863.8" cy="360.8" r="4.7"/><circle cx="1856.5" cy="358.2" r="4.7"/><circle cx="1773.8" cy="362.2" r="4.7"/><circle cx="1815.4" cy="361.4" r="4.7"/><circle cx="1771.7" cy="362" r="4.7"/><circle cx="1841.9" cy="368.9" r="4.7"/><circle cx="1857.4" cy="359.3" r="4.7"/><circle cx="1832.4" cy="368.1" r="4.7"/><circle cx="1822.1" cy="361.6" r="4.7"/><circle cx="1862.2" cy="366" r="4.7"/><circle cx="1867.3" cy="359.9" r="4.7"/><circle cx="1841.4" cy="359.7" r="4.7"/><circle cx="1801.6" cy="365.7" r="4.7"/><circle cx="1865" cy="368.2" r="4.7"/><circle cx="1866.9" cy="356.1" r="4.7"/><circle cx="1857.7" cy="368.3" r="4.7"/><circle cx="1824.6" cy="359.2" r="4.7"/><circle cx="1831.3" cy="361.7" r="4.7"/><circle cx="1775.9" cy="369.4" r="4.7"/><circle cx="1803.5" cy="363.1" r="4.7"/><circle cx="1790.1" cy="367.1" r="4.7"/><circle cx="1827.4" cy="358.7" r="4.7"/><circle cx="1779.2" cy="364.5" r="4.7"/><circle cx="1868" cy="361.7" r="4.7"/><circle cx="1866.3" cy="361.4" r="4.7"/><circle cx="1794.1" cy="362.2" r="4.7"/><circle cx="2075.8" cy="368.9" r="4.7"/><circle cx="2076" cy="367.2" r="4.7"/><circle cx="2080.1" cy="356.3" r="4.7"/><circle cx="2079" cy="355.8" r="4.7"/><circle cx="2072.2" cy="359.3" r="4.7"/><circle cx="2076.1" cy="367.9" r="4.7"/><circle cx="2077.3" cy="362.4" r="4.7"/><circle cx="2073" cy="367.6" r="4.7"/><circle cx="2079.8" cy="368" r="4.7"/><circle cx="2081.9" cy="365.4" r="4.7"/><circle cx="2083.8" cy="360.2" r="4.7"/><circle cx="2073.4" cy="357.7" r="4.7"/><circle cx="2074.7" cy="368" r="4.7"/><circle cx="2072.1" cy="362.2" r="4.7"/><circle cx="2072" cy="367.3" r="4.7"/><circle cx="2084.6" cy="359.4" r="4.7"/><circle cx="2075.2" cy="369" r="4.7"/><circle cx="2078.3" cy="363.7" r="4.7"/><circle cx="2076.6" cy="364.8" r="4.7"/><circle cx="1671" cy="365.3" r="4.7"/><circle cx="1706" cy="366.6" r="4.7"/><circle cx="1720" cy="357.3" r="4.7"/><circle cx="1728" cy="367.9" r="4.7"/><circle cx="1740" cy="358.7" r="4.7"/><circle cx="1745" cy="362.7" r="4.7"/><circle cx="1775" cy="364.9" r="4.7"/><circle cx="1780" cy="362.8" r="4.7"/><circle cx="1790" cy="364.9" r="4.7"/><circle cx="1800" cy="366.3" r="4.7"/><circle cx="1808" cy="357.1" r="4.7"/><circle cx="2105" cy="368.7" r="4.7"/><circle cx="2044.3" cy="389" r="4.7"/><circle cx="1952.7" cy="387.2" r="4.7"/><circle cx="1951.7" cy="387" r="4.7"/><circle cx="1982" cy="399.5" r="4.7"/><circle cx="2057.9" cy="400.6" r="4.7"/><circle cx="2009.2" cy="399.3" r="4.7"/><circle cx="2009.4" cy="399" r="4.7"/><circle cx="2018.4" cy="400" r="4.7"/><circle cx="2046.1" cy="400" r="4.7"/><circle cx="2015.4" cy="400.9" r="4.7"/><circle cx="2074.2" cy="399.8" r="4.7"/><circle cx="1857.3" cy="400.6" r="4.7"/><circle cx="1908.8" cy="399.6" r="4.7"/><circle cx="2014.3" cy="388.9" r="4.7"/><circle cx="1854.6" cy="387.4" r="4.7"/><circle cx="1982.8" cy="399.5" r="4.7"/><circle cx="1889" cy="388" r="4.7"/><circle cx="1970.1" cy="387.1" r="4.7"/><circle cx="2030.6" cy="400.8" r="4.7"/><circle cx="1853.5" cy="399.7" r="4.7"/><circle cx="1878.4" cy="400.6" r="4.7"/><circle cx="2004.6" cy="401" r="4.7"/><circle cx="2009.2" cy="400.1" r="4.7"/><circle cx="1921.4" cy="401" r="4.7"/><circle cx="1949.2" cy="386.9" r="4.7"/><circle cx="2013.8" cy="400.8" r="4.7"/><circle cx="1975.4" cy="388.4" r="4.7"/><circle cx="2037.7" cy="400.1" r="4.7"/><circle cx="1994.4" cy="400.6" r="4.7"/><circle cx="1993.9" cy="400.4" r="4.7"/><circle cx="1868.8" cy="387.7" r="4.7"/><circle cx="2001.8" cy="388.5" r="4.7"/><circle cx="1875" cy="387.4" r="4.7"/><circle cx="1910.4" cy="399.4" r="4.7"/><circle cx="1970.4" cy="399.2" r="4.7"/><circle cx="1961.3" cy="389" r="4.7"/><circle cx="2017.5" cy="399.6" r="4.7"/><circle cx="2003.2" cy="389.1" r="4.7"/><circle cx="1915.9" cy="400.7" r="4.7"/><circle cx="1960.7" cy="399.4" r="4.7"/><circle cx="1866.6" cy="388.7" r="4.7"/><circle cx="1991.5" cy="388.5" r="4.7"/><circle cx="1915.2" cy="400.9" r="4.7"/><circle cx="1965.5" cy="388.2" r="4.7"/><circle cx="1928" cy="399.3" r="4.7"/><circle cx="1869.2" cy="399.5" r="4.7"/><circle cx="2019.7" cy="399.7" r="4.7"/><circle cx="1927.6" cy="399" r="4.7"/><circle cx="1919.2" cy="399.5" r="4.7"/><circle cx="1918" cy="387.1" r="4.7"/><circle cx="1927.3" cy="399.6" r="4.7"/><circle cx="1883.3" cy="386.9" r="4.7"/><circle cx="2051.3" cy="387.3" r="4.7"/><circle cx="1957.7" cy="400.4" r="4.7"/><circle cx="1900.3" cy="387.1" r="4.7"/><circle cx="1937.2" cy="388.5" r="4.7"/><circle cx="2071.7" cy="387.2" r="4.7"/><circle cx="1911.2" cy="399.5" r="4.7"/><circle cx="1920.8" cy="389.1" r="4.7"/><circle cx="1930.8" cy="399.7" r="4.7"/><circle cx="1946.8" cy="400.4" r="4.7"/><circle cx="1897.1" cy="400.5" r="4.7"/><circle cx="1938.7" cy="389" r="4.7"/><circle cx="1996.8" cy="399.9" r="4.7"/><circle cx="2059.7" cy="388.3" r="4.7"/><circle cx="2024.6" cy="389.1" r="4.7"/><circle cx="2038.2" cy="400" r="4.7"/><circle cx="2057" cy="400.1" r="4.7"/><circle cx="1859.7" cy="388.7" r="4.7"/><circle cx="1954.8" cy="388.9" r="4.7"/><circle cx="1915.9" cy="388" r="4.7"/><circle cx="2035.4" cy="399.6" r="4.7"/><circle cx="1950.7" cy="399.3" r="4.7"/><circle cx="1755.9" cy="397.7" r="4.7"/><circle cx="1751.5" cy="392.4" r="4.7"/><circle cx="1818.2" cy="394.3" r="4.7"/><circle cx="1846.3" cy="390.7" r="4.7"/><circle cx="1799.7" cy="399.9" r="4.7"/><circle cx="1847.3" cy="391.7" r="4.7"/><circle cx="1817.4" cy="392.8" r="4.7"/><circle cx="1838.6" cy="389.5" r="4.7"/><circle cx="1835.4" cy="387.9" r="4.7"/><circle cx="1837.5" cy="388" r="4.7"/><circle cx="1766.2" cy="396" r="4.7"/><circle cx="1818.8" cy="391.5" r="4.7"/><circle cx="1796.7" cy="391.8" r="4.7"/><circle cx="1773.1" cy="398.8" r="4.7"/><circle cx="1840.4" cy="394.2" r="4.7"/><circle cx="1831.3" cy="400.7" r="4.7"/><circle cx="1840.4" cy="387.6" r="4.7"/><circle cx="1841.1" cy="400.1" r="4.7"/><circle cx="1804.4" cy="397.2" r="4.7"/><circle cx="1819.5" cy="396.8" r="4.7"/><circle cx="1825.6" cy="394.3" r="4.7"/><circle cx="1800.5" cy="398.1" r="4.7"/><circle cx="1755.6" cy="395.9" r="4.7"/><circle cx="1775.1" cy="389.3" r="4.7"/><circle cx="1842.1" cy="399.7" r="4.7"/><circle cx="1847.2" cy="393.4" r="4.7"/><circle cx="1839.9" cy="394.6" r="4.7"/><circle cx="1836" cy="399.6" r="4.7"/><circle cx="1846.3" cy="398.5" r="4.7"/><circle cx="1753.1" cy="392.7" r="4.7"/><circle cx="1778.2" cy="395.6" r="4.7"/><circle cx="1840.9" cy="394.3" r="4.7"/><circle cx="1845.5" cy="391.4" r="4.7"/><circle cx="1847" cy="389.6" r="4.7"/><circle cx="1765.3" cy="394.1" r="4.7"/><circle cx="1768.6" cy="393.4" r="4.7"/><circle cx="1835.6" cy="393.8" r="4.7"/><circle cx="1831.5" cy="400.6" r="4.7"/><circle cx="1847.7" cy="389.8" r="4.7"/><circle cx="1841.3" cy="394.1" r="4.7"/><circle cx="1829.2" cy="388.8" r="4.7"/><circle cx="1805.7" cy="399.3" r="4.7"/><circle cx="1813.3" cy="391.8" r="4.7"/><circle cx="1818.5" cy="390.5" r="4.7"/><circle cx="1847.6" cy="391.3" r="4.7"/><circle cx="1829.7" cy="397.8" r="4.7"/><circle cx="1827.4" cy="399.2" r="4.7"/><circle cx="1845.8" cy="391.4" r="4.7"/><circle cx="1843.5" cy="398" r="4.7"/><circle cx="1843.9" cy="394.9" r="4.7"/><circle cx="1817.9" cy="397.2" r="4.7"/><circle cx="1815.6" cy="391.1" r="4.7"/><circle cx="1754.4" cy="393.8" r="4.7"/><circle cx="1844" cy="394.6" r="4.7"/><circle cx="1816.9" cy="388.4" r="4.7"/><circle cx="1847.7" cy="394" r="4.7"/><circle cx="1791.4" cy="392.1" r="4.7"/><circle cx="1801.4" cy="390.7" r="4.7"/><circle cx="1790" cy="398.1" r="4.7"/><circle cx="1814.7" cy="399.8" r="4.7"/><circle cx="1827.5" cy="392.3" r="4.7"/><circle cx="1848" cy="392.3" r="4.7"/><circle cx="1784.5" cy="397.8" r="4.7"/><circle cx="1825.4" cy="393.2" r="4.7"/><circle cx="1806.1" cy="387.9" r="4.7"/><circle cx="1816.1" cy="398.8" r="4.7"/><circle cx="1845.5" cy="388.2" r="4.7"/><circle cx="1818.8" cy="395.5" r="4.7"/><circle cx="1830.1" cy="392.8" r="4.7"/><circle cx="1756.7" cy="400.8" r="4.7"/><circle cx="1748.5" cy="389.5" r="4.7"/><circle cx="1834.8" cy="390.8" r="4.7"/><circle cx="1761.5" cy="395.6" r="4.7"/><circle cx="1812.1" cy="388.3" r="4.7"/><circle cx="1779.7" cy="400.6" r="4.7"/><circle cx="1840.8" cy="391.1" r="4.7"/><circle cx="1848" cy="398.7" r="4.7"/><circle cx="1840.4" cy="389.4" r="4.7"/><circle cx="1767.7" cy="396.4" r="4.7"/><circle cx="1824.1" cy="390.4" r="4.7"/><circle cx="1753" cy="391.8" r="4.7"/><circle cx="1788.4" cy="395.9" r="4.7"/><circle cx="1829.3" cy="400.5" r="4.7"/><circle cx="1826.8" cy="390.7" r="4.7"/><circle cx="1840.9" cy="387.6" r="4.7"/><circle cx="1823.4" cy="399.9" r="4.7"/><circle cx="1789.6" cy="391.9" r="4.7"/><circle cx="1836" cy="398.2" r="4.7"/><circle cx="1775.6" cy="391.4" r="4.7"/><circle cx="1839.5" cy="390.7" r="4.7"/><circle cx="1777.2" cy="393.7" r="4.7"/><circle cx="1797.3" cy="396.4" r="4.7"/><circle cx="1779.2" cy="394.6" r="4.7"/><circle cx="1847.9" cy="396.2" r="4.7"/><circle cx="1840" cy="398.9" r="4.7"/><circle cx="1808.9" cy="396.6" r="4.7"/><circle cx="1795.6" cy="398.9" r="4.7"/><circle cx="1776.4" cy="399.8" r="4.7"/><circle cx="1775.1" cy="390.6" r="4.7"/><circle cx="1787.3" cy="392" r="4.7"/><circle cx="1786.2" cy="394.8" r="4.7"/><circle cx="1810.1" cy="388.4" r="4.7"/><circle cx="1843.2" cy="388.9" r="4.7"/><circle cx="1846.4" cy="399.1" r="4.7"/><circle cx="1761.1" cy="391.9" r="4.7"/><circle cx="1823" cy="395" r="4.7"/><circle cx="1794.4" cy="388.3" r="4.7"/><circle cx="1750.1" cy="387.5" r="4.7"/><circle cx="1845.9" cy="397.1" r="4.7"/><circle cx="1834.1" cy="395.9" r="4.7"/><circle cx="1811.9" cy="393.7" r="4.7"/><circle cx="1816.5" cy="398.3" r="4.7"/><circle cx="1827.7" cy="397.7" r="4.7"/><circle cx="1808.3" cy="399.3" r="4.7"/><circle cx="1846.2" cy="391.2" r="4.7"/><circle cx="1847.9" cy="387.5" r="4.7"/><circle cx="1813.7" cy="393.4" r="4.7"/><circle cx="1843.2" cy="389.2" r="4.7"/><circle cx="1842.3" cy="399.4" r="4.7"/><circle cx="1811.6" cy="392.9" r="4.7"/><circle cx="1810.7" cy="393.1" r="4.7"/><circle cx="1819.3" cy="388.1" r="4.7"/><circle cx="1748" cy="395.2" r="4.7"/><circle cx="1790.4" cy="399.5" r="4.7"/><circle cx="1846.4" cy="387.9" r="4.7"/><circle cx="1841" cy="389.5" r="4.7"/><circle cx="1842.6" cy="392.5" r="4.7"/><circle cx="1774.3" cy="395.3" r="4.7"/><circle cx="1790.8" cy="394" r="4.7"/><circle cx="1758.5" cy="399.2" r="4.7"/><circle cx="1845.4" cy="396.4" r="4.7"/><circle cx="1753.8" cy="398.4" r="4.7"/><circle cx="1812.7" cy="392.6" r="4.7"/><circle cx="2077.3" cy="390.9" r="4.7"/><circle cx="2077.3" cy="388.1" r="4.7"/><circle cx="2087" cy="394.1" r="4.7"/><circle cx="2080" cy="396.9" r="4.7"/><circle cx="2079.4" cy="399.7" r="4.7"/><circle cx="2078.4" cy="389.8" r="4.7"/><circle cx="2078.3" cy="400.3" r="4.7"/><circle cx="2089.3" cy="389.9" r="4.7"/><circle cx="2090.3" cy="387.6" r="4.7"/><circle cx="2085.4" cy="393.4" r="4.7"/><circle cx="2078.4" cy="395.3" r="4.7"/><circle cx="2078.4" cy="394.4" r="4.7"/><circle cx="2086.4" cy="392.9" r="4.7"/><circle cx="2089.7" cy="399.4" r="4.7"/><circle cx="2078" cy="390" r="4.7"/><circle cx="2077" cy="392" r="4.7"/><circle cx="2077.2" cy="391.3" r="4.7"/><circle cx="2077.5" cy="393.7" r="4.7"/><circle cx="2078.7" cy="399.9" r="4.7"/><circle cx="1698" cy="398.1" r="4.7"/><circle cx="1700" cy="392" r="4.7"/><circle cx="1715" cy="394.5" r="4.7"/><circle cx="1730" cy="388.3" r="4.7"/><circle cx="1740" cy="387.9" r="4.7"/><circle cx="1752" cy="398.4" r="4.7"/><circle cx="1765" cy="388.3" r="4.7"/><circle cx="1780" cy="392.2" r="4.7"/><circle cx="1795" cy="390.4" r="4.7"/><circle cx="1808" cy="390" r="4.7"/><circle cx="1820" cy="390.1" r="4.7"/><circle cx="2116" cy="390.1" r="4.7"/><circle cx="2063.2" cy="418.3" r="4.7"/><circle cx="1905.3" cy="432.3" r="4.7"/><circle cx="2053.2" cy="418.4" r="4.7"/><circle cx="2010.5" cy="430.4" r="4.7"/><circle cx="1846.2" cy="418.4" r="4.7"/><circle cx="1932.9" cy="432.4" r="4.7"/><circle cx="2037.3" cy="431.7" r="4.7"/><circle cx="1885.5" cy="419.3" r="4.7"/><circle cx="1962.7" cy="430.6" r="4.7"/><circle cx="1943.2" cy="418.5" r="4.7"/><circle cx="1984.1" cy="430.8" r="4.7"/><circle cx="2053.1" cy="431.7" r="4.7"/><circle cx="2076.9" cy="432.2" r="4.7"/><circle cx="2033.6" cy="418.8" r="4.7"/><circle cx="2022.6" cy="418.4" r="4.7"/><circle cx="1897.6" cy="431.3" r="4.7"/><circle cx="1858.2" cy="418.9" r="4.7"/><circle cx="1831.2" cy="431.1" r="4.7"/><circle cx="1917.4" cy="430.8" r="4.7"/><circle cx="2023.3" cy="419" r="4.7"/><circle cx="2015" cy="419.6" r="4.7"/><circle cx="1860.5" cy="418.5" r="4.7"/><circle cx="1863.1" cy="419.1" r="4.7"/><circle cx="2046.9" cy="419.3" r="4.7"/><circle cx="1960.7" cy="430.3" r="4.7"/><circle cx="1838" cy="431.2" r="4.7"/><circle cx="2046.1" cy="418.3" r="4.7"/><circle cx="2071.6" cy="419.1" r="4.7"/><circle cx="2030" cy="418.3" r="4.7"/><circle cx="2005.9" cy="418.8" r="4.7"/><circle cx="1868.6" cy="431.3" r="4.7"/><circle cx="1855.8" cy="418.7" r="4.7"/><circle cx="2058.7" cy="430.6" r="4.7"/><circle cx="1914.8" cy="432.3" r="4.7"/><circle cx="1993.4" cy="419.6" r="4.7"/><circle cx="1920.4" cy="420.5" r="4.7"/><circle cx="1929.1" cy="431.7" r="4.7"/><circle cx="1970.8" cy="418.9" r="4.7"/><circle cx="1868.1" cy="420.6" r="4.7"/><circle cx="1876.2" cy="432.2" r="4.7"/><circle cx="1913.2" cy="431.3" r="4.7"/><circle cx="1875.6" cy="420" r="4.7"/><circle cx="2043.6" cy="419.3" r="4.7"/><circle cx="2061.6" cy="432.1" r="4.7"/><circle cx="1873.9" cy="418.9" r="4.7"/><circle cx="2037.8" cy="419" r="4.7"/><circle cx="2075.4" cy="419.5" r="4.7"/><circle cx="1960.1" cy="418.9" r="4.7"/><circle cx="1976.4" cy="419.6" r="4.7"/><circle cx="1856.6" cy="432" r="4.7"/><circle cx="2049.3" cy="431.7" r="4.7"/><circle cx="1916.4" cy="419.5" r="4.7"/><circle cx="1888.7" cy="431.2" r="4.7"/><circle cx="2019.9" cy="418.8" r="4.7"/><circle cx="1844.4" cy="431.2" r="4.7"/><circle cx="1838.7" cy="431.4" r="4.7"/><circle cx="2002.5" cy="419.6" r="4.7"/><circle cx="1965" cy="420" r="4.7"/><circle cx="2000.6" cy="419" r="4.7"/><circle cx="2077.5" cy="431.7" r="4.7"/><circle cx="1829.3" cy="420.5" r="4.7"/><circle cx="2006.8" cy="432.4" r="4.7"/><circle cx="1906.9" cy="418.4" r="4.7"/><circle cx="2044.6" cy="432.5" r="4.7"/><circle cx="1893.8" cy="419.3" r="4.7"/><circle cx="1874.2" cy="432.3" r="4.7"/><circle cx="1997.2" cy="431.5" r="4.7"/><circle cx="1914.5" cy="430.4" r="4.7"/><circle cx="1871.7" cy="431.1" r="4.7"/><circle cx="2014.7" cy="419.7" r="4.7"/><circle cx="2035.2" cy="419.6" r="4.7"/><circle cx="1993.1" cy="431.6" r="4.7"/><circle cx="2064.7" cy="420.2" r="4.7"/><circle cx="1937.1" cy="431.5" r="4.7"/><circle cx="2039.2" cy="420.4" r="4.7"/><circle cx="2011.5" cy="430.2" r="4.7"/><circle cx="1920.7" cy="431.3" r="4.7"/><circle cx="1940.7" cy="419.6" r="4.7"/><circle cx="1915.8" cy="431.2" r="4.7"/><circle cx="1907.6" cy="432.3" r="4.7"/><circle cx="1824.9" cy="428.7" r="4.7"/><circle cx="1759.7" cy="422.7" r="4.7"/><circle cx="1735.1" cy="421.5" r="4.7"/><circle cx="1823.1" cy="422.4" r="4.7"/><circle cx="1826.3" cy="423.7" r="4.7"/><circle cx="1812.5" cy="426.5" r="4.7"/><circle cx="1816.1" cy="424" r="4.7"/><circle cx="1766.9" cy="425.4" r="4.7"/><circle cx="1752.8" cy="419.9" r="4.7"/><circle cx="1770.5" cy="431.5" r="4.7"/><circle cx="1821.6" cy="428.1" r="4.7"/><circle cx="1823.4" cy="427.7" r="4.7"/><circle cx="1747.9" cy="429.1" r="4.7"/><circle cx="1826.3" cy="419.6" r="4.7"/><circle cx="1815.9" cy="418.7" r="4.7"/><circle cx="1806.5" cy="430.8" r="4.7"/><circle cx="1827.7" cy="425.1" r="4.7"/><circle cx="1770.7" cy="430.5" r="4.7"/><circle cx="1799.6" cy="419.8" r="4.7"/><circle cx="1783.6" cy="426.2" r="4.7"/><circle cx="1814.3" cy="419.5" r="4.7"/><circle cx="1823.8" cy="425.6" r="4.7"/><circle cx="1822.1" cy="426.3" r="4.7"/><circle cx="1786.4" cy="423.3" r="4.7"/><circle cx="1825.7" cy="427.4" r="4.7"/><circle cx="1821.7" cy="429.4" r="4.7"/><circle cx="1816" cy="428" r="4.7"/><circle cx="1767.7" cy="421.6" r="4.7"/><circle cx="1769" cy="431.9" r="4.7"/><circle cx="1820.2" cy="428" r="4.7"/><circle cx="1798.6" cy="428.5" r="4.7"/><circle cx="1788.6" cy="430.9" r="4.7"/><circle cx="1795.1" cy="424.6" r="4.7"/><circle cx="1827.5" cy="422.7" r="4.7"/><circle cx="1783.8" cy="423.3" r="4.7"/><circle cx="1811.6" cy="419.2" r="4.7"/><circle cx="1790.4" cy="423.2" r="4.7"/><circle cx="1825.7" cy="427" r="4.7"/><circle cx="1799.1" cy="420.5" r="4.7"/><circle cx="1751.1" cy="420.7" r="4.7"/><circle cx="1747.8" cy="430" r="4.7"/><circle cx="1741.8" cy="420.1" r="4.7"/><circle cx="1760.1" cy="420.9" r="4.7"/><circle cx="1779.4" cy="429.3" r="4.7"/><circle cx="1819.3" cy="421.2" r="4.7"/><circle cx="1803.8" cy="422.8" r="4.7"/><circle cx="1756" cy="422.1" r="4.7"/><circle cx="1825.6" cy="423.7" r="4.7"/><circle cx="1807.1" cy="421.2" r="4.7"/><circle cx="1803" cy="424.9" r="4.7"/><circle cx="1789.1" cy="429.1" r="4.7"/><circle cx="1739" cy="431" r="4.7"/><circle cx="1824.5" cy="422.1" r="4.7"/><circle cx="1745.8" cy="429" r="4.7"/><circle cx="1809.1" cy="423.1" r="4.7"/><circle cx="1826" cy="426.9" r="4.7"/><circle cx="1759" cy="426.3" r="4.7"/><circle cx="1735.2" cy="424.1" r="4.7"/><circle cx="1754.2" cy="421" r="4.7"/><circle cx="1815.2" cy="423.9" r="4.7"/><circle cx="1773.5" cy="429.6" r="4.7"/><circle cx="1825.3" cy="431.1" r="4.7"/><circle cx="1823.4" cy="425.1" r="4.7"/><circle cx="1821" cy="430.6" r="4.7"/><circle cx="1824.3" cy="426.1" r="4.7"/><circle cx="1827.2" cy="421.3" r="4.7"/><circle cx="1771.1" cy="426.5" r="4.7"/><circle cx="1821.3" cy="431.9" r="4.7"/><circle cx="1824.1" cy="427.5" r="4.7"/><circle cx="1805" cy="428.5" r="4.7"/><circle cx="1768.2" cy="422.4" r="4.7"/><circle cx="1827.5" cy="431.2" r="4.7"/><circle cx="1827.8" cy="422.5" r="4.7"/><circle cx="1767.4" cy="426.9" r="4.7"/><circle cx="1763.7" cy="418.8" r="4.7"/><circle cx="1810.8" cy="421.3" r="4.7"/><circle cx="1797.6" cy="428.2" r="4.7"/><circle cx="1814.8" cy="420.5" r="4.7"/><circle cx="1784.5" cy="429.4" r="4.7"/><circle cx="1822.4" cy="421" r="4.7"/><circle cx="1827" cy="427.9" r="4.7"/><circle cx="1753.8" cy="431.9" r="4.7"/><circle cx="1784.2" cy="419.5" r="4.7"/><circle cx="1778.9" cy="422.8" r="4.7"/><circle cx="1787.4" cy="422" r="4.7"/><circle cx="1810.6" cy="422.7" r="4.7"/><circle cx="1790.9" cy="429.5" r="4.7"/><circle cx="1818.6" cy="424" r="4.7"/><circle cx="1827.5" cy="427.1" r="4.7"/><circle cx="1804.1" cy="429.3" r="4.7"/><circle cx="1819.9" cy="423.5" r="4.7"/><circle cx="1740.7" cy="424.2" r="4.7"/><circle cx="1813.2" cy="426.7" r="4.7"/><circle cx="1822.1" cy="422" r="4.7"/><circle cx="1822.3" cy="424.4" r="4.7"/><circle cx="1818.7" cy="423.9" r="4.7"/><circle cx="1789.3" cy="421.2" r="4.7"/><circle cx="1798.2" cy="426" r="4.7"/><circle cx="1818.5" cy="425.7" r="4.7"/><circle cx="1772.9" cy="427.4" r="4.7"/><circle cx="1765.9" cy="427.2" r="4.7"/><circle cx="1752.9" cy="420.4" r="4.7"/><circle cx="1765.9" cy="427.4" r="4.7"/><circle cx="1769.3" cy="419.1" r="4.7"/><circle cx="1819.6" cy="419" r="4.7"/><circle cx="1798.7" cy="419.9" r="4.7"/><circle cx="1820.1" cy="428" r="4.7"/><circle cx="1778.7" cy="422" r="4.7"/><circle cx="1781.3" cy="424.3" r="4.7"/><circle cx="1769.8" cy="428" r="4.7"/><circle cx="1764.7" cy="421.9" r="4.7"/><circle cx="1803" cy="423.1" r="4.7"/><circle cx="1791.2" cy="419" r="4.7"/><circle cx="1791" cy="432" r="4.7"/><circle cx="1781.2" cy="430.3" r="4.7"/><circle cx="1820.9" cy="431.5" r="4.7"/><circle cx="1827.1" cy="421.9" r="4.7"/><circle cx="1805.2" cy="419.5" r="4.7"/><circle cx="1781.8" cy="425.7" r="4.7"/><circle cx="1826.8" cy="422" r="4.7"/><circle cx="2079.9" cy="423.4" r="4.7"/><circle cx="2079" cy="421.4" r="4.7"/><circle cx="2085.2" cy="432" r="4.7"/><circle cx="2084.8" cy="419.4" r="4.7"/><circle cx="2087.8" cy="427.3" r="4.7"/><circle cx="2080.4" cy="425.1" r="4.7"/><circle cx="2079.6" cy="424.6" r="4.7"/><circle cx="2088.5" cy="431.3" r="4.7"/><circle cx="2088.9" cy="431.4" r="4.7"/><circle cx="2086.6" cy="419.8" r="4.7"/><circle cx="2086.9" cy="422.1" r="4.7"/><circle cx="2080.6" cy="418.7" r="4.7"/><circle cx="2079.5" cy="421.4" r="4.7"/><circle cx="2086.3" cy="423" r="4.7"/><circle cx="1625" cy="431.4" r="4.7"/><circle cx="1668" cy="430.1" r="4.7"/><circle cx="1672" cy="427" r="4.7"/><circle cx="1677" cy="426.5" r="4.7"/><circle cx="1690" cy="426.6" r="4.7"/><circle cx="1700" cy="432" r="4.7"/><circle cx="1712" cy="427.1" r="4.7"/><circle cx="1728" cy="430.1" r="4.7"/><circle cx="1740" cy="430.7" r="4.7"/><circle cx="1750" cy="430" r="4.7"/><circle cx="1765" cy="423.4" r="4.7"/><circle cx="1780" cy="420.6" r="4.7"/><circle cx="1790" cy="432" r="4.7"/><circle cx="2096" cy="421.7" r="4.7"/><circle cx="1914.9" cy="451.2" r="4.7"/><circle cx="1886.5" cy="450.8" r="4.7"/><circle cx="1939.2" cy="463.4" r="4.7"/><circle cx="1934.9" cy="462.2" r="4.7"/><circle cx="1999.6" cy="451.3" r="4.7"/><circle cx="2020.3" cy="462.2" r="4.7"/><circle cx="1899.9" cy="451.6" r="4.7"/><circle cx="1998.4" cy="451" r="4.7"/><circle cx="2038.8" cy="450.8" r="4.7"/><circle cx="2074.4" cy="462.1" r="4.7"/><circle cx="1936.4" cy="451.8" r="4.7"/><circle cx="1933.4" cy="450" r="4.7"/><circle cx="1907" cy="462.7" r="4.7"/><circle cx="2040.6" cy="463.7" r="4.7"/><circle cx="2063.8" cy="451.1" r="4.7"/><circle cx="1909.4" cy="451.5" r="4.7"/><circle cx="1953.4" cy="463.2" r="4.7"/><circle cx="2054.2" cy="463.4" r="4.7"/><circle cx="1926.1" cy="463.9" r="4.7"/><circle cx="1972.5" cy="450.5" r="4.7"/><circle cx="1926.2" cy="462.8" r="4.7"/><circle cx="2074.5" cy="463" r="4.7"/><circle cx="2000.8" cy="463.2" r="4.7"/><circle cx="1948.5" cy="449.9" r="4.7"/><circle cx="1835.9" cy="450.7" r="4.7"/><circle cx="1834" cy="450.3" r="4.7"/><circle cx="1883" cy="463.4" r="4.7"/><circle cx="1857.2" cy="462.1" r="4.7"/><circle cx="2002.2" cy="451.3" r="4.7"/><circle cx="1865.5" cy="450.6" r="4.7"/><circle cx="1914.2" cy="451.5" r="4.7"/><circle cx="1896.8" cy="451.5" r="4.7"/><circle cx="1954.5" cy="463.5" r="4.7"/><circle cx="2027.9" cy="462.6" r="4.7"/><circle cx="2026.5" cy="462.4" r="4.7"/><circle cx="1948.2" cy="461.9" r="4.7"/><circle cx="2062.9" cy="451.1" r="4.7"/><circle cx="1972.4" cy="463.3" r="4.7"/><circle cx="2065.4" cy="463.7" r="4.7"/><circle cx="1998.3" cy="462.8" r="4.7"/><circle cx="1959.2" cy="461.8" r="4.7"/><circle cx="2050.9" cy="462.2" r="4.7"/><circle cx="1936.1" cy="461.9" r="4.7"/><circle cx="1879.9" cy="463.1" r="4.7"/><circle cx="2033.3" cy="462.3" r="4.7"/><circle cx="2020.9" cy="452" r="4.7"/><circle cx="1996.8" cy="450" r="4.7"/><circle cx="1970.2" cy="463.4" r="4.7"/><circle cx="1940.8" cy="462.6" r="4.7"/><circle cx="1867.3" cy="461.9" r="4.7"/><circle cx="1883.8" cy="451" r="4.7"/><circle cx="1866.9" cy="450" r="4.7"/><circle cx="1946.8" cy="461.6" r="4.7"/><circle cx="1832.6" cy="463.1" r="4.7"/><circle cx="1988.3" cy="462.1" r="4.7"/><circle cx="1947" cy="463.8" r="4.7"/><circle cx="1869.4" cy="449.9" r="4.7"/><circle cx="1939" cy="462.9" r="4.7"/><circle cx="2056.1" cy="451.4" r="4.7"/><circle cx="1957.9" cy="463.6" r="4.7"/><circle cx="2013.5" cy="463.6" r="4.7"/><circle cx="2062.4" cy="463.2" r="4.7"/><circle cx="1852.7" cy="463" r="4.7"/><circle cx="2074.7" cy="451.5" r="4.7"/><circle cx="2043.3" cy="451.5" r="4.7"/><circle cx="1973" cy="450.4" r="4.7"/><circle cx="1850.2" cy="463.3" r="4.7"/><circle cx="1852.1" cy="462.5" r="4.7"/><circle cx="1862.1" cy="462" r="4.7"/><circle cx="1957.2" cy="449.8" r="4.7"/><circle cx="1832" cy="462.5" r="4.7"/><circle cx="1831.8" cy="450.8" r="4.7"/><circle cx="1876.6" cy="451.8" r="4.7"/><circle cx="2060.8" cy="451.6" r="4.7"/><circle cx="1944.5" cy="463.7" r="4.7"/><circle cx="1984.1" cy="450.6" r="4.7"/><circle cx="1822.7" cy="462" r="4.7"/><circle cx="1886.2" cy="451.4" r="4.7"/><circle cx="1923.6" cy="451.4" r="4.7"/><circle cx="1833.3" cy="450.8" r="4.7"/><circle cx="1810.1" cy="453" r="4.7"/><circle cx="1772" cy="463.3" r="4.7"/><circle cx="1797.5" cy="453" r="4.7"/><circle cx="1821.3" cy="456.4" r="4.7"/><circle cx="1804" cy="456.4" r="4.7"/><circle cx="1779.3" cy="455.6" r="4.7"/><circle cx="1800.1" cy="461.9" r="4.7"/><circle cx="1822.4" cy="450.9" r="4.7"/><circle cx="1784.8" cy="451.8" r="4.7"/><circle cx="1766.4" cy="451" r="4.7"/><circle cx="1799.7" cy="453.2" r="4.7"/><circle cx="1797.2" cy="455.1" r="4.7"/><circle cx="1819.2" cy="462.7" r="4.7"/><circle cx="1783.6" cy="462" r="4.7"/><circle cx="1802.8" cy="453.9" r="4.7"/><circle cx="1763" cy="452.6" r="4.7"/><circle cx="1750.4" cy="461.1" r="4.7"/><circle cx="1821.5" cy="454.9" r="4.7"/><circle cx="1822.8" cy="462.4" r="4.7"/><circle cx="1796.2" cy="462.3" r="4.7"/><circle cx="1791.3" cy="462.8" r="4.7"/><circle cx="1814.9" cy="452.7" r="4.7"/><circle cx="1812.2" cy="455.6" r="4.7"/><circle cx="1791.5" cy="461.5" r="4.7"/><circle cx="1820.4" cy="455.7" r="4.7"/><circle cx="1760.1" cy="458.1" r="4.7"/><circle cx="1767.8" cy="454.6" r="4.7"/><circle cx="1753.5" cy="455.1" r="4.7"/><circle cx="1822" cy="457.5" r="4.7"/><circle cx="1817.1" cy="455.2" r="4.7"/><circle cx="1803.9" cy="458.2" r="4.7"/><circle cx="1745.6" cy="452.1" r="4.7"/><circle cx="1811.9" cy="461.4" r="4.7"/><circle cx="1763" cy="451.9" r="4.7"/><circle cx="1800.3" cy="459.2" r="4.7"/><circle cx="1773.3" cy="459.2" r="4.7"/><circle cx="1822.8" cy="457.6" r="4.7"/><circle cx="1812.9" cy="457" r="4.7"/><circle cx="1766.7" cy="451" r="4.7"/><circle cx="1810.5" cy="463.5" r="4.7"/><circle cx="1812.6" cy="452.1" r="4.7"/><circle cx="1772" cy="453.4" r="4.7"/><circle cx="1789.5" cy="459.6" r="4.7"/><circle cx="1782.2" cy="456" r="4.7"/><circle cx="1790.4" cy="462.1" r="4.7"/><circle cx="1821.8" cy="461.7" r="4.7"/><circle cx="1770.8" cy="461.2" r="4.7"/><circle cx="1818.7" cy="453.3" r="4.7"/><circle cx="1813.3" cy="460.4" r="4.7"/><circle cx="1805.9" cy="450.5" r="4.7"/><circle cx="1820.5" cy="455.6" r="4.7"/><circle cx="1822.7" cy="458.6" r="4.7"/><circle cx="1823" cy="455.8" r="4.7"/><circle cx="1767.4" cy="459.6" r="4.7"/><circle cx="1771.2" cy="462.8" r="4.7"/><circle cx="1794.7" cy="459.6" r="4.7"/><circle cx="1812.1" cy="455.4" r="4.7"/><circle cx="1771.1" cy="457.9" r="4.7"/><circle cx="1789.2" cy="459.5" r="4.7"/><circle cx="1813.6" cy="459" r="4.7"/><circle cx="1787.8" cy="459.5" r="4.7"/><circle cx="1816.5" cy="458.8" r="4.7"/><circle cx="1796.7" cy="455.7" r="4.7"/><circle cx="1756.5" cy="462.7" r="4.7"/><circle cx="1800.9" cy="462.8" r="4.7"/><circle cx="1820" cy="458.2" r="4.7"/><circle cx="1781.4" cy="455.5" r="4.7"/><circle cx="1818.4" cy="451.3" r="4.7"/><circle cx="1818.5" cy="451.9" r="4.7"/><circle cx="1776.9" cy="450.9" r="4.7"/><circle cx="1805.8" cy="455.9" r="4.7"/><circle cx="1812.2" cy="451.5" r="4.7"/><circle cx="1754.5" cy="460.9" r="4.7"/><circle cx="1804.8" cy="456.6" r="4.7"/><circle cx="1760" cy="462.6" r="4.7"/><circle cx="1807.7" cy="463.5" r="4.7"/><circle cx="1780" cy="462.1" r="4.7"/><circle cx="1801.7" cy="458.1" r="4.7"/><circle cx="1746.5" cy="459.3" r="4.7"/><circle cx="1754.8" cy="455" r="4.7"/><circle cx="1822.3" cy="454.6" r="4.7"/><circle cx="1801.8" cy="452.7" r="4.7"/><circle cx="1765.5" cy="460.4" r="4.7"/><circle cx="1784.4" cy="459.4" r="4.7"/><circle cx="1780.6" cy="452.2" r="4.7"/><circle cx="1789.8" cy="463.5" r="4.7"/><circle cx="1815.4" cy="461.5" r="4.7"/><circle cx="1749.2" cy="451.9" r="4.7"/><circle cx="1788.4" cy="456.6" r="4.7"/><circle cx="1792.1" cy="454.9" r="4.7"/><circle cx="1755.6" cy="462" r="4.7"/><circle cx="1752.3" cy="459.5" r="4.7"/><circle cx="1818.3" cy="454.7" r="4.7"/><circle cx="1764" cy="450.2" r="4.7"/><circle cx="1764.8" cy="460.1" r="4.7"/><circle cx="1774.7" cy="459.4" r="4.7"/><circle cx="1800.3" cy="459.9" r="4.7"/><circle cx="1798.1" cy="458.5" r="4.7"/><circle cx="1788.5" cy="457.5" r="4.7"/><circle cx="1799.4" cy="451.1" r="4.7"/><circle cx="2075.2" cy="450.3" r="4.7"/><circle cx="2082" cy="460" r="4.7"/><circle cx="2076.1" cy="461.1" r="4.7"/><circle cx="2079.1" cy="461.9" r="4.7"/><circle cx="2074.8" cy="458.8" r="4.7"/><circle cx="2078.9" cy="454.2" r="4.7"/><circle cx="2078.8" cy="458.7" r="4.7"/><circle cx="2074.3" cy="458.9" r="4.7"/><circle cx="2082" cy="453.4" r="4.7"/><circle cx="2076.2" cy="456.3" r="4.7"/><circle cx="2076.3" cy="460.1" r="4.7"/><circle cx="2077.5" cy="458.7" r="4.7"/><circle cx="1654" cy="454.7" r="4.7"/><circle cx="1670" cy="449.9" r="4.7"/><circle cx="1675" cy="459.6" r="4.7"/><circle cx="1680" cy="450.8" r="4.7"/><circle cx="1702" cy="461.8" r="4.7"/><circle cx="1720" cy="455.7" r="4.7"/><circle cx="1728" cy="461.3" r="4.7"/><circle cx="1735" cy="458" r="4.7"/><circle cx="1755" cy="453.4" r="4.7"/><circle cx="1765" cy="461.4" r="4.7"/><circle cx="1775" cy="457.6" r="4.7"/><circle cx="1790" cy="453.3" r="4.7"/><circle cx="1800" cy="455" r="4.7"/><circle cx="1955.5" cy="493.1" r="4.7"/><circle cx="1959.7" cy="481.9" r="4.7"/><circle cx="2049.1" cy="482.4" r="4.7"/><circle cx="1845.6" cy="482.6" r="4.7"/><circle cx="1828.3" cy="494.2" r="4.7"/><circle cx="1984.4" cy="493.3" r="4.7"/><circle cx="1821" cy="481.2" r="4.7"/><circle cx="1957" cy="481.7" r="4.7"/><circle cx="2040.3" cy="493.7" r="4.7"/><circle cx="1816.9" cy="493.9" r="4.7"/><circle cx="2073.3" cy="482.1" r="4.7"/><circle cx="1842.5" cy="493.7" r="4.7"/><circle cx="1911.3" cy="494.8" r="4.7"/><circle cx="1814.3" cy="482.5" r="4.7"/><circle cx="2031.7" cy="482.1" r="4.7"/><circle cx="1994" cy="482.7" r="4.7"/><circle cx="1866.9" cy="494.6" r="4.7"/><circle cx="1966.6" cy="483" r="4.7"/><circle cx="1810.1" cy="483" r="4.7"/><circle cx="1856.3" cy="481.9" r="4.7"/><circle cx="1958" cy="483.3" r="4.7"/><circle cx="1972.5" cy="493.8" r="4.7"/><circle cx="1982.6" cy="493.9" r="4.7"/><circle cx="1925.6" cy="494.4" r="4.7"/><circle cx="1816.8" cy="481.9" r="4.7"/><circle cx="2017.2" cy="495.1" r="4.7"/><circle cx="2058.6" cy="493.2" r="4.7"/><circle cx="1931.5" cy="481.7" r="4.7"/><circle cx="1977" cy="483.2" r="4.7"/><circle cx="1824.8" cy="481.8" r="4.7"/><circle cx="2054" cy="493.8" r="4.7"/><circle cx="2072.8" cy="493.8" r="4.7"/><circle cx="1863.5" cy="493.7" r="4.7"/><circle cx="1945" cy="481.1" r="4.7"/><circle cx="2026.4" cy="495" r="4.7"/><circle cx="1867" cy="495.1" r="4.7"/><circle cx="2006.1" cy="494.5" r="4.7"/><circle cx="1997.3" cy="494.4" r="4.7"/><circle cx="1853.1" cy="494.3" r="4.7"/><circle cx="2018.7" cy="481.6" r="4.7"/><circle cx="1900.1" cy="483.3" r="4.7"/><circle cx="2049.2" cy="493.7" r="4.7"/><circle cx="1959" cy="495.2" r="4.7"/><circle cx="1859" cy="494" r="4.7"/><circle cx="1858.3" cy="483.2" r="4.7"/><circle cx="1961.8" cy="483" r="4.7"/><circle cx="1887.6" cy="482.4" r="4.7"/><circle cx="1825.1" cy="494.2" r="4.7"/><circle cx="1854.9" cy="494.1" r="4.7"/><circle cx="1936.4" cy="494.7" r="4.7"/><circle cx="1927.6" cy="483" r="4.7"/><circle cx="1957.6" cy="494.9" r="4.7"/><circle cx="1861.2" cy="493.6" r="4.7"/><circle cx="1840.3" cy="481.7" r="4.7"/><circle cx="1851.8" cy="481.8" r="4.7"/><circle cx="2011" cy="493.6" r="4.7"/><circle cx="1849" cy="482.3" r="4.7"/><circle cx="1915.9" cy="495.2" r="4.7"/><circle cx="1839.3" cy="494.7" r="4.7"/><circle cx="1834.6" cy="481.3" r="4.7"/><circle cx="1974.1" cy="493.7" r="4.7"/><circle cx="1871.1" cy="494.8" r="4.7"/><circle cx="2036.8" cy="481.5" r="4.7"/><circle cx="2028.8" cy="481.9" r="4.7"/><circle cx="1838.8" cy="494.7" r="4.7"/><circle cx="2063.5" cy="482" r="4.7"/><circle cx="2000.9" cy="494.7" r="4.7"/><circle cx="2071.2" cy="482.4" r="4.7"/><circle cx="1967.4" cy="482.8" r="4.7"/><circle cx="1889.6" cy="493.2" r="4.7"/><circle cx="2031.9" cy="482.1" r="4.7"/><circle cx="1868.4" cy="493.4" r="4.7"/><circle cx="1946.2" cy="483.2" r="4.7"/><circle cx="1840.2" cy="493.4" r="4.7"/><circle cx="1922.3" cy="493.4" r="4.7"/><circle cx="2005.1" cy="494.3" r="4.7"/><circle cx="1886.4" cy="481.3" r="4.7"/><circle cx="1882.3" cy="494.7" r="4.7"/><circle cx="2034.4" cy="494.3" r="4.7"/><circle cx="1965.4" cy="494" r="4.7"/><circle cx="2047.9" cy="481.2" r="4.7"/><circle cx="2013.8" cy="494.9" r="4.7"/><circle cx="1946.1" cy="493.4" r="4.7"/><circle cx="1827.1" cy="494" r="4.7"/><circle cx="1878.9" cy="493.5" r="4.7"/><circle cx="1962.5" cy="493.1" r="4.7"/><circle cx="1947.4" cy="493.4" r="4.7"/><circle cx="2051.6" cy="494.9" r="4.7"/><circle cx="1755.5" cy="484.8" r="4.7"/><circle cx="1794.6" cy="487.9" r="4.7"/><circle cx="1800.3" cy="483.2" r="4.7"/><circle cx="1789.9" cy="487.3" r="4.7"/><circle cx="1800.3" cy="490.7" r="4.7"/><circle cx="1736.2" cy="494.8" r="4.7"/><circle cx="1741.4" cy="485.3" r="4.7"/><circle cx="1738.9" cy="483.9" r="4.7"/><circle cx="1803" cy="487.6" r="4.7"/><circle cx="1745.1" cy="495.1" r="4.7"/><circle cx="1759.1" cy="486.5" r="4.7"/><circle cx="1736.7" cy="482.3" r="4.7"/><circle cx="1761.4" cy="493.3" r="4.7"/><circle cx="1752.7" cy="490.8" r="4.7"/><circle cx="1743" cy="485.5" r="4.7"/><circle cx="1802" cy="493.2" r="4.7"/><circle cx="1802.1" cy="483.7" r="4.7"/><circle cx="1799.1" cy="484.7" r="4.7"/><circle cx="1745.8" cy="489.2" r="4.7"/><circle cx="1791.8" cy="485" r="4.7"/><circle cx="1801.4" cy="489.7" r="4.7"/><circle cx="1795.6" cy="483.3" r="4.7"/><circle cx="1791.3" cy="494.4" r="4.7"/><circle cx="1792.2" cy="492.9" r="4.7"/><circle cx="1765.2" cy="492.8" r="4.7"/><circle cx="1788.3" cy="494" r="4.7"/><circle cx="1795.4" cy="489.3" r="4.7"/><circle cx="1800.5" cy="486.7" r="4.7"/><circle cx="1798.8" cy="492" r="4.7"/><circle cx="1784.1" cy="491.7" r="4.7"/><circle cx="1741.9" cy="483.2" r="4.7"/><circle cx="1736.8" cy="487.3" r="4.7"/><circle cx="1802.8" cy="493.8" r="4.7"/><circle cx="1753.6" cy="485.9" r="4.7"/><circle cx="1765.8" cy="493.9" r="4.7"/><circle cx="1777.4" cy="492.2" r="4.7"/><circle cx="1760.1" cy="493.2" r="4.7"/><circle cx="1796.1" cy="482.8" r="4.7"/><circle cx="1776.8" cy="489.2" r="4.7"/><circle cx="1753.8" cy="494.6" r="4.7"/><circle cx="1784.9" cy="492.6" r="4.7"/><circle cx="1785.1" cy="483.3" r="4.7"/><circle cx="1738.3" cy="482.9" r="4.7"/><circle cx="1747.8" cy="494.9" r="4.7"/><circle cx="1778.6" cy="489.9" r="4.7"/><circle cx="1800.8" cy="494.6" r="4.7"/><circle cx="1763.9" cy="495" r="4.7"/><circle cx="1801.1" cy="489" r="4.7"/><circle cx="1762.6" cy="493" r="4.7"/><circle cx="1801.1" cy="492" r="4.7"/><circle cx="1771.2" cy="482.2" r="4.7"/><circle cx="1799.4" cy="491.8" r="4.7"/><circle cx="1778.6" cy="486.4" r="4.7"/><circle cx="1790.5" cy="486.2" r="4.7"/><circle cx="1736.7" cy="486.4" r="4.7"/><circle cx="1779.9" cy="486.9" r="4.7"/><circle cx="1768.4" cy="485.6" r="4.7"/><circle cx="1798.3" cy="484.2" r="4.7"/><circle cx="1766.6" cy="491.4" r="4.7"/><circle cx="1735.3" cy="490.6" r="4.7"/><circle cx="1798.8" cy="481.9" r="4.7"/><circle cx="1802.9" cy="495" r="4.7"/><circle cx="1747.1" cy="488.7" r="4.7"/><circle cx="1797" cy="492" r="4.7"/><circle cx="1802.7" cy="483.8" r="4.7"/><circle cx="1793" cy="481.7" r="4.7"/><circle cx="1784.9" cy="483.5" r="4.7"/><circle cx="1802.7" cy="489.9" r="4.7"/><circle cx="1799.1" cy="492.9" r="4.7"/><circle cx="1743.3" cy="482.9" r="4.7"/><circle cx="1801.8" cy="486.6" r="4.7"/><circle cx="1761.6" cy="491" r="4.7"/><circle cx="1782.4" cy="482.2" r="4.7"/><circle cx="1782.7" cy="483.9" r="4.7"/><circle cx="1798.8" cy="484.1" r="4.7"/><circle cx="1748.4" cy="486.5" r="4.7"/><circle cx="1798" cy="491.8" r="4.7"/><circle cx="1792.1" cy="489" r="4.7"/><circle cx="1802.4" cy="487.6" r="4.7"/><circle cx="1796.6" cy="493.4" r="4.7"/><circle cx="1798.5" cy="488" r="4.7"/><circle cx="1779.2" cy="491" r="4.7"/><circle cx="1797.5" cy="485.3" r="4.7"/><circle cx="1802.8" cy="493.7" r="4.7"/><circle cx="1786.1" cy="494.9" r="4.7"/><circle cx="1786.7" cy="489.3" r="4.7"/><circle cx="1747.3" cy="482.1" r="4.7"/><circle cx="2086.2" cy="491.9" r="4.7"/><circle cx="2084.5" cy="487.9" r="4.7"/><circle cx="2080.7" cy="488" r="4.7"/><circle cx="2087.7" cy="483.8" r="4.7"/><circle cx="2088.2" cy="494.9" r="4.7"/><circle cx="2085.7" cy="485.3" r="4.7"/><circle cx="2090.8" cy="486" r="4.7"/><circle cx="2083.9" cy="485.3" r="4.7"/><circle cx="2079.4" cy="491.8" r="4.7"/><circle cx="2089" cy="492.2" r="4.7"/><circle cx="2091.7" cy="486.3" r="4.7"/><circle cx="2079" cy="490.8" r="4.7"/><circle cx="2085.7" cy="485.9" r="4.7"/><circle cx="2085.3" cy="494.7" r="4.7"/><circle cx="2079.4" cy="490" r="4.7"/><circle cx="2085.7" cy="484.2" r="4.7"/><circle cx="2082.1" cy="483.6" r="4.7"/><circle cx="1675" cy="489.9" r="4.7"/><circle cx="1681" cy="490.5" r="4.7"/><circle cx="1715" cy="487.3" r="4.7"/><circle cx="1735" cy="483.1" r="4.7"/><circle cx="1737" cy="490.1" r="4.7"/><circle cx="1752" cy="494.3" r="4.7"/><circle cx="1760" cy="492.7" r="4.7"/><circle cx="1770" cy="483.4" r="4.7"/><circle cx="1894.7" cy="513.2" r="4.7"/><circle cx="1843.6" cy="514.3" r="4.7"/><circle cx="1992" cy="524.8" r="4.7"/><circle cx="1964.5" cy="525.3" r="4.7"/><circle cx="2052" cy="513.5" r="4.7"/><circle cx="1936.9" cy="526.7" r="4.7"/><circle cx="2021.4" cy="525.2" r="4.7"/><circle cx="1928.3" cy="514" r="4.7"/><circle cx="2008.8" cy="514.1" r="4.7"/><circle cx="1825.2" cy="514.1" r="4.7"/><circle cx="1869.8" cy="513" r="4.7"/><circle cx="1957.7" cy="514.4" r="4.7"/><circle cx="2056.9" cy="524.4" r="4.7"/><circle cx="1820.6" cy="526" r="4.7"/><circle cx="2057.4" cy="513.4" r="4.7"/><circle cx="1849.3" cy="514" r="4.7"/><circle cx="1979.7" cy="524.8" r="4.7"/><circle cx="2048.4" cy="513.7" r="4.7"/><circle cx="1895.3" cy="526.6" r="4.7"/><circle cx="2060.9" cy="513.6" r="4.7"/><circle cx="1827.5" cy="513.5" r="4.7"/><circle cx="1847.8" cy="514.4" r="4.7"/><circle cx="1980" cy="524.9" r="4.7"/><circle cx="2059.6" cy="514.6" r="4.7"/><circle cx="2018.4" cy="514.3" r="4.7"/><circle cx="1917.3" cy="512.7" r="4.7"/><circle cx="1923.8" cy="526.6" r="4.7"/><circle cx="1981" cy="514.6" r="4.7"/><circle cx="2005.4" cy="524.5" r="4.7"/><circle cx="1927.8" cy="525.9" r="4.7"/><circle cx="2052.5" cy="512.9" r="4.7"/><circle cx="1982.4" cy="513.8" r="4.7"/><circle cx="1986.2" cy="514.5" r="4.7"/><circle cx="2004.2" cy="513" r="4.7"/><circle cx="1868.2" cy="513.8" r="4.7"/><circle cx="1974.5" cy="513.9" r="4.7"/><circle cx="1909.6" cy="525.6" r="4.7"/><circle cx="1866.1" cy="512.8" r="4.7"/><circle cx="2075.3" cy="524.7" r="4.7"/><circle cx="1934.7" cy="526.1" r="4.7"/><circle cx="1955.1" cy="526.1" r="4.7"/><circle cx="2030.6" cy="512.9" r="4.7"/><circle cx="2026.6" cy="526.1" r="4.7"/><circle cx="1959.1" cy="512.7" r="4.7"/><circle cx="1937.7" cy="524.5" r="4.7"/><circle cx="1979.2" cy="512.9" r="4.7"/><circle cx="1904.9" cy="513.9" r="4.7"/><circle cx="2032.6" cy="514.3" r="4.7"/><circle cx="1884.9" cy="513.1" r="4.7"/><circle cx="1931.7" cy="513.9" r="4.7"/><circle cx="1843" cy="514" r="4.7"/><circle cx="2013.6" cy="513.2" r="4.7"/><circle cx="1974" cy="513.1" r="4.7"/><circle cx="1913.4" cy="513.3" r="4.7"/><circle cx="1940.4" cy="513" r="4.7"/><circle cx="1997.6" cy="525" r="4.7"/><circle cx="1965" cy="514.4" r="4.7"/><circle cx="1897.8" cy="514.8" r="4.7"/><circle cx="1987.7" cy="525.6" r="4.7"/><circle cx="2012.3" cy="513.2" r="4.7"/><circle cx="2054.9" cy="513.3" r="4.7"/><circle cx="1881.3" cy="513.1" r="4.7"/><circle cx="1828.2" cy="525" r="4.7"/><circle cx="2009.8" cy="513.4" r="4.7"/><circle cx="1884.2" cy="512.8" r="4.7"/><circle cx="1920.5" cy="512.6" r="4.7"/><circle cx="2037.5" cy="525.2" r="4.7"/><circle cx="2040.2" cy="526.2" r="4.7"/><circle cx="2027" cy="514.7" r="4.7"/><circle cx="2025" cy="514.5" r="4.7"/><circle cx="2009.3" cy="513" r="4.7"/><circle cx="1925" cy="513.4" r="4.7"/><circle cx="1953.4" cy="514.2" r="4.7"/><circle cx="1853.4" cy="525.9" r="4.7"/><circle cx="1896.8" cy="525.3" r="4.7"/><circle cx="2023.3" cy="513.9" r="4.7"/><circle cx="2046.6" cy="513.7" r="4.7"/><circle cx="2070" cy="525.5" r="4.7"/><circle cx="1998" cy="524.8" r="4.7"/><circle cx="2008" cy="512.7" r="4.7"/><circle cx="1923.3" cy="526.3" r="4.7"/><circle cx="1887.8" cy="524.4" r="4.7"/><circle cx="1820.4" cy="520.9" r="4.7"/><circle cx="1751.7" cy="513.7" r="4.7"/><circle cx="1814" cy="518.7" r="4.7"/><circle cx="1805.8" cy="521.4" r="4.7"/><circle cx="1798.9" cy="513.5" r="4.7"/><circle cx="1818" cy="525.7" r="4.7"/><circle cx="1765.2" cy="525" r="4.7"/><circle cx="1766" cy="513.1" r="4.7"/><circle cx="1760.4" cy="518.6" r="4.7"/><circle cx="1817.2" cy="521.4" r="4.7"/><circle cx="1750.5" cy="523.5" r="4.7"/><circle cx="1797.5" cy="513.6" r="4.7"/><circle cx="1774.2" cy="513.1" r="4.7"/><circle cx="1820.3" cy="524" r="4.7"/><circle cx="1818.7" cy="521.1" r="4.7"/><circle cx="1769.3" cy="525.4" r="4.7"/><circle cx="1800.8" cy="513.2" r="4.7"/><circle cx="1793.8" cy="520.5" r="4.7"/><circle cx="1791.7" cy="523.1" r="4.7"/><circle cx="1802.5" cy="521.9" r="4.7"/><circle cx="1800.5" cy="521.1" r="4.7"/><circle cx="1793.1" cy="525.7" r="4.7"/><circle cx="1795.4" cy="519.4" r="4.7"/><circle cx="1812.2" cy="517.1" r="4.7"/><circle cx="1791.2" cy="520.4" r="4.7"/><circle cx="1804" cy="516.7" r="4.7"/><circle cx="1816.1" cy="524.5" r="4.7"/><circle cx="1806.2" cy="513.1" r="4.7"/><circle cx="1821" cy="519.6" r="4.7"/><circle cx="1820.8" cy="518.4" r="4.7"/><circle cx="1798.3" cy="517" r="4.7"/><circle cx="1755.5" cy="514" r="4.7"/><circle cx="1754.3" cy="513.8" r="4.7"/><circle cx="1820.9" cy="521.4" r="4.7"/><circle cx="1817.6" cy="524.8" r="4.7"/><circle cx="1767.6" cy="517.2" r="4.7"/><circle cx="1774.7" cy="514.4" r="4.7"/><circle cx="1771.1" cy="521" r="4.7"/><circle cx="1812.4" cy="520.1" r="4.7"/><circle cx="1764.3" cy="522.8" r="4.7"/><circle cx="1766.5" cy="515.9" r="4.7"/><circle cx="1799.1" cy="523.3" r="4.7"/><circle cx="1786.9" cy="524.6" r="4.7"/><circle cx="1790.1" cy="519.4" r="4.7"/><circle cx="1819.2" cy="517.9" r="4.7"/><circle cx="1813.2" cy="520.4" r="4.7"/><circle cx="1787.3" cy="526.4" r="4.7"/><circle cx="1811.8" cy="513.9" r="4.7"/><circle cx="1774.3" cy="514.3" r="4.7"/><circle cx="1812.1" cy="513.3" r="4.7"/><circle cx="1792" cy="523.7" r="4.7"/><circle cx="1791.8" cy="523.2" r="4.7"/><circle cx="1760.6" cy="516.6" r="4.7"/><circle cx="1817.9" cy="525.1" r="4.7"/><circle cx="1764.6" cy="517.1" r="4.7"/><circle cx="1797.8" cy="518.2" r="4.7"/><circle cx="1813.3" cy="517.8" r="4.7"/><circle cx="1811.6" cy="514.3" r="4.7"/><circle cx="1787.6" cy="515.1" r="4.7"/><circle cx="1794.7" cy="525.7" r="4.7"/><circle cx="1804.5" cy="517.4" r="4.7"/><circle cx="1762.9" cy="514.7" r="4.7"/><circle cx="1784.9" cy="526.4" r="4.7"/><circle cx="1792.5" cy="514.7" r="4.7"/><circle cx="1805.6" cy="512.9" r="4.7"/><circle cx="1808.5" cy="514.7" r="4.7"/><circle cx="1751.2" cy="521.3" r="4.7"/><circle cx="1792.2" cy="512.9" r="4.7"/><circle cx="1821" cy="524.3" r="4.7"/><circle cx="1793.4" cy="526.4" r="4.7"/><circle cx="1763.1" cy="522.2" r="4.7"/><circle cx="1810.6" cy="517.1" r="4.7"/><circle cx="1818.9" cy="526.4" r="4.7"/><circle cx="1760.4" cy="525.2" r="4.7"/><circle cx="1820.4" cy="523.1" r="4.7"/><circle cx="1763.2" cy="518.9" r="4.7"/><circle cx="1764.1" cy="521" r="4.7"/><circle cx="1760.1" cy="523" r="4.7"/><circle cx="1818.6" cy="519.6" r="4.7"/><circle cx="1793.4" cy="517.7" r="4.7"/><circle cx="1756.5" cy="524" r="4.7"/><circle cx="1780.1" cy="522.8" r="4.7"/><circle cx="1804" cy="514.5" r="4.7"/><circle cx="1787.5" cy="519.2" r="4.7"/><circle cx="1783.8" cy="524.8" r="4.7"/><circle cx="1794.6" cy="515.7" r="4.7"/><circle cx="1792.2" cy="522.8" r="4.7"/><circle cx="1820.3" cy="524.8" r="4.7"/><circle cx="1813.1" cy="514.9" r="4.7"/><circle cx="1810.8" cy="519.8" r="4.7"/><circle cx="1793.7" cy="526.5" r="4.7"/><circle cx="2085.2" cy="513.4" r="4.7"/><circle cx="2088.3" cy="518.9" r="4.7"/><circle cx="2091.3" cy="515.8" r="4.7"/><circle cx="2088.2" cy="518" r="4.7"/><circle cx="2089.5" cy="524.3" r="4.7"/><circle cx="2079" cy="519.2" r="4.7"/><circle cx="2090.7" cy="526.3" r="4.7"/><circle cx="2079.2" cy="514.3" r="4.7"/><circle cx="2079" cy="515" r="4.7"/><circle cx="2088.9" cy="523.6" r="4.7"/><circle cx="2080.7" cy="513.9" r="4.7"/><circle cx="2087.8" cy="518" r="4.7"/><circle cx="2087.5" cy="524.6" r="4.7"/><circle cx="2084" cy="524.8" r="4.7"/><circle cx="2079.9" cy="517.8" r="4.7"/><circle cx="2079.9" cy="521" r="4.7"/><circle cx="2089.2" cy="519.2" r="4.7"/><circle cx="1663.8" cy="515.4" r="4.7"/><circle cx="1701" cy="518.8" r="4.7"/><circle cx="1726" cy="515.1" r="4.7"/><circle cx="1735" cy="517.6" r="4.7"/><circle cx="1742" cy="518.8" r="4.7"/><circle cx="1748" cy="525.1" r="4.7"/><circle cx="1770" cy="519" r="4.7"/><circle cx="1785" cy="523.6" r="4.7"/><circle cx="1795" cy="518.6" r="4.7"/><circle cx="2095" cy="518.2" r="4.7"/><circle cx="2103.5" cy="521.7" r="4.7"/><circle cx="2014.7" cy="545.9" r="4.7"/><circle cx="1849" cy="555.8" r="4.7"/><circle cx="1990.4" cy="545.2" r="4.7"/><circle cx="2062.8" cy="557.3" r="4.7"/><circle cx="1933.7" cy="545.5" r="4.7"/><circle cx="1975.8" cy="557.2" r="4.7"/><circle cx="1910.2" cy="544" r="4.7"/><circle cx="2003.9" cy="544.7" r="4.7"/><circle cx="1808.3" cy="556.9" r="4.7"/><circle cx="1856.6" cy="557.9" r="4.7"/><circle cx="2014.5" cy="544.2" r="4.7"/><circle cx="1887.1" cy="546.1" r="4.7"/><circle cx="1910.6" cy="557.5" r="4.7"/><circle cx="1945.4" cy="556.1" r="4.7"/><circle cx="1900.5" cy="545.4" r="4.7"/><circle cx="1822.4" cy="544.6" r="4.7"/><circle cx="1940.8" cy="557.3" r="4.7"/><circle cx="2073" cy="544.6" r="4.7"/><circle cx="1917.8" cy="543.9" r="4.7"/><circle cx="1948.9" cy="545.4" r="4.7"/><circle cx="1842.8" cy="544.4" r="4.7"/><circle cx="1946" cy="545.3" r="4.7"/><circle cx="1990.8" cy="558" r="4.7"/><circle cx="2062.9" cy="545.5" r="4.7"/><circle cx="1814.1" cy="545.4" r="4.7"/><circle cx="2072.9" cy="544" r="4.7"/><circle cx="1916.4" cy="557.5" r="4.7"/><circle cx="1934.3" cy="544.6" r="4.7"/><circle cx="1954.9" cy="544.3" r="4.7"/><circle cx="1965.3" cy="545.7" r="4.7"/><circle cx="1988.6" cy="545.9" r="4.7"/><circle cx="2035.4" cy="544.5" r="4.7"/><circle cx="2010" cy="556.2" r="4.7"/><circle cx="2051" cy="556.9" r="4.7"/><circle cx="1808.4" cy="545.4" r="4.7"/><circle cx="1900.2" cy="545.7" r="4.7"/><circle cx="1984.6" cy="544.1" r="4.7"/><circle cx="1873.1" cy="556.9" r="4.7"/><circle cx="2016.6" cy="546" r="4.7"/><circle cx="1899.4" cy="544.2" r="4.7"/><circle cx="1951.2" cy="557.4" r="4.7"/><circle cx="1928.7" cy="556.1" r="4.7"/><circle cx="2067" cy="556.1" r="4.7"/><circle cx="2034.9" cy="557.6" r="4.7"/><circle cx="1958" cy="556.5" r="4.7"/><circle cx="1990.5" cy="545.4" r="4.7"/><circle cx="1944.3" cy="556.2" r="4.7"/><circle cx="2007.2" cy="543.9" r="4.7"/><circle cx="1852.7" cy="558.1" r="4.7"/><circle cx="1848.8" cy="544.2" r="4.7"/><circle cx="1841.1" cy="546" r="4.7"/><circle cx="1811.9" cy="545.4" r="4.7"/><circle cx="2059.6" cy="544.4" r="4.7"/><circle cx="1962.7" cy="545.4" r="4.7"/><circle cx="2036" cy="545.9" r="4.7"/><circle cx="1874.8" cy="544.2" r="4.7"/><circle cx="1891.7" cy="557.9" r="4.7"/><circle cx="1926" cy="557.4" r="4.7"/><circle cx="1911.4" cy="544.7" r="4.7"/><circle cx="1989.8" cy="545" r="4.7"/><circle cx="1825.1" cy="544.7" r="4.7"/><circle cx="2008.1" cy="544.8" r="4.7"/><circle cx="1890.9" cy="557.3" r="4.7"/><circle cx="2057.3" cy="545.9" r="4.7"/><circle cx="2063.1" cy="556.4" r="4.7"/><circle cx="2000.4" cy="556" r="4.7"/><circle cx="1890.5" cy="545" r="4.7"/><circle cx="1923.4" cy="557.4" r="4.7"/><circle cx="2044.2" cy="545.9" r="4.7"/><circle cx="1981.9" cy="556.5" r="4.7"/><circle cx="2062.7" cy="555.9" r="4.7"/><circle cx="1823.5" cy="544.6" r="4.7"/><circle cx="2069.5" cy="556.5" r="4.7"/><circle cx="1831.1" cy="557.5" r="4.7"/><circle cx="1891" cy="545.9" r="4.7"/><circle cx="1969.3" cy="556.5" r="4.7"/><circle cx="1812.5" cy="557.2" r="4.7"/><circle cx="1887" cy="544.4" r="4.7"/><circle cx="1932.1" cy="544.2" r="4.7"/><circle cx="1902.6" cy="556.3" r="4.7"/><circle cx="1850.7" cy="545.3" r="4.7"/><circle cx="1959.3" cy="545.1" r="4.7"/><circle cx="2008.6" cy="545.7" r="4.7"/><circle cx="2052.6" cy="557.6" r="4.7"/><circle cx="2019" cy="557.4" r="4.7"/><circle cx="1990.7" cy="557" r="4.7"/><circle cx="2005.5" cy="544" r="4.7"/><circle cx="1800.7" cy="554.6" r="4.7"/><circle cx="1727.4" cy="556.2" r="4.7"/><circle cx="1799.5" cy="556.5" r="4.7"/><circle cx="1803" cy="548.3" r="4.7"/><circle cx="1783.2" cy="550.2" r="4.7"/><circle cx="1802.2" cy="548.5" r="4.7"/><circle cx="1723.3" cy="551" r="4.7"/><circle cx="1787" cy="546.9" r="4.7"/><circle cx="1802.1" cy="548.1" r="4.7"/><circle cx="1802.6" cy="556.4" r="4.7"/><circle cx="1774.8" cy="554.4" r="4.7"/><circle cx="1798" cy="548" r="4.7"/><circle cx="1739.3" cy="555" r="4.7"/><circle cx="1770.8" cy="551.8" r="4.7"/><circle cx="1792.5" cy="550.6" r="4.7"/><circle cx="1802.5" cy="550.3" r="4.7"/><circle cx="1770.4" cy="549.4" r="4.7"/><circle cx="1751.8" cy="557.3" r="4.7"/><circle cx="1757.8" cy="553.1" r="4.7"/><circle cx="1743.1" cy="551.4" r="4.7"/><circle cx="1729.8" cy="557.2" r="4.7"/><circle cx="1734.5" cy="551.3" r="4.7"/><circle cx="1801.4" cy="550.8" r="4.7"/><circle cx="1772" cy="549.9" r="4.7"/><circle cx="1803" cy="557" r="4.7"/><circle cx="1728.7" cy="548" r="4.7"/><circle cx="1765.7" cy="549.5" r="4.7"/><circle cx="1802.7" cy="553.7" r="4.7"/><circle cx="1795.5" cy="544.2" r="4.7"/><circle cx="1803" cy="546.1" r="4.7"/><circle cx="1713.2" cy="557.7" r="4.7"/><circle cx="1779.7" cy="546.8" r="4.7"/><circle cx="1718.1" cy="549.3" r="4.7"/><circle cx="1738.4" cy="550.1" r="4.7"/><circle cx="1752.8" cy="548.1" r="4.7"/><circle cx="1791.6" cy="555.1" r="4.7"/><circle cx="1772" cy="554.7" r="4.7"/><circle cx="1783.7" cy="550" r="4.7"/><circle cx="1767.2" cy="554.7" r="4.7"/><circle cx="1803" cy="552.2" r="4.7"/><circle cx="1710.9" cy="550.3" r="4.7"/><circle cx="1782.4" cy="546" r="4.7"/><circle cx="1778.2" cy="546.7" r="4.7"/><circle cx="1782.5" cy="548.1" r="4.7"/><circle cx="1802.4" cy="549.3" r="4.7"/><circle cx="1713.9" cy="556.6" r="4.7"/><circle cx="1786.6" cy="548.9" r="4.7"/><circle cx="1802.3" cy="549.7" r="4.7"/><circle cx="1793.3" cy="548.4" r="4.7"/><circle cx="1746.7" cy="550.5" r="4.7"/><circle cx="1799.6" cy="552.1" r="4.7"/><circle cx="1760.9" cy="548" r="4.7"/><circle cx="1743.4" cy="544.3" r="4.7"/><circle cx="1802.7" cy="551.8" r="4.7"/><circle cx="1802.3" cy="546.3" r="4.7"/><circle cx="1794" cy="547.4" r="4.7"/><circle cx="1743" cy="553" r="4.7"/><circle cx="1796.9" cy="552.1" r="4.7"/><circle cx="1755.5" cy="551.2" r="4.7"/><circle cx="1786.7" cy="547.5" r="4.7"/><circle cx="1793.9" cy="550.1" r="4.7"/><circle cx="1797.5" cy="551.6" r="4.7"/><circle cx="1731.3" cy="547.8" r="4.7"/><circle cx="1746.1" cy="552.2" r="4.7"/><circle cx="1722.5" cy="555.5" r="4.7"/><circle cx="1760" cy="546.3" r="4.7"/><circle cx="1734.3" cy="548.8" r="4.7"/><circle cx="1767.8" cy="553.7" r="4.7"/><circle cx="1801.3" cy="557.1" r="4.7"/><circle cx="1802.9" cy="548.9" r="4.7"/><circle cx="1790.8" cy="548.2" r="4.7"/><circle cx="1750.4" cy="555.5" r="4.7"/><circle cx="1718" cy="549.2" r="4.7"/><circle cx="1772.1" cy="554.4" r="4.7"/><circle cx="1771.7" cy="551.6" r="4.7"/><circle cx="1762.1" cy="556.1" r="4.7"/><circle cx="1736" cy="551.5" r="4.7"/><circle cx="1752.4" cy="553.7" r="4.7"/><circle cx="1802.6" cy="553.5" r="4.7"/><circle cx="1776.6" cy="546.7" r="4.7"/><circle cx="1757" cy="557.6" r="4.7"/><circle cx="1746.5" cy="546.8" r="4.7"/><circle cx="1790.9" cy="550" r="4.7"/><circle cx="1776.7" cy="546.6" r="4.7"/><circle cx="1714.2" cy="553.6" r="4.7"/><circle cx="1802.4" cy="548.7" r="4.7"/><circle cx="1715.2" cy="548.2" r="4.7"/><circle cx="1796" cy="557.6" r="4.7"/><circle cx="1731.8" cy="547.9" r="4.7"/><circle cx="1801.6" cy="557.3" r="4.7"/><circle cx="1714.9" cy="549.4" r="4.7"/><circle cx="1741.2" cy="551" r="4.7"/><circle cx="1792.6" cy="548.9" r="4.7"/><circle cx="1774.3" cy="548.7" r="4.7"/><circle cx="1753.4" cy="550.2" r="4.7"/><circle cx="1728" cy="551.4" r="4.7"/><circle cx="1743.8" cy="556.2" r="4.7"/><circle cx="1736" cy="554.3" r="4.7"/><circle cx="1787.5" cy="554.7" r="4.7"/><circle cx="1801.6" cy="548.4" r="4.7"/><circle cx="1802.9" cy="549.2" r="4.7"/><circle cx="1775.4" cy="557" r="4.7"/><circle cx="1774" cy="553.4" r="4.7"/><circle cx="1794.3" cy="554.7" r="4.7"/><circle cx="1803" cy="551.6" r="4.7"/><circle cx="1731.2" cy="552.2" r="4.7"/><circle cx="1800.8" cy="549.5" r="4.7"/><circle cx="1765.7" cy="545" r="4.7"/><circle cx="1795.7" cy="551.3" r="4.7"/><circle cx="1800" cy="550.2" r="4.7"/><circle cx="1756.5" cy="547.3" r="4.7"/><circle cx="1775.7" cy="551.4" r="4.7"/><circle cx="1801.9" cy="553.6" r="4.7"/><circle cx="1744.2" cy="552.9" r="4.7"/><circle cx="1754.5" cy="555.6" r="4.7"/><circle cx="1802.8" cy="552.2" r="4.7"/><circle cx="1794.4" cy="546.4" r="4.7"/><circle cx="1779.2" cy="547.1" r="4.7"/><circle cx="1789.2" cy="551.4" r="4.7"/><circle cx="1782.5" cy="556.9" r="4.7"/><circle cx="2087.6" cy="544.8" r="4.7"/><circle cx="2088.8" cy="545.3" r="4.7"/><circle cx="2077.6" cy="550.8" r="4.7"/><circle cx="2081.9" cy="546.9" r="4.7"/><circle cx="2088.4" cy="551.6" r="4.7"/><circle cx="2077" cy="554" r="4.7"/><circle cx="2077.6" cy="545" r="4.7"/><circle cx="2087.6" cy="557.1" r="4.7"/><circle cx="2087.9" cy="556.8" r="4.7"/><circle cx="2078.6" cy="547.3" r="4.7"/><circle cx="2082.3" cy="544.3" r="4.7"/><circle cx="2079.2" cy="547.2" r="4.7"/><circle cx="2077" cy="555.9" r="4.7"/><circle cx="2083.9" cy="554.6" r="4.7"/><circle cx="2078.1" cy="555.2" r="4.7"/><circle cx="1602" cy="553.3" r="4.7"/><circle cx="1639.7" cy="557.6" r="4.7"/><circle cx="1671" cy="547.3" r="4.7"/><circle cx="1706" cy="550.5" r="4.7"/><circle cx="1710" cy="557.2" r="4.7"/><circle cx="1720" cy="555.7" r="4.7"/><circle cx="1725" cy="544.6" r="4.7"/><circle cx="1735" cy="556.7" r="4.7"/></g>
<path d="M1785 111.4H1903.8M1989 111.4H2064M1903.8 99.4H1989V123.4H1903.8ZM1968.3 99.4V123.4M1824.8 142.8H1921.3M1994.5 142.8H2066M1921.3 130.8H1994.5V154.8H1921.3ZM1963.3 130.8V154.8M1814 174.2H1920.4M1993 174.2H2049M1920.4 162.2H1993V186.2H1920.4ZM1954.5 162.2V186.2M1602 205.6H1761M1960.8 205.6H2070M1761 193.6H1960.8V217.6H1761ZM1891.3 193.6V217.6M1858 237H1944M2001.5 237H2078.5M1944 225H2001.5V249H1944ZM1980 225V249M1847.6 268.4H1940M2004.5 268.4H2074M1940 256.4H2004.5V280.4H1940ZM1979.5 256.4V280.4M1831 299.8H1932M2000 299.8H2087M1932 287.8H2000V311.8H1932ZM1975 287.8V311.8M1847.6 331.2H1939M2000 331.2H2088M1939 319.2H2000V343.2H1939ZM1975 319.2V343.2M1868 362.6H1953M2010.7 362.6H2074M1953 350.6H2010.7V374.6H1953ZM1990 350.6V374.6M1845.6 394H1944.5M2006.6 394H2095M1944.5 382H2006.6V406H1944.5ZM1982.8 382V406M1854 425.4H1943.3M2003.6 425.4H2085M1943.3 413.4H2003.6V437.4H1943.3ZM1980 413.4V437.4M1866 456.8H1950.8M2007.7 456.8H2076M1950.8 444.8H2007.7V468.8H1950.8ZM1988.3 444.8V468.8M1847.6 488.2H1938M1997.4 488.2H2085M1938 476.2H1997.4V500.2H1938ZM1972.4 476.2V500.2M1824.8 519.6H1930.8M2002.8 519.6H2097M1930.8 507.6H2002.8V531.6H1930.8ZM1975 507.6V531.6M1845.6 551H1938.3M2000 551H2080M1938.3 539H2000V563H1938.3ZM1977.5 539V563" fill="none" stroke="#EC7A72" stroke-width="2.3"/>
<path d="M1576.2 92.4V570H2142" fill="none" stroke="#000" stroke-width="1.9"/>
<path d="M1571.7 111.4H1576.2M1571.7 142.8H1576.2M1571.7 174.2H1576.2M1571.7 205.6H1576.2M1571.7 237H1576.2M1571.7 268.4H1576.2M1571.7 299.8H1576.2M1571.7 331.2H1576.2M1571.7 362.6H1576.2M1571.7 394H1576.2M1571.7 425.4H1576.2M1571.7 456.8H1576.2M1571.7 488.2H1576.2M1571.7 519.6H1576.2M1571.7 551H1576.2M1596.8 570V574.5M1719.5 570V574.5M1841.4 570V574.5M1962.8 570V574.5M2085.5 570V574.5" stroke="#333" stroke-width="1.6"/>
<text x="1568.2" y="116.4" font-size="13.9" text-anchor="end" fill="#4D4D4D">intergenic</text>
<text x="1568.2" y="147.8" font-size="13.9" text-anchor="end" fill="#4D4D4D">non−targeting</text>
<text x="1568.2" y="179.2" font-size="13.9" text-anchor="end" fill="#4D4D4D">non−essential</text>
<text x="1568.2" y="210.6" font-size="13.9" text-anchor="end" fill="#4D4D4D">essential</text>
<text x="1568.2" y="242" font-size="13.9" text-anchor="end" fill="#4D4D4D">MYC</text>
<text x="1568.2" y="273.4" font-size="13.9" text-anchor="end" fill="#4D4D4D">EGFR</text>
<text x="1568.2" y="304.8" font-size="13.9" text-anchor="end" fill="#4D4D4D">KRAS</text>
<text x="1568.2" y="336.2" font-size="13.9" text-anchor="end" fill="#4D4D4D">BRAF</text>
<text x="1568.2" y="367.6" font-size="13.9" text-anchor="end" fill="#4D4D4D">MAP2K2</text>
<text x="1568.2" y="399" font-size="13.9" text-anchor="end" fill="#4D4D4D">MAP2K1</text>
<text x="1568.2" y="430.4" font-size="13.9" text-anchor="end" fill="#4D4D4D">BCL2</text>
<text x="1568.2" y="461.8" font-size="13.9" text-anchor="end" fill="#4D4D4D">AKT1</text>
<text x="1568.2" y="493.2" font-size="13.9" text-anchor="end" fill="#4D4D4D">PIK3CA</text>
<text x="1568.2" y="524.6" font-size="13.9" text-anchor="end" fill="#4D4D4D">PARP2</text>
<text x="1568.2" y="556" font-size="13.9" text-anchor="end" fill="#4D4D4D">PARP1</text>
<text x="1596.8" y="587.9" font-size="13.9" text-anchor="middle" fill="#4D4D4D">−6</text>
<text x="1719.5" y="587.9" font-size="13.9" text-anchor="middle" fill="#4D4D4D">−4</text>
<text x="1841.4" y="587.9" font-size="13.9" text-anchor="middle" fill="#4D4D4D">−2</text>
<text x="1962.8" y="587.9" font-size="13.9" text-anchor="middle" fill="#4D4D4D">0</text>
<text x="2085.5" y="587.9" font-size="13.9" text-anchor="middle" fill="#4D4D4D">2</text>
<text x="1859" y="606.5" font-size="17" text-anchor="middle" fill="#000">MHH−ES−1 control vs plasmid (z−score)</text>
<text x="50" y="28.6" font-size="47" font-weight="bold" fill="#1E1E1E">a</text>
<circle cx="157.1" cy="916.8" r="7.5" fill="#3A9549"/><circle cx="175.9" cy="913.7" r="7.5" fill="#3A9549"/><circle cx="191.6" cy="917.8" r="7.5" fill="#3A9549"/><circle cx="196.7" cy="913.7" r="7.5" fill="#3A9549"/><circle cx="184" cy="932.5" r="7.5" fill="#3A9549"/><circle cx="214.4" cy="912.2" r="7.5" fill="#3A9549"/><circle cx="339.6" cy="810.8" r="7.5" fill="#3A9549"/><circle cx="398.9" cy="914.2" r="7.5" fill="#3A9549"/><circle cx="441" cy="904.6" r="7.5" fill="#3A9549"/><circle cx="453.7" cy="884.3" r="7.5" fill="#3A9549"/><circle cx="555.1" cy="879.3" r="7.5" fill="#3A9549"/><circle cx="565.7" cy="861" r="7.5" fill="#3A9549"/><circle cx="196.7" cy="990.8" r="7.5" fill="#3A9549"/><circle cx="284.4" cy="981.7" r="7.5" fill="#3A9549"/><circle cx="187" cy="1064.8" r="7.5" fill="#3A9549"/><circle cx="295.5" cy="1049.1" r="7.5" fill="#3A9549"/><circle cx="354.8" cy="1085.6" r="7.5" fill="#3A9549"/><circle cx="497.8" cy="1132.2" r="7.5" fill="#3A9549"/><circle cx="524.7" cy="1135.3" r="7.5" fill="#3A9549"/><circle cx="201.8" cy="1156.5" r="7.5" fill="#3A9549"/><circle cx="200.2" cy="1191.8" r="7.5" fill="#3A9549"/><circle cx="206.8" cy="1191.8" r="7.5" fill="#3A9549"/><circle cx="209.5" cy="1199.1" r="7.5" fill="#3A9549"/><circle cx="214.2" cy="1211.8" r="7.5" fill="#3A9549"/><circle cx="229.6" cy="1196.8" r="7.5" fill="#3A9549"/><circle cx="236.9" cy="1183.4" r="7.5" fill="#3A9549"/><circle cx="233.6" cy="1210.2" r="7.5" fill="#3A9549"/><circle cx="241.3" cy="1208.5" r="7.5" fill="#3A9549"/><circle cx="256.3" cy="1208.5" r="7.5" fill="#3A9549"/><circle cx="253.6" cy="1216.8" r="7.5" fill="#3A9549"/><circle cx="273.7" cy="1210.2" r="7.5" fill="#3A9549"/><circle cx="283" cy="1191.8" r="7.5" fill="#3A9549"/><circle cx="282" cy="1203.5" r="7.5" fill="#3A9549"/><circle cx="298.7" cy="1208.5" r="7.5" fill="#3A9549"/><circle cx="310.4" cy="1208.5" r="7.5" fill="#3A9549"/><circle cx="320.4" cy="1208.5" r="7.5" fill="#3A9549"/><circle cx="330.5" cy="1208.5" r="7.5" fill="#3A9549"/><circle cx="367.2" cy="1208.5" r="7.5" fill="#3A9549"/><circle cx="373.9" cy="1210.2" r="7.5" fill="#3A9549"/><circle cx="385.6" cy="1203.5" r="7.5" fill="#3A9549"/><circle cx="391.6" cy="1187.8" r="7.5" fill="#3A9549"/><circle cx="404" cy="1210.2" r="7.5" fill="#3A9549"/><circle cx="420.7" cy="1210.2" r="7.5" fill="#3A9549"/><circle cx="442.4" cy="1177.8" r="7.5" fill="#3A9549"/><circle cx="443.1" cy="1200.1" r="7.5" fill="#3A9549"/><circle cx="464.1" cy="1194.1" r="7.5" fill="#3A9549"/><circle cx="477.5" cy="1201.8" r="7.5" fill="#3A9549"/><circle cx="480.8" cy="1205.2" r="7.5" fill="#3A9549"/><circle cx="490.8" cy="1208.5" r="7.5" fill="#3A9549"/><circle cx="507.5" cy="1206.8" r="7.5" fill="#3A9549"/><circle cx="517.6" cy="1205.2" r="7.5" fill="#3A9549"/><circle cx="527.6" cy="1201.8" r="7.5" fill="#3A9549"/><circle cx="532.6" cy="1195.1" r="7.5" fill="#3A9549"/><circle cx="544.3" cy="1208.5" r="7.5" fill="#3A9549"/><circle cx="556" cy="1210.2" r="7.5" fill="#3A9549"/><circle cx="542.4" cy="1207.7" r="7.5" fill="#3A9549"/><circle cx="556.6" cy="1211.8" r="7.5" fill="#3A9549"/><circle cx="450" cy="1209" r="7.5" fill="#3A9549"/><circle cx="432" cy="1211" r="7.5" fill="#3A9549"/><circle cx="470" cy="1212" r="7.5" fill="#3A9549"/><circle cx="500" cy="1212" r="7.5" fill="#3A9549"/><circle cx="520" cy="1212" r="7.5" fill="#3A9549"/><circle cx="350" cy="1211" r="7.5" fill="#3A9549"/><circle cx="300" cy="1213" r="7.5" fill="#3A9549"/>
<path d="M412 1218.1H599.4" stroke="#000" stroke-width="15.0" stroke-linecap="round"/>
<circle cx="235.2" cy="1218.1" r="7.5" fill="#6A3FA8"/><circle cx="258" cy="1218.1" r="7.5" fill="#6A3FA8"/><circle cx="273" cy="1218.1" r="7.5" fill="#6A3FA8"/><circle cx="293.7" cy="1218.1" r="7.5" fill="#6A3FA8"/><circle cx="322" cy="1218.1" r="7.5" fill="#E9756C"/><circle cx="332.8" cy="1218.1" r="7.5" fill="#6A3FA8"/><circle cx="341" cy="1218.1" r="7.5" fill="#8F8F8F"/><circle cx="350.5" cy="1218.1" r="7.5" fill="#6A3FA8"/><circle cx="357" cy="1218.1" r="7.5" fill="#6A3FA8"/><circle cx="363.2" cy="1218.1" r="7.5" fill="#000000"/><circle cx="414" cy="1218.1" r="7.5" fill="#E9756C"/><circle cx="377" cy="1218.1" r="7.5" fill="#F3B6CB"/><circle cx="384" cy="1218.1" r="7.5" fill="#F3B6CB"/><circle cx="388.8" cy="1218.1" r="7.5" fill="#000000"/><circle cx="395.7" cy="1218.1" r="7.5" fill="#000000"/><circle cx="404" cy="1218.1" r="7.5" fill="#000000"/><circle cx="637.8" cy="1218.1" r="7.5" fill="#4A63B8"/><circle cx="642.9" cy="1218.1" r="7.5" fill="#000000"/><circle cx="654.6" cy="1218.1" r="7.5" fill="#000000"/><circle cx="671.3" cy="1218.1" r="7.5" fill="#000000"/><circle cx="678" cy="1218.1" r="7.5" fill="#E9A23B"/>
<path d="M131 790.5V1238.2H703.6" fill="none" stroke="#000" stroke-width="2.1"/>
<text x="120.8" y="1224.3" font-size="17.3" text-anchor="end" fill="#4D4D4D">0</text>
<text x="120.8" y="1118.8" font-size="17.3" text-anchor="end" fill="#4D4D4D">20000</text>
<text x="120.8" y="1013.2" font-size="17.3" text-anchor="end" fill="#4D4D4D">40000</text>
<text x="120.8" y="907.6" font-size="17.3" text-anchor="end" fill="#4D4D4D">60000</text>
<text x="120.8" y="802.1" font-size="17.3" text-anchor="end" fill="#4D4D4D">80000</text>
<text x="146.2" y="1260.6" font-size="17.3" text-anchor="middle" fill="#4D4D4D">−15</text>
<text x="273.7" y="1260.6" font-size="17.3" text-anchor="middle" fill="#4D4D4D">−10</text>
<text x="401.6" y="1260.6" font-size="17.3" text-anchor="middle" fill="#4D4D4D">−5</text>
<text x="529.5" y="1260.6" font-size="17.3" text-anchor="middle" fill="#4D4D4D">0</text>
<text x="657.4" y="1260.6" font-size="17.3" text-anchor="middle" fill="#4D4D4D">5</text>
<path d="M126 1218.1H131M126 1112.5H131M126 1007H131M126 901.4H131M126 795.9H131M146.2 1238.2V1243.2M273.7 1238.2V1243.2M401.6 1238.2V1243.2M529.5 1238.2V1243.2M657.4 1238.2V1243.2" stroke="#333" stroke-width="1.6"/>
<text x="131.8" y="774.3" font-size="24.9" fill="#000">HT−29 CBE: exonic gRNAs</text>
<text transform="translate(63.7 1015) rotate(-90)" font-size="21.3" text-anchor="middle">number of off−targets</text>
<text x="416.7" y="1283.7" font-size="21.2" text-anchor="middle" fill="#000">z−score − control vs plasmid</text>
<text x="736" y="834.3" font-size="20.7" fill="#000">gene</text>
<circle cx="752.4" cy="863.4" r="7.7" fill="#4A63B8"/>
<text x="779.4" y="869.9" font-size="17.3" fill="#000">AKT1</text>
<circle cx="752.4" cy="896.7" r="7.7" fill="#5CC9C0"/>
<text x="779.4" y="903.2" font-size="17.3" fill="#000">BCL2</text>
<circle cx="752.4" cy="930" r="7.7" fill="#E9A23B"/>
<text x="779.4" y="936.5" font-size="17.3" fill="#000">BRAF</text>
<circle cx="752.4" cy="963.3" r="7.7" fill="#E3322B"/>
<text x="779.4" y="969.8" font-size="17.3" fill="#000">EGFR</text>
<circle cx="752.4" cy="996.6" r="7.7" fill="#3A9549"/>
<text x="779.4" y="1003.1" font-size="17.3" fill="#000">KRAS</text>
<circle cx="752.4" cy="1029.9" r="7.7" fill="#8F8F8F"/>
<text x="779.4" y="1036.4" font-size="17.3" fill="#000">MAP2K1</text>
<circle cx="752.4" cy="1063.2" r="7.7" fill="#A62A2A"/>
<text x="779.4" y="1069.7" font-size="17.3" fill="#000">MAP2K2</text>
<circle cx="752.4" cy="1096.5" r="7.7" fill="#6A3FA8"/>
<text x="779.4" y="1103" font-size="17.3" fill="#000">MYC</text>
<circle cx="752.4" cy="1129.8" r="7.7" fill="#E9756C"/>
<text x="779.4" y="1136.3" font-size="17.3" fill="#000">PARP1</text>
<circle cx="752.4" cy="1163.1" r="7.7" fill="#F3B6CB"/>
<text x="779.4" y="1169.6" font-size="17.3" fill="#000">PARP2</text>
<circle cx="752.4" cy="1196.4" r="7.7" fill="#000000"/>
<text x="779.4" y="1202.9" font-size="17.3" fill="#000">PIK3CA</text>
<circle cx="1110.6" cy="811.2" r="7.5" fill="#3A9549"/><circle cx="1475.6" cy="860.9" r="7.5" fill="#3A9549"/><circle cx="1503.4" cy="879.7" r="7.5" fill="#3A9549"/><circle cx="1223.6" cy="884.7" r="7.5" fill="#3A9549"/><circle cx="1174" cy="905" r="7.5" fill="#3A9549"/><circle cx="1071.6" cy="916.7" r="7.5" fill="#3A9549"/><circle cx="1090.3" cy="913.6" r="7.5" fill="#3A9549"/><circle cx="1095.4" cy="913.6" r="7.5" fill="#3A9549"/><circle cx="1110.6" cy="912.6" r="7.5" fill="#3A9549"/><circle cx="1119.2" cy="914.1" r="7.5" fill="#3A9549"/><circle cx="1133.4" cy="917.7" r="7.5" fill="#3A9549"/><circle cx="1170.4" cy="932.9" r="7.5" fill="#3A9549"/><circle cx="1025.5" cy="991.2" r="7.5" fill="#3A9549"/><circle cx="1096.9" cy="982" r="7.5" fill="#3A9549"/><circle cx="1179" cy="1049.4" r="7.5" fill="#3A9549"/><circle cx="1052.3" cy="1065.7" r="7.5" fill="#3A9549"/><circle cx="1043.7" cy="1085.9" r="7.5" fill="#3A9549"/><circle cx="1337.7" cy="1135.6" r="7.5" fill="#3A9549"/><circle cx="1467.9" cy="1133.1" r="7.5" fill="#3A9549"/><circle cx="1045.3" cy="1156.4" r="7.5" fill="#3A9549"/><circle cx="1275.1" cy="1177.8" r="7.5" fill="#3A9549"/><circle cx="1020.4" cy="1196.8" r="7.5" fill="#3A9549"/><circle cx="1086" cy="1203.4" r="7.5" fill="#3A9549"/><circle cx="1095.2" cy="1190.9" r="7.5" fill="#3A9549"/><circle cx="1101.8" cy="1208.9" r="7.5" fill="#3A9549"/><circle cx="1110" cy="1190.9" r="7.5" fill="#3A9549"/><circle cx="1116.5" cy="1199.1" r="7.5" fill="#3A9549"/><circle cx="1121.5" cy="1215.5" r="7.5" fill="#3A9549"/><circle cx="1131.3" cy="1187.6" r="7.5" fill="#3A9549"/><circle cx="1134.6" cy="1202.4" r="7.5" fill="#3A9549"/><circle cx="1149.4" cy="1194.2" r="7.5" fill="#3A9549"/><circle cx="1160.9" cy="1200.7" r="7.5" fill="#3A9549"/><circle cx="1162.5" cy="1183.7" r="7.5" fill="#3A9549"/><circle cx="1170.7" cy="1207.3" r="7.5" fill="#3A9549"/><circle cx="1180.6" cy="1207.3" r="7.5" fill="#3A9549"/><circle cx="1188.8" cy="1202.4" r="7.5" fill="#3A9549"/><circle cx="1208.5" cy="1207.3" r="7.5" fill="#3A9549"/><circle cx="1262.6" cy="1207.3" r="7.5" fill="#3A9549"/><circle cx="1269.2" cy="1207.3" r="7.5" fill="#3A9549"/><circle cx="1285.6" cy="1208.9" r="7.5" fill="#3A9549"/><circle cx="1361.1" cy="1210.6" r="7.5" fill="#3A9549"/><circle cx="1394" cy="1209" r="7.5" fill="#3A9549"/><circle cx="1410" cy="1211" r="7.5" fill="#3A9549"/><circle cx="1423" cy="1211" r="7.5" fill="#3A9549"/><circle cx="1436.6" cy="1207.3" r="7.5" fill="#3A9549"/><circle cx="1458" cy="1202.4" r="7.5" fill="#3A9549"/><circle cx="1479.3" cy="1205.7" r="7.5" fill="#3A9549"/><circle cx="1489.2" cy="1195.8" r="7.5" fill="#3A9549"/><circle cx="1497.4" cy="1209.6" r="7.5" fill="#3A9549"/><circle cx="1140" cy="1210" r="7.5" fill="#3A9549"/><circle cx="1150" cy="1212" r="7.5" fill="#3A9549"/><circle cx="1100" cy="1214" r="7.5" fill="#3A9549"/><circle cx="1300" cy="1212" r="7.5" fill="#3A9549"/><circle cx="1330" cy="1212" r="7.5" fill="#3A9549"/><circle cx="1470" cy="1212" r="7.5" fill="#3A9549"/>
<path d="M1241.3 1218.1H1535.1" stroke="#000" stroke-width="15.0" stroke-linecap="round"/>
<circle cx="1071.6" cy="1218.1" r="7.5" fill="#E9756C"/><circle cx="1075.5" cy="1218.1" r="7.5" fill="#E9756C"/><circle cx="1110" cy="1218.1" r="7.5" fill="#6A3FA8"/><circle cx="1131.3" cy="1218.1" r="7.5" fill="#E3322B"/><circle cx="1146.7" cy="1218.1" r="7.5" fill="#000000"/><circle cx="1157" cy="1218.1" r="7.5" fill="#8F8F8F"/><circle cx="1172.4" cy="1218.1" r="7.5" fill="#A62A2A"/><circle cx="1179" cy="1218.1" r="7.5" fill="#6A3FA8"/><circle cx="1182" cy="1218.1" r="7.5" fill="#6A3FA8"/><circle cx="1191.4" cy="1218.1" r="7.5" fill="#000000"/><circle cx="1203" cy="1218.1" r="7.5" fill="#F3B6CB"/><circle cx="1215" cy="1218.1" r="7.5" fill="#6A3FA8"/><circle cx="1222" cy="1218.1" r="7.5" fill="#E9756C"/><circle cx="1228.8" cy="1218.1" r="7.5" fill="#000000"/><circle cx="1542.4" cy="1218.1" r="7.5" fill="#A62A2A"/>
<path d="M995.6 790.5V1238.2H1568.2" fill="none" stroke="#000" stroke-width="2.1"/>
<text x="985.4" y="1224.3" font-size="17.3" text-anchor="end" fill="#4D4D4D">0</text>
<text x="985.4" y="1118.8" font-size="17.3" text-anchor="end" fill="#4D4D4D">20000</text>
<text x="985.4" y="1013.2" font-size="17.3" text-anchor="end" fill="#4D4D4D">40000</text>
<text x="985.4" y="907.6" font-size="17.3" text-anchor="end" fill="#4D4D4D">60000</text>
<text x="985.4" y="802.1" font-size="17.3" text-anchor="end" fill="#4D4D4D">80000</text>
<text x="1147.6" y="1260.6" font-size="17.3" text-anchor="middle" fill="#4D4D4D">−6</text>
<text x="1301.7" y="1260.6" font-size="17.3" text-anchor="middle" fill="#4D4D4D">−3</text>
<text x="1455.3" y="1260.6" font-size="17.3" text-anchor="middle" fill="#4D4D4D">0</text>
<path d="M990.6 1218.1H995.6M990.6 1112.5H995.6M990.6 1007H995.6M990.6 901.4H995.6M990.6 795.9H995.6M1147.6 1238.2V1243.2M1301.7 1238.2V1243.2M1455.3 1238.2V1243.2" stroke="#333" stroke-width="1.6"/>
<text x="996.4" y="774.3" font-size="24.9" fill="#000">HT−29 ABE: exonic gRNAs</text>
<text transform="translate(928.3 1015) rotate(-90)" font-size="21.3" text-anchor="middle">number of off−targets</text>
<text x="1280.4" y="1283.7" font-size="21.2" text-anchor="middle" fill="#000">zscore − control vs plasmid</text>
<text x="1600.6" y="834.3" font-size="20.7" fill="#000">gene</text>
<circle cx="1617" cy="863.4" r="7.7" fill="#4A63B8"/>
<text x="1644" y="869.9" font-size="17.3" fill="#000">AKT1</text>
<circle cx="1617" cy="896.7" r="7.7" fill="#5CC9C0"/>
<text x="1644" y="903.2" font-size="17.3" fill="#000">BCL2</text>
<circle cx="1617" cy="930" r="7.7" fill="#E9A23B"/>
<text x="1644" y="936.5" font-size="17.3" fill="#000">BRAF</text>
<circle cx="1617" cy="963.3" r="7.7" fill="#E3322B"/>
<text x="1644" y="969.8" font-size="17.3" fill="#000">EGFR</text>
<circle cx="1617" cy="996.6" r="7.7" fill="#3A9549"/>
<text x="1644" y="1003.1" font-size="17.3" fill="#000">KRAS</text>
<circle cx="1617" cy="1029.9" r="7.7" fill="#8F8F8F"/>
<text x="1644" y="1036.4" font-size="17.3" fill="#000">MAP2K1</text>
<circle cx="1617" cy="1063.2" r="7.7" fill="#A62A2A"/>
<text x="1644" y="1069.7" font-size="17.3" fill="#000">MAP2K2</text>
<circle cx="1617" cy="1096.5" r="7.7" fill="#6A3FA8"/>
<text x="1644" y="1103" font-size="17.3" fill="#000">MYC</text>
<circle cx="1617" cy="1129.8" r="7.7" fill="#E9756C"/>
<text x="1644" y="1136.3" font-size="17.3" fill="#000">PARP1</text>
<circle cx="1617" cy="1163.1" r="7.7" fill="#F3B6CB"/>
<text x="1644" y="1169.6" font-size="17.3" fill="#000">PARP2</text>
<circle cx="1617" cy="1196.4" r="7.7" fill="#000000"/>
<text x="1644" y="1202.9" font-size="17.3" fill="#000">PIK3CA</text>
<text x="46" y="704.8" font-size="47" font-weight="bold" fill="#1E1E1E">b</text>
<path d="M111.8 1527V1956.6H653.3" fill="none" stroke="#000" stroke-width="2"/>
<text x="99.3" y="1934" font-size="20.2" text-anchor="end" fill="#4D4D4D">0</text>
<text x="99.3" y="1820.9" font-size="20.2" text-anchor="end" fill="#4D4D4D">2</text>
<text x="99.3" y="1707.8" font-size="20.2" text-anchor="end" fill="#4D4D4D">4</text>
<text x="99.3" y="1594.7" font-size="20.2" text-anchor="end" fill="#4D4D4D">6</text>
<text x="243.1" y="1984.5" font-size="20.2" text-anchor="middle" fill="#4D4D4D">-3</text>
<text x="382.3" y="1984.5" font-size="20.2" text-anchor="middle" fill="#4D4D4D">0</text>
<text x="522.2" y="1984.5" font-size="20.2" text-anchor="middle" fill="#4D4D4D">3</text>
<path d="M105.3 1926.8H111.8M105.3 1813.7H111.8M105.3 1700.6H111.8M105.3 1587.5H111.8M243.1 1956.6V1963.1M382.3 1956.6V1963.1M522.2 1956.6V1963.1" stroke="#333" stroke-width="1.7"/>
<text x="112.1" y="1505.9" font-size="32.4" fill="#000">HT-29: dabrafenib vs DMSO - day10</text>
<text x="382.3" y="2015.5" font-size="27" text-anchor="middle" fill="#000">Log2 fold change</text>
<text transform="translate(74 1742.4) rotate(-90)" font-size="27" text-anchor="middle">-Log10 (P-value)</text>
<path d="M363.9 1721.3L362.9 1724.3L361.9 1727.3L360.9 1730.3L359.9 1733.3L359.4 1736.3L359.5 1739.3L359.7 1742.3L359.8 1745.3L360 1748.3L360.1 1751.3L360.3 1754.3L360.2 1757.3L360.1 1760.3L360 1763.3L359.8 1766.3L359.7 1769.3L359.6 1772.3L359.5 1775.3L359.4 1778.3L359.1 1781.3L358.7 1784.3L358.3 1787.3L357.9 1790.3L357.5 1793.3L357.1 1796.3L356.7 1799.3L356.3 1802.3L355.9 1805.3L355.5 1808.3L355.2 1811.3L354.9 1814.3L354.6 1817.3L354.3 1820.3L354 1823.3L353.7 1826.3L353.4 1829.3L353.1 1832.3L352.8 1835.3L352.5 1838.3L352.3 1841.3L352.3 1844.3L352.3 1847.3L352.3 1850.3L352.3 1853.3L352.3 1856.3L352.3 1859.3L352.3 1862.3L352.3 1865.3L352.3 1868.3L352.5 1871.3L352.8 1874.3L353.2 1877.3L353.5 1880.3L353.9 1883.3L354.3 1886.3L354.6 1889.3L355 1892.3L355.4 1895.3L356 1898.3L356.6 1901.3L357.2 1904.3L357.8 1907.3L358.4 1910.3L359 1913.3L359.9 1916.3L361.2 1919.3L362.6 1922.3L363.9 1925.3L365.3 1928.3L366.6 1931.3L368 1934.3L395.9 1934.3L396.6 1931.3L397.4 1928.3L398.1 1925.3L398.9 1922.3L399.6 1919.3L400.4 1916.3L401 1913.3L401.6 1910.3L402.2 1907.3L402.8 1904.3L403.4 1901.3L404 1898.3L404.6 1895.3L404.9 1892.3L405.2 1889.3L405.4 1886.3L405.6 1883.3L405.9 1880.3L406.1 1877.3L406.4 1874.3L406.6 1871.3L406.8 1868.3L407 1865.3L407.2 1862.3L407.4 1859.3L407.6 1856.3L407.8 1853.3L408 1850.3L408.2 1847.3L408.4 1844.3L408.6 1841.3L408.8 1838.3L409 1835.3L409.2 1832.3L409.4 1829.3L409.6 1826.3L409.8 1823.3L410 1820.3L410.2 1817.3L410.4 1814.3L410.6 1811.3L410.6 1808.3L410.5 1805.3L410.4 1802.3L410.3 1799.3L410.2 1796.3L410.1 1793.3L410 1790.3L409.9 1787.3L409.8 1784.3L409.7 1781.3L409.4 1778.3L408.8 1775.3L408.2 1772.3L407.6 1769.3L407 1766.3L406.4 1763.3L405.8 1760.3L405.2 1757.3L404.4 1754.3L403.2 1751.3L402 1748.3L400.8 1745.3L399.6 1742.3L398.4 1739.3L397.2 1736.3L396 1733.3L394.8 1730.3L393.6 1727.3L392.4 1724.3L391.2 1721.3Z" fill="#5F5F5F"/><g fill="#5F5F5F" stroke="#5F5F5F" fill-opacity=".85" stroke-opacity=".85" stroke-width="1.2"><circle cx="366.6" cy="1718.7" r="8.7"/><circle cx="386.6" cy="1718.4" r="8.7"/><circle cx="362.4" cy="1722.5" r="8.7"/><circle cx="390.6" cy="1723.4" r="8.7"/><circle cx="360.2" cy="1720.9" r="8.7"/><circle cx="363.6" cy="1725.1" r="8.7"/><circle cx="390.4" cy="1727.9" r="8.7"/><circle cx="359.6" cy="1729.1" r="8.7"/><circle cx="394.3" cy="1729.2" r="8.7"/><circle cx="357.8" cy="1728.6" r="8.7"/><circle cx="359.7" cy="1735.5" r="8.7"/><circle cx="395.9" cy="1734.9" r="8.7"/><circle cx="359.8" cy="1737.8" r="8.7"/><circle cx="395.1" cy="1740" r="8.7"/><circle cx="359.3" cy="1741.7" r="8.7"/><circle cx="400.3" cy="1741.2" r="8.7"/><circle cx="362.1" cy="1746.2" r="8.7"/><circle cx="398.5" cy="1747.6" r="8.7"/><circle cx="357" cy="1748.2" r="8.7"/><circle cx="363" cy="1750.2" r="8.7"/><circle cx="404.5" cy="1750.9" r="8.7"/><circle cx="358.7" cy="1754" r="8.7"/><circle cx="401.7" cy="1755.3" r="8.7"/><circle cx="357.3" cy="1752.9" r="8.7"/><circle cx="409.7" cy="1753.2" r="8.7"/><circle cx="361" cy="1758.4" r="8.7"/><circle cx="406.4" cy="1759.2" r="8.7"/><circle cx="355.6" cy="1757" r="8.7"/><circle cx="359.1" cy="1761.8" r="8.7"/><circle cx="403.3" cy="1763.4" r="8.7"/><circle cx="358.9" cy="1766.2" r="8.7"/><circle cx="404.7" cy="1766.9" r="8.7"/><circle cx="353.9" cy="1765.4" r="8.7"/><circle cx="361.5" cy="1770" r="8.7"/><circle cx="408.3" cy="1769.2" r="8.7"/><circle cx="355.3" cy="1769.5" r="8.7"/><circle cx="359.4" cy="1774.4" r="8.7"/><circle cx="405.8" cy="1774.5" r="8.7"/><circle cx="358.3" cy="1777.5" r="8.7"/><circle cx="406.9" cy="1779.5" r="8.7"/><circle cx="414.4" cy="1780.3" r="8.7"/><circle cx="357.9" cy="1783.9" r="8.7"/><circle cx="407.4" cy="1782.8" r="8.7"/><circle cx="411.9" cy="1784.4" r="8.7"/><circle cx="357.6" cy="1787.1" r="8.7"/><circle cx="410.6" cy="1787.5" r="8.7"/><circle cx="356.8" cy="1791.2" r="8.7"/><circle cx="411.7" cy="1789.7" r="8.7"/><circle cx="358.4" cy="1793.9" r="8.7"/><circle cx="407.6" cy="1793.6" r="8.7"/><circle cx="354.3" cy="1794.3" r="8.7"/><circle cx="412.9" cy="1794" r="8.7"/><circle cx="357.7" cy="1797.4" r="8.7"/><circle cx="410.5" cy="1799.7" r="8.7"/><circle cx="357.8" cy="1802.8" r="8.7"/><circle cx="411.7" cy="1801.1" r="8.7"/><circle cx="350.7" cy="1803.3" r="8.7"/><circle cx="353.9" cy="1806.9" r="8.7"/><circle cx="410.2" cy="1807.2" r="8.7"/><circle cx="353.6" cy="1810.6" r="8.7"/><circle cx="409" cy="1811.7" r="8.7"/><circle cx="356.8" cy="1815.8" r="8.7"/><circle cx="410.6" cy="1815.1" r="8.7"/><circle cx="354.5" cy="1819.4" r="8.7"/><circle cx="407.8" cy="1818.7" r="8.7"/><circle cx="355" cy="1822.8" r="8.7"/><circle cx="411.5" cy="1822.9" r="8.7"/><circle cx="355.3" cy="1826.2" r="8.7"/><circle cx="407.9" cy="1826.8" r="8.7"/><circle cx="351.7" cy="1831.3" r="8.7"/><circle cx="411.2" cy="1830.8" r="8.7"/><circle cx="354.3" cy="1834.5" r="8.7"/><circle cx="408" cy="1835.8" r="8.7"/><circle cx="412.3" cy="1835.2" r="8.7"/><circle cx="351.5" cy="1837.5" r="8.7"/><circle cx="406.3" cy="1839" r="8.7"/><circle cx="351.9" cy="1843" r="8.7"/><circle cx="409.5" cy="1842.3" r="8.7"/><circle cx="354.7" cy="1846.2" r="8.7"/><circle cx="407.4" cy="1846" r="8.7"/><circle cx="348.3" cy="1847.9" r="8.7"/><circle cx="353.9" cy="1851.9" r="8.7"/><circle cx="408.6" cy="1849.5" r="8.7"/><circle cx="351.4" cy="1854.3" r="8.7"/><circle cx="406.6" cy="1854.5" r="8.7"/><circle cx="355.2" cy="1858.4" r="8.7"/><circle cx="409.1" cy="1857.1" r="8.7"/><circle cx="412.3" cy="1858.8" r="8.7"/><circle cx="351.8" cy="1863.4" r="8.7"/><circle cx="409.1" cy="1861.4" r="8.7"/><circle cx="412.5" cy="1861.5" r="8.7"/><circle cx="351" cy="1865.2" r="8.7"/><circle cx="405.8" cy="1866.3" r="8.7"/><circle cx="354.4" cy="1871.9" r="8.7"/><circle cx="405.2" cy="1869.6" r="8.7"/><circle cx="408.7" cy="1870.4" r="8.7"/><circle cx="354.4" cy="1873.5" r="8.7"/><circle cx="407" cy="1874" r="8.7"/><circle cx="354.4" cy="1879.3" r="8.7"/><circle cx="406.1" cy="1879.4" r="8.7"/><circle cx="411.7" cy="1879.4" r="8.7"/><circle cx="352.5" cy="1882.4" r="8.7"/><circle cx="404.6" cy="1883.7" r="8.7"/><circle cx="356.7" cy="1887.4" r="8.7"/><circle cx="402.7" cy="1886.4" r="8.7"/><circle cx="410.3" cy="1887.8" r="8.7"/><circle cx="356" cy="1891.2" r="8.7"/><circle cx="406" cy="1891.7" r="8.7"/><circle cx="355.9" cy="1895.4" r="8.7"/><circle cx="405.1" cy="1895.7" r="8.7"/><circle cx="354.4" cy="1898.3" r="8.7"/><circle cx="403.2" cy="1899.3" r="8.7"/><circle cx="409.2" cy="1896.8" r="8.7"/><circle cx="358.8" cy="1901.5" r="8.7"/><circle cx="403.5" cy="1903.4" r="8.7"/><circle cx="354.2" cy="1902.6" r="8.7"/><circle cx="359.8" cy="1907.1" r="8.7"/><circle cx="399.7" cy="1906.5" r="8.7"/><circle cx="405.3" cy="1906.6" r="8.7"/><circle cx="357.9" cy="1911.2" r="8.7"/><circle cx="400.4" cy="1910.6" r="8.7"/><circle cx="358.8" cy="1914.2" r="8.7"/><circle cx="398.6" cy="1915.7" r="8.7"/><circle cx="353.8" cy="1916.4" r="8.7"/><circle cx="361.7" cy="1917.6" r="8.7"/><circle cx="399.1" cy="1918.5" r="8.7"/><circle cx="405.7" cy="1918.6" r="8.7"/><circle cx="362.7" cy="1923.4" r="8.7"/><circle cx="398" cy="1922.5" r="8.7"/><circle cx="403" cy="1922.2" r="8.7"/><circle cx="367.3" cy="1927.8" r="8.7"/><circle cx="398.5" cy="1926.4" r="8.7"/><circle cx="360.7" cy="1927.8" r="8.7"/><circle cx="366.7" cy="1930" r="8.7"/><circle cx="397.9" cy="1930.9" r="8.7"/><circle cx="401.9" cy="1928.6" r="8.7"/><circle cx="367.1" cy="1933.7" r="8.7"/><circle cx="394.4" cy="1934" r="8.7"/><circle cx="369.7" cy="1939.2" r="8.7"/><circle cx="395.5" cy="1938.5" r="8.7"/><circle cx="398.2" cy="1938.3" r="8.7"/><circle cx="363.6" cy="1721.5" r="8.7"/><circle cx="367.9" cy="1720.8" r="8.7"/><circle cx="371.3" cy="1722.2" r="8.7"/><circle cx="376.1" cy="1721.9" r="8.7"/><circle cx="380.6" cy="1722.1" r="8.7"/><circle cx="384.6" cy="1721" r="8.7"/><circle cx="388.3" cy="1722.7" r="8.7"/><circle cx="370.5" cy="1936.8" r="8.7"/><circle cx="373.3" cy="1934.9" r="8.7"/><circle cx="377.1" cy="1934.7" r="8.7"/><circle cx="382.5" cy="1937.3" r="8.7"/><circle cx="385.2" cy="1935.5" r="8.7"/><circle cx="389.2" cy="1937.4" r="8.7"/><circle cx="394.4" cy="1936.4" r="8.7"/><circle cx="358.7" cy="1672.2" r="8.7"/><circle cx="371.5" cy="1677.5" r="8.7"/><circle cx="367.7" cy="1692.5" r="8.7"/><circle cx="352" cy="1690.2" r="8.7"/><circle cx="361" cy="1706" r="8.7"/><circle cx="348.2" cy="1715" r="8.7"/><circle cx="380.5" cy="1710.5" r="8.7"/><circle cx="390.2" cy="1706" r="8.7"/><circle cx="400" cy="1715" r="8.7"/><circle cx="395.5" cy="1719.5" r="8.7"/><circle cx="404.5" cy="1689.5" r="8.7"/><circle cx="415.7" cy="1700" r="8.7"/><circle cx="408.2" cy="1703" r="8.7"/><circle cx="400" cy="1664.7" r="8.7"/><circle cx="398.5" cy="1676" r="8.7"/><circle cx="389.5" cy="1675" r="8.7"/><circle cx="380.5" cy="1679" r="8.7"/><circle cx="349.7" cy="1731.5" r="8.7"/><circle cx="403.7" cy="1736" r="8.7"/><circle cx="352" cy="1767.5" r="8.7"/><circle cx="413.5" cy="1773.5" r="8.7"/><circle cx="346" cy="1811" r="8.7"/><circle cx="344.5" cy="1833.4" r="8.7"/><circle cx="418.7" cy="1849.2" r="8.7"/><circle cx="346" cy="1886" r="8.7"/><circle cx="413.5" cy="1903" r="8.7"/><circle cx="439.3" cy="1782.2" r="8.7"/><circle cx="431.5" cy="1805.7" r="8.7"/><circle cx="372" cy="1690" r="8.7"/><circle cx="385" cy="1695" r="8.7"/><circle cx="356" cy="1700" r="8.7"/></g>
<g fill="#4762B6" stroke="#4762B6" fill-opacity=".85" stroke-opacity=".85" stroke-width="1.2"><circle cx="360.9" cy="1565.3" r="8.7"/><circle cx="352.8" cy="1592.7" r="8.7"/><circle cx="347.6" cy="1627" r="8.7"/><circle cx="364.9" cy="1621" r="8.7"/><circle cx="374.2" cy="1627.8" r="8.7"/><circle cx="385.1" cy="1663.3" r="8.7"/></g>
<g fill="#E6525C" stroke="#E6525C" fill-opacity=".85" stroke-opacity=".85" stroke-width="1.2"><circle cx="418.5" cy="1545.2" r="8.7"/></g>
<text x="347.6" y="1555.3" font-size="20.5" fill="#4A64B4">EGFR</text>
<text x="430.6" y="1550.4" font-size="20.5" fill="#DD5560">RASA4B</text>
<text x="272.2" y="1616.2" font-size="20.5" fill="#4A64B4">ERBB2</text>
<path d="M749.1 1527V1956.6H1290.6" fill="none" stroke="#000" stroke-width="2"/>
<text x="736.6" y="1934" font-size="20.2" text-anchor="end" fill="#4D4D4D">0</text>
<text x="736.6" y="1820.9" font-size="20.2" text-anchor="end" fill="#4D4D4D">2</text>
<text x="736.6" y="1707.8" font-size="20.2" text-anchor="end" fill="#4D4D4D">4</text>
<text x="736.6" y="1594.7" font-size="20.2" text-anchor="end" fill="#4D4D4D">6</text>
<text x="879.9" y="1984.5" font-size="20.2" text-anchor="middle" fill="#4D4D4D">-3</text>
<text x="1019.8" y="1984.5" font-size="20.2" text-anchor="middle" fill="#4D4D4D">0</text>
<text x="1159.7" y="1984.5" font-size="20.2" text-anchor="middle" fill="#4D4D4D">3</text>
<path d="M742.6 1926.8H749.1M742.6 1813.7H749.1M742.6 1700.6H749.1M742.6 1587.5H749.1M879.9 1956.6V1963.1M1019.8 1956.6V1963.1M1159.7 1956.6V1963.1" stroke="#333" stroke-width="1.7"/>
<text x="749.4" y="1505.9" font-size="32.4" fill="#000">HT-29: dabrafenib vs DMSO - day18</text>
<text x="1019.8" y="2015.5" font-size="27" text-anchor="middle" fill="#000">Log2 fold change</text>
<text transform="translate(711.3 1742.4) rotate(-90)" font-size="27" text-anchor="middle">-Log10 (P-value)</text>
<path d="M988.4 1706.3L988.1 1709.3L987.9 1712.3L987.7 1715.3L987.5 1718.3L987.3 1721.3L987.1 1724.3L986.9 1727.3L986.7 1730.3L986.5 1733.3L986.3 1736.3L986.4 1739.3L986.5 1742.3L986.6 1745.3L986.7 1748.3L986.8 1751.3L986.9 1754.3L987 1757.3L987.1 1760.3L987.2 1763.3L987.3 1766.3L987.3 1769.3L987.3 1772.3L987.3 1775.3L987.3 1778.3L987.3 1781.3L987.3 1784.3L987.3 1787.3L987.3 1790.3L987.3 1793.3L987.3 1796.3L986.9 1799.3L986.5 1802.3L986.1 1805.3L985.7 1808.3L985.3 1811.3L985 1814.3L984.6 1817.3L984.2 1820.3L983.8 1823.3L983.4 1826.3L983 1829.3L982.6 1832.3L982.3 1835.3L982.6 1838.3L982.9 1841.3L983.2 1844.3L983.5 1847.3L983.8 1850.3L984.1 1853.3L984.4 1856.3L984.7 1859.3L985 1862.3L985.3 1865.3L985.6 1868.3L985.9 1871.3L986.2 1874.3L986.8 1877.3L987.4 1880.3L988 1883.3L988.6 1886.3L989.2 1889.3L989.8 1892.3L990.5 1895.3L991.1 1898.3L991.7 1901.3L992.3 1904.3L992.9 1907.3L993.5 1910.3L994.2 1913.3L995.1 1916.3L996.1 1919.3L997.1 1922.3L998.1 1925.3L999.1 1928.3L1000.1 1931.3L1001.1 1934.3L1041 1934.3L1042.1 1931.3L1043.3 1928.3L1044.4 1925.3L1045.5 1922.3L1046.7 1919.3L1047.8 1916.3L1048.8 1913.3L1049.5 1910.3L1050.1 1907.3L1050.7 1904.3L1051.3 1901.3L1051.9 1898.3L1052.5 1895.3L1053.2 1892.3L1053.8 1889.3L1054.4 1886.3L1055 1883.3L1055.6 1880.3L1056.2 1877.3L1056.9 1874.3L1057.5 1871.3L1058.2 1868.3L1058.9 1865.3L1059.6 1862.3L1060.2 1859.3L1060.9 1856.3L1061.6 1853.3L1062.3 1850.3L1062.9 1847.3L1063.6 1844.3L1064.3 1841.3L1065 1838.3L1065.6 1835.3L1065.8 1832.3L1066 1829.3L1066.1 1826.3L1066.3 1823.3L1066.5 1820.3L1066.6 1817.3L1066.8 1814.3L1066.9 1811.3L1067.1 1808.3L1067.2 1805.3L1067.4 1802.3L1067.5 1799.3L1067.7 1796.3L1067.2 1793.3L1066.6 1790.3L1066 1787.3L1065.4 1784.3L1064.8 1781.3L1064.2 1778.3L1063.6 1775.3L1063 1772.3L1062.4 1769.3L1061.8 1766.3L1057.1 1763.3L1052.1 1760.3L1047 1757.3L1041.9 1754.3L1036.9 1751.3L1031.8 1748.3L1026.7 1745.3L1021.7 1742.3L1016.6 1739.3L1012.6 1736.3L1012.2 1733.3L1011.8 1730.3L1011.4 1727.3L1011 1724.3L1010.6 1721.3L1010.2 1718.3L1009.8 1715.3L1009.4 1712.3L1009 1709.3L1007.4 1706.3Z" fill="#5F5F5F"/><g fill="#5F5F5F" stroke="#5F5F5F" fill-opacity=".85" stroke-opacity=".85" stroke-width="1.2"><circle cx="990.9" cy="1702.4" r="8.7"/><circle cx="1002.4" cy="1704.1" r="8.7"/><circle cx="986.2" cy="1704.2" r="8.7"/><circle cx="991.1" cy="1706.4" r="8.7"/><circle cx="1008.2" cy="1708.3" r="8.7"/><circle cx="986.9" cy="1710.2" r="8.7"/><circle cx="1010.8" cy="1710.1" r="8.7"/><circle cx="988.6" cy="1714.4" r="8.7"/><circle cx="1010.9" cy="1714.6" r="8.7"/><circle cx="990.1" cy="1718.3" r="8.7"/><circle cx="1012.1" cy="1720.9" r="8.7"/><circle cx="986.8" cy="1723.4" r="8.7"/><circle cx="1010.3" cy="1723.3" r="8.7"/><circle cx="1015.7" cy="1724.9" r="8.7"/><circle cx="985.8" cy="1727.4" r="8.7"/><circle cx="1009.7" cy="1727.2" r="8.7"/><circle cx="984.3" cy="1727.6" r="8.7"/><circle cx="1017" cy="1728.7" r="8.7"/><circle cx="988.2" cy="1732.6" r="8.7"/><circle cx="1010.8" cy="1731.2" r="8.7"/><circle cx="989.3" cy="1736.4" r="8.7"/><circle cx="1013.2" cy="1736.7" r="8.7"/><circle cx="988.5" cy="1739.2" r="8.7"/><circle cx="1014.5" cy="1740.6" r="8.7"/><circle cx="988.4" cy="1743.2" r="8.7"/><circle cx="1022.1" cy="1742.2" r="8.7"/><circle cx="984.7" cy="1747.1" r="8.7"/><circle cx="1029.3" cy="1747.9" r="8.7"/><circle cx="988.1" cy="1751" r="8.7"/><circle cx="1035.9" cy="1751.7" r="8.7"/><circle cx="989.9" cy="1755.9" r="8.7"/><circle cx="1042.5" cy="1756.3" r="8.7"/><circle cx="1048.4" cy="1756.5" r="8.7"/><circle cx="986.4" cy="1759.2" r="8.7"/><circle cx="1052.5" cy="1758.6" r="8.7"/><circle cx="1053.7" cy="1761.1" r="8.7"/><circle cx="988" cy="1763.5" r="8.7"/><circle cx="1054.7" cy="1763.7" r="8.7"/><circle cx="989.3" cy="1766.2" r="8.7"/><circle cx="1061" cy="1768.3" r="8.7"/><circle cx="981.6" cy="1766.1" r="8.7"/><circle cx="986.1" cy="1771.5" r="8.7"/><circle cx="1061.7" cy="1770.2" r="8.7"/><circle cx="987.9" cy="1775.8" r="8.7"/><circle cx="1063.8" cy="1774.9" r="8.7"/><circle cx="986.7" cy="1780.2" r="8.7"/><circle cx="1064.9" cy="1778.1" r="8.7"/><circle cx="1067" cy="1780.5" r="8.7"/><circle cx="987.2" cy="1784.7" r="8.7"/><circle cx="1063.5" cy="1782.2" r="8.7"/><circle cx="985.7" cy="1788.7" r="8.7"/><circle cx="1065.9" cy="1787.4" r="8.7"/><circle cx="987.9" cy="1792.8" r="8.7"/><circle cx="1065.2" cy="1791.4" r="8.7"/><circle cx="988.3" cy="1794.4" r="8.7"/><circle cx="1066.5" cy="1795.4" r="8.7"/><circle cx="985.1" cy="1795.6" r="8.7"/><circle cx="1071.4" cy="1796.2" r="8.7"/><circle cx="987.1" cy="1798.8" r="8.7"/><circle cx="1066.6" cy="1799.3" r="8.7"/><circle cx="989.3" cy="1804.9" r="8.7"/><circle cx="1065.6" cy="1802.7" r="8.7"/><circle cx="980.8" cy="1804.6" r="8.7"/><circle cx="985.6" cy="1806.8" r="8.7"/><circle cx="1065.7" cy="1807.7" r="8.7"/><circle cx="987.1" cy="1810.6" r="8.7"/><circle cx="1067.7" cy="1812.9" r="8.7"/><circle cx="983" cy="1814.2" r="8.7"/><circle cx="1067.3" cy="1815.3" r="8.7"/><circle cx="1070.9" cy="1813.8" r="8.7"/><circle cx="982.7" cy="1820" r="8.7"/><circle cx="1065.7" cy="1819.9" r="8.7"/><circle cx="982.8" cy="1823" r="8.7"/><circle cx="1064.6" cy="1824.5" r="8.7"/><circle cx="981.3" cy="1824.7" r="8.7"/><circle cx="985.1" cy="1826.6" r="8.7"/><circle cx="1066" cy="1826.8" r="8.7"/><circle cx="984" cy="1833" r="8.7"/><circle cx="1066.3" cy="1831.7" r="8.7"/><circle cx="982.5" cy="1835.1" r="8.7"/><circle cx="1067.1" cy="1836.6" r="8.7"/><circle cx="980" cy="1835.8" r="8.7"/><circle cx="984.2" cy="1838.9" r="8.7"/><circle cx="1062.8" cy="1838.2" r="8.7"/><circle cx="978.1" cy="1837.8" r="8.7"/><circle cx="984.8" cy="1844.1" r="8.7"/><circle cx="1064.4" cy="1842.4" r="8.7"/><circle cx="983.4" cy="1846.4" r="8.7"/><circle cx="1061.3" cy="1847.7" r="8.7"/><circle cx="986.5" cy="1851.3" r="8.7"/><circle cx="1060" cy="1850.9" r="8.7"/><circle cx="987" cy="1856.7" r="8.7"/><circle cx="1061.8" cy="1855.1" r="8.7"/><circle cx="984.7" cy="1859.2" r="8.7"/><circle cx="1061.2" cy="1859.7" r="8.7"/><circle cx="987.3" cy="1863.7" r="8.7"/><circle cx="1060.4" cy="1864.3" r="8.7"/><circle cx="983.7" cy="1867.6" r="8.7"/><circle cx="1057.7" cy="1867.7" r="8.7"/><circle cx="988" cy="1870.2" r="8.7"/><circle cx="1056.8" cy="1872.4" r="8.7"/><circle cx="983.6" cy="1872.5" r="8.7"/><circle cx="984.8" cy="1875.9" r="8.7"/><circle cx="1057.9" cy="1876.2" r="8.7"/><circle cx="986.3" cy="1880.3" r="8.7"/><circle cx="1055.2" cy="1880.3" r="8.7"/><circle cx="990.9" cy="1884" r="8.7"/><circle cx="1054.5" cy="1883.6" r="8.7"/><circle cx="991.4" cy="1887.2" r="8.7"/><circle cx="1052" cy="1888" r="8.7"/><circle cx="991.9" cy="1892.7" r="8.7"/><circle cx="1050.5" cy="1891.9" r="8.7"/><circle cx="992.5" cy="1895.3" r="8.7"/><circle cx="1052.4" cy="1894.4" r="8.7"/><circle cx="991.2" cy="1898.5" r="8.7"/><circle cx="1052.7" cy="1899.3" r="8.7"/><circle cx="990.4" cy="1902.9" r="8.7"/><circle cx="1052.3" cy="1904" r="8.7"/><circle cx="1053.1" cy="1903.3" r="8.7"/><circle cx="993.9" cy="1908.7" r="8.7"/><circle cx="1051.8" cy="1906.3" r="8.7"/><circle cx="990.1" cy="1906.5" r="8.7"/><circle cx="994.8" cy="1910.7" r="8.7"/><circle cx="1050.3" cy="1910.9" r="8.7"/><circle cx="988.8" cy="1910.8" r="8.7"/><circle cx="996.9" cy="1915.4" r="8.7"/><circle cx="1048.8" cy="1916.7" r="8.7"/><circle cx="996.9" cy="1920.9" r="8.7"/><circle cx="1046.2" cy="1918.7" r="8.7"/><circle cx="990.3" cy="1920.7" r="8.7"/><circle cx="998.1" cy="1923.6" r="8.7"/><circle cx="1045.7" cy="1925" r="8.7"/><circle cx="996.9" cy="1927.4" r="8.7"/><circle cx="1043.7" cy="1928.4" r="8.7"/><circle cx="998.9" cy="1930.5" r="8.7"/><circle cx="1042.4" cy="1930.8" r="8.7"/><circle cx="1002.8" cy="1937" r="8.7"/><circle cx="1041" cy="1935.6" r="8.7"/><circle cx="996.5" cy="1933.5" r="8.7"/><circle cx="989.1" cy="1707.8" r="8.7"/><circle cx="991.6" cy="1706.1" r="8.7"/><circle cx="996.9" cy="1705.6" r="8.7"/><circle cx="1000.4" cy="1706.7" r="8.7"/><circle cx="1005.4" cy="1707.1" r="8.7"/><circle cx="1003.1" cy="1936.8" r="8.7"/><circle cx="1007" cy="1936.4" r="8.7"/><circle cx="1011.2" cy="1937.4" r="8.7"/><circle cx="1015" cy="1937.1" r="8.7"/><circle cx="1018.5" cy="1936.1" r="8.7"/><circle cx="1021.7" cy="1935.2" r="8.7"/><circle cx="1026" cy="1936.8" r="8.7"/><circle cx="1029.5" cy="1936.8" r="8.7"/><circle cx="1034.3" cy="1935.6" r="8.7"/><circle cx="1038.1" cy="1935.6" r="8.7"/><circle cx="960.4" cy="1803" r="8.7"/><circle cx="958.5" cy="1791.7" r="8.7"/><circle cx="971.8" cy="1776.5" r="8.7"/><circle cx="973.7" cy="1730.9" r="8.7"/><circle cx="937.6" cy="1871.6" r="8.7"/><circle cx="971.8" cy="1843" r="8.7"/><circle cx="1093.5" cy="1803" r="8.7"/><circle cx="1085.9" cy="1814.5" r="8.7"/><circle cx="1087.8" cy="1774.6" r="8.7"/><circle cx="1074.4" cy="1765" r="8.7"/><circle cx="968" cy="1760" r="8.7"/><circle cx="966" cy="1825" r="8.7"/></g>
<path d="M1039.1 1547.3L1039 1550.3L1038.9 1553.3L1038.7 1556.3L1038.6 1559.3L1038.5 1562.3L1038.4 1565.3L1101.6 1565.3L1101.3 1562.3L1101.1 1559.3L1100.8 1556.3L1100.6 1553.3L1100.3 1550.3L1100.1 1547.3ZM1037.8 1591.3L1037.2 1594.3L1036.8 1597.3L1036.3 1600.3L1036.3 1603.3L1036.3 1606.3L1036.3 1609.3L1036.3 1612.3L1036.3 1615.3L1036.3 1618.3L1036 1621.3L1035.6 1624.3L1035.2 1627.3L1034.9 1630.3L1034.5 1633.3L1034.1 1636.3L1033.7 1639.3L1033.3 1642.3L1032.9 1645.3L1032.5 1648.3L1032.2 1651.3L1031.8 1654.3L1031.4 1657.3L1031.1 1660.3L1030.8 1663.3L1030.4 1666.3L1030.1 1669.3L1029.8 1672.3L1029.5 1675.3L1029.2 1678.3L1028.9 1681.3L1028.6 1684.3L1028.3 1687.3L1028 1690.3L1027.7 1693.3L1027.4 1696.3L1026.9 1699.3L1026.4 1702.3L1025.8 1705.3L1025.3 1708.3L1024.8 1711.3L1024.3 1714.3L1023.7 1717.3L1023.2 1720.3L1022.7 1723.3L1022.2 1726.3L1021.6 1729.3L1021.1 1732.3L1020.6 1735.3L1020.2 1738.3L1020.1 1741.3L1019.9 1744.3L1019.8 1747.3L1019.6 1750.3L1019.5 1753.3L1019.3 1756.3L1022.5 1759.3L1026.8 1762.3L1055.1 1762.3L1058.3 1759.3L1061.1 1756.3L1062.7 1753.3L1064.4 1750.3L1066 1747.3L1067.7 1744.3L1069.3 1741.3L1071 1738.3L1071.8 1735.3L1071.9 1732.3L1072.1 1729.3L1072.2 1726.3L1072.4 1723.3L1072.5 1720.3L1072.7 1717.3L1072.8 1714.3L1073 1711.3L1073.1 1708.3L1073.3 1705.3L1073.4 1702.3L1073.6 1699.3L1073.8 1696.3L1074.3 1693.3L1074.7 1690.3L1075.2 1687.3L1075.7 1684.3L1076.1 1681.3L1076.6 1678.3L1077 1675.3L1077.5 1672.3L1078 1669.3L1078.4 1666.3L1078.9 1663.3L1079.3 1660.3L1079.5 1657.3L1078.8 1654.3L1078 1651.3L1077.2 1648.3L1076.4 1645.3L1075.7 1642.3L1074.9 1639.3L1074.1 1636.3L1073.4 1633.3L1072.6 1630.3L1071.8 1627.3L1071.1 1624.3L1070.3 1621.3L1069.6 1618.3L1068.9 1615.3L1068.3 1612.3L1067.7 1609.3L1067 1606.3L1066.4 1603.3L1065.8 1600.3L1063.5 1597.3L1061 1594.3L1058.5 1591.3Z" fill="#E6525C"/><g fill="#E6525C" stroke="#E6525C" fill-opacity=".85" stroke-opacity=".85" stroke-width="1.2"><circle cx="1037.8" cy="1544.2" r="8.7"/><circle cx="1099.5" cy="1545.9" r="8.7"/><circle cx="1037.1" cy="1548.1" r="8.7"/><circle cx="1098.6" cy="1547.7" r="8.7"/><circle cx="1037" cy="1554" r="8.7"/><circle cx="1098.5" cy="1551.6" r="8.7"/><circle cx="1038.6" cy="1556.6" r="8.7"/><circle cx="1101.3" cy="1556" r="8.7"/><circle cx="1037.9" cy="1559.6" r="8.7"/><circle cx="1099.5" cy="1560" r="8.7"/><circle cx="1040" cy="1564" r="8.7"/><circle cx="1099.4" cy="1563.3" r="8.7"/><circle cx="1036" cy="1565.2" r="8.7"/><circle cx="1038.5" cy="1547.5" r="8.7"/><circle cx="1043.8" cy="1548.1" r="8.7"/><circle cx="1046.3" cy="1547" r="8.7"/><circle cx="1050.4" cy="1546.7" r="8.7"/><circle cx="1054.9" cy="1546.5" r="8.7"/><circle cx="1060" cy="1547.6" r="8.7"/><circle cx="1063.1" cy="1548.2" r="8.7"/><circle cx="1067.7" cy="1548.8" r="8.7"/><circle cx="1070.9" cy="1547.3" r="8.7"/><circle cx="1074.9" cy="1546.3" r="8.7"/><circle cx="1078.9" cy="1548.4" r="8.7"/><circle cx="1084.1" cy="1548.7" r="8.7"/><circle cx="1087.4" cy="1548.1" r="8.7"/><circle cx="1090.2" cy="1547.3" r="8.7"/><circle cx="1094.8" cy="1548.3" r="8.7"/><circle cx="1098.3" cy="1547.4" r="8.7"/><circle cx="1038.4" cy="1564.3" r="8.7"/><circle cx="1043" cy="1564.9" r="8.7"/><circle cx="1045.7" cy="1564.4" r="8.7"/><circle cx="1051.2" cy="1565.1" r="8.7"/><circle cx="1054.1" cy="1565.2" r="8.7"/><circle cx="1057.6" cy="1564.6" r="8.7"/><circle cx="1063.3" cy="1565.2" r="8.7"/><circle cx="1066.8" cy="1564.2" r="8.7"/><circle cx="1069.7" cy="1563.9" r="8.7"/><circle cx="1074.6" cy="1566.1" r="8.7"/><circle cx="1077.5" cy="1566" r="8.7"/><circle cx="1082.5" cy="1564.6" r="8.7"/><circle cx="1086" cy="1563.9" r="8.7"/><circle cx="1090.1" cy="1565.3" r="8.7"/><circle cx="1093.6" cy="1563.8" r="8.7"/><circle cx="1097.6" cy="1564" r="8.7"/><circle cx="1038.9" cy="1588.7" r="8.7"/><circle cx="1055.3" cy="1587.8" r="8.7"/><circle cx="1039.6" cy="1592.8" r="8.7"/><circle cx="1060.8" cy="1593.5" r="8.7"/><circle cx="1036.1" cy="1596.7" r="8.7"/><circle cx="1060.6" cy="1595.6" r="8.7"/><circle cx="1064.9" cy="1595.2" r="8.7"/><circle cx="1039.2" cy="1601.8" r="8.7"/><circle cx="1064.5" cy="1599.9" r="8.7"/><circle cx="1036.2" cy="1604.8" r="8.7"/><circle cx="1064.6" cy="1603.1" r="8.7"/><circle cx="1032.4" cy="1603.1" r="8.7"/><circle cx="1037.1" cy="1607.5" r="8.7"/><circle cx="1066.9" cy="1607.8" r="8.7"/><circle cx="1037.5" cy="1611.1" r="8.7"/><circle cx="1067" cy="1611.4" r="8.7"/><circle cx="1036.6" cy="1616.2" r="8.7"/><circle cx="1068.1" cy="1617.1" r="8.7"/><circle cx="1036.5" cy="1622" r="8.7"/><circle cx="1067.9" cy="1621.6" r="8.7"/><circle cx="1036.4" cy="1625.7" r="8.7"/><circle cx="1070.5" cy="1624.6" r="8.7"/><circle cx="1034.7" cy="1627.2" r="8.7"/><circle cx="1070.5" cy="1629.7" r="8.7"/><circle cx="1036.3" cy="1631.9" r="8.7"/><circle cx="1072.2" cy="1631.2" r="8.7"/><circle cx="1030.8" cy="1632.5" r="8.7"/><circle cx="1032.3" cy="1637.1" r="8.7"/><circle cx="1073.6" cy="1635.7" r="8.7"/><circle cx="1032.7" cy="1639.2" r="8.7"/><circle cx="1072.7" cy="1641.9" r="8.7"/><circle cx="1033.1" cy="1645.4" r="8.7"/><circle cx="1077.1" cy="1645.2" r="8.7"/><circle cx="1031" cy="1649.4" r="8.7"/><circle cx="1078.6" cy="1648.6" r="8.7"/><circle cx="1080.2" cy="1647.7" r="8.7"/><circle cx="1031.6" cy="1651.2" r="8.7"/><circle cx="1075.8" cy="1653.5" r="8.7"/><circle cx="1032.4" cy="1655.1" r="8.7"/><circle cx="1081.2" cy="1657.7" r="8.7"/><circle cx="1033.7" cy="1661.9" r="8.7"/><circle cx="1079" cy="1659.6" r="8.7"/><circle cx="1033.1" cy="1663.6" r="8.7"/><circle cx="1076.5" cy="1664.1" r="8.7"/><circle cx="1084.2" cy="1666.5" r="8.7"/><circle cx="1029.2" cy="1668.9" r="8.7"/><circle cx="1079.1" cy="1669.7" r="8.7"/><circle cx="1027.8" cy="1669.4" r="8.7"/><circle cx="1032.3" cy="1673.6" r="8.7"/><circle cx="1075.9" cy="1671.4" r="8.7"/><circle cx="1029.6" cy="1675.2" r="8.7"/><circle cx="1077.7" cy="1675.9" r="8.7"/><circle cx="1079.6" cy="1675.5" r="8.7"/><circle cx="1030.3" cy="1681.4" r="8.7"/><circle cx="1076.4" cy="1681" r="8.7"/><circle cx="1027.7" cy="1683.9" r="8.7"/><circle cx="1073" cy="1685" r="8.7"/><circle cx="1026.6" cy="1690" r="8.7"/><circle cx="1074.8" cy="1688.6" r="8.7"/><circle cx="1079.4" cy="1687.6" r="8.7"/><circle cx="1027" cy="1693.4" r="8.7"/><circle cx="1076" cy="1691.9" r="8.7"/><circle cx="1026.7" cy="1696.7" r="8.7"/><circle cx="1074.8" cy="1697.7" r="8.7"/><circle cx="1077.6" cy="1697.5" r="8.7"/><circle cx="1026.6" cy="1701.8" r="8.7"/><circle cx="1073" cy="1699.5" r="8.7"/><circle cx="1025.8" cy="1705" r="8.7"/><circle cx="1071.4" cy="1704.6" r="8.7"/><circle cx="1026.7" cy="1708.6" r="8.7"/><circle cx="1070.4" cy="1707.5" r="8.7"/><circle cx="1077.6" cy="1707.5" r="8.7"/><circle cx="1024.8" cy="1713.3" r="8.7"/><circle cx="1071" cy="1713.4" r="8.7"/><circle cx="1023" cy="1716.8" r="8.7"/><circle cx="1072.2" cy="1715.1" r="8.7"/><circle cx="1024" cy="1721.6" r="8.7"/><circle cx="1073.6" cy="1719.5" r="8.7"/><circle cx="1019.2" cy="1720.2" r="8.7"/><circle cx="1021.8" cy="1725.4" r="8.7"/><circle cx="1074" cy="1725.7" r="8.7"/><circle cx="1023.7" cy="1727.7" r="8.7"/><circle cx="1073.4" cy="1727.9" r="8.7"/><circle cx="1018.5" cy="1729" r="8.7"/><circle cx="1020.4" cy="1732.8" r="8.7"/><circle cx="1073.5" cy="1733.5" r="8.7"/><circle cx="1018.1" cy="1731.1" r="8.7"/><circle cx="1022.5" cy="1737.4" r="8.7"/><circle cx="1073.4" cy="1736.2" r="8.7"/><circle cx="1077.6" cy="1734.7" r="8.7"/><circle cx="1020.6" cy="1741.3" r="8.7"/><circle cx="1066.8" cy="1739.4" r="8.7"/><circle cx="1018.1" cy="1743.7" r="8.7"/><circle cx="1065.1" cy="1743.4" r="8.7"/><circle cx="1019.8" cy="1747.2" r="8.7"/><circle cx="1067.2" cy="1750" r="8.7"/><circle cx="1018.7" cy="1751.8" r="8.7"/><circle cx="1062.4" cy="1751.7" r="8.7"/><circle cx="1019.1" cy="1756" r="8.7"/><circle cx="1058.1" cy="1756.8" r="8.7"/><circle cx="1015.7" cy="1757.1" r="8.7"/><circle cx="1064.3" cy="1757.3" r="8.7"/><circle cx="1026.6" cy="1760.8" r="8.7"/><circle cx="1054.6" cy="1760.4" r="8.7"/><circle cx="1029.8" cy="1765.4" r="8.7"/><circle cx="1053.7" cy="1764.1" r="8.7"/><circle cx="1025.7" cy="1763.2" r="8.7"/><circle cx="1055.6" cy="1764.4" r="8.7"/><circle cx="1037.4" cy="1591.6" r="8.7"/><circle cx="1042.7" cy="1592.3" r="8.7"/><circle cx="1046.5" cy="1590.9" r="8.7"/><circle cx="1049.5" cy="1590.5" r="8.7"/><circle cx="1054.1" cy="1591.4" r="8.7"/><circle cx="1057.3" cy="1590.4" r="8.7"/><circle cx="1029.5" cy="1764.9" r="8.7"/><circle cx="1034" cy="1762.9" r="8.7"/><circle cx="1038.6" cy="1764.9" r="8.7"/><circle cx="1041.9" cy="1765.2" r="8.7"/><circle cx="1047" cy="1764.6" r="8.7"/><circle cx="1050.7" cy="1763.5" r="8.7"/><circle cx="1099" cy="1673.8" r="8.7"/><circle cx="1098" cy="1694.5" r="8.7"/><circle cx="1091.2" cy="1717" r="8.7"/><circle cx="1093.2" cy="1760.4" r="8.7"/><circle cx="1081.4" cy="1736.8" r="8.7"/><circle cx="1083.3" cy="1652.2" r="8.7"/><circle cx="1074.4" cy="1586.4" r="8.7"/><circle cx="1085.9" cy="1584.5" r="8.7"/><circle cx="1043" cy="1766" r="8.7"/><circle cx="1025" cy="1752" r="8.7"/><circle cx="1066" cy="1758" r="8.7"/><circle cx="1103" cy="1684" r="8.7"/><circle cx="1068" cy="1590" r="8.7"/><circle cx="1072" cy="1600" r="8.7"/></g>
<g fill="#4762B6" stroke="#4762B6" fill-opacity=".85" stroke-opacity=".85" stroke-width="1.2"><circle cx="918.6" cy="1565.5" r="8.7"/><circle cx="939.5" cy="1547.6" r="8.7"/><circle cx="933.8" cy="1557.9" r="8.7"/><circle cx="947.1" cy="1562.4" r="8.7"/><circle cx="952.8" cy="1550.3" r="8.7"/><circle cx="964.2" cy="1548.4" r="8.7"/><circle cx="968.7" cy="1545.7" r="8.7"/><circle cx="973.7" cy="1554.1" r="8.7"/><circle cx="977.5" cy="1563.6" r="8.7"/><circle cx="985.1" cy="1546.5" r="8.7"/><circle cx="987.8" cy="1554.1" r="8.7"/><circle cx="992.7" cy="1552.2" r="8.7"/><circle cx="988.9" cy="1565.5" r="8.7"/><circle cx="998.4" cy="1553.3" r="8.7"/><circle cx="1019.3" cy="1553.3" r="8.7"/><circle cx="994.6" cy="1590.2" r="8.7"/><circle cx="975.6" cy="1614.9" r="8.7"/><circle cx="985.1" cy="1611.1" r="8.7"/><circle cx="991.6" cy="1618.7" r="8.7"/><circle cx="1007.9" cy="1618" r="8.7"/><circle cx="981.3" cy="1626.3" r="8.7"/><circle cx="990.8" cy="1637.7" r="8.7"/><circle cx="994.6" cy="1649.1" r="8.7"/><circle cx="979.4" cy="1660.5" r="8.7"/><circle cx="990.8" cy="1660.5" r="8.7"/><circle cx="1009.8" cy="1651" r="8.7"/><circle cx="1011.7" cy="1660.5" r="8.7"/><circle cx="1002.2" cy="1668.1" r="8.7"/><circle cx="992.7" cy="1675.7" r="8.7"/><circle cx="987" cy="1685.2" r="8.7"/><circle cx="1002.2" cy="1687.1" r="8.7"/><circle cx="1009.8" cy="1692.8" r="8.7"/><circle cx="998.4" cy="1694.8" r="8.7"/><circle cx="985" cy="1645" r="8.7"/><circle cx="1000" cy="1640" r="8.7"/><circle cx="983" cy="1670" r="8.7"/><circle cx="1005" cy="1678" r="8.7"/><circle cx="944" cy="1555" r="8.7"/><circle cx="958" cy="1558" r="8.7"/><circle cx="975" cy="1547" r="8.7"/><circle cx="960" cy="1565" r="8.7"/></g>
<text x="865.3" y="1556.8" font-size="20.5" fill="#4A64B4">EGFR</text>
<text x="860.4" y="1593.7" font-size="20.5" fill="#4A64B4">ERBB2</text>
<text x="1114.4" y="1550.7" font-size="20.5" fill="#DD5560">SMARCB1</text>
<text x="1098" y="1594.8" font-size="20.5" fill="#DD5560">PPP2R4</text>
<path d="M1373.9 1527V1956.6H1915.4" fill="none" stroke="#000" stroke-width="2"/>
<text x="1361.4" y="1934" font-size="20.2" text-anchor="end" fill="#4D4D4D">0</text>
<text x="1361.4" y="1820.9" font-size="20.2" text-anchor="end" fill="#4D4D4D">2</text>
<text x="1361.4" y="1707.8" font-size="20.2" text-anchor="end" fill="#4D4D4D">4</text>
<text x="1361.4" y="1594.7" font-size="20.2" text-anchor="end" fill="#4D4D4D">6</text>
<text x="1505.4" y="1984.5" font-size="20.2" text-anchor="middle" fill="#4D4D4D">-3</text>
<text x="1644.8" y="1984.5" font-size="20.2" text-anchor="middle" fill="#4D4D4D">0</text>
<text x="1784.7" y="1984.5" font-size="20.2" text-anchor="middle" fill="#4D4D4D">3</text>
<path d="M1367.4 1926.8H1373.9M1367.4 1813.7H1373.9M1367.4 1700.6H1373.9M1367.4 1587.5H1373.9M1505.4 1956.6V1963.1M1644.8 1956.6V1963.1M1784.7 1956.6V1963.1" stroke="#333" stroke-width="1.7"/>
<text x="1374.2" y="1505.9" font-size="32.4" fill="#000">HT-29: dabrafenib vs DMSO - day21</text>
<text x="1644.8" y="2015.5" font-size="27" text-anchor="middle" fill="#000">Log2 fold change</text>
<text transform="translate(1336.1 1742.4) rotate(-90)" font-size="27" text-anchor="middle">-Log10 (P-value)</text>
<path d="M1608.6 1716.3L1607.1 1719.3L1605.6 1722.3L1604.1 1725.3L1602.6 1728.3L1601.2 1731.3L1600.7 1734.3L1600.1 1737.3L1599.5 1740.3L1598.9 1743.3L1598.3 1746.3L1597.8 1749.3L1597.2 1752.3L1596.6 1755.3L1596 1758.3L1595.4 1761.3L1595.3 1764.3L1595.3 1767.3L1595.3 1770.3L1595.3 1773.3L1595.3 1776.3L1595.3 1779.3L1595.3 1782.3L1595.3 1785.3L1595.3 1788.3L1595.3 1791.3L1595.4 1794.3L1595.6 1797.3L1595.7 1800.3L1595.9 1803.3L1596 1806.3L1596.2 1809.3L1596.3 1812.3L1596.5 1815.3L1596.6 1818.3L1596.8 1821.3L1596.9 1824.3L1597.1 1827.3L1597.2 1830.3L1597.6 1833.3L1598.4 1836.3L1599.1 1839.3L1599.9 1842.3L1600.6 1845.3L1601.4 1848.3L1602.1 1851.3L1602.9 1854.3L1603.6 1857.3L1604.4 1860.3L1605.1 1863.3L1605.9 1866.3L1606.6 1869.3L1607.4 1872.3L1607.9 1875.3L1608.5 1878.3L1609.1 1881.3L1609.7 1884.3L1610.3 1887.3L1610.9 1890.3L1611.5 1893.3L1612 1896.3L1612.6 1899.3L1613.2 1902.3L1613.8 1905.3L1614.4 1908.3L1615 1911.3L1615.9 1914.3L1617.3 1917.3L1618.6 1920.3L1620 1923.3L1621.3 1926.3L1622.7 1929.3L1624.1 1932.3L1625.6 1935.3L1664.5 1935.3L1665.6 1932.3L1666.5 1929.3L1667.5 1926.3L1668.4 1923.3L1669.4 1920.3L1670.3 1917.3L1671.3 1914.3L1672.2 1911.3L1673.1 1908.3L1674 1905.3L1674.8 1902.3L1675.7 1899.3L1676.6 1896.3L1677.5 1893.3L1678.3 1890.3L1679.2 1887.3L1680.1 1884.3L1681 1881.3L1681.9 1878.3L1682.7 1875.3L1683.6 1872.3L1684 1869.3L1684.3 1866.3L1684.6 1863.3L1684.9 1860.3L1685.2 1857.3L1685.5 1854.3L1685.8 1851.3L1686.1 1848.3L1686.4 1845.3L1686.7 1842.3L1687 1839.3L1687.3 1836.3L1687.6 1833.3L1687.9 1830.3L1688.2 1827.3L1688.5 1824.3L1688.8 1821.3L1689.1 1818.3L1689.4 1815.3L1689.7 1812.3L1690 1809.3L1690.3 1806.3L1690.6 1803.3L1690.9 1800.3L1691.2 1797.3L1691.5 1794.3L1691.6 1791.3L1691.3 1788.3L1691 1785.3L1690.7 1782.3L1690.4 1779.3L1690.1 1776.3L1689.8 1773.3L1689.5 1770.3L1689.2 1767.3L1688.9 1764.3L1687.8 1761.3L1684.2 1758.3L1680.5 1755.3L1676.8 1752.3L1673.1 1749.3L1669.5 1746.3L1665.8 1743.3L1662.1 1740.3L1658.4 1737.3L1654.7 1734.3L1651.1 1731.3L1649 1728.3L1647.1 1725.3L1645.3 1722.3L1643.4 1719.3L1641.5 1716.3Z" fill="#5F5F5F"/><g fill="#5F5F5F" stroke="#5F5F5F" fill-opacity=".85" stroke-opacity=".85" stroke-width="1.2"><circle cx="1613.7" cy="1712.1" r="8.7"/><circle cx="1639.2" cy="1713.2" r="8.7"/><circle cx="1605.6" cy="1712.8" r="8.7"/><circle cx="1608.6" cy="1716.2" r="8.7"/><circle cx="1642.3" cy="1716.7" r="8.7"/><circle cx="1605.4" cy="1717.9" r="8.7"/><circle cx="1645.5" cy="1717.2" r="8.7"/><circle cx="1606.8" cy="1720.4" r="8.7"/><circle cx="1643.2" cy="1720.8" r="8.7"/><circle cx="1602.8" cy="1724.6" r="8.7"/><circle cx="1647.9" cy="1726.1" r="8.7"/><circle cx="1604.4" cy="1728.7" r="8.7"/><circle cx="1650.3" cy="1729" r="8.7"/><circle cx="1599.9" cy="1727.6" r="8.7"/><circle cx="1601.6" cy="1734.4" r="8.7"/><circle cx="1650.9" cy="1732.9" r="8.7"/><circle cx="1599.1" cy="1738.1" r="8.7"/><circle cx="1657.3" cy="1738.9" r="8.7"/><circle cx="1600.4" cy="1740.3" r="8.7"/><circle cx="1663.4" cy="1741.2" r="8.7"/><circle cx="1595.7" cy="1740.8" r="8.7"/><circle cx="1597.9" cy="1744.5" r="8.7"/><circle cx="1668.5" cy="1745.4" r="8.7"/><circle cx="1593.8" cy="1744.5" r="8.7"/><circle cx="1671.9" cy="1745.2" r="8.7"/><circle cx="1596.5" cy="1749.8" r="8.7"/><circle cx="1671.9" cy="1749.7" r="8.7"/><circle cx="1677" cy="1749" r="8.7"/><circle cx="1595.3" cy="1753.2" r="8.7"/><circle cx="1680" cy="1753.5" r="8.7"/><circle cx="1595.8" cy="1756.8" r="8.7"/><circle cx="1685.1" cy="1757.1" r="8.7"/><circle cx="1594.7" cy="1762" r="8.7"/><circle cx="1689.2" cy="1761.4" r="8.7"/><circle cx="1595.1" cy="1765.7" r="8.7"/><circle cx="1686.3" cy="1766.3" r="8.7"/><circle cx="1595.4" cy="1769.3" r="8.7"/><circle cx="1690.1" cy="1770.5" r="8.7"/><circle cx="1597.8" cy="1772.1" r="8.7"/><circle cx="1691.2" cy="1773.5" r="8.7"/><circle cx="1598.2" cy="1776.5" r="8.7"/><circle cx="1691.3" cy="1776.7" r="8.7"/><circle cx="1593.3" cy="1781.6" r="8.7"/><circle cx="1690.7" cy="1780.7" r="8.7"/><circle cx="1596" cy="1785.9" r="8.7"/><circle cx="1690.2" cy="1786.5" r="8.7"/><circle cx="1595" cy="1790.7" r="8.7"/><circle cx="1691.9" cy="1790.2" r="8.7"/><circle cx="1598.2" cy="1794.5" r="8.7"/><circle cx="1692.8" cy="1793.9" r="8.7"/><circle cx="1595.4" cy="1796.9" r="8.7"/><circle cx="1689.4" cy="1797.6" r="8.7"/><circle cx="1595.4" cy="1800.5" r="8.7"/><circle cx="1690.2" cy="1800.4" r="8.7"/><circle cx="1593.5" cy="1799.9" r="8.7"/><circle cx="1594.5" cy="1805.4" r="8.7"/><circle cx="1688.5" cy="1805.5" r="8.7"/><circle cx="1590.5" cy="1807" r="8.7"/><circle cx="1693.4" cy="1805.5" r="8.7"/><circle cx="1598.2" cy="1809.2" r="8.7"/><circle cx="1688.4" cy="1808.8" r="8.7"/><circle cx="1596" cy="1814.3" r="8.7"/><circle cx="1687.3" cy="1814.5" r="8.7"/><circle cx="1598.1" cy="1817.9" r="8.7"/><circle cx="1687" cy="1818.4" r="8.7"/><circle cx="1593.1" cy="1818.2" r="8.7"/><circle cx="1595.7" cy="1820.1" r="8.7"/><circle cx="1687.8" cy="1822.8" r="8.7"/><circle cx="1693.5" cy="1821.2" r="8.7"/><circle cx="1598.1" cy="1825.2" r="8.7"/><circle cx="1685.7" cy="1827" r="8.7"/><circle cx="1592.1" cy="1824" r="8.7"/><circle cx="1691.5" cy="1826.4" r="8.7"/><circle cx="1600.1" cy="1828.4" r="8.7"/><circle cx="1688.3" cy="1828.1" r="8.7"/><circle cx="1597.5" cy="1832.9" r="8.7"/><circle cx="1685.5" cy="1834.5" r="8.7"/><circle cx="1599.8" cy="1838.3" r="8.7"/><circle cx="1684.2" cy="1837.2" r="8.7"/><circle cx="1601.7" cy="1840.5" r="8.7"/><circle cx="1687.9" cy="1840.3" r="8.7"/><circle cx="1601.1" cy="1844.4" r="8.7"/><circle cx="1686.7" cy="1844.1" r="8.7"/><circle cx="1690.9" cy="1844.6" r="8.7"/><circle cx="1600.8" cy="1849.5" r="8.7"/><circle cx="1686.1" cy="1848.8" r="8.7"/><circle cx="1599.4" cy="1851.1" r="8.7"/><circle cx="1601.1" cy="1852.6" r="8.7"/><circle cx="1685.1" cy="1855" r="8.7"/><circle cx="1597.2" cy="1853.4" r="8.7"/><circle cx="1605.7" cy="1857.2" r="8.7"/><circle cx="1686.9" cy="1857.7" r="8.7"/><circle cx="1604.1" cy="1862.8" r="8.7"/><circle cx="1682.4" cy="1863" r="8.7"/><circle cx="1607.3" cy="1864.5" r="8.7"/><circle cx="1686.2" cy="1864.5" r="8.7"/><circle cx="1603.4" cy="1864.9" r="8.7"/><circle cx="1606.2" cy="1869.6" r="8.7"/><circle cx="1685.9" cy="1868.6" r="8.7"/><circle cx="1688.1" cy="1870.8" r="8.7"/><circle cx="1609.6" cy="1874.2" r="8.7"/><circle cx="1683.3" cy="1874.4" r="8.7"/><circle cx="1611.3" cy="1876.3" r="8.7"/><circle cx="1679.3" cy="1877.2" r="8.7"/><circle cx="1611.7" cy="1880.1" r="8.7"/><circle cx="1680" cy="1880.7" r="8.7"/><circle cx="1611.2" cy="1886.4" r="8.7"/><circle cx="1679.9" cy="1885.9" r="8.7"/><circle cx="1613.2" cy="1889" r="8.7"/><circle cx="1680.1" cy="1889" r="8.7"/><circle cx="1683.5" cy="1889.7" r="8.7"/><circle cx="1612.9" cy="1892.5" r="8.7"/><circle cx="1678.9" cy="1892.4" r="8.7"/><circle cx="1610.3" cy="1897.5" r="8.7"/><circle cx="1676.2" cy="1897" r="8.7"/><circle cx="1612.1" cy="1902.7" r="8.7"/><circle cx="1675.5" cy="1902.3" r="8.7"/><circle cx="1607.1" cy="1901.2" r="8.7"/><circle cx="1612.9" cy="1905.2" r="8.7"/><circle cx="1672.4" cy="1904.5" r="8.7"/><circle cx="1617.4" cy="1909" r="8.7"/><circle cx="1673.8" cy="1909.1" r="8.7"/><circle cx="1677.3" cy="1909" r="8.7"/><circle cx="1616.8" cy="1912.6" r="8.7"/><circle cx="1670.5" cy="1914.7" r="8.7"/><circle cx="1617.9" cy="1917.7" r="8.7"/><circle cx="1671.7" cy="1918.5" r="8.7"/><circle cx="1620.5" cy="1921.3" r="8.7"/><circle cx="1669.1" cy="1920.7" r="8.7"/><circle cx="1621.6" cy="1924.1" r="8.7"/><circle cx="1666.6" cy="1925.4" r="8.7"/><circle cx="1625.5" cy="1928.5" r="8.7"/><circle cx="1666.1" cy="1931" r="8.7"/><circle cx="1626.3" cy="1935" r="8.7"/><circle cx="1665.2" cy="1934.6" r="8.7"/><circle cx="1618.7" cy="1933.5" r="8.7"/><circle cx="1630.3" cy="1938" r="8.7"/><circle cx="1660.8" cy="1938.5" r="8.7"/><circle cx="1609.6" cy="1715.5" r="8.7"/><circle cx="1613.4" cy="1717.4" r="8.7"/><circle cx="1616.2" cy="1717.7" r="8.7"/><circle cx="1620.6" cy="1716.9" r="8.7"/><circle cx="1625.4" cy="1715.9" r="8.7"/><circle cx="1628.2" cy="1717.2" r="8.7"/><circle cx="1631.8" cy="1717" r="8.7"/><circle cx="1637.2" cy="1716.8" r="8.7"/><circle cx="1640.1" cy="1717.7" r="8.7"/><circle cx="1626.8" cy="1934.4" r="8.7"/><circle cx="1630.2" cy="1934" r="8.7"/><circle cx="1634.7" cy="1936.2" r="8.7"/><circle cx="1637.8" cy="1936.4" r="8.7"/><circle cx="1641.1" cy="1935.7" r="8.7"/><circle cx="1646.8" cy="1934.2" r="8.7"/><circle cx="1649.3" cy="1936.2" r="8.7"/><circle cx="1653.8" cy="1934.2" r="8.7"/><circle cx="1658.3" cy="1934" r="8.7"/><circle cx="1661.2" cy="1933.7" r="8.7"/><circle cx="1564.2" cy="1723.4" r="8.7"/><circle cx="1591.4" cy="1884.5" r="8.7"/><circle cx="1573.2" cy="1844.3" r="8.7"/><circle cx="1580.3" cy="1759.7" r="8.7"/><circle cx="1586.3" cy="1818" r="8.7"/><circle cx="1705.2" cy="1779.8" r="8.7"/><circle cx="1703.2" cy="1808" r="8.7"/><circle cx="1701.2" cy="1852.3" r="8.7"/><circle cx="1644.8" cy="1711.3" r="8.7"/><circle cx="1598" cy="1720" r="8.7"/><circle cx="1590" cy="1800" r="8.7"/></g>
<path d="M1663.3 1546.3L1663.3 1549.3L1663.3 1552.3L1663.3 1555.3L1663.3 1558.3L1663.3 1561.3L1663.3 1564.3L1746.4 1564.3L1746.2 1561.3L1745.9 1558.3L1745.7 1555.3L1745.4 1552.3L1745.2 1549.3L1745 1546.3ZM1677.5 1583.3L1675.6 1586.3L1673.7 1589.3L1672.1 1592.3L1670.5 1595.3L1669 1598.3L1667.4 1601.3L1665.8 1604.3L1664.2 1607.3L1662.7 1610.3L1662.1 1613.3L1661.8 1616.3L1661.5 1619.3L1661.2 1622.3L1660.9 1625.3L1660.6 1628.3L1660.3 1631.3L1660 1634.3L1659.7 1637.3L1659.4 1640.3L1659.1 1643.3L1658.8 1646.3L1658.5 1649.3L1658.1 1652.3L1657.5 1655.3L1657 1658.3L1656.5 1661.3L1656 1664.3L1655.4 1667.3L1654.9 1670.3L1654.4 1673.3L1653.9 1676.3L1653.3 1679.3L1652.8 1682.3L1652.3 1685.3L1651.8 1688.3L1651.3 1691.3L1651.3 1694.3L1651.3 1697.3L1651.3 1700.3L1651.3 1703.3L1651.3 1706.3L1651.3 1709.3L1651.3 1712.3L1651.3 1715.3L1651.3 1718.3L1651.3 1721.3L1651.3 1724.3L1651.3 1727.3L1651.3 1730.3L1651 1733.3L1650.5 1736.3L1650.1 1739.3L1649.7 1742.3L1649.3 1745.3L1648.8 1748.3L1648.4 1751.3L1651 1754.3L1699.9 1754.3L1703.5 1751.3L1702.6 1748.3L1701.8 1745.3L1700.9 1742.3L1700.1 1739.3L1699.2 1736.3L1698.4 1733.3L1697.7 1730.3L1697.9 1727.3L1698 1724.3L1698.2 1721.3L1698.3 1718.3L1698.5 1715.3L1698.6 1712.3L1698.8 1709.3L1698.9 1706.3L1699.1 1703.3L1699.2 1700.3L1699.4 1697.3L1699.5 1694.3L1699.7 1691.3L1700.5 1688.3L1701.4 1685.3L1702.3 1682.3L1703.2 1679.3L1704.1 1676.3L1705 1673.3L1705.9 1670.3L1706.8 1667.3L1707.7 1664.3L1708.6 1661.3L1709.5 1658.3L1710.4 1655.3L1711.3 1652.3L1711.7 1649.3L1711.7 1646.3L1711.7 1643.3L1711.7 1640.3L1711.7 1637.3L1711.7 1634.3L1711.7 1631.3L1711.7 1628.3L1711.7 1625.3L1711.7 1622.3L1711.7 1619.3L1711.7 1616.3L1711.7 1613.3L1711.5 1610.3L1710.8 1607.3L1710.1 1604.3L1709.4 1601.3L1708.7 1598.3L1708 1595.3L1707.2 1592.3L1706.5 1589.3L1705.8 1586.3L1705 1583.3Z" fill="#E6525C"/><g fill="#E6525C" stroke="#E6525C" fill-opacity=".85" stroke-opacity=".85" stroke-width="1.2"><circle cx="1662.3" cy="1543.9" r="8.7"/><circle cx="1742.4" cy="1544.2" r="8.7"/><circle cx="1658.6" cy="1543.2" r="8.7"/><circle cx="1748.1" cy="1542.8" r="8.7"/><circle cx="1664.4" cy="1546.8" r="8.7"/><circle cx="1744" cy="1548.1" r="8.7"/><circle cx="1660.8" cy="1548.3" r="8.7"/><circle cx="1661.9" cy="1550.4" r="8.7"/><circle cx="1742.7" cy="1551.8" r="8.7"/><circle cx="1751.4" cy="1552.3" r="8.7"/><circle cx="1665" cy="1555.1" r="8.7"/><circle cx="1746.1" cy="1555.2" r="8.7"/><circle cx="1658.8" cy="1555.2" r="8.7"/><circle cx="1663.3" cy="1559.4" r="8.7"/><circle cx="1745.5" cy="1560.8" r="8.7"/><circle cx="1662.5" cy="1563.7" r="8.7"/><circle cx="1746.9" cy="1564.6" r="8.7"/><circle cx="1664.7" cy="1567.4" r="8.7"/><circle cx="1744" cy="1567.2" r="8.7"/><circle cx="1663.2" cy="1545.5" r="8.7"/><circle cx="1667.1" cy="1546.1" r="8.7"/><circle cx="1671.2" cy="1548.2" r="8.7"/><circle cx="1674.9" cy="1547.4" r="8.7"/><circle cx="1679.6" cy="1546" r="8.7"/><circle cx="1683.1" cy="1545.7" r="8.7"/><circle cx="1688.1" cy="1546.1" r="8.7"/><circle cx="1691.1" cy="1546.3" r="8.7"/><circle cx="1695.9" cy="1547.9" r="8.7"/><circle cx="1699.5" cy="1546.9" r="8.7"/><circle cx="1702.5" cy="1548" r="8.7"/><circle cx="1706.5" cy="1546.4" r="8.7"/><circle cx="1711" cy="1547.5" r="8.7"/><circle cx="1715.6" cy="1546.3" r="8.7"/><circle cx="1720.1" cy="1548.1" r="8.7"/><circle cx="1722.3" cy="1547.2" r="8.7"/><circle cx="1727.2" cy="1546.4" r="8.7"/><circle cx="1731.2" cy="1546.2" r="8.7"/><circle cx="1735.6" cy="1547.1" r="8.7"/><circle cx="1740.2" cy="1548.2" r="8.7"/><circle cx="1744.3" cy="1546.5" r="8.7"/><circle cx="1664" cy="1565.8" r="8.7"/><circle cx="1667.7" cy="1564.7" r="8.7"/><circle cx="1670.4" cy="1566.3" r="8.7"/><circle cx="1675.1" cy="1565.7" r="8.7"/><circle cx="1678.7" cy="1564.7" r="8.7"/><circle cx="1682.7" cy="1566.6" r="8.7"/><circle cx="1686.6" cy="1566.5" r="8.7"/><circle cx="1691.8" cy="1567.4" r="8.7"/><circle cx="1694.6" cy="1565.8" r="8.7"/><circle cx="1699.5" cy="1565.5" r="8.7"/><circle cx="1702.8" cy="1565.3" r="8.7"/><circle cx="1707.8" cy="1565.4" r="8.7"/><circle cx="1710.5" cy="1566.3" r="8.7"/><circle cx="1714.3" cy="1565.1" r="8.7"/><circle cx="1720.2" cy="1565" r="8.7"/><circle cx="1722.3" cy="1566.6" r="8.7"/><circle cx="1727.4" cy="1566.1" r="8.7"/><circle cx="1730.5" cy="1565.3" r="8.7"/><circle cx="1734.9" cy="1566.2" r="8.7"/><circle cx="1738.5" cy="1566" r="8.7"/><circle cx="1742.6" cy="1567.4" r="8.7"/><circle cx="1679.8" cy="1579.9" r="8.7"/><circle cx="1702.4" cy="1579.8" r="8.7"/><circle cx="1707.2" cy="1580.3" r="8.7"/><circle cx="1677.5" cy="1584.4" r="8.7"/><circle cx="1703.1" cy="1583.3" r="8.7"/><circle cx="1711.2" cy="1584.6" r="8.7"/><circle cx="1674.3" cy="1588.8" r="8.7"/><circle cx="1704" cy="1589.9" r="8.7"/><circle cx="1708.9" cy="1589.8" r="8.7"/><circle cx="1673.7" cy="1593.1" r="8.7"/><circle cx="1708.5" cy="1592.6" r="8.7"/><circle cx="1669.5" cy="1591.7" r="8.7"/><circle cx="1671.1" cy="1597.6" r="8.7"/><circle cx="1710" cy="1596.3" r="8.7"/><circle cx="1666.8" cy="1595" r="8.7"/><circle cx="1667.4" cy="1600.5" r="8.7"/><circle cx="1707.9" cy="1601.7" r="8.7"/><circle cx="1666.2" cy="1605.7" r="8.7"/><circle cx="1710.2" cy="1603.9" r="8.7"/><circle cx="1663.4" cy="1608.3" r="8.7"/><circle cx="1710.7" cy="1608.1" r="8.7"/><circle cx="1660.4" cy="1613.5" r="8.7"/><circle cx="1713.4" cy="1612.6" r="8.7"/><circle cx="1660.9" cy="1615.3" r="8.7"/><circle cx="1711.8" cy="1616" r="8.7"/><circle cx="1663.1" cy="1620.5" r="8.7"/><circle cx="1713.7" cy="1620.2" r="8.7"/><circle cx="1716.1" cy="1622.4" r="8.7"/><circle cx="1660.8" cy="1624.8" r="8.7"/><circle cx="1711.9" cy="1623.9" r="8.7"/><circle cx="1660.1" cy="1628.5" r="8.7"/><circle cx="1711.1" cy="1629.3" r="8.7"/><circle cx="1658.2" cy="1627.5" r="8.7"/><circle cx="1662.1" cy="1632.3" r="8.7"/><circle cx="1709.4" cy="1632.2" r="8.7"/><circle cx="1658.2" cy="1638" r="8.7"/><circle cx="1709.5" cy="1636" r="8.7"/><circle cx="1661.3" cy="1640.9" r="8.7"/><circle cx="1713.4" cy="1641.3" r="8.7"/><circle cx="1654.9" cy="1640.7" r="8.7"/><circle cx="1660.1" cy="1643.1" r="8.7"/><circle cx="1709" cy="1645.3" r="8.7"/><circle cx="1716.6" cy="1644.2" r="8.7"/><circle cx="1659.9" cy="1650" r="8.7"/><circle cx="1709.1" cy="1647.2" r="8.7"/><circle cx="1659.8" cy="1652.1" r="8.7"/><circle cx="1711" cy="1652.3" r="8.7"/><circle cx="1654.8" cy="1653.4" r="8.7"/><circle cx="1713.7" cy="1653.8" r="8.7"/><circle cx="1658.7" cy="1656.7" r="8.7"/><circle cx="1711.5" cy="1655.4" r="8.7"/><circle cx="1657.4" cy="1661.8" r="8.7"/><circle cx="1709.8" cy="1660.3" r="8.7"/><circle cx="1654.6" cy="1665.6" r="8.7"/><circle cx="1707.3" cy="1663.1" r="8.7"/><circle cx="1656.6" cy="1669.8" r="8.7"/><circle cx="1706" cy="1669.1" r="8.7"/><circle cx="1653.1" cy="1673.2" r="8.7"/><circle cx="1706.4" cy="1672.8" r="8.7"/><circle cx="1651.2" cy="1671.2" r="8.7"/><circle cx="1654.8" cy="1676.6" r="8.7"/><circle cx="1704.1" cy="1676.7" r="8.7"/><circle cx="1654.1" cy="1680.5" r="8.7"/><circle cx="1699.9" cy="1680" r="8.7"/><circle cx="1651.7" cy="1685.2" r="8.7"/><circle cx="1700.8" cy="1683.8" r="8.7"/><circle cx="1647.1" cy="1684" r="8.7"/><circle cx="1651.9" cy="1688.9" r="8.7"/><circle cx="1699.6" cy="1689.9" r="8.7"/><circle cx="1651.7" cy="1691.7" r="8.7"/><circle cx="1697.9" cy="1691.3" r="8.7"/><circle cx="1649.5" cy="1697.1" r="8.7"/><circle cx="1698.6" cy="1696.7" r="8.7"/><circle cx="1705.2" cy="1697.6" r="8.7"/><circle cx="1653.3" cy="1699.3" r="8.7"/><circle cx="1697.3" cy="1699.7" r="8.7"/><circle cx="1647.2" cy="1700.9" r="8.7"/><circle cx="1704.3" cy="1700.8" r="8.7"/><circle cx="1653.8" cy="1705.8" r="8.7"/><circle cx="1697.6" cy="1704.1" r="8.7"/><circle cx="1650.8" cy="1709.6" r="8.7"/><circle cx="1697.2" cy="1707.8" r="8.7"/><circle cx="1703" cy="1707.5" r="8.7"/><circle cx="1650.8" cy="1711.8" r="8.7"/><circle cx="1700" cy="1712.5" r="8.7"/><circle cx="1650.7" cy="1716.5" r="8.7"/><circle cx="1696.1" cy="1715.5" r="8.7"/><circle cx="1652.3" cy="1720.6" r="8.7"/><circle cx="1696.6" cy="1720.6" r="8.7"/><circle cx="1653.2" cy="1723.8" r="8.7"/><circle cx="1699.8" cy="1725.8" r="8.7"/><circle cx="1650.5" cy="1728.4" r="8.7"/><circle cx="1698" cy="1729.2" r="8.7"/><circle cx="1651.9" cy="1732.1" r="8.7"/><circle cx="1699" cy="1733.9" r="8.7"/><circle cx="1645.3" cy="1733.1" r="8.7"/><circle cx="1703.7" cy="1730.9" r="8.7"/><circle cx="1651.3" cy="1735.4" r="8.7"/><circle cx="1696.3" cy="1735.9" r="8.7"/><circle cx="1703.9" cy="1734.8" r="8.7"/><circle cx="1648.1" cy="1740.7" r="8.7"/><circle cx="1697.5" cy="1741.1" r="8.7"/><circle cx="1650" cy="1743.2" r="8.7"/><circle cx="1700.9" cy="1743.6" r="8.7"/><circle cx="1649.3" cy="1747.6" r="8.7"/><circle cx="1701.2" cy="1748.3" r="8.7"/><circle cx="1706.7" cy="1748.7" r="8.7"/><circle cx="1651.8" cy="1752.7" r="8.7"/><circle cx="1704.2" cy="1751.9" r="8.7"/><circle cx="1656.3" cy="1757.9" r="8.7"/><circle cx="1693.4" cy="1757.8" r="8.7"/><circle cx="1676.5" cy="1583.8" r="8.7"/><circle cx="1681.7" cy="1584.4" r="8.7"/><circle cx="1685.7" cy="1584.1" r="8.7"/><circle cx="1690.4" cy="1582.6" r="8.7"/><circle cx="1693.5" cy="1585.2" r="8.7"/><circle cx="1696.6" cy="1582.6" r="8.7"/><circle cx="1702.2" cy="1585.2" r="8.7"/><circle cx="1650.5" cy="1755.6" r="8.7"/><circle cx="1656.1" cy="1753.6" r="8.7"/><circle cx="1659.5" cy="1754" r="8.7"/><circle cx="1664" cy="1753.3" r="8.7"/><circle cx="1666.5" cy="1755.5" r="8.7"/><circle cx="1672" cy="1752.8" r="8.7"/><circle cx="1676.1" cy="1754.5" r="8.7"/><circle cx="1679.1" cy="1754.7" r="8.7"/><circle cx="1682.5" cy="1753.4" r="8.7"/><circle cx="1687" cy="1753.9" r="8.7"/><circle cx="1691.5" cy="1754.7" r="8.7"/><circle cx="1695.8" cy="1754.3" r="8.7"/><circle cx="1712" cy="1590" r="8.7"/><circle cx="1715" cy="1620" r="8.7"/><circle cx="1718" cy="1660" r="8.7"/><circle cx="1716" cy="1700" r="8.7"/><circle cx="1709" cy="1740" r="8.7"/><circle cx="1704" cy="1585" r="8.7"/><circle cx="1749" cy="1558" r="8.7"/></g>
<path d="M1608.3 1641.3L1607.9 1644.3L1607.6 1647.3L1607.3 1650.3L1607.6 1653.3L1607.9 1656.3L1608.2 1659.3L1608.5 1662.3L1608.8 1665.3L1609.1 1668.3L1609.4 1671.3L1609.7 1674.3L1610 1677.3L1610.3 1680.3L1610.6 1683.3L1610.9 1686.3L1611.2 1689.3L1611.9 1692.3L1612.7 1695.3L1613.5 1698.3L1614.3 1701.3L1615.1 1704.3L1630.7 1704.3L1630.9 1701.3L1631.1 1698.3L1631.3 1695.3L1631.5 1692.3L1631.9 1689.3L1632.6 1686.3L1633.4 1683.3L1634.1 1680.3L1634.9 1677.3L1635.6 1674.3L1636.4 1671.3L1636.4 1668.3L1635.8 1665.3L1635.2 1662.3L1634.6 1659.3L1634 1656.3L1633.4 1653.3L1632.8 1650.3L1630.9 1647.3L1628.9 1644.3L1626.9 1641.3Z" fill="#4762B6"/><g fill="#4762B6" stroke="#4762B6" fill-opacity=".85" stroke-opacity=".85" stroke-width="1.2"><circle cx="1607.7" cy="1639.7" r="8.7"/><circle cx="1626.2" cy="1637.5" r="8.7"/><circle cx="1610.1" cy="1642" r="8.7"/><circle cx="1628.5" cy="1643" r="8.7"/><circle cx="1607" cy="1647.6" r="8.7"/><circle cx="1631.5" cy="1645.7" r="8.7"/><circle cx="1609" cy="1651" r="8.7"/><circle cx="1630.9" cy="1650.6" r="8.7"/><circle cx="1602.3" cy="1649.5" r="8.7"/><circle cx="1636.5" cy="1652.5" r="8.7"/><circle cx="1607.6" cy="1654.1" r="8.7"/><circle cx="1631" cy="1656" r="8.7"/><circle cx="1638.8" cy="1655.6" r="8.7"/><circle cx="1607.8" cy="1659.4" r="8.7"/><circle cx="1634.5" cy="1657.9" r="8.7"/><circle cx="1608.9" cy="1663.5" r="8.7"/><circle cx="1637.1" cy="1662.5" r="8.7"/><circle cx="1640.9" cy="1661.1" r="8.7"/><circle cx="1608" cy="1667.6" r="8.7"/><circle cx="1633.2" cy="1667.8" r="8.7"/><circle cx="1608.1" cy="1671.2" r="8.7"/><circle cx="1633.8" cy="1669.6" r="8.7"/><circle cx="1604.6" cy="1672" r="8.7"/><circle cx="1612.5" cy="1674.4" r="8.7"/><circle cx="1635.7" cy="1673.4" r="8.7"/><circle cx="1608.5" cy="1677.6" r="8.7"/><circle cx="1634.8" cy="1677.2" r="8.7"/><circle cx="1637.1" cy="1678.6" r="8.7"/><circle cx="1611.3" cy="1682.7" r="8.7"/><circle cx="1631.8" cy="1682.6" r="8.7"/><circle cx="1636.5" cy="1680.8" r="8.7"/><circle cx="1610.5" cy="1687.3" r="8.7"/><circle cx="1630" cy="1686.5" r="8.7"/><circle cx="1607.6" cy="1686.8" r="8.7"/><circle cx="1613.4" cy="1691.9" r="8.7"/><circle cx="1631.4" cy="1690.8" r="8.7"/><circle cx="1611.5" cy="1695.8" r="8.7"/><circle cx="1628.5" cy="1693.1" r="8.7"/><circle cx="1611.8" cy="1697.5" r="8.7"/><circle cx="1632.3" cy="1699.2" r="8.7"/><circle cx="1611.5" cy="1697.4" r="8.7"/><circle cx="1615.1" cy="1703" r="8.7"/><circle cx="1630.5" cy="1701.6" r="8.7"/><circle cx="1611.4" cy="1700.7" r="8.7"/><circle cx="1617.2" cy="1706.1" r="8.7"/><circle cx="1629.2" cy="1706.9" r="8.7"/><circle cx="1609" cy="1642" r="8.7"/><circle cx="1612.1" cy="1641.9" r="8.7"/><circle cx="1616.2" cy="1641.3" r="8.7"/><circle cx="1621.1" cy="1641" r="8.7"/><circle cx="1625.1" cy="1642.9" r="8.7"/><circle cx="1617" cy="1707.2" r="8.7"/><circle cx="1620.2" cy="1704.7" r="8.7"/><circle cx="1623.8" cy="1707.2" r="8.7"/><circle cx="1628.7" cy="1707" r="8.7"/><circle cx="1530.1" cy="1548" r="8.7"/><circle cx="1512.5" cy="1567.1" r="8.7"/><circle cx="1537.6" cy="1567.1" r="8.7"/><circle cx="1558.7" cy="1560.5" r="8.7"/><circle cx="1566.2" cy="1551.5" r="8.7"/><circle cx="1573.8" cy="1549.5" r="8.7"/><circle cx="1568.8" cy="1563" r="8.7"/><circle cx="1586.3" cy="1565.6" r="8.7"/><circle cx="1593.9" cy="1551.5" r="8.7"/><circle cx="1601.4" cy="1548" r="8.7"/><circle cx="1596.4" cy="1560.5" r="8.7"/><circle cx="1627.5" cy="1565.6" r="8.7"/><circle cx="1609.5" cy="1594.5" r="8.7"/><circle cx="1634.7" cy="1592.4" r="8.7"/><circle cx="1646.8" cy="1602.5" r="8.7"/><circle cx="1591.4" cy="1610.6" r="8.7"/><circle cx="1583.3" cy="1623.7" r="8.7"/><circle cx="1602.4" cy="1624.7" r="8.7"/><circle cx="1633.7" cy="1620.7" r="8.7"/><circle cx="1644.8" cy="1619.6" r="8.7"/><circle cx="1615.5" cy="1634.8" r="8.7"/><circle cx="1583.3" cy="1686.1" r="8.7"/><circle cx="1580" cy="1556" r="8.7"/><circle cx="1590" cy="1558" r="8.7"/></g>
<path d="M1754.6 1547.2L1829.4 1542.6M1757.2 1563.1L1774.3 1572.6M1748.3 1567.5L1800.9 1606.8M1742 1570L1759.7 1608.1" stroke="#DD5560" stroke-width="1.9" fill="none"/>
<text x="1460.8" y="1550.3" font-size="20.5" fill="#4A64B4">GRB2</text>
<text x="1442" y="1585.3" font-size="20.5" fill="#4A64B4">EGFR</text>
<text x="1518.5" y="1594.5" font-size="20.5" fill="#4A64B4">ERBB2</text>
<text x="1759" y="1550.4" font-size="20.5" fill="#DD5560">ADSS</text>
<text x="1833.2" y="1550.4" font-size="20.5" fill="#DD5560">ADSL</text>
<text x="1779.3" y="1583.4" font-size="20.5" fill="#DD5560">PHLDA2</text>
<text x="1707.7" y="1594.1" font-size="20.5" fill="#DD5560">PPP2R4</text>
<text x="1805.3" y="1615.7" font-size="20.5" fill="#DD5560">SMARCB1</text>
<text x="1743.2" y="1626.5" font-size="20.5" fill="#DD5560">NF1</text>
<circle cx="1965.6" cy="1651.7" r="10.4" fill="#4762B6"/>
<text transform="translate(2005.2 1662.3) scale(1.13 1)" font-size="21.5" fill="#1A1A1A">depleted</text>
<circle cx="1965.6" cy="1700.1" r="10.4" fill="#E6525C"/>
<text transform="translate(2005.2 1710.7) scale(1.13 1)" font-size="21.5" fill="#1A1A1A">enriched</text>
<circle cx="1965.6" cy="1748.5" r="10.4" fill="#5F5F5F"/>
<text transform="translate(2005.2 1759.1) scale(1.13 1)" font-size="21.5" fill="#1A1A1A">not significant</text>
<text x="8" y="1449.9" font-size="47" font-weight="bold" fill="#1E1E1E">c</text>
<text x="5" y="2186.3" font-size="47" font-weight="bold" fill="#1E1E1E">d</text>
<text x="435.8" y="2194.8" font-size="29.5" text-anchor="middle" fill="#1A1A1A">TCGA colorectal adenocarcinoma</text>
<text x="438.5" y="2231.2" font-size="29.5" text-anchor="middle" fill="#1A1A1A">drivers</text>
<rect x="163" y="2262.2" width="557.4" height="53.4" fill="#C1C1C1"/>
<rect x="163" y="2280.2" width="427.1" height="17.5" fill="#3A983F"/>
<rect x="163" y="2262.2" width="7.4" height="53.4" fill="#E5362E"/>
<rect x="163.6" y="2280.2" width="6" height="17.5" fill="#5C8A38"/>
<rect x="163" y="2347" width="557.4" height="53.1" fill="#C1C1C1"/>
<rect x="170.2" y="2364.5" width="5.2" height="18" fill="#3A983F"/>
<rect x="592.3" y="2364.6" width="2.6" height="17.9" fill="#3A983F"/>
<rect x="597.2" y="2364.6" width="113" height="17.9" fill="#3A983F"/>
<rect x="599.8" y="2357.3" width="2.2" height="32.2" fill="#6A3C9E"/>
<text x="141.7" y="2295.7" font-size="23" text-anchor="end" fill="#111">KRAS</text>
<text x="141.7" y="2383" font-size="23" text-anchor="end" fill="#111">BRAF</text>
<text x="735.6" y="2295.7" font-size="23.6" fill="#111">41%</text>
<text x="737.2" y="2381.8" font-size="23.6" fill="#111">12%</text>
<rect x="165.9" y="2447.4" width="10.9" height="37" fill="#C1C1C1"/>
<rect x="165.4" y="2503.3" width="11.4" height="36.8" fill="#C1C1C1"/>
<rect x="165.4" y="2515.9" width="11.4" height="12.1" fill="#3A983F"/>
<rect x="166.1" y="2559" width="11.9" height="37.5" fill="#E5362E"/>
<rect x="164.9" y="2615" width="10.9" height="37" fill="#C1C1C1"/>
<rect x="164.9" y="2621.9" width="10.9" height="22.7" fill="#6A3C9E"/>
<text x="187.2" y="2476" font-size="22.2" fill="#111">No alterations</text>
<text x="187.2" y="2531.6" font-size="22.3" fill="#111">Missense Mutation (putative driver)</text>
<text x="187.7" y="2587.8" font-size="22.3" fill="#111">Amplification</text>
<text x="186" y="2642.9" font-size="22.3" fill="#111">Structural Variant (putative driver)</text>
</svg>
</body></html>
